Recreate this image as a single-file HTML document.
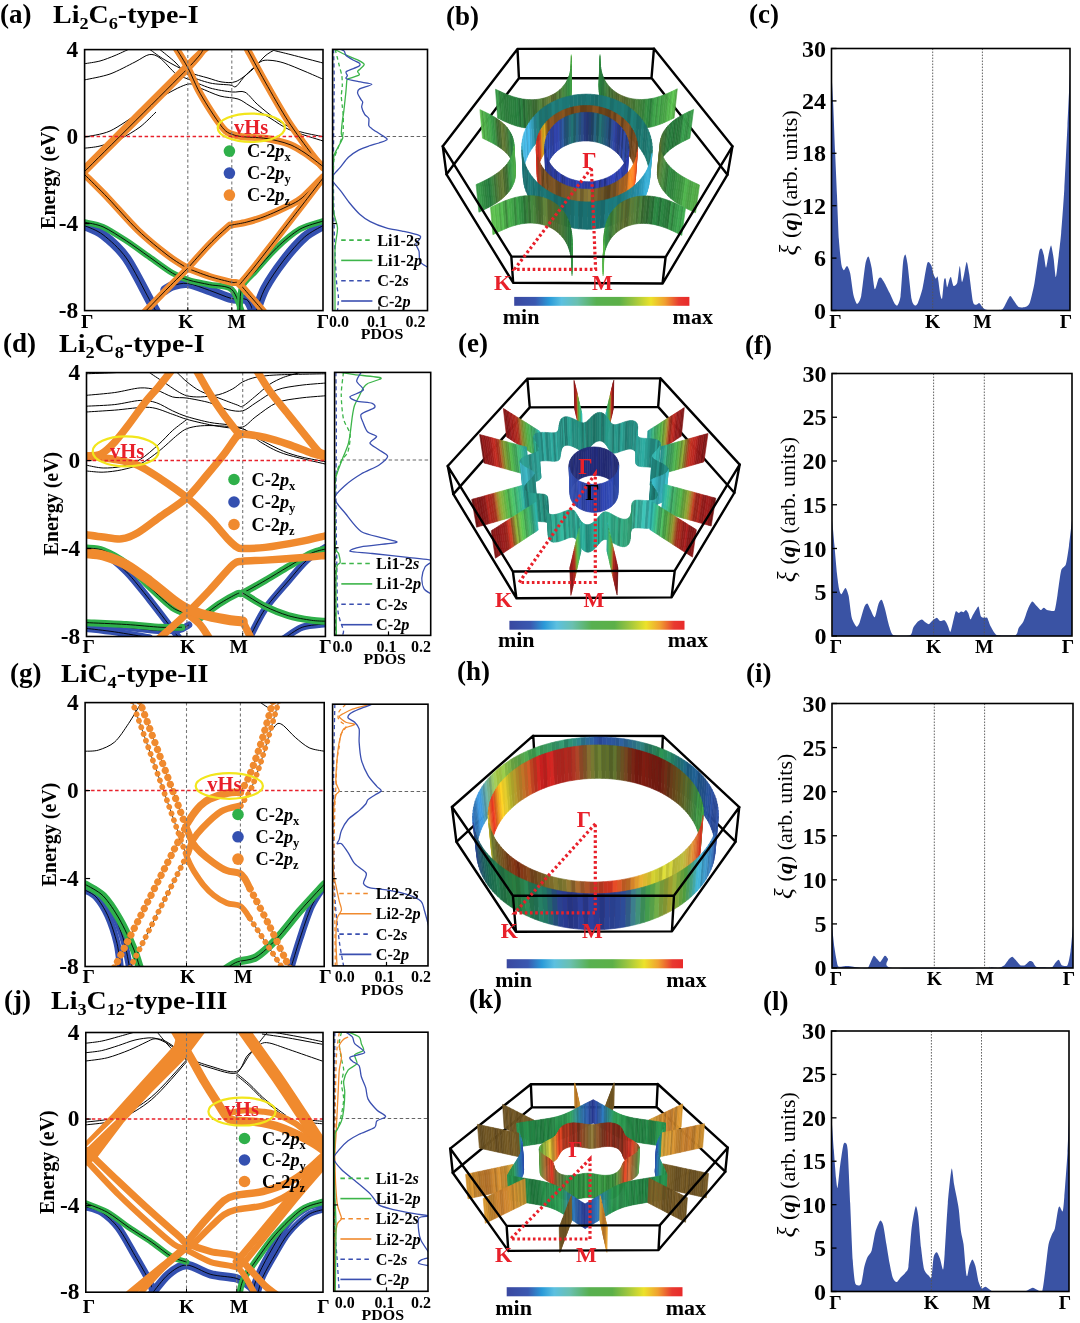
<!DOCTYPE html>
<html><head><meta charset="utf-8"><style>
html,body{margin:0;padding:0;background:#fff;}
svg{display:block;}
text{font-family:'Liberation Serif', 'DejaVu Serif', serif;}
</style></head><body>
<svg width="1080" height="1323" viewBox="0 0 1080 1323">
<rect width="1080" height="1323" fill="#fff"/>
<text x="0" y="23" font-size="27" font-weight="bold" font-style="normal" fill="#000" text-anchor="start" >(a)</text>
<text transform="translate(53,23) scale(1.075,1)" font-size="26" font-weight="bold" font-style="normal" fill="#000" text-anchor="start" ><tspan>Li</tspan><tspan font-size="17" dy="5.5">2</tspan><tspan dy="-5.5">C</tspan><tspan font-size="17" dy="5.5">6</tspan><tspan dy="-5.5">-type-I</tspan></text>
<text x="446" y="24.5" font-size="27" font-weight="bold" font-style="normal" fill="#000" text-anchor="start" >(b)</text>
<text x="749" y="23" font-size="27" font-weight="bold" font-style="normal" fill="#000" text-anchor="start" >(c)</text>
<text x="3" y="352" font-size="27" font-weight="bold" font-style="normal" fill="#000" text-anchor="start" >(d)</text>
<text transform="translate(59,352) scale(1.075,1)" font-size="26" font-weight="bold" font-style="normal" fill="#000" text-anchor="start" ><tspan>Li</tspan><tspan font-size="17" dy="5.5">2</tspan><tspan dy="-5.5">C</tspan><tspan font-size="17" dy="5.5">8</tspan><tspan dy="-5.5">-type-I</tspan></text>
<text x="458" y="352" font-size="27" font-weight="bold" font-style="normal" fill="#000" text-anchor="start" >(e)</text>
<text x="745" y="353.5" font-size="27" font-weight="bold" font-style="normal" fill="#000" text-anchor="start" >(f)</text>
<text x="10" y="682" font-size="27" font-weight="bold" font-style="normal" fill="#000" text-anchor="start" >(g)</text>
<text transform="translate(61,682) scale(1.075,1)" font-size="26" font-weight="bold" font-style="normal" fill="#000" text-anchor="start" ><tspan>LiC</tspan><tspan font-size="17" dy="5.5">4</tspan><tspan dy="-5.5">-type-II</tspan></text>
<text x="457" y="680" font-size="27" font-weight="bold" font-style="normal" fill="#000" text-anchor="start" >(h)</text>
<text x="746" y="682" font-size="27" font-weight="bold" font-style="normal" fill="#000" text-anchor="start" >(i)</text>
<text x="4" y="1009" font-size="27" font-weight="bold" font-style="normal" fill="#000" text-anchor="start" >(j)</text>
<text transform="translate(51,1009) scale(1.075,1)" font-size="26" font-weight="bold" font-style="normal" fill="#000" text-anchor="start" ><tspan>Li</tspan><tspan font-size="17" dy="5.5">3</tspan><tspan dy="-5.5">C</tspan><tspan font-size="17" dy="5.5">12</tspan><tspan dy="-5.5">-type-III</tspan></text>
<text x="469" y="1008" font-size="27" font-weight="bold" font-style="normal" fill="#000" text-anchor="start" >(k)</text>
<text x="763" y="1010" font-size="27" font-weight="bold" font-style="normal" fill="#000" text-anchor="start" >(l)</text>
<path d="M831.5,72.42 C831.7,76.09 832.78,94.72 833.2,103.9 C833.62,113.09 834.65,140.48 835.09,151.13 C835.53,161.79 836.54,184.93 836.98,195.21 C837.42,205.5 838.35,231.21 838.87,239.29 C839.38,247.38 840.8,260.88 841.39,264.48 C841.97,268.08 843.24,269.97 843.9,270.15 C844.57,270.33 846.32,265.69 847.05,266.06 C847.79,266.43 849.47,269.99 850.2,273.3 C850.94,276.61 852.54,290.83 853.35,294.4 C854.16,297.96 856.21,303.66 857.13,303.84 C858.05,304.02 860.27,300.56 861.22,295.97 C862.18,291.38 864.47,269.08 865.31,264.48 C866.16,259.89 867.73,256.24 868.46,256.61 C869.2,256.98 870.88,263.85 871.61,267.63 C872.35,271.42 873.95,287.76 874.76,289.04 C875.57,290.33 877.8,279.97 878.54,278.65 C879.27,277.33 880.32,277.16 881.06,277.71 C881.79,278.26 883.84,281.61 884.84,283.38 C885.83,285.14 888.46,290.54 889.56,292.82 C890.66,295.1 893.36,301.43 894.28,302.9 C895.2,304.37 896.7,306.22 897.43,305.42 C898.17,304.61 899.92,301.04 900.58,295.97 C901.24,290.9 902.55,266.81 903.1,261.96 C903.65,257.12 904.79,254.19 905.3,254.41 C905.82,254.63 906.77,258.64 907.51,263.85 C908.24,269.07 910.75,294.27 911.6,299.12 C912.44,303.97 914.01,304.97 914.75,305.42 C915.48,305.86 916.98,304.92 917.9,302.9 C918.82,300.88 921.52,292.76 922.62,288.1 C923.72,283.43 926.35,265.59 927.34,262.91 C928.33,260.23 930.39,263.75 931.12,265.11 C931.86,266.47 933.09,272.98 933.64,274.56 C934.19,276.14 935.37,278.36 935.84,278.65 C936.32,278.95 937.22,275.24 937.73,277.08 C938.25,278.91 939.74,291.9 940.25,294.4 C940.77,296.89 941.7,300.14 942.14,298.49 C942.58,296.84 943.63,282.54 944.03,280.23 C944.43,277.91 945.24,277.84 945.6,278.65 C945.97,279.46 946.74,287.04 947.18,287.15 C947.62,287.26 948.94,280.77 949.38,279.6 C949.82,278.42 950.48,276.34 950.96,277.08 C951.43,277.81 952.74,285.23 953.48,285.89 C954.21,286.56 956.52,285.06 957.25,282.75 C957.99,280.43 959.22,266.17 959.77,266.06 C960.32,265.95 961.46,280.88 961.98,281.8 C962.49,282.72 963.63,276.24 964.18,273.93 C964.73,271.62 966.11,261.96 966.7,261.96 C967.29,261.96 968.48,269.3 969.22,273.93 C969.95,278.56 972.19,298.04 973,301.64 C973.81,305.24 975.41,304.64 976.15,304.79 C976.88,304.93 978.56,302.64 979.29,302.9 C980.03,303.15 981.64,306.18 982.44,306.99 C983.25,307.8 984.02,309.49 986.22,309.82 C988.43,310.15 999.02,310.63 1001.34,309.82 C1003.65,309.02 1005.03,304.51 1006.06,302.9 C1007.09,301.28 1009.23,296.23 1010.15,295.97 C1011.07,295.71 1012.94,299.41 1013.93,300.69 C1014.92,301.98 1017.37,306.26 1018.65,306.99 C1019.94,307.72 1023.66,307.47 1024.95,306.99 C1026.24,306.51 1028.57,305.65 1029.67,302.9 C1030.77,300.14 1033.29,289.33 1034.4,283.38 C1035.5,277.42 1038.27,255.93 1039.12,251.89 C1039.96,247.85 1041.09,248.37 1041.64,248.74 C1042.19,249.11 1043.33,252.83 1043.84,255.04 C1044.36,257.24 1045.49,267.63 1046.05,267.63 C1046.6,267.63 1047.98,257.61 1048.56,255.04 C1049.15,252.47 1050.5,245.22 1051.08,245.59 C1051.67,245.96 1053.05,254.51 1053.6,258.19 C1054.15,261.86 1055.29,276.71 1055.81,277.08 C1056.32,277.45 1057.39,266.48 1058.01,261.34 C1058.63,256.19 1060.42,241.45 1061.16,233 C1061.89,224.55 1063.57,201.41 1064.31,188.92 C1065.04,176.43 1066.79,139.54 1067.46,125.94 C1068.12,112.35 1069.68,78.66 1069.97,72.42 L1069.97,310.5 L831.5,310.5 Z" fill="#3a53a4" stroke="none"/>
<line x1="932.7" y1="48.5" x2="932.7" y2="310.5" stroke="#555" stroke-width="0.9" stroke-dasharray="1.6,1.4"/>
<line x1="982.4" y1="48.5" x2="982.4" y2="310.5" stroke="#555" stroke-width="0.9" stroke-dasharray="1.6,1.4"/>
<rect x="831.5" y="48.5" width="238.5" height="262" stroke="#000" stroke-width="1.6" fill="none" />
<line x1="831.5" y1="310.5" x2="836.5" y2="310.5" stroke="#000" stroke-width="1.3" />
<text x="826" y="318.5" font-size="24" font-weight="bold" font-style="normal" fill="#000" text-anchor="end" >0</text>
<line x1="831.5" y1="258.1" x2="836.5" y2="258.1" stroke="#000" stroke-width="1.3" />
<text x="826" y="266.1" font-size="24" font-weight="bold" font-style="normal" fill="#000" text-anchor="end" >6</text>
<line x1="831.5" y1="205.7" x2="836.5" y2="205.7" stroke="#000" stroke-width="1.3" />
<text x="826" y="213.7" font-size="24" font-weight="bold" font-style="normal" fill="#000" text-anchor="end" >12</text>
<line x1="831.5" y1="153.3" x2="836.5" y2="153.3" stroke="#000" stroke-width="1.3" />
<text x="826" y="161.3" font-size="24" font-weight="bold" font-style="normal" fill="#000" text-anchor="end" >18</text>
<line x1="831.5" y1="100.9" x2="836.5" y2="100.9" stroke="#000" stroke-width="1.3" />
<text x="826" y="108.9" font-size="24" font-weight="bold" font-style="normal" fill="#000" text-anchor="end" >24</text>
<line x1="831.5" y1="48.5" x2="836.5" y2="48.5" stroke="#000" stroke-width="1.3" />
<text x="826" y="56.5" font-size="24" font-weight="bold" font-style="normal" fill="#000" text-anchor="end" >30</text>
<text x="835.5" y="327.5" font-size="19.5" font-weight="bold" font-style="normal" fill="#000" text-anchor="middle" >&#915;</text>
<text x="932.7" y="327.5" font-size="19.5" font-weight="bold" font-style="normal" fill="#000" text-anchor="middle" >K</text>
<text x="982.4" y="327.5" font-size="19.5" font-weight="bold" font-style="normal" fill="#000" text-anchor="middle" >M</text>
<text x="1066" y="327.5" font-size="19.5" font-weight="bold" font-style="normal" fill="#000" text-anchor="middle" >&#915;</text>
<text transform="translate(797,237.95) rotate(-90)" font-size="21.5" fill="#000" textLength="127.7" lengthAdjust="spacingAndGlyphs">(<tspan font-weight="bold" font-style="italic">q</tspan>) (arb. units)</text>
<text transform="translate(797,250.25) rotate(-90)" font-size="25" font-style="italic" fill="#000" text-anchor="middle">&#958;</text>
<path d="M832.25,520.21 C832.51,523.15 833.91,539.16 834.46,545.4 C835.01,551.65 836.43,568.6 836.98,573.74 C837.53,578.88 838.67,587.1 839.18,589.48 C839.7,591.87 840.65,594.39 841.39,594.21 C842.12,594.02 844.63,587.73 845.48,587.91 C846.32,588.09 847.89,592.29 848.63,595.78 C849.36,599.27 850.86,614.22 851.78,617.82 C852.69,621.42 855.58,626.09 856.5,626.64 C857.42,627.19 858.73,624.86 859.65,622.54 C860.57,620.23 863.45,609.01 864.37,606.8 C865.29,604.6 866.78,603.29 867.52,603.65 C868.25,604.02 869.82,608.37 870.67,609.95 C871.51,611.53 873.84,617.93 874.76,617.19 C875.68,616.46 877.73,605.67 878.54,603.65 C879.35,601.63 880.95,599.32 881.69,599.87 C882.42,600.43 883.92,605.18 884.84,608.38 C885.75,611.57 888.53,624.14 889.56,627.27 C890.59,630.39 891.26,634.22 893.65,635.14 C896.04,636.06 907.75,635.98 910.03,635.14 C912.3,634.29 912.26,629.48 913.17,627.9 C914.09,626.32 916.87,622.59 917.9,621.6 C918.93,620.61 921.07,619.29 921.99,619.4 C922.91,619.51 924.96,621.99 925.77,622.54 C926.58,623.1 928.18,624.3 928.92,624.12 C929.65,623.93 931.15,621.7 932.07,620.97 C932.98,620.24 935.87,617.82 936.79,617.82 C937.71,617.82 939.02,620.68 939.94,620.97 C940.86,621.26 943.74,619.79 944.66,620.34 C945.58,620.89 947.15,624.33 947.81,625.69 C948.47,627.05 949.78,632.17 950.33,631.99 C950.88,631.81 951.91,626.51 952.53,624.12 C953.16,621.73 954.95,612.81 955.68,611.52 C956.41,610.24 958.2,613.1 958.83,613.1 C959.45,613.1 960.48,611.63 961.03,611.52 C961.58,611.41 962.96,612.34 963.55,612.15 C964.14,611.97 965.52,609.84 966.07,609.95 C966.62,610.06 967.76,612 968.27,613.1 C968.79,614.2 969.93,619.21 970.48,619.4 C971.03,619.58 972.26,615.96 973,614.67 C973.73,613.39 976.11,609.29 976.78,608.38 C977.44,607.46 978.19,605.88 978.66,606.8 C979.14,607.72 980.24,614.96 980.87,616.25 C981.49,617.53 983.28,617.64 984.02,617.82 C984.75,618 986.43,616.9 987.17,617.82 C987.9,618.74 989.4,623.86 990.31,625.69 C991.23,627.53 994.12,632.46 995.04,633.56 C995.96,634.67 995.8,634.95 998.19,635.14 C1000.57,635.32 1013.12,635.98 1015.5,635.14 C1017.89,634.29 1017.73,629.48 1018.65,627.9 C1019.57,626.32 1022.27,623.88 1023.38,621.6 C1024.48,619.32 1027.07,610.73 1028.1,608.38 C1029.13,606.02 1031.27,601.82 1032.19,601.45 C1033.11,601.08 1034.98,604.23 1035.97,605.23 C1036.96,606.22 1039.77,609.66 1040.69,609.95 C1041.61,610.24 1043.11,607.75 1043.84,607.75 C1044.58,607.75 1046.07,609.58 1046.99,609.95 C1047.91,610.32 1050.79,610.89 1051.71,610.89 C1052.63,610.89 1054.2,611.71 1054.86,609.95 C1055.52,608.19 1056.65,600.37 1057.38,595.78 C1058.12,591.19 1060.17,574.27 1061.16,570.59 C1062.15,566.92 1064.96,567.23 1065.88,564.29 C1066.8,561.36 1068.32,550.55 1069.03,545.4 C1069.74,540.26 1071.65,523.15 1072,520.21 L1072,636 L832.25,636 Z" fill="#3a53a4" stroke="none"/>
<line x1="933.6" y1="373.5" x2="933.6" y2="636" stroke="#555" stroke-width="0.9" stroke-dasharray="1.6,1.4"/>
<line x1="984.3" y1="373.5" x2="984.3" y2="636" stroke="#555" stroke-width="0.9" stroke-dasharray="1.6,1.4"/>
<rect x="832" y="373.5" width="240" height="262.5" stroke="#000" stroke-width="1.6" fill="none" />
<line x1="832" y1="636" x2="837" y2="636" stroke="#000" stroke-width="1.3" />
<text x="826.5" y="644" font-size="24" font-weight="bold" font-style="normal" fill="#000" text-anchor="end" >0</text>
<line x1="832" y1="592.25" x2="837" y2="592.25" stroke="#000" stroke-width="1.3" />
<text x="826.5" y="600.25" font-size="24" font-weight="bold" font-style="normal" fill="#000" text-anchor="end" >5</text>
<line x1="832" y1="548.5" x2="837" y2="548.5" stroke="#000" stroke-width="1.3" />
<text x="826.5" y="556.5" font-size="24" font-weight="bold" font-style="normal" fill="#000" text-anchor="end" >10</text>
<line x1="832" y1="504.75" x2="837" y2="504.75" stroke="#000" stroke-width="1.3" />
<text x="826.5" y="512.75" font-size="24" font-weight="bold" font-style="normal" fill="#000" text-anchor="end" >15</text>
<line x1="832" y1="461" x2="837" y2="461" stroke="#000" stroke-width="1.3" />
<text x="826.5" y="469" font-size="24" font-weight="bold" font-style="normal" fill="#000" text-anchor="end" >20</text>
<line x1="832" y1="417.25" x2="837" y2="417.25" stroke="#000" stroke-width="1.3" />
<text x="826.5" y="425.25" font-size="24" font-weight="bold" font-style="normal" fill="#000" text-anchor="end" >25</text>
<line x1="832" y1="373.5" x2="837" y2="373.5" stroke="#000" stroke-width="1.3" />
<text x="826.5" y="381.5" font-size="24" font-weight="bold" font-style="normal" fill="#000" text-anchor="end" >30</text>
<text x="836" y="653" font-size="19.5" font-weight="bold" font-style="normal" fill="#000" text-anchor="middle" >&#915;</text>
<text x="933.6" y="653" font-size="19.5" font-weight="bold" font-style="normal" fill="#000" text-anchor="middle" >K</text>
<text x="984.3" y="653" font-size="19.5" font-weight="bold" font-style="normal" fill="#000" text-anchor="middle" >M</text>
<text x="1068" y="653" font-size="19.5" font-weight="bold" font-style="normal" fill="#000" text-anchor="middle" >&#915;</text>
<text transform="translate(794.5,564.6) rotate(-90)" font-size="21.5" fill="#000" textLength="127.7" lengthAdjust="spacingAndGlyphs">(<tspan font-weight="bold" font-style="italic">q</tspan>) (arb. units)</text>
<text transform="translate(794.5,576.9) rotate(-90)" font-size="25" font-style="italic" fill="#000" text-anchor="middle">&#958;</text>
<path d="M832,925.78 C832.29,928.35 833.8,943.23 834.46,947.82 C835.11,952.41 836.87,962.93 837.61,965.14 C838.34,967.34 839.65,966.6 840.76,966.71 C841.86,966.82 845.58,966.08 847.05,966.08 C848.52,966.08 851.88,966.53 853.35,966.71 C854.82,966.9 857.99,967.51 859.65,967.66 C861.3,967.81 866.23,968.66 867.52,968 C868.8,967.34 869.93,963.43 870.67,961.99 C871.4,960.55 873.08,956.06 873.82,955.69 C874.55,955.33 876.23,958.11 876.96,958.84 C877.7,959.58 879.2,962.36 880.11,961.99 C881.03,961.62 883.92,956.06 884.84,955.69 C885.75,955.33 887.07,957.41 887.98,958.84 C888.9,960.28 881.32,966.93 892.71,968 C904.1,969.07 974.39,968.15 985.59,968 C996.8,967.85 988.01,966.79 988.74,966.71 C989.48,966.64 990.79,967.19 991.89,967.34 C992.99,967.49 996.72,968.26 998.19,968 C999.66,967.74 1003.2,966.21 1004.48,965.14 C1005.77,964.07 1008.29,959.83 1009.21,958.84 C1010.12,957.85 1011.62,956.53 1012.36,956.64 C1013.09,956.75 1014.59,958.79 1015.5,959.79 C1016.42,960.78 1019.12,964.51 1020.23,965.14 C1021.33,965.76 1023.85,965.62 1024.95,965.14 C1026.05,964.66 1028.75,961.41 1029.67,961.05 C1030.59,960.68 1032.09,961.33 1032.82,961.99 C1033.56,962.65 1034.87,966.09 1035.97,966.71 C1037.07,967.34 1040.43,967.27 1042.27,967.34 C1044.1,967.42 1050.24,967.78 1051.71,967.34 C1053.18,966.9 1054.05,964.45 1054.86,963.56 C1055.67,962.68 1057.83,959.6 1058.64,959.79 C1059.45,959.97 1060.76,964.51 1061.79,965.14 C1062.82,965.76 1066.43,966.79 1067.46,965.14 C1068.48,963.49 1069.96,955.56 1070.6,950.97 C1071.25,946.38 1072.72,928.72 1073,925.78 L1073,968 L832,968 Z" fill="#3a53a4" stroke="none"/>
<line x1="934.3" y1="703.5" x2="934.3" y2="968" stroke="#555" stroke-width="0.9" stroke-dasharray="1.6,1.4"/>
<line x1="984.6" y1="703.5" x2="984.6" y2="968" stroke="#555" stroke-width="0.9" stroke-dasharray="1.6,1.4"/>
<rect x="832" y="703.5" width="241" height="264.5" stroke="#000" stroke-width="1.6" fill="none" />
<line x1="832" y1="968" x2="837" y2="968" stroke="#000" stroke-width="1.3" />
<text x="826.5" y="976" font-size="24" font-weight="bold" font-style="normal" fill="#000" text-anchor="end" >0</text>
<line x1="832" y1="923.92" x2="837" y2="923.92" stroke="#000" stroke-width="1.3" />
<text x="826.5" y="931.92" font-size="24" font-weight="bold" font-style="normal" fill="#000" text-anchor="end" >5</text>
<line x1="832" y1="879.83" x2="837" y2="879.83" stroke="#000" stroke-width="1.3" />
<text x="826.5" y="887.83" font-size="24" font-weight="bold" font-style="normal" fill="#000" text-anchor="end" >10</text>
<line x1="832" y1="835.75" x2="837" y2="835.75" stroke="#000" stroke-width="1.3" />
<text x="826.5" y="843.75" font-size="24" font-weight="bold" font-style="normal" fill="#000" text-anchor="end" >15</text>
<line x1="832" y1="791.67" x2="837" y2="791.67" stroke="#000" stroke-width="1.3" />
<text x="826.5" y="799.67" font-size="24" font-weight="bold" font-style="normal" fill="#000" text-anchor="end" >20</text>
<line x1="832" y1="747.58" x2="837" y2="747.58" stroke="#000" stroke-width="1.3" />
<text x="826.5" y="755.58" font-size="24" font-weight="bold" font-style="normal" fill="#000" text-anchor="end" >25</text>
<line x1="832" y1="703.5" x2="837" y2="703.5" stroke="#000" stroke-width="1.3" />
<text x="826.5" y="711.5" font-size="24" font-weight="bold" font-style="normal" fill="#000" text-anchor="end" >30</text>
<text x="836" y="985" font-size="19.5" font-weight="bold" font-style="normal" fill="#000" text-anchor="middle" >&#915;</text>
<text x="934.3" y="985" font-size="19.5" font-weight="bold" font-style="normal" fill="#000" text-anchor="middle" >K</text>
<text x="984.6" y="985" font-size="19.5" font-weight="bold" font-style="normal" fill="#000" text-anchor="middle" >M</text>
<text x="1069" y="985" font-size="19.5" font-weight="bold" font-style="normal" fill="#000" text-anchor="middle" >&#915;</text>
<text transform="translate(792.4,881.4) rotate(-90)" font-size="21.5" fill="#000" textLength="127.7" lengthAdjust="spacingAndGlyphs">(<tspan font-weight="bold" font-style="italic">q</tspan>) (arb. units)</text>
<text transform="translate(792.4,893.7) rotate(-90)" font-size="25" font-style="italic" fill="#000" text-anchor="middle">&#958;</text>
<path d="M831.5,1116.82 C831.77,1120.67 833.3,1142.71 833.83,1149.88 C834.36,1157.04 835.59,1173.81 836.03,1178.21 C836.47,1182.62 837.13,1189.13 837.61,1187.66 C838.08,1186.19 839.46,1170.58 840.13,1165.62 C840.79,1160.66 842.65,1147.8 843.27,1145.15 C843.9,1142.51 844.96,1142.4 845.48,1142.95 C845.99,1143.5 847.13,1142.82 847.68,1149.88 C848.23,1156.93 849.61,1190.55 850.2,1203.4 C850.79,1216.26 852.17,1250.89 852.72,1260.08 C853.27,1269.26 854.41,1279.18 854.92,1282.12 C855.44,1285.06 856.39,1285.08 857.13,1285.27 C857.86,1285.45 860.38,1285.9 861.22,1283.69 C862.07,1281.49 863.64,1269.5 864.37,1266.38 C865.1,1263.25 866.67,1258.77 867.52,1256.93 C868.36,1255.09 870.69,1253.57 871.61,1250.63 C872.53,1247.69 874.4,1235.23 875.39,1231.74 C876.38,1228.25 879.2,1221.46 880.11,1220.72 C881.03,1219.99 882.53,1222.69 883.26,1225.44 C884,1228.2 885.68,1239.93 886.41,1244.34 C887.15,1248.74 888.82,1259.37 889.56,1263.23 C890.29,1267.08 891.9,1275.19 892.71,1277.4 C893.52,1279.6 895.57,1282.12 896.49,1282.12 C897.4,1282.12 899.55,1278.5 900.58,1277.4 C901.61,1276.29 904.38,1273.96 905.3,1272.67 C906.22,1271.39 907.72,1271.52 908.45,1266.38 C909.19,1261.23 910.75,1235.57 911.6,1228.59 C912.44,1221.61 914.92,1208.02 915.69,1206.55 C916.46,1205.08 917.59,1211.22 918.21,1216 C918.84,1220.77 920.35,1241.24 921.05,1247.48 C921.74,1253.73 923.28,1266.22 924.19,1269.52 C925.11,1272.83 928.07,1274.9 928.92,1275.82 C929.76,1276.74 930.88,1279.6 931.44,1277.4 C931.99,1275.19 933.02,1259.87 933.64,1256.93 C934.26,1253.99 936.05,1252.02 936.79,1252.21 C937.52,1252.39 939.2,1256.48 939.94,1258.5 C940.67,1260.52 942.53,1270.07 943.09,1269.52 C943.64,1268.97 944.11,1261.49 944.66,1253.78 C945.21,1246.07 947,1213.32 947.81,1203.4 C948.62,1193.48 950.85,1170.97 951.59,1168.77 C952.32,1166.56 953.52,1181.21 954.11,1184.51 C954.69,1187.82 956.07,1194.17 956.62,1197.11 C957.18,1200.04 958.31,1205.66 958.83,1209.7 C959.34,1213.74 960.48,1227.7 961.03,1231.74 C961.58,1235.78 962.96,1239.56 963.55,1244.34 C964.14,1249.11 965.63,1269 966.07,1272.67 C966.51,1276.35 966.96,1276.56 967.33,1275.82 C967.7,1275.09 968.63,1268.29 969.22,1266.38 C969.81,1264.47 971.63,1259.45 972.37,1259.45 C973.1,1259.45 974.78,1263.73 975.52,1266.38 C976.25,1269.02 977.93,1279.55 978.66,1282.12 C979.4,1284.69 981.01,1287.86 981.81,1288.42 C982.62,1288.97 984.6,1286.66 985.59,1286.84 C986.58,1287.02 989.21,1289.45 990.31,1289.99 C991.42,1290.53 991.18,1291.32 995.04,1291.5 C998.89,1291.68 1019.33,1291.79 1023.38,1291.5 C1027.42,1291.21 1028.57,1289.48 1029.67,1289.05 C1030.77,1288.61 1031.9,1287.68 1032.82,1287.79 C1033.74,1287.9 1036.44,1289.62 1037.54,1289.99 C1038.65,1290.36 1041.35,1293.32 1042.27,1290.93 C1043.19,1288.55 1044.68,1274.96 1045.42,1269.52 C1046.15,1264.09 1047.83,1248.38 1048.56,1244.34 C1049.3,1240.29 1050.98,1236.73 1051.71,1234.89 C1052.45,1233.05 1054.13,1231.53 1054.86,1228.59 C1055.6,1225.65 1057.46,1212.27 1058.01,1209.7 C1058.56,1207.13 1059.03,1206.37 1059.58,1206.55 C1060.14,1206.74 1062.18,1212.38 1062.73,1211.27 C1063.28,1210.17 1063.76,1203.9 1064.31,1197.11 C1064.86,1190.31 1066.91,1162.39 1067.46,1153.03 C1068,1143.66 1068.82,1121.04 1069,1116.82 L1069,1291.5 L831.5,1291.5 Z" fill="#3a53a4" stroke="none"/>
<line x1="931.4" y1="1031" x2="931.4" y2="1291.5" stroke="#555" stroke-width="0.9" stroke-dasharray="1.6,1.4"/>
<line x1="981.5" y1="1031" x2="981.5" y2="1291.5" stroke="#555" stroke-width="0.9" stroke-dasharray="1.6,1.4"/>
<rect x="831.5" y="1031" width="237.5" height="260.5" stroke="#000" stroke-width="1.6" fill="none" />
<line x1="831.5" y1="1291.5" x2="836.5" y2="1291.5" stroke="#000" stroke-width="1.3" />
<text x="826" y="1299.5" font-size="24" font-weight="bold" font-style="normal" fill="#000" text-anchor="end" >0</text>
<line x1="831.5" y1="1248.08" x2="836.5" y2="1248.08" stroke="#000" stroke-width="1.3" />
<text x="826" y="1256.08" font-size="24" font-weight="bold" font-style="normal" fill="#000" text-anchor="end" >5</text>
<line x1="831.5" y1="1204.67" x2="836.5" y2="1204.67" stroke="#000" stroke-width="1.3" />
<text x="826" y="1212.67" font-size="24" font-weight="bold" font-style="normal" fill="#000" text-anchor="end" >10</text>
<line x1="831.5" y1="1161.25" x2="836.5" y2="1161.25" stroke="#000" stroke-width="1.3" />
<text x="826" y="1169.25" font-size="24" font-weight="bold" font-style="normal" fill="#000" text-anchor="end" >15</text>
<line x1="831.5" y1="1117.83" x2="836.5" y2="1117.83" stroke="#000" stroke-width="1.3" />
<text x="826" y="1125.83" font-size="24" font-weight="bold" font-style="normal" fill="#000" text-anchor="end" >20</text>
<line x1="831.5" y1="1074.42" x2="836.5" y2="1074.42" stroke="#000" stroke-width="1.3" />
<text x="826" y="1082.42" font-size="24" font-weight="bold" font-style="normal" fill="#000" text-anchor="end" >25</text>
<line x1="831.5" y1="1031" x2="836.5" y2="1031" stroke="#000" stroke-width="1.3" />
<text x="826" y="1039" font-size="24" font-weight="bold" font-style="normal" fill="#000" text-anchor="end" >30</text>
<text x="835.5" y="1308.5" font-size="19.5" font-weight="bold" font-style="normal" fill="#000" text-anchor="middle" >&#915;</text>
<text x="931.4" y="1308.5" font-size="19.5" font-weight="bold" font-style="normal" fill="#000" text-anchor="middle" >K</text>
<text x="981.5" y="1308.5" font-size="19.5" font-weight="bold" font-style="normal" fill="#000" text-anchor="middle" >M</text>
<text x="1065" y="1308.5" font-size="19.5" font-weight="bold" font-style="normal" fill="#000" text-anchor="middle" >&#915;</text>
<text transform="translate(795.2,1219.9) rotate(-90)" font-size="21.5" fill="#000" textLength="127.7" lengthAdjust="spacingAndGlyphs">(<tspan font-weight="bold" font-style="italic">q</tspan>) (arb. units)</text>
<text transform="translate(795.2,1232.2) rotate(-90)" font-size="25" font-style="italic" fill="#000" text-anchor="middle">&#958;</text>
<clipPath id="c1"><rect x="84.6" y="49.6" width="238.4" height="261"/></clipPath>
<g clip-path="url(#c1)">
<path d="M84.6,63.7 C86.91,63.3 95.44,62.23 100,61 C104.56,59.77 110.8,57.21 115,55.5 C119.2,53.79 126.05,50.48 128,49.6" fill="none" stroke="#000" stroke-width="1.0" stroke-linejoin="round"/>
<path d="M84.6,79.9 C88.41,79.02 102.44,76.69 110,74 C117.56,71.31 129.12,64.91 135,62 C140.88,59.09 145.45,55.2 149.2,54.6 C152.95,54 155.98,55.1 160,58 C164.02,60.9 171.8,70.75 176,73.9 C180.2,77.05 182.9,76.89 188,79 C193.1,81.11 203.4,86.05 210,88 C216.6,89.95 226.75,91.37 232,92 C237.25,92.63 241.13,90.3 245,92.2 C248.87,94.11 252.97,100.53 257.8,104.7 C262.63,108.87 271.17,116.06 277.2,120 C283.23,123.94 291.13,128.5 298,131 C304.87,133.5 319.25,135.84 323,136.7" fill="none" stroke="#000" stroke-width="1.0" stroke-linejoin="round"/>
<path d="M84.6,137 C88.41,136.1 101.69,134.75 110,131 C118.31,127.25 131.75,117.4 140,112 C148.25,106.6 157.8,99.19 165,95 C172.2,90.81 182.75,85.15 188,84.1 C193.25,83.05 195.2,86.22 200,88 C204.8,89.78 214.3,94.35 220,96 C225.7,97.65 233.5,97.5 238,99 C242.5,100.5 245.2,103.15 250,106 C254.8,108.85 264,114.4 270,118 C276,121.6 282.05,126.55 290,130 C297.95,133.45 318.05,139.35 323,141" fill="none" stroke="#000" stroke-width="1.0" stroke-linejoin="round"/>
<path d="M84.6,148.2 C86.91,147.87 94.69,147.38 100,146 C105.31,144.62 114,141.85 120,139 C126,136.15 134.6,131.05 140,127 C145.4,122.95 153.6,114.25 156,112" fill="none" stroke="#000" stroke-width="1.0" stroke-linejoin="round"/>
<path d="M150,49.6 C152.25,51.16 159.3,56.64 165,60 C170.7,63.36 181.55,69.3 188,72 C194.45,74.7 202.9,76.5 208,78 C213.1,79.5 217.8,81.47 222,82 C226.2,82.53 231.5,83.3 236,81.5 C240.5,79.7 247.65,73.83 252,70 C256.35,66.17 261.55,59.06 265,56 C268.45,52.94 273.5,50.56 275,49.6" fill="none" stroke="#000" stroke-width="1.0" stroke-linejoin="round"/>
<path d="M160,49.6 C162.25,51.46 170.8,58.19 175,62 C179.2,65.81 182.75,71.85 188,75 C193.25,78.15 203.7,81.5 210,83 C216.3,84.5 226.1,84.47 230,85 C233.9,85.53 233.75,87.85 236,86.5 C238.25,85.15 241.4,79.67 245,76 C248.6,72.33 256.25,64.36 260,62 C263.75,59.64 266.4,60.15 270,60.3 C273.6,60.45 278.75,61.34 284,63 C289.25,64.67 299.15,68.97 305,71.4 C310.85,73.83 320.3,78.03 323,79.2" fill="none" stroke="#000" stroke-width="1.0" stroke-linejoin="round"/>
<path d="M274.4,50.6 C276.89,51.22 283.71,52.84 291,54.7 C298.29,56.56 318.2,61.76 323,63" fill="none" stroke="#000" stroke-width="1.0" stroke-linejoin="round"/>
<path d="M84.6,225.6 C87.38,226.98 96.84,229.94 103.1,234.8 C109.35,239.66 119.35,248.28 126.3,258 C133.25,267.72 144.88,291.5 149.4,299.6 C153.92,307.7 155.35,310.14 156.4,312" fill="none" stroke="#3450b0" stroke-width="9.5" stroke-linecap="round" stroke-linejoin="round"/>
<path d="M84.6,225.6 C87.38,226.98 96.84,229.94 103.1,234.8 C109.35,239.66 119.35,248.28 126.3,258 C133.25,267.72 144.88,291.5 149.4,299.6 C153.92,307.7 155.35,310.14 156.4,312" fill="none" stroke="#000" stroke-width="0.9" stroke-linejoin="round"/>
<path d="M165,290 C166.14,289.36 169.21,286.69 172.6,285.7 C175.99,284.71 182.05,282.69 187.6,283.4 C193.15,284.1 203,288.13 209.6,290.4 C216.2,292.66 226.03,297.12 231.6,298.5 C237.16,299.88 243.4,297.58 246.7,299.6 C250,301.62 252.56,310.14 253.6,312" fill="none" stroke="#3450b0" stroke-width="9.5" stroke-linecap="round" stroke-linejoin="round"/>
<path d="M165,290 C166.14,289.36 169.21,286.69 172.6,285.7 C175.99,284.71 182.05,282.69 187.6,283.4 C193.15,284.1 203,288.13 209.6,290.4 C216.2,292.66 226.03,297.12 231.6,298.5 C237.16,299.88 243.4,297.58 246.7,299.6 C250,301.62 252.56,310.14 253.6,312" fill="none" stroke="#000" stroke-width="0.9" stroke-linejoin="round"/>
<path d="M323,225.6 C320.23,227.32 310.39,231.89 304.5,237.1 C298.61,242.31 289.59,252.67 283.7,260.3 C277.81,267.94 269.37,280.25 265.2,288 C261.03,295.75 257.3,308.4 255.9,312" fill="none" stroke="#3450b0" stroke-width="9.5" stroke-linecap="round" stroke-linejoin="round"/>
<path d="M323,225.6 C320.23,227.32 310.39,231.89 304.5,237.1 C298.61,242.31 289.59,252.67 283.7,260.3 C277.81,267.94 269.37,280.25 265.2,288 C261.03,295.75 257.3,308.4 255.9,312" fill="none" stroke="#000" stroke-width="0.9" stroke-linejoin="round"/>
<path d="M84.6,222.2 C87.38,222.91 96.84,224.11 103.1,226.9 C109.35,229.69 119.35,236.29 126.3,240.8 C133.25,245.31 142.46,252.14 149.4,257 C156.34,261.86 166.69,269.74 172.6,273.2 C178.51,276.66 183.25,278.38 188.8,280.1 C194.35,281.83 203.18,283.31 209.6,284.7 C216.02,286.09 226.74,285.3 231.6,289.4 C236.46,293.5 240.44,308.61 242,312" fill="none" stroke="#2fb04a" stroke-width="6" stroke-linecap="round" stroke-linejoin="round"/>
<path d="M84.6,222.2 C87.38,222.91 96.84,224.11 103.1,226.9 C109.35,229.69 119.35,236.29 126.3,240.8 C133.25,245.31 142.46,252.14 149.4,257 C156.34,261.86 166.69,269.74 172.6,273.2 C178.51,276.66 183.25,278.38 188.8,280.1 C194.35,281.83 203.18,283.31 209.6,284.7 C216.02,286.09 226.74,285.3 231.6,289.4 C236.46,293.5 240.44,308.61 242,312" fill="none" stroke="#000" stroke-width="0.9" stroke-linejoin="round"/>
<path d="M323,221.1 C319.53,222.31 306.83,225.21 299.9,229.2 C292.97,233.19 283.4,241.46 276.8,247.7 C270.2,253.94 261.12,264.91 255.9,270.8 C250.68,276.69 244.43,280.82 242,287 C239.57,293.18 240.04,308.25 239.7,312" fill="none" stroke="#2fb04a" stroke-width="6" stroke-linecap="round" stroke-linejoin="round"/>
<path d="M323,221.1 C319.53,222.31 306.83,225.21 299.9,229.2 C292.97,233.19 283.4,241.46 276.8,247.7 C270.2,253.94 261.12,264.91 255.9,270.8 C250.68,276.69 244.43,280.82 242,287 C239.57,293.18 240.04,308.25 239.7,312" fill="none" stroke="#000" stroke-width="0.9" stroke-linejoin="round"/>
<path d="M84.6,168.5 C100.05,153.05 169.36,83.58 187.6,65.5 C205.84,47.42 203.41,50.62 206.2,48" fill="none" stroke="#f08a2e" stroke-width="7" stroke-linecap="round" stroke-linejoin="round"/>
<path d="M84.6,168.5 C100.05,153.05 169.36,83.58 187.6,65.5 C205.84,47.42 203.41,50.62 206.2,48" fill="none" stroke="#000" stroke-width="0.9" stroke-linejoin="round"/>
<path d="M84.6,171.5 C100.05,156.05 169.69,87.03 187.6,68.5 C205.51,49.98 201.54,51.08 204,48" fill="none" stroke="#f08a2e" stroke-width="7" stroke-linecap="round" stroke-linejoin="round"/>
<path d="M84.6,171.5 C100.05,156.05 169.69,87.03 187.6,68.5 C205.51,49.98 201.54,51.08 204,48" fill="none" stroke="#000" stroke-width="0.9" stroke-linejoin="round"/>
<path d="M84.6,174.6 C88.08,178.08 99.8,189.46 107.8,197.8 C115.8,206.14 128.87,221.53 137.9,230.2 C146.93,238.87 160.55,249.87 168,255.6 C175.45,261.33 184.66,266.48 187.6,268.4" fill="none" stroke="#f08a2e" stroke-width="7" stroke-linecap="round" stroke-linejoin="round"/>
<path d="M84.6,174.6 C88.08,178.08 99.8,189.46 107.8,197.8 C115.8,206.14 128.87,221.53 137.9,230.2 C146.93,238.87 160.55,249.87 168,255.6 C175.45,261.33 184.66,266.48 187.6,268.4" fill="none" stroke="#000" stroke-width="0.9" stroke-linejoin="round"/>
<path d="M187.6,268.4 C190.9,269.62 203,274.42 209.6,276.5 C216.2,278.58 227.25,281.26 231.6,282.3 C235.95,283.34 235.64,281.15 238.6,283.4 C241.56,285.65 247.49,293.01 251.3,297.3 C255.11,301.59 262.1,309.8 264,312" fill="none" stroke="#f08a2e" stroke-width="7" stroke-linecap="round" stroke-linejoin="round"/>
<path d="M187.6,268.4 C190.9,269.62 203,274.42 209.6,276.5 C216.2,278.58 227.25,281.26 231.6,282.3 C235.95,283.34 235.64,281.15 238.6,283.4 C241.56,285.65 247.49,293.01 251.3,297.3 C255.11,301.59 262.1,309.8 264,312" fill="none" stroke="#000" stroke-width="0.9" stroke-linejoin="round"/>
<path d="M187.6,268.4 C190.9,264.75 203.53,250.35 209.6,244.1 C215.67,237.84 224.8,229.55 228.1,226.7 C231.4,223.85 228.81,225.79 231.6,225.1 C234.39,224.41 241.66,223.42 246.7,222.1 C251.74,220.78 258.96,218.73 265.2,216.3 C271.44,213.87 282.75,208.68 288.3,205.9 C293.85,203.12 297,202.14 302.2,197.8 C307.4,193.47 319.88,180.12 323,177" fill="none" stroke="#f08a2e" stroke-width="7" stroke-linecap="round" stroke-linejoin="round"/>
<path d="M187.6,268.4 C190.9,264.75 203.53,250.35 209.6,244.1 C215.67,237.84 224.8,229.55 228.1,226.7 C231.4,223.85 228.81,225.79 231.6,225.1 C234.39,224.41 241.66,223.42 246.7,222.1 C251.74,220.78 258.96,218.73 265.2,216.3 C271.44,213.87 282.75,208.68 288.3,205.9 C293.85,203.12 297,202.14 302.2,197.8 C307.4,193.47 319.88,180.12 323,177" fill="none" stroke="#000" stroke-width="0.9" stroke-linejoin="round"/>
<path d="M246.7,48 C249.47,53.1 258.96,70.99 265.2,82 C271.44,93.01 281.36,110.63 288.3,121.4 C295.25,132.17 306.3,146.86 311.5,153.8 C316.7,160.75 321.27,165.61 323,167.7" fill="none" stroke="#f08a2e" stroke-width="7" stroke-linecap="round" stroke-linejoin="round"/>
<path d="M246.7,48 C249.47,53.1 258.96,70.99 265.2,82 C271.44,93.01 281.36,110.63 288.3,121.4 C295.25,132.17 306.3,146.86 311.5,153.8 C316.7,160.75 321.27,165.61 323,167.7" fill="none" stroke="#000" stroke-width="0.9" stroke-linejoin="round"/>
<path d="M176,48 C177.84,51.09 185,62.39 188.3,68.6 C191.6,74.81 195.07,83.78 198,89.4 C200.93,95.03 204.67,101.09 207.8,106.1 C210.94,111.11 216.2,119.05 218.9,122.8 C221.6,126.55 223.72,129.33 225.8,131.1 C227.89,132.87 230.3,133.76 232.8,134.6 C235.31,135.44 237.93,136.17 242.5,136.7 C247.07,137.22 258.1,137.48 263.3,138.1 C268.5,138.72 273.05,139.77 277.2,140.8 C281.35,141.84 286.83,143.17 291,145 C295.17,146.83 300.2,149.78 305,153 C309.8,156.22 320.3,164.47 323,166.5" fill="none" stroke="#f08a2e" stroke-width="7" stroke-linecap="round" stroke-linejoin="round"/>
<path d="M176,48 C177.84,51.09 185,62.39 188.3,68.6 C191.6,74.81 195.07,83.78 198,89.4 C200.93,95.03 204.67,101.09 207.8,106.1 C210.94,111.11 216.2,119.05 218.9,122.8 C221.6,126.55 223.72,129.33 225.8,131.1 C227.89,132.87 230.3,133.76 232.8,134.6 C235.31,135.44 237.93,136.17 242.5,136.7 C247.07,137.22 258.1,137.48 263.3,138.1 C268.5,138.72 273.05,139.77 277.2,140.8 C281.35,141.84 286.83,143.17 291,145 C295.17,146.83 300.2,149.78 305,153 C309.8,156.22 320.3,164.47 323,166.5" fill="none" stroke="#000" stroke-width="0.9" stroke-linejoin="round"/>
<path d="M323,178.1 C317.8,184.86 298.37,210.18 288.3,223.2 C278.24,236.22 263.19,255.69 255.9,264.9 C248.61,274.11 242.13,281.65 239.7,284.6" fill="none" stroke="#f08a2e" stroke-width="7" stroke-linecap="round" stroke-linejoin="round"/>
<path d="M323,178.1 C317.8,184.86 298.37,210.18 288.3,223.2 C278.24,236.22 263.19,255.69 255.9,264.9 C248.61,274.11 242.13,281.65 239.7,284.6" fill="none" stroke="#000" stroke-width="0.9" stroke-linejoin="round"/>
<path d="M187.6,268.4 C184.66,271.34 174.42,281.46 168,288 C161.58,294.54 148.28,308.4 144.8,312" fill="none" stroke="#f08a2e" stroke-width="7" stroke-linecap="round" stroke-linejoin="round"/>
<path d="M187.6,268.4 C184.66,271.34 174.42,281.46 168,288 C161.58,294.54 148.28,308.4 144.8,312" fill="none" stroke="#000" stroke-width="0.9" stroke-linejoin="round"/>
<line x1="187.8" y1="49.6" x2="187.8" y2="310.6" stroke="#777" stroke-width="1.1" stroke-dasharray="3,2.5"/>
<line x1="231.8" y1="49.6" x2="231.8" y2="310.6" stroke="#777" stroke-width="1.1" stroke-dasharray="3,2.5"/>
<line x1="84.6" y1="136.6" x2="323" y2="136.6" stroke="#e8202a" stroke-width="1.5" stroke-dasharray="3.5,2.5"/>
</g>
<rect x="84.6" y="49.6" width="238.4" height="261" stroke="#000" stroke-width="1.6" fill="none" />
<text x="78.3" y="56.8" font-size="23.4" font-weight="bold" font-style="normal" fill="#000" text-anchor="end" >4</text>
<text x="78.3" y="143.8" font-size="23.4" font-weight="bold" font-style="normal" fill="#000" text-anchor="end" >0</text>
<line x1="84.6" y1="136.6" x2="89.6" y2="136.6" stroke="#000" stroke-width="1.2" />
<text x="78.3" y="230.8" font-size="23.4" font-weight="bold" font-style="normal" fill="#000" text-anchor="end" >-4</text>
<line x1="84.6" y1="223.6" x2="89.6" y2="223.6" stroke="#000" stroke-width="1.2" />
<text x="78.3" y="317.8" font-size="23.4" font-weight="bold" font-style="normal" fill="#000" text-anchor="end" >-8</text>
<text x="87.2" y="328" font-size="19.5" font-weight="bold" font-style="normal" fill="#000" text-anchor="middle" >&#915;</text>
<text x="185.9" y="328" font-size="19.5" font-weight="bold" font-style="normal" fill="#000" text-anchor="middle" >K</text>
<text x="236.8" y="328" font-size="19.5" font-weight="bold" font-style="normal" fill="#000" text-anchor="middle" >M</text>
<text x="323" y="328" font-size="19.5" font-weight="bold" font-style="normal" fill="#000" text-anchor="middle" >&#915;</text>
<line x1="187.8" y1="310.6" x2="187.8" y2="307.1" stroke="#000" stroke-width="1" />
<line x1="231.8" y1="310.6" x2="231.8" y2="307.1" stroke="#000" stroke-width="1" />
<text transform="translate(54.9,177) rotate(-90) scale(1,1.05)" text-anchor="middle" font-size="20" font-weight="bold" fill="#000">Energy (eV)</text>
<circle cx="229.4" cy="151.1" r="5.8" fill="#2fb04a"/>
<text x="246.9" y="157.4" font-size="18.3" font-weight="bold" font-style="normal" fill="#000" text-anchor="start" >C-2<tspan font-style="italic">p</tspan><tspan font-size="12.5" dy="4">x</tspan></text>
<circle cx="229.4" cy="173.1" r="5.8" fill="#3450b0"/>
<text x="246.9" y="179.4" font-size="18.3" font-weight="bold" font-style="normal" fill="#000" text-anchor="start" >C-2<tspan font-style="italic">p</tspan><tspan font-size="12.5" dy="4">y</tspan></text>
<circle cx="229.4" cy="195.1" r="5.8" fill="#f08a2e"/>
<text x="246.9" y="201.4" font-size="18.3" font-weight="bold" font-style="normal" fill="#000" text-anchor="start" >C-2<tspan font-style="italic">p</tspan><tspan font-size="12.5" dy="4">z</tspan></text>
<ellipse cx="251.3" cy="127.8" rx="33.6" ry="14.2" fill="none" stroke="#f2e61c" stroke-width="2.2"/>
<text x="234" y="134.1" font-size="20.5" font-weight="bold" font-style="normal" fill="#e8202a" text-anchor="start" >vHs</text>
<clipPath id="p49"><rect x="332.6" y="49.4" width="94.9" height="261.2"/></clipPath>
<g clip-path="url(#p49)">
<line x1="332.6" y1="136.47" x2="427.5" y2="136.47" stroke="#666" stroke-width="1.1" stroke-dasharray="3.5,2.5"/>
<path d="M333.6,49.4 C333.68,53.48 334.17,70.59 334.2,80 C334.23,89.41 333.91,106.67 333.8,120 C333.69,133.33 333.31,164 333.4,180 C333.49,196 334.09,226.53 334.5,240 C334.91,253.47 335.98,273.4 336.5,281 C337.02,288.6 338.27,293 338.4,297 C338.53,301 337.62,309.13 337.5,311" fill="none" stroke="#3a4fb0" stroke-width="1.3" stroke-dasharray="4,3"/>
<path d="M335.1,49.1 C335.38,50.18 336.65,55.03 337.2,57.2 C337.75,59.37 338.59,62.95 339.2,65.4 C339.81,67.85 341.39,72.88 341.8,75.6 C342.21,78.32 342.37,83.08 342.3,85.8 C342.23,88.52 341.3,93.28 341.3,96 C341.3,98.72 342.03,103.48 342.3,106.2 C342.57,108.92 343.17,113.68 343.3,116.4 C343.43,119.12 343.37,124.15 343.3,126.6 C343.23,129.05 343.51,131.95 342.8,134.8 C342.09,137.65 339.17,144.64 338,148 C336.83,151.36 334.61,155.73 334,160 C333.39,164.27 333.48,177.33 333.4,180" fill="none" stroke="#3db54a" stroke-width="1.3" stroke-dasharray="4,3"/>
<path d="M334.1,49.1 C335.74,49.91 343.13,53.71 346.4,55.2 C349.67,56.69 356.23,59.07 358.6,60.3 C360.97,61.53 363.92,63.31 364.2,64.4 C364.48,65.49 361.58,67.55 360.7,68.5 C359.82,69.45 357.81,70.62 357.6,71.5 C357.39,72.38 360.33,74.14 359.1,75.1 C357.87,76.06 350.03,78.02 348.4,78.7 C346.77,79.38 347.17,79.25 346.9,80.2 C346.63,81.15 346.53,84.24 346.4,85.8 C346.27,87.36 346.11,89.73 345.9,91.9 C345.69,94.07 345.08,99.51 344.8,102.1 C344.52,104.69 344.13,108.71 343.8,111.3 C343.47,113.89 342.63,118.5 342.3,121.5 C341.97,124.5 341.23,131.61 341.3,133.8 C341.37,135.99 343.21,136.14 342.8,137.9 C342.39,139.66 339.36,144.69 338.2,147 C337.04,149.31 334.81,152.13 334.1,155.2 C333.39,158.27 332.98,162.69 332.9,170 C332.82,177.31 332.89,202.27 333.5,210 C334.11,217.73 337.3,222.67 337.5,228 C337.7,233.33 335.33,240.4 335,250 C334.67,259.6 335,291.87 335,300 C335,308.13 335,309.53 335,311" fill="none" stroke="#3db54a" stroke-width="1.3"/>
<path d="M340.2,49.1 C340.75,49.37 343.54,50.29 344.3,51.1 C345.06,51.91 344.67,53.97 345.9,55.2 C347.13,56.43 351.67,59.21 353.5,60.3 C355.33,61.39 358.92,62.59 359.6,63.4 C360.28,64.21 360.36,65.32 358.6,66.4 C356.84,67.48 347.89,70.27 346.4,71.5 C344.91,72.73 347.4,74.64 347.4,75.6 C347.4,76.56 344.91,77.89 346.4,78.7 C347.89,79.51 355.2,80.95 358.6,81.7 C362,82.45 371.77,83.34 371.9,84.3 C372.03,85.26 361.51,87.74 359.6,88.9 C357.69,90.06 357.45,91.64 357.6,93 C357.75,94.36 360.02,97.89 360.7,99.1 C361.38,100.31 362.57,101.02 362.7,102.1 C362.83,103.18 361.43,105.56 361.7,107.2 C361.97,108.84 363.75,112.89 364.7,114.4 C365.65,115.91 368.25,117.01 368.8,118.5 C369.35,119.99 368.39,124.24 368.8,125.6 C369.21,126.96 370.26,127.47 371.9,128.7 C373.54,129.93 379.06,133.37 381.1,134.8 C383.14,136.23 387.48,138.31 387.2,139.4 C386.92,140.49 381.45,142.12 379,143 C376.55,143.88 371.52,145.05 368.8,146 C366.08,146.95 361.32,148.61 358.6,150.1 C355.88,151.59 350.85,154.89 348.4,157.2 C345.95,159.51 342.31,164.89 340.2,167.4 C338.09,169.91 333.59,174.15 332.6,176 C331.61,177.85 331.72,179.31 332.8,181.3 C333.88,183.29 338.51,188.07 340.7,190.9 C342.89,193.73 346.67,199.39 349.2,202.5 C351.73,205.61 356.89,211.65 359.7,214.2 C362.51,216.75 366.77,219.77 370.3,221.6 C373.83,223.43 381.96,226.63 386.2,227.9 C390.44,229.17 397.73,230.11 402.1,231.1 C406.47,232.09 416.6,234.31 419,235.3 C421.4,236.29 420.53,237.37 420.1,238.5 C419.67,239.63 415.95,242.11 415.8,243.8 C415.65,245.49 418.43,248.8 419,251.2 C419.57,253.6 418.97,259.68 420.1,261.8 C421.23,263.92 425.91,266.01 427.5,267.1 C429.09,268.19 431.4,269.61 432,270" fill="none" stroke="#3a4fb0" stroke-width="1.3"/>
</g>
<rect x="332.6" y="49.4" width="94.9" height="261.2" stroke="#000" stroke-width="1.6" fill="none" />
<line x1="332.6" y1="223.53" x2="336.6" y2="223.53" stroke="#000" stroke-width="1.2" />
<line x1="341.2" y1="240.1" x2="372.4" y2="240.1" stroke="#3db54a" stroke-width="1.6" stroke-dasharray="4.5,3.5"/>
<text x="377.2" y="245.6" font-size="16.2" font-weight="bold" font-style="normal" fill="#000" text-anchor="start" >Li1-2<tspan font-style="italic">s</tspan></text>
<line x1="341.2" y1="260.4" x2="372.4" y2="260.4" stroke="#3db54a" stroke-width="1.6"/>
<text x="377.2" y="265.9" font-size="16.2" font-weight="bold" font-style="normal" fill="#000" text-anchor="start" >Li1-2<tspan font-style="italic">p</tspan></text>
<line x1="341.2" y1="280.7" x2="372.4" y2="280.7" stroke="#3a4fb0" stroke-width="1.6" stroke-dasharray="4.5,3.5"/>
<text x="377.2" y="286.2" font-size="16.2" font-weight="bold" font-style="normal" fill="#000" text-anchor="start" >C-2<tspan font-style="italic">s</tspan></text>
<line x1="341.2" y1="301" x2="372.4" y2="301" stroke="#3a4fb0" stroke-width="1.6"/>
<text x="377.2" y="306.5" font-size="16.2" font-weight="bold" font-style="normal" fill="#000" text-anchor="start" >C-2<tspan font-style="italic">p</tspan></text>
<text x="339" y="326.9" font-size="16" font-weight="bold" font-style="normal" fill="#000" text-anchor="middle" >0.0</text>
<text x="377" y="326.9" font-size="16" font-weight="bold" font-style="normal" fill="#000" text-anchor="middle" >0.1</text>
<text x="415.5" y="326.9" font-size="16" font-weight="bold" font-style="normal" fill="#000" text-anchor="middle" >0.2</text>
<text transform="translate(382.05,339.4) scale(1.05,1)" font-size="15.2" font-weight="bold" font-style="normal" fill="#000" text-anchor="middle" >PDOS</text>
<line x1="379" y1="310.6" x2="379" y2="306.6" stroke="#000" stroke-width="1.2" />
<clipPath id="c2"><rect x="86.5" y="372.6" width="238.9" height="263.9"/></clipPath>
<g clip-path="url(#c2)">
<path d="M86.48,373.79 C90.72,373.61 108.75,372.98 114.72,372.63 C120.69,372.28 124.56,371.65 126.3,371.47" fill="none" stroke="#000" stroke-width="1.0" stroke-linejoin="round"/>
<path d="M86.48,395.31 C90.72,394.9 106.67,393.65 114.72,392.54 C122.78,391.43 133.94,388.29 140.19,387.91 C146.44,387.53 151.53,388.64 156.39,389.99 C161.25,391.34 168.01,395.72 172.59,396.94 C177.18,398.15 181.39,397.22 186.94,398.09 C192.5,398.96 203.45,400.99 209.63,402.72 C215.81,404.46 223.18,408.45 228.15,409.67 C233.11,410.88 238.56,411.87 242.73,410.82 C246.9,409.78 250.82,405.85 255.93,402.72 C261.03,399.6 270.16,392.59 276.76,389.99 C283.36,387.39 292.62,386.4 299.91,385.36 C307.2,384.32 321.55,383.39 325.37,383.05" fill="none" stroke="#000" stroke-width="1.0" stroke-linejoin="round"/>
<path d="M86.48,406.19 C90.72,405.95 106.67,405.44 114.72,404.57 C122.78,403.71 133.94,400.69 140.19,400.41 C146.44,400.13 151.53,401.16 156.39,402.72 C161.25,404.28 168.01,408.74 172.59,410.82 C177.18,412.91 181.39,414.88 186.94,416.61 C192.5,418.35 203.45,421.18 209.63,422.4 C215.81,423.61 223.18,424.02 228.15,424.71 C233.11,425.41 238.56,428.24 242.73,427.03 C246.9,425.81 250.82,420.26 255.93,416.61 C261.03,412.97 270.16,405.5 276.76,402.72 C283.36,399.94 292.62,399.13 299.91,398.09 C307.2,397.05 321.55,396.12 325.37,395.78" fill="none" stroke="#000" stroke-width="1.0" stroke-linejoin="round"/>
<path d="M86.48,411.98 C90.72,411.7 105.28,410.82 114.72,410.13 C124.17,409.44 140.76,406.73 149.44,407.35 C158.12,407.98 166.97,412.49 172.59,414.3 C178.22,416.1 181.39,417.83 186.94,419.39 C192.5,420.95 203.45,423.46 209.63,424.71 C215.81,425.96 223.18,427.13 228.15,427.72 C233.11,428.31 237.87,426.84 242.73,428.65 C247.59,430.45 254.41,436.36 260.56,439.76 C266.7,443.16 277.45,448.73 283.7,451.33 C289.95,453.94 295.97,455.56 302.22,457.12 C308.47,458.68 321.9,461.06 325.37,461.75" fill="none" stroke="#000" stroke-width="1.0" stroke-linejoin="round"/>
<path d="M86.48,465.22 C88.98,465.64 97.87,467.83 103.15,468 C108.43,468.17 116.11,467.66 121.67,466.38 C127.22,465.09 134.63,462.73 140.19,459.44 C145.74,456.14 153.84,448.73 158.7,444.39 C163.56,440.05 168.36,434.25 172.59,430.5 C176.83,426.75 184.79,421.06 186.94,419.39" fill="none" stroke="#000" stroke-width="1.0" stroke-linejoin="round"/>
<path d="M86.48,471.01 C88.98,471.18 97.87,472.34 103.15,472.17 C108.43,471.99 116.11,471.07 121.67,469.85 C127.22,468.64 134.63,466.84 140.19,464.06 C145.74,461.29 153.15,455.67 158.7,451.33 C164.26,446.99 172.99,438.53 177.22,435.13 C181.46,431.73 183.47,430.04 186.94,428.65 C190.42,427.26 195.58,426.29 200.37,425.87 C205.16,425.45 212.53,425.45 218.89,425.87 C225.24,426.29 236.48,426.22 242.73,428.65 C248.98,431.08 254.41,438.32 260.56,442.07 C266.7,445.82 273.98,450.35 283.7,453.65 C293.43,456.95 319.12,462.5 325.37,464.06" fill="none" stroke="#000" stroke-width="1.0" stroke-linejoin="round"/>
<path d="M149.44,372.63 C151.53,374.02 159.17,379.11 163.33,381.89 C167.5,384.67 173.68,389.06 177.22,391.15 C180.76,393.23 183.47,394.91 186.94,395.78 C190.42,396.65 195.58,397.11 200.37,396.94 C205.16,396.76 214.03,395.84 218.89,394.62 C223.75,393.41 229.2,390.74 232.78,388.83 C236.35,386.92 239.26,383.62 242.73,381.89 C246.2,380.15 250.82,378.3 255.93,377.26 C261.03,376.22 266.34,375.47 276.76,374.94 C287.18,374.42 318.08,373.96 325.37,373.79" fill="none" stroke="#000" stroke-width="1.0" stroke-linejoin="round"/>
<path d="M177.22,372.63 C178.68,374.02 183.47,379.11 186.94,381.89 C190.42,384.67 195.58,388.72 200.37,391.15 C205.16,393.58 213.33,396.01 218.89,398.09 C224.44,400.18 233.83,403.82 237.41,405.04 C240.98,406.25 239.95,407.58 242.73,406.19 C245.51,404.81 251.86,399.08 255.93,395.78 C259.99,392.48 265.65,386.98 269.81,384.2 C273.98,381.43 279.19,379 283.7,377.26 C288.22,375.52 297.48,373.32 299.91,372.63" fill="none" stroke="#000" stroke-width="1.0" stroke-linejoin="round"/>
<path d="M86.48,549.71 C88.98,550.23 97.18,549.89 103.15,553.19 C109.12,556.48 119.35,564.76 126.3,571.7 C133.24,578.65 142.5,590.8 149.44,599.48 C156.39,608.16 168.08,623.67 172.59,629.57 C177.11,635.48 178.5,637.44 179.54,638.83" fill="none" stroke="#3450b0" stroke-width="7" stroke-linecap="round" stroke-linejoin="round"/>
<path d="M86.48,549.71 C88.98,550.23 97.18,549.89 103.15,553.19 C109.12,556.48 119.35,564.76 126.3,571.7 C133.24,578.65 142.5,590.8 149.44,599.48 C156.39,608.16 168.08,623.67 172.59,629.57 C177.11,635.48 178.5,637.44 179.54,638.83" fill="none" stroke="#000" stroke-width="0.9" stroke-linejoin="round"/>
<path d="M325.37,547.4 C322.59,549.31 312.41,555.09 306.85,560.13 C301.3,565.16 294.58,573.67 288.33,580.96 C282.08,588.25 271.09,600.06 265.19,608.74 C259.28,617.42 251.41,634.32 248.98,638.83" fill="none" stroke="#3450b0" stroke-width="7" stroke-linecap="round" stroke-linejoin="round"/>
<path d="M325.37,547.4 C322.59,549.31 312.41,555.09 306.85,560.13 C301.3,565.16 294.58,573.67 288.33,580.96 C282.08,588.25 271.09,600.06 265.19,608.74 C259.28,617.42 251.41,634.32 248.98,638.83" fill="none" stroke="#000" stroke-width="0.9" stroke-linejoin="round"/>
<path d="M86.48,624.94 C92.45,625.29 115.12,626.39 126.3,627.26 C137.48,628.13 153.03,630.38 161.02,630.73 C169,631.08 175.37,630.44 179.54,629.57 C183.7,628.71 187.41,625.64 188.8,624.94" fill="none" stroke="#3450b0" stroke-width="7" stroke-linecap="round" stroke-linejoin="round"/>
<path d="M86.48,624.94 C92.45,625.29 115.12,626.39 126.3,627.26 C137.48,628.13 153.03,630.38 161.02,630.73 C169,631.08 175.37,630.44 179.54,629.57 C183.7,628.71 187.41,625.64 188.8,624.94" fill="none" stroke="#000" stroke-width="0.9" stroke-linejoin="round"/>
<path d="M86.48,628.42 C90.72,628.94 105.28,630.5 114.72,631.89 C124.17,633.28 144.24,636.81 149.44,637.68" fill="none" stroke="#3450b0" stroke-width="7" stroke-linecap="round" stroke-linejoin="round"/>
<path d="M86.48,628.42 C90.72,628.94 105.28,630.5 114.72,631.89 C124.17,633.28 144.24,636.81 149.44,637.68" fill="none" stroke="#000" stroke-width="0.9" stroke-linejoin="round"/>
<path d="M283.7,638.83 C286.48,637.1 295.97,629.52 302.22,627.26 C308.47,625 321.9,624.31 325.37,623.79" fill="none" stroke="#3450b0" stroke-width="7" stroke-linecap="round" stroke-linejoin="round"/>
<path d="M283.7,638.83 C286.48,637.1 295.97,629.52 302.22,627.26 C308.47,625 321.9,624.31 325.37,623.79" fill="none" stroke="#000" stroke-width="0.9" stroke-linejoin="round"/>
<path d="M86.48,548.09 C88.98,548.44 97.18,548.08 103.15,550.41 C109.12,552.73 119.35,558.15 126.3,563.6 C133.24,569.05 142.5,580.15 149.44,586.75 C156.39,593.35 166.97,603.59 172.59,607.58 C178.22,611.58 184.79,612.5 186.94,613.37" fill="none" stroke="#2fb04a" stroke-width="7" stroke-linecap="round" stroke-linejoin="round"/>
<path d="M86.48,548.09 C88.98,548.44 97.18,548.08 103.15,550.41 C109.12,552.73 119.35,558.15 126.3,563.6 C133.24,569.05 142.5,580.15 149.44,586.75 C156.39,593.35 166.97,603.59 172.59,607.58 C178.22,611.58 184.79,612.5 186.94,613.37" fill="none" stroke="#000" stroke-width="0.9" stroke-linejoin="round"/>
<path d="M200.37,618 C203.15,615.92 213.33,607.76 218.89,604.11 C224.44,600.47 233.83,595.36 237.41,593.69 C240.98,592.03 238.56,594.98 242.73,593 C246.9,591.02 258.34,584.46 265.19,580.5 C272.03,576.54 281.39,570.71 288.33,566.61 C295.28,562.51 305.93,555.82 311.48,553.19 C317.04,550.55 323.29,549.64 325.37,549.02" fill="none" stroke="#2fb04a" stroke-width="7" stroke-linecap="round" stroke-linejoin="round"/>
<path d="M200.37,618 C203.15,615.92 213.33,607.76 218.89,604.11 C224.44,600.47 233.83,595.36 237.41,593.69 C240.98,592.03 238.56,594.98 242.73,593 C246.9,591.02 258.34,584.46 265.19,580.5 C272.03,576.54 281.39,570.71 288.33,566.61 C295.28,562.51 305.93,555.82 311.48,553.19 C317.04,550.55 323.29,549.64 325.37,549.02" fill="none" stroke="#000" stroke-width="0.9" stroke-linejoin="round"/>
<path d="M242.73,593 C246.1,595.01 258.34,603.02 265.19,606.43 C272.03,609.83 281.39,613.6 288.33,615.69 C295.28,617.77 305.93,619.48 311.48,620.31 C317.04,621.15 323.29,621.1 325.37,621.24" fill="none" stroke="#2fb04a" stroke-width="7" stroke-linecap="round" stroke-linejoin="round"/>
<path d="M242.73,593 C246.1,595.01 258.34,603.02 265.19,606.43 C272.03,609.83 281.39,613.6 288.33,615.69 C295.28,617.77 305.93,619.48 311.48,620.31 C317.04,621.15 323.29,621.1 325.37,621.24" fill="none" stroke="#000" stroke-width="0.9" stroke-linejoin="round"/>
<path d="M86.48,622.63 C92.45,622.91 115.12,623.79 126.3,624.48 C137.48,625.18 152.69,626.84 161.02,627.26 C169.35,627.68 178.73,627.26 181.85,627.26" fill="none" stroke="#2fb04a" stroke-width="7" stroke-linecap="round" stroke-linejoin="round"/>
<path d="M86.48,622.63 C92.45,622.91 115.12,623.79 126.3,624.48 C137.48,625.18 152.69,626.84 161.02,627.26 C169.35,627.68 178.73,627.26 181.85,627.26" fill="none" stroke="#000" stroke-width="0.9" stroke-linejoin="round"/>
<path d="M86.48,455.96 C88.63,455.69 96.6,456.19 100.83,454.11 C105.07,452.03 110.56,446.48 114.72,442.07 C118.89,437.66 124.1,430.62 128.61,424.71 C133.12,418.81 140.3,408.45 144.81,402.72 C149.33,396.99 154.54,391.55 158.7,386.52 C162.87,381.48 170.51,371.76 172.59,369.16" fill="none" stroke="#f08a2e" stroke-width="7.5" stroke-linecap="round" stroke-linejoin="round"/>
<path d="M86.48,455.96 C90.72,456.48 107.01,458.05 114.72,459.44 C122.43,460.82 130.93,462.27 137.87,465.22 C144.81,468.17 153.66,474.25 161.02,479.11 C168.38,483.97 179.65,491.73 186.94,497.63 C194.24,503.53 203.45,512.21 209.63,518.46 C215.81,524.71 223.98,534.96 228.15,539.3 C232.31,543.64 235.22,546.01 237.41,547.4 C239.59,548.79 238.56,548.56 242.73,548.56 C246.9,548.56 256.61,548.44 265.19,547.4 C273.76,546.36 290.88,543.35 299.91,541.61 C308.94,539.88 321.55,536.69 325.37,535.82" fill="none" stroke="#f08a2e" stroke-width="7.5" stroke-linecap="round" stroke-linejoin="round"/>
<path d="M86.48,534.67 C88.98,535.01 97.87,536.36 103.15,536.98 C108.43,537.61 116.46,539.46 121.67,538.83 C126.87,538.21 131.97,536.22 137.87,532.81 C143.77,529.41 153.66,521.43 161.02,516.15 C168.38,510.87 180,503.88 186.94,497.63 C193.89,491.38 201.83,480.91 207.31,474.48 C212.8,468.06 219,460.64 223.52,454.81 C228.03,448.97 234.53,438.72 237.41,435.59 C240.29,432.47 238.56,433.69 242.73,433.97 C246.9,434.25 258.34,435.88 265.19,437.44 C272.03,439.01 281.39,442.03 288.33,444.39 C295.28,446.75 305.93,451.28 311.48,453.19 C317.04,455.09 323.29,456.53 325.37,457.12" fill="none" stroke="#f08a2e" stroke-width="7.5" stroke-linecap="round" stroke-linejoin="round"/>
<path d="M195.74,369.16 C197.82,372.8 205.46,386.69 209.63,393.46 C213.8,400.23 219,408.05 223.52,414.3 C228.03,420.55 237.29,432 239.72,435.13" fill="none" stroke="#f08a2e" stroke-width="7.5" stroke-linecap="round" stroke-linejoin="round"/>
<path d="M255.93,369.16 C258.01,372.46 264.95,384.38 269.81,391.15 C274.68,397.92 282.78,407.35 288.33,414.3 C293.89,421.24 302.34,431.89 306.85,437.44 C311.37,443 315.65,448.83 318.43,451.33 C321.2,453.83 324.33,453.69 325.37,454.11" fill="none" stroke="#f08a2e" stroke-width="7.5" stroke-linecap="round" stroke-linejoin="round"/>
<path d="M158.7,638.83 C162.94,635.01 179.31,620.66 186.94,613.37 C194.58,606.08 202.75,597.51 209.63,590.22 C216.5,582.93 227.81,569.1 232.78,564.76 C237.74,560.42 237.87,561.98 242.73,561.29 C247.59,560.59 256.61,560.65 265.19,560.13 C273.76,559.61 290.88,558.51 299.91,557.81 C308.94,557.12 321.55,555.85 325.37,555.5" fill="none" stroke="#f08a2e" stroke-width="7.5" stroke-linecap="round" stroke-linejoin="round"/>
<path d="M186.94,613.37 C188.96,615.11 196.97,621.12 200.37,624.94 C203.77,628.76 208.24,636.75 209.63,638.83" fill="none" stroke="#f08a2e" stroke-width="7.5" stroke-linecap="round" stroke-linejoin="round"/>
<path d="M242.73,621.47 C244.02,624.08 250.01,636.23 251.3,638.83" fill="none" stroke="#f08a2e" stroke-width="7.5" stroke-linecap="round" stroke-linejoin="round"/>
<path d="M86.48,553.19 C88.98,553.53 97.18,553.76 103.15,555.5 C109.12,557.24 119.35,560.94 126.3,564.76 C133.24,568.58 142.5,575.75 149.44,580.96 C156.39,586.17 166.97,595.31 172.59,599.48 C178.22,603.65 181.74,606.31 186.94,608.74 C192.15,611.17 200.79,613.95 207.31,615.69 C213.84,617.42 225.15,619.45 230.46,620.31 C235.78,621.18 240.89,621.3 242.73,621.47" fill="none" stroke="#f08a2e" stroke-width="10" stroke-linecap="round" stroke-linejoin="round"/>
<line x1="186.9" y1="372.6" x2="186.9" y2="636.5" stroke="#777" stroke-width="1.1" stroke-dasharray="3,2.5"/>
<line x1="242.7" y1="372.6" x2="242.7" y2="636.5" stroke="#777" stroke-width="1.1" stroke-dasharray="3,2.5"/>
<line x1="86.5" y1="460.57" x2="325.4" y2="460.57" stroke="#e8202a" stroke-width="1.5" stroke-dasharray="3.5,2.5"/>
</g>
<rect x="86.5" y="372.6" width="238.9" height="263.9" stroke="#000" stroke-width="1.6" fill="none" />
<text x="80.2" y="379.8" font-size="23.4" font-weight="bold" font-style="normal" fill="#000" text-anchor="end" >4</text>
<text x="80.2" y="467.77" font-size="23.4" font-weight="bold" font-style="normal" fill="#000" text-anchor="end" >0</text>
<line x1="86.5" y1="460.57" x2="91.5" y2="460.57" stroke="#000" stroke-width="1.2" />
<text x="80.2" y="555.73" font-size="23.4" font-weight="bold" font-style="normal" fill="#000" text-anchor="end" >-4</text>
<line x1="86.5" y1="548.53" x2="91.5" y2="548.53" stroke="#000" stroke-width="1.2" />
<text x="80.2" y="643.7" font-size="23.4" font-weight="bold" font-style="normal" fill="#000" text-anchor="end" >-8</text>
<text x="88.7" y="653" font-size="19.5" font-weight="bold" font-style="normal" fill="#000" text-anchor="middle" >&#915;</text>
<text x="187.6" y="653" font-size="19.5" font-weight="bold" font-style="normal" fill="#000" text-anchor="middle" >K</text>
<text x="238.6" y="653" font-size="19.5" font-weight="bold" font-style="normal" fill="#000" text-anchor="middle" >M</text>
<text x="325.5" y="653" font-size="19.5" font-weight="bold" font-style="normal" fill="#000" text-anchor="middle" >&#915;</text>
<line x1="186.9" y1="636.5" x2="186.9" y2="633" stroke="#000" stroke-width="1" />
<line x1="242.7" y1="636.5" x2="242.7" y2="633" stroke="#000" stroke-width="1" />
<text transform="translate(58.3,503.65) rotate(-90) scale(1,1.05)" text-anchor="middle" font-size="20" font-weight="bold" fill="#000">Energy (eV)</text>
<circle cx="234" cy="479.5" r="5.8" fill="#2fb04a"/>
<text x="251.5" y="485.8" font-size="18.3" font-weight="bold" font-style="normal" fill="#000" text-anchor="start" >C-2<tspan font-style="italic">p</tspan><tspan font-size="12.5" dy="4">x</tspan></text>
<circle cx="234" cy="502" r="5.8" fill="#3450b0"/>
<text x="251.5" y="508.3" font-size="18.3" font-weight="bold" font-style="normal" fill="#000" text-anchor="start" >C-2<tspan font-style="italic">p</tspan><tspan font-size="12.5" dy="4">y</tspan></text>
<circle cx="234" cy="524.5" r="5.8" fill="#f08a2e"/>
<text x="251.5" y="530.8" font-size="18.3" font-weight="bold" font-style="normal" fill="#000" text-anchor="start" >C-2<tspan font-style="italic">p</tspan><tspan font-size="12.5" dy="4">z</tspan></text>
<ellipse cx="125.7" cy="451.4" rx="33" ry="15" fill="none" stroke="#f2e61c" stroke-width="2.2"/>
<text x="110" y="458.3" font-size="20.5" font-weight="bold" font-style="normal" fill="#e8202a" text-anchor="start" >vHs</text>
<clipPath id="c3"><rect x="85.1" y="702.6" width="239.1" height="263.9"/></clipPath>
<g clip-path="url(#c3)">
<path d="M85.09,751.24 C87.11,751.07 94.07,751.47 98.52,750.08 C102.96,748.69 110.21,745.97 114.72,741.98 C119.24,737.99 124.62,729.37 128.61,723.46 C132.6,717.56 139.43,705.75 141.34,702.63" fill="none" stroke="#000" stroke-width="1.0" stroke-linejoin="round"/>
<path d="M324.21,751.24 C321.96,750.72 313.51,749.85 309.17,747.77 C304.83,745.69 299.1,740.65 295.28,737.35 C291.46,734.05 286.31,727.86 283.7,725.78 C281.1,723.69 279.48,723.12 277.92,723.46 C276.35,723.81 273.98,727.4 273.29,728.09" fill="none" stroke="#000" stroke-width="1.0" stroke-linejoin="round"/>
<path d="M260.56,702.63 C261.6,703.32 265.76,706.22 267.5,707.26 C269.24,708.3 271.44,709.23 272.13,709.57" fill="none" stroke="#000" stroke-width="1.0" stroke-linejoin="round"/>
<path d="M85.09,885.96 C87.11,886.94 94.42,888.69 98.52,892.44 C102.62,896.19 108.59,903.67 112.41,910.96 C116.23,918.25 121.38,932.38 123.98,941.06 C126.59,949.74 128.9,964.67 129.77,968.83" fill="none" stroke="#3450b0" stroke-width="7" stroke-linecap="round" stroke-linejoin="round"/>
<path d="M85.09,885.96 C87.11,886.94 94.42,888.69 98.52,892.44 C102.62,896.19 108.59,903.67 112.41,910.96 C116.23,918.25 121.38,932.38 123.98,941.06 C126.59,949.74 128.9,964.67 129.77,968.83" fill="none" stroke="#000" stroke-width="0.9" stroke-linejoin="round"/>
<path d="M85.09,890.13 C86.76,891.17 92.8,893.25 96.2,897.07 C99.61,900.89 104.65,908.65 107.78,915.59 C110.9,922.54 115.13,935.38 117.04,943.37 C118.95,951.36 119.99,965.01 120.51,968.83" fill="none" stroke="#3450b0" stroke-width="7" stroke-linecap="round" stroke-linejoin="round"/>
<path d="M85.09,890.13 C86.76,891.17 92.8,893.25 96.2,897.07 C99.61,900.89 104.65,908.65 107.78,915.59 C110.9,922.54 115.13,935.38 117.04,943.37 C118.95,951.36 119.99,965.01 120.51,968.83" fill="none" stroke="#000" stroke-width="0.9" stroke-linejoin="round"/>
<path d="M324.21,885.96 C322.3,889.02 315.13,898.42 311.48,906.33 C307.84,914.25 303.03,929.37 299.91,938.74 C296.78,948.12 292.04,964.32 290.65,968.83" fill="none" stroke="#3450b0" stroke-width="7" stroke-linecap="round" stroke-linejoin="round"/>
<path d="M324.21,885.96 C322.3,889.02 315.13,898.42 311.48,906.33 C307.84,914.25 303.03,929.37 299.91,938.74 C296.78,948.12 292.04,964.32 290.65,968.83" fill="none" stroke="#000" stroke-width="0.9" stroke-linejoin="round"/>
<path d="M85.09,884.34 C87.8,886.08 98.01,890.71 103.15,895.92 C108.29,901.12 114.84,911.25 119.35,919.06 C123.87,926.88 130.12,940.53 133.24,948 C136.37,955.47 139.14,965.71 140.19,968.83" fill="none" stroke="#2fb04a" stroke-width="8" stroke-linecap="round" stroke-linejoin="round"/>
<path d="M85.09,884.34 C87.8,886.08 98.01,890.71 103.15,895.92 C108.29,901.12 114.84,911.25 119.35,919.06 C123.87,926.88 130.12,940.53 133.24,948 C136.37,955.47 139.14,965.71 140.19,968.83" fill="none" stroke="#000" stroke-width="0.9" stroke-linejoin="round"/>
<path d="M225.83,968.83 C227.57,967.79 232.89,963.62 237.41,961.89 C241.92,960.15 250.02,960.73 255.93,957.26 C261.83,953.79 270.16,945.69 276.76,938.74 C283.36,931.8 292.79,919.12 299.91,910.96 C307.03,902.8 320.57,888.34 324.21,884.34" fill="none" stroke="#2fb04a" stroke-width="8" stroke-linecap="round" stroke-linejoin="round"/>
<path d="M225.83,968.83 C227.57,967.79 232.89,963.62 237.41,961.89 C241.92,960.15 250.02,960.73 255.93,957.26 C261.83,953.79 270.16,945.69 276.76,938.74 C283.36,931.8 292.79,919.12 299.91,910.96 C307.03,902.8 320.57,888.34 324.21,884.34" fill="none" stroke="#000" stroke-width="0.9" stroke-linejoin="round"/>
<path d="M132,701 C140.18,724.25 178.32,832.75 186.5,856" fill="none" stroke="#000" stroke-width="0.8"/>
<path d="M132,701 C140.18,724.25 178.32,832.75 186.5,856" fill="none" stroke="#f08a2e" stroke-width="5.8" stroke-linecap="round" stroke-dasharray="0.01,7.0"/>
<path d="M139.5,701 C146.55,720.05 179.45,808.95 186.5,828" fill="none" stroke="#000" stroke-width="0.8"/>
<path d="M139.5,701 C146.55,720.05 179.45,808.95 186.5,828" fill="none" stroke="#f08a2e" stroke-width="7.2" stroke-linecap="round" stroke-dasharray="0.01,7.4"/>
<path d="M114.2,968 C125.24,946.19 176.76,844.41 187.8,822.6" fill="none" stroke="#000" stroke-width="0.8"/>
<path d="M114.2,968 C125.24,946.19 176.76,844.41 187.8,822.6" fill="none" stroke="#f08a2e" stroke-width="7.2" stroke-linecap="round" stroke-dasharray="0.01,7.4"/>
<path d="M130,968 C138.67,950.86 179.13,870.85 187.8,853.7" fill="none" stroke="#000" stroke-width="0.8"/>
<path d="M130,968 C138.67,950.86 179.13,870.85 187.8,853.7" fill="none" stroke="#f08a2e" stroke-width="5.8" stroke-linecap="round" stroke-dasharray="0.01,7.0"/>
<path d="M240.42,791.75 C241.7,789.49 245.96,783.82 248.98,776.7 C252,769.59 256.91,755.75 260.56,744.3 C264.2,732.84 271.38,706.91 273.29,700.31" fill="none" stroke="#000" stroke-width="0.8"/>
<path d="M240.42,791.75 C241.7,789.49 245.96,783.82 248.98,776.7 C252,769.59 256.91,755.75 260.56,744.3 C264.2,732.84 271.38,706.91 273.29,700.31" fill="none" stroke="#f08a2e" stroke-width="7.2" stroke-linecap="round" stroke-dasharray="0.01,7.4"/>
<path d="M240.42,805.64 C242.05,803.03 247.93,795.74 251.3,788.28 C254.66,780.81 258.7,769.06 262.87,755.87 C267.04,742.68 276.64,708.65 279.07,700.31" fill="none" stroke="#000" stroke-width="0.8"/>
<path d="M240.42,805.64 C242.05,803.03 247.93,795.74 251.3,788.28 C254.66,780.81 258.7,769.06 262.87,755.87 C267.04,742.68 276.64,708.65 279.07,700.31" fill="none" stroke="#f08a2e" stroke-width="5.8" stroke-linecap="round" stroke-dasharray="0.01,7.0"/>
<path d="M250,888.7 C253,894.45 264,914.96 270,927 C276,939.04 287,962.7 290,969" fill="none" stroke="#000" stroke-width="0.8"/>
<path d="M250,888.7 C253,894.45 264,914.96 270,927 C276,939.04 287,962.7 290,969" fill="none" stroke="#f08a2e" stroke-width="7.2" stroke-linecap="round" stroke-dasharray="0.01,7.4"/>
<path d="M250,918.5 C252.4,922.17 261.05,935.42 266,943 C270.95,950.58 280.45,965.1 283,969" fill="none" stroke="#000" stroke-width="0.8"/>
<path d="M250,918.5 C252.4,922.17 261.05,935.42 266,943 C270.95,950.58 280.45,965.1 283,969" fill="none" stroke="#f08a2e" stroke-width="5.8" stroke-linecap="round" stroke-dasharray="0.01,7.0"/>
<path d="M186.5,828 C187.47,830.29 190.87,839.64 193,843.3 C195.13,846.96 197.59,849.48 200.7,852.4 C203.8,855.32 209.8,860.07 213.7,862.8 C217.6,865.53 222.81,869.04 226.7,870.6 C230.58,872.16 236.85,871.94 239.6,873.2 C242.34,874.46 243.44,876.67 245,879 C246.56,881.33 249.25,887.25 250,888.7" fill="none" stroke="#f08a2e" stroke-width="7" stroke-linecap="round" stroke-linejoin="round"/>
<path d="M186.5,856 C187.03,857.2 188.83,861.62 190,864 C191.17,866.38 192.31,868.78 194.3,871.9 C196.3,875.02 200.39,881.3 203.3,884.8 C206.21,888.29 210.19,892.47 213.7,895.2 C217.21,897.93 222.81,901.44 226.7,903 C230.58,904.56 236.85,904.4 239.6,905.6 C242.34,906.8 243.44,909.07 245,911 C246.56,912.93 249.25,917.38 250,918.5" fill="none" stroke="#f08a2e" stroke-width="5.8" stroke-linecap="round" stroke-linejoin="round"/>
<path d="M187.8,822.6 C188.64,821.31 191.57,816.49 193.4,814 C195.23,811.51 197.57,808.25 200,806 C202.43,803.75 205.38,800.95 209.6,799 C213.81,797.05 223.48,793.99 228.1,793 C232.72,792.01 238.56,792.49 240.4,792.4" fill="none" stroke="#f08a2e" stroke-width="7.5" stroke-linecap="round" stroke-linejoin="round"/>
<path d="M187.8,853.7 C188.58,851.64 190.77,843.91 193,840 C195.23,836.09 198.47,831.89 202.7,827.6 C206.93,823.31 215.54,814.7 221.2,811.4 C226.85,808.1 237.52,806.47 240.4,805.6" fill="none" stroke="#f08a2e" stroke-width="6.5" stroke-linecap="round" stroke-linejoin="round"/>
<line x1="186.5" y1="702.6" x2="186.5" y2="966.5" stroke="#777" stroke-width="1.1" stroke-dasharray="3,2.5"/>
<line x1="240.4" y1="702.6" x2="240.4" y2="966.5" stroke="#777" stroke-width="1.1" stroke-dasharray="3,2.5"/>
<line x1="85.1" y1="790.57" x2="324.2" y2="790.57" stroke="#e8202a" stroke-width="1.5" stroke-dasharray="3.5,2.5"/>
</g>
<rect x="85.1" y="702.6" width="239.1" height="263.9" stroke="#000" stroke-width="1.6" fill="none" />
<text x="78.8" y="709.8" font-size="23.4" font-weight="bold" font-style="normal" fill="#000" text-anchor="end" >4</text>
<text x="78.8" y="797.77" font-size="23.4" font-weight="bold" font-style="normal" fill="#000" text-anchor="end" >0</text>
<line x1="85.1" y1="790.57" x2="90.1" y2="790.57" stroke="#000" stroke-width="1.2" />
<text x="78.8" y="885.73" font-size="23.4" font-weight="bold" font-style="normal" fill="#000" text-anchor="end" >-4</text>
<line x1="85.1" y1="878.53" x2="90.1" y2="878.53" stroke="#000" stroke-width="1.2" />
<text x="78.8" y="973.7" font-size="23.4" font-weight="bold" font-style="normal" fill="#000" text-anchor="end" >-8</text>
<text x="88.7" y="983" font-size="19.5" font-weight="bold" font-style="normal" fill="#000" text-anchor="middle" >&#915;</text>
<text x="187.6" y="983" font-size="19.5" font-weight="bold" font-style="normal" fill="#000" text-anchor="middle" >K</text>
<text x="243.2" y="983" font-size="19.5" font-weight="bold" font-style="normal" fill="#000" text-anchor="middle" >M</text>
<text x="325.5" y="983" font-size="19.5" font-weight="bold" font-style="normal" fill="#000" text-anchor="middle" >&#915;</text>
<line x1="186.5" y1="966.5" x2="186.5" y2="963" stroke="#000" stroke-width="1" />
<line x1="240.4" y1="966.5" x2="240.4" y2="963" stroke="#000" stroke-width="1" />
<text transform="translate(55.5,834.55) rotate(-90) scale(1,1.05)" text-anchor="middle" font-size="20" font-weight="bold" fill="#000">Energy (eV)</text>
<circle cx="238" cy="814.5" r="5.8" fill="#2fb04a"/>
<text x="255.5" y="820.8" font-size="18.3" font-weight="bold" font-style="normal" fill="#000" text-anchor="start" >C-2<tspan font-style="italic">p</tspan><tspan font-size="12.5" dy="4">x</tspan></text>
<circle cx="238" cy="836.8" r="5.8" fill="#3450b0"/>
<text x="255.5" y="843.1" font-size="18.3" font-weight="bold" font-style="normal" fill="#000" text-anchor="start" >C-2<tspan font-style="italic">p</tspan><tspan font-size="12.5" dy="4">y</tspan></text>
<circle cx="238" cy="859.1" r="5.8" fill="#f08a2e"/>
<text x="255.5" y="865.4" font-size="18.3" font-weight="bold" font-style="normal" fill="#000" text-anchor="start" >C-2<tspan font-style="italic">p</tspan><tspan font-size="12.5" dy="4">z</tspan></text>
<ellipse cx="229.3" cy="786" rx="33.6" ry="12.8" fill="none" stroke="#f2e61c" stroke-width="2.2"/>
<text x="207.3" y="790.6" font-size="20.5" font-weight="bold" font-style="normal" fill="#e8202a" text-anchor="start" >vHs</text>
<clipPath id="c4"><rect x="85.8" y="1032.5" width="237.2" height="259.7"/></clipPath>
<g clip-path="url(#c4)">
<path d="M85,1043.3 C87.5,1042.97 96.7,1042.09 101.7,1041.1 C106.7,1040.11 113.3,1038.07 118.3,1036.7 C123.3,1035.34 132.5,1032.7 135,1032" fill="none" stroke="#000" stroke-width="1.0" stroke-linejoin="round"/>
<path d="M85,1052.8 C87.5,1052.47 96.7,1051.68 101.7,1050.6 C106.7,1049.52 113.3,1047.19 118.3,1045.6 C123.3,1044.01 129.99,1041.17 135,1040 C140.01,1038.83 147.53,1037.63 151.7,1037.8 C155.87,1037.96 159.47,1039.6 162.8,1041.1 C166.13,1042.6 170.34,1045.34 173.9,1047.8 C177.46,1050.26 180.95,1054.72 186.5,1057.5 C192.05,1060.28 203.44,1064.2 210.9,1066.3 C218.36,1068.4 230.36,1073.26 236.2,1071.5 C242.03,1069.74 245.81,1059.65 249.8,1054.6 C253.79,1049.54 260.07,1041.19 262.8,1037.8 C265.53,1034.41 267.22,1032.87 268,1032" fill="none" stroke="#000" stroke-width="1.0" stroke-linejoin="round"/>
<path d="M85,1061.1 C88.33,1060.61 100.54,1059.46 107.2,1057.8 C113.86,1056.13 123.57,1052.34 129.4,1050 C135.24,1047.66 142.42,1043.87 146.1,1042.2 C149.78,1040.54 151.4,1039.23 153.9,1038.9 C156.41,1038.57 159.8,1038.83 162.8,1040 C165.8,1041.17 170.34,1043.85 173.9,1046.7 C177.46,1049.55 180.95,1055.81 186.5,1059 C192.05,1062.19 203.44,1065.9 210.9,1068 C218.36,1070.1 230.75,1074.82 236.2,1073 C241.64,1071.18 243.6,1060.21 247.2,1055.9 C250.8,1051.6 256.88,1046.23 260.2,1044.3 C263.51,1042.37 265.03,1042.23 269.3,1043 C273.57,1043.77 280.74,1046.69 288.7,1049.4 C296.66,1052.12 317.34,1059.35 322.4,1061.1" fill="none" stroke="#000" stroke-width="1.0" stroke-linejoin="round"/>
<path d="M157.2,1032.2 C159.38,1034.71 167.3,1044.73 171.7,1048.9 C176.09,1053.07 184.28,1058.34 186.5,1060" fill="none" stroke="#000" stroke-width="1.0" stroke-linejoin="round"/>
<path d="M85,1122.2 C90,1121.38 108.3,1120.53 118.3,1116.7 C128.31,1112.88 141.47,1105.21 151.7,1096.7 C161.93,1088.19 181.28,1065.51 186.5,1060" fill="none" stroke="#000" stroke-width="1.0" stroke-linejoin="round"/>
<path d="M85,1125 C90,1124.17 108.3,1123.33 118.3,1119.5 C128.31,1115.67 141.47,1108.12 151.7,1099.5 C161.93,1090.88 181.28,1067.62 186.5,1062" fill="none" stroke="#000" stroke-width="1.0" stroke-linejoin="round"/>
<path d="M236.2,1073 C238.24,1074.71 245.81,1080.74 249.8,1084.4 C253.79,1088.06 258.92,1093.89 262.8,1097.4 C266.69,1100.91 272.2,1105.07 275.7,1107.8 C279.19,1110.53 284.54,1114.43 286.1,1115.6" fill="none" stroke="#000" stroke-width="1.0" stroke-linejoin="round"/>
<path d="M236.2,1075 C238.24,1076.71 245.81,1082.74 249.8,1086.4 C253.79,1090.06 258.92,1095.89 262.8,1099.4 C266.69,1102.91 272.2,1107.07 275.7,1109.8 C279.19,1112.53 284.54,1116.43 286.1,1117.6" fill="none" stroke="#000" stroke-width="1.0" stroke-linejoin="round"/>
<path d="M262,1034 C266,1034.6 279.64,1036.45 288.7,1038 C297.76,1039.55 317.34,1043.36 322.4,1044.3" fill="none" stroke="#000" stroke-width="1.0" stroke-linejoin="round"/>
<path d="M275,1032.5 C278.75,1033.17 292.89,1035.62 300,1037 C307.11,1038.38 319.04,1041 322.4,1041.7" fill="none" stroke="#000" stroke-width="1.0" stroke-linejoin="round"/>
<path d="M308,1120 C310.16,1120.19 320.24,1121.11 322.4,1121.3" fill="none" stroke="#000" stroke-width="1.0" stroke-linejoin="round"/>
<path d="M308,1122.5 C310.16,1122.69 320.24,1123.61 322.4,1123.8" fill="none" stroke="#000" stroke-width="1.0" stroke-linejoin="round"/>
<path d="M85.8,1206.7 C88.19,1207.53 96.83,1209.04 101.7,1212.2 C106.58,1215.37 113.3,1221.29 118.3,1227.8 C123.3,1234.31 130.34,1247.61 135,1255.6 C139.66,1263.59 146.56,1275.34 149.4,1281.1 C152.24,1286.86 153.22,1292.07 153.9,1294" fill="none" stroke="#3450b0" stroke-width="7.5" stroke-linecap="round" stroke-linejoin="round"/>
<path d="M85.8,1206.7 C88.19,1207.53 96.83,1209.04 101.7,1212.2 C106.58,1215.37 113.3,1221.29 118.3,1227.8 C123.3,1234.31 130.34,1247.61 135,1255.6 C139.66,1263.59 146.56,1275.34 149.4,1281.1 C152.24,1286.86 153.22,1292.07 153.9,1294" fill="none" stroke="#000" stroke-width="0.9" stroke-linejoin="round"/>
<path d="M151.7,1294 C154.19,1291.06 163.08,1278.75 168.3,1274.4 C173.52,1270.05 180.11,1265 186.5,1265 C192.89,1265 203.44,1272.41 210.9,1274.4 C218.36,1276.39 230.36,1276.55 236.2,1278.3 C242.03,1280.05 246.59,1283.74 249.8,1286.1 C253.01,1288.45 256.43,1292.82 257.6,1294" fill="none" stroke="#3450b0" stroke-width="8.5" stroke-linecap="round" stroke-linejoin="round"/>
<path d="M151.7,1294 C154.19,1291.06 163.08,1278.75 168.3,1274.4 C173.52,1270.05 180.11,1265 186.5,1265 C192.89,1265 203.44,1272.41 210.9,1274.4 C218.36,1276.39 230.36,1276.55 236.2,1278.3 C242.03,1280.05 246.59,1283.74 249.8,1286.1 C253.01,1288.45 256.43,1292.82 257.6,1294" fill="none" stroke="#000" stroke-width="0.9" stroke-linejoin="round"/>
<path d="M323,1204.4 C320.78,1204.79 313.34,1204.27 308.2,1207 C303.06,1209.73 294.53,1215.59 288.7,1222.6 C282.87,1229.61 274.16,1245.15 269.3,1253.7 C264.44,1262.25 258.84,1273.55 256.3,1279.6 C253.77,1285.64 252.99,1291.84 252.4,1294" fill="none" stroke="#3450b0" stroke-width="7" stroke-linecap="round" stroke-linejoin="round"/>
<path d="M323,1204.4 C320.78,1204.79 313.34,1204.27 308.2,1207 C303.06,1209.73 294.53,1215.59 288.7,1222.6 C282.87,1229.61 274.16,1245.15 269.3,1253.7 C264.44,1262.25 258.84,1273.55 256.3,1279.6 C253.77,1285.64 252.99,1291.84 252.4,1294" fill="none" stroke="#000" stroke-width="0.9" stroke-linejoin="round"/>
<path d="M323,1209.6 C320.78,1210.38 313.34,1211.29 308.2,1214.8 C303.06,1218.31 293.57,1227.16 288.7,1233 C283.82,1238.84 279.58,1247.1 275.7,1253.7 C271.81,1260.3 265.51,1270.95 262.8,1277 C260.09,1283.05 258.38,1291.45 257.6,1294" fill="none" stroke="#3450b0" stroke-width="6" stroke-linecap="round" stroke-linejoin="round"/>
<path d="M323,1209.6 C320.78,1210.38 313.34,1211.29 308.2,1214.8 C303.06,1218.31 293.57,1227.16 288.7,1233 C283.82,1238.84 279.58,1247.1 275.7,1253.7 C271.81,1260.3 265.51,1270.95 262.8,1277 C260.09,1283.05 258.38,1291.45 257.6,1294" fill="none" stroke="#000" stroke-width="0.9" stroke-linejoin="round"/>
<path d="M85.8,1203.3 C89.01,1204.63 100.66,1208.53 107.2,1212.2 C113.74,1215.88 122.73,1223.3 129.4,1227.8 C136.08,1232.3 145.35,1237.87 151.7,1242.2 C158.04,1246.54 166.48,1253.73 171.7,1256.7 C176.92,1259.67 184.28,1261.2 186.5,1262" fill="none" stroke="#2fb04a" stroke-width="6" stroke-linecap="round" stroke-linejoin="round"/>
<path d="M85.8,1203.3 C89.01,1204.63 100.66,1208.53 107.2,1212.2 C113.74,1215.88 122.73,1223.3 129.4,1227.8 C136.08,1232.3 145.35,1237.87 151.7,1242.2 C158.04,1246.54 166.48,1253.73 171.7,1256.7 C176.92,1259.67 184.28,1261.2 186.5,1262" fill="none" stroke="#000" stroke-width="0.9" stroke-linejoin="round"/>
<path d="M323,1201.9 C319.81,1203.06 308.8,1204.74 301.7,1209.6 C294.6,1214.46 282.51,1226.71 275.7,1234.3 C268.89,1241.89 261.16,1253.4 256.3,1260.2 C251.44,1267 245.84,1274.53 243.3,1279.6 C240.77,1284.67 239.99,1291.84 239.4,1294" fill="none" stroke="#2fb04a" stroke-width="6.5" stroke-linecap="round" stroke-linejoin="round"/>
<path d="M323,1201.9 C319.81,1203.06 308.8,1204.74 301.7,1209.6 C294.6,1214.46 282.51,1226.71 275.7,1234.3 C268.89,1241.89 261.16,1253.4 256.3,1260.2 C251.44,1267 245.84,1274.53 243.3,1279.6 C240.77,1284.67 239.99,1291.84 239.4,1294" fill="none" stroke="#000" stroke-width="0.9" stroke-linejoin="round"/>
<path d="M85.8,1141 L112.8,1113.3 L140.6,1082.2 L173.9,1045.6 L177.2,1032.5 L205,1032.5 L185,1058.9 L151.7,1092.2 L123.9,1122.2 L96.1,1158.9 L85.8,1166 Z" fill="#f08a2e"/>
<line x1="86" y1="1148" x2="116" y2="1119" stroke="#fff" stroke-width="1.3" />
<path d="M85.8,1150 C86.34,1150.49 84.53,1148.63 89.4,1153.3 C94.28,1157.96 108.95,1172.26 118.3,1181.1 C127.64,1189.93 142.53,1203.86 151.7,1212.2 C160.86,1220.54 174.18,1232.08 179.4,1236.7 C184.62,1241.32 181.78,1240.75 186.5,1243 C191.22,1245.25 203.44,1249.75 210.9,1251.7 C218.36,1253.65 230.36,1253.36 236.2,1256 C242.03,1258.64 245.42,1264.78 249.8,1269.3 C254.18,1273.82 261.51,1282.39 265.4,1286.1 C269.28,1289.8 274.15,1292.82 275.7,1294" fill="none" stroke="#f08a2e" stroke-width="7" stroke-linecap="round" stroke-linejoin="round"/>
<path d="M85.8,1160 C90.67,1165.16 108.41,1184.56 118.3,1194.4 C128.19,1204.24 143.36,1218.1 151.7,1225.6 C160.04,1233.1 168.68,1240.74 173.9,1244.4 C179.12,1248.06 180.95,1247.35 186.5,1250 C192.05,1252.65 203.44,1259.5 210.9,1262.1 C218.36,1264.69 231.23,1265.37 236.2,1267.3 C241.16,1269.23 241.18,1270.99 244,1275 C246.82,1279.01 253.35,1291.15 255,1294" fill="none" stroke="#f08a2e" stroke-width="6" stroke-linecap="round" stroke-linejoin="round"/>
<path d="M186.5,1243 C189.19,1239.74 198.79,1227.66 204.4,1221.3 C210.01,1214.94 219.13,1204.48 223.9,1200.6 C228.67,1196.71 230.36,1196.77 236.2,1195.4 C242.03,1194.04 254.93,1193.45 262.8,1191.5 C270.68,1189.55 281.89,1185.72 288.7,1182.4 C295.51,1179.09 303.06,1173.36 308.2,1169.4 C313.34,1165.44 320.78,1158.01 323,1156" fill="none" stroke="#f08a2e" stroke-width="7.5" stroke-linecap="round" stroke-linejoin="round"/>
<path d="M191.5,1245.9 C194.41,1242.99 206.04,1231.16 210.9,1226.5 C215.76,1221.84 220.11,1217.34 223.9,1214.8 C227.69,1212.26 230.36,1210.96 236.2,1209.6 C242.03,1208.23 255.9,1207.44 262.8,1205.7 C269.7,1203.96 276.37,1201.11 282.2,1198 C288.03,1194.89 295.58,1189.8 301.7,1185 C307.82,1180.2 319.81,1168.85 323,1166" fill="none" stroke="#f08a2e" stroke-width="6.5" stroke-linecap="round" stroke-linejoin="round"/>
<path d="M323,1158 C318.83,1163.03 303.25,1181.81 295.2,1191.5 C287.14,1201.19 277.09,1213.27 269.3,1222.6 C261.51,1231.93 248.27,1247.87 243.3,1253.7 C238.34,1259.54 237.26,1260.33 236.2,1261.5" fill="none" stroke="#f08a2e" stroke-width="7" stroke-linecap="round" stroke-linejoin="round"/>
<path d="M323,1167 C319.25,1171.35 305.65,1186.85 298,1196 C290.35,1205.15 279.5,1218.7 272,1228 C264.5,1237.3 252.8,1252.3 248,1258 C243.2,1263.7 241.2,1264.8 240,1266" fill="none" stroke="#f08a2e" stroke-width="6" stroke-linecap="round" stroke-linejoin="round"/>
<path d="M186.5,1246.7 C182.94,1249.7 171.37,1259.61 162.8,1266.7 C154.24,1273.8 134.41,1289.9 129.4,1294" fill="none" stroke="#f08a2e" stroke-width="8" stroke-linecap="round" stroke-linejoin="round"/>
<path d="M180,1252 C177,1255 166,1265.7 160,1272 C154,1278.3 143,1290.7 140,1294" fill="none" stroke="#f08a2e" stroke-width="5" stroke-linecap="round" stroke-linejoin="round"/>
<path d="M175,1031 C177.41,1035.11 186.69,1050.77 191.1,1058.4 C195.51,1066.04 200.46,1075.27 204.4,1081.9 C208.34,1088.53 213.89,1097.15 217.4,1102.6 C220.91,1108.04 224.88,1115.49 227.8,1118.2 C230.73,1120.91 232.62,1120.13 236.9,1120.7 C241.18,1121.27 250.48,1121.22 256.3,1122 C262.12,1122.78 269.87,1124.14 275.7,1125.9 C281.53,1127.66 289.37,1130.97 295.2,1133.7 C301.03,1136.43 310.43,1141.65 314.6,1144.1 C318.77,1146.54 321.74,1149.12 323,1150" fill="none" stroke="#f08a2e" stroke-width="8.5" stroke-linecap="round" stroke-linejoin="round"/>
<path d="M230,1113 C232,1112.61 238.38,1110.6 243.3,1110.4 C248.22,1110.21 257.94,1111.12 262.8,1111.7 C267.66,1112.29 270.84,1112.56 275.7,1114.3 C280.56,1116.04 290.32,1120.39 295.2,1123.3 C300.07,1126.21 304.03,1130.75 308.2,1133.7 C312.37,1136.65 320.78,1141.61 323,1143" fill="none" stroke="#f08a2e" stroke-width="6" stroke-linecap="round" stroke-linejoin="round"/>
<path d="M244,1031 C248.75,1037.66 267.05,1062.91 275.7,1075.4 C284.35,1087.89 294.6,1103.56 301.7,1114.3 C308.8,1125.04 319.81,1142.1 323,1147" fill="none" stroke="#f08a2e" stroke-width="12" stroke-linecap="round" stroke-linejoin="round"/>
<line x1="186.5" y1="1032.5" x2="186.5" y2="1292.2" stroke="#777" stroke-width="1.1" stroke-dasharray="3,2.5"/>
<line x1="236.7" y1="1032.5" x2="236.7" y2="1292.2" stroke="#777" stroke-width="1.1" stroke-dasharray="3,2.5"/>
<line x1="85.8" y1="1119.07" x2="323" y2="1119.07" stroke="#e8202a" stroke-width="1.5" stroke-dasharray="3.5,2.5"/>
</g>
<rect x="85.8" y="1032.5" width="237.2" height="259.7" stroke="#000" stroke-width="1.6" fill="none" />
<text x="79.5" y="1039.7" font-size="23.4" font-weight="bold" font-style="normal" fill="#000" text-anchor="end" >4</text>
<text x="79.5" y="1126.27" font-size="23.4" font-weight="bold" font-style="normal" fill="#000" text-anchor="end" >0</text>
<line x1="85.8" y1="1119.07" x2="90.8" y2="1119.07" stroke="#000" stroke-width="1.2" />
<text x="79.5" y="1212.83" font-size="23.4" font-weight="bold" font-style="normal" fill="#000" text-anchor="end" >-4</text>
<line x1="85.8" y1="1205.63" x2="90.8" y2="1205.63" stroke="#000" stroke-width="1.2" />
<text x="79.5" y="1299.4" font-size="23.4" font-weight="bold" font-style="normal" fill="#000" text-anchor="end" >-8</text>
<text x="89" y="1313.4" font-size="19.5" font-weight="bold" font-style="normal" fill="#000" text-anchor="middle" >&#915;</text>
<text x="186.6" y="1313.4" font-size="19.5" font-weight="bold" font-style="normal" fill="#000" text-anchor="middle" >K</text>
<text x="239" y="1313.4" font-size="19.5" font-weight="bold" font-style="normal" fill="#000" text-anchor="middle" >M</text>
<text x="323.5" y="1313.4" font-size="19.5" font-weight="bold" font-style="normal" fill="#000" text-anchor="middle" >&#915;</text>
<line x1="186.5" y1="1292.2" x2="186.5" y2="1288.7" stroke="#000" stroke-width="1" />
<line x1="236.7" y1="1292.2" x2="236.7" y2="1288.7" stroke="#000" stroke-width="1" />
<text transform="translate(54.3,1162.15) rotate(-90) scale(1,1.05)" text-anchor="middle" font-size="20" font-weight="bold" fill="#000">Energy (eV)</text>
<circle cx="244.5" cy="1138.5" r="5.8" fill="#2fb04a"/>
<text x="262" y="1144.8" font-size="18.3" font-weight="bold" font-style="normal" fill="#000" text-anchor="start" >C-2<tspan font-style="italic">p</tspan><tspan font-size="12.5" dy="4">x</tspan></text>
<circle cx="244.5" cy="1160" r="5.8" fill="#3450b0"/>
<text x="262" y="1166.3" font-size="18.3" font-weight="bold" font-style="normal" fill="#000" text-anchor="start" >C-2<tspan font-style="italic">p</tspan><tspan font-size="12.5" dy="4">y</tspan></text>
<circle cx="244.5" cy="1181.5" r="5.8" fill="#f08a2e"/>
<text x="262" y="1187.8" font-size="18.3" font-weight="bold" font-style="normal" fill="#000" text-anchor="start" >C-2<tspan font-style="italic">p</tspan><tspan font-size="12.5" dy="4">z</tspan></text>
<ellipse cx="242" cy="1111.6" rx="33.6" ry="13.9" fill="none" stroke="#f2e61c" stroke-width="2.2"/>
<text x="224.7" y="1116.3" font-size="20.5" font-weight="bold" font-style="normal" fill="#e8202a" text-anchor="start" >vHs</text>
<clipPath id="p372"><rect x="334.6" y="372.4" width="96.1" height="263"/></clipPath>
<g clip-path="url(#p372)">
<line x1="334.6" y1="460.07" x2="430.7" y2="460.07" stroke="#666" stroke-width="1.1" stroke-dasharray="3.5,2.5"/>
<path d="M335.95,372.42 C336.01,380.66 336.39,417.18 336.39,434.25 C336.39,451.33 335.89,482.84 335.95,500.51 C336.01,518.18 336.57,552.04 336.83,566.76 C337.1,581.49 337.05,602.39 337.94,610.93 C338.82,619.47 343.02,627.42 343.46,630.81 C343.9,634.2 341.55,635.59 341.25,636.33" fill="none" stroke="#3a4fb0" stroke-width="1.3" stroke-dasharray="4,3"/>
<path d="M343.46,372.42 C343.16,375.36 341.25,388.32 341.25,394.5 C341.25,400.69 342.28,413.49 343.46,418.8 C344.64,424.1 349.5,429.84 350.08,434.25 C350.67,438.67 349.05,448.39 347.88,451.92 C346.7,455.46 342.78,457.81 341.25,460.76 C339.72,463.7 337.22,469.88 336.39,474.01 C335.57,478.13 335.21,482.25 335.07,491.67 C334.92,501.1 335.2,525.39 335.29,544.68 C335.38,563.97 335.67,624.11 335.73,636.33" fill="none" stroke="#3db54a" stroke-width="1.3" stroke-dasharray="4,3"/>
<path d="M341.25,372.42 C343.02,372.71 349.2,373.89 354.5,374.63 C359.8,375.36 379.24,376.76 381,377.94 C382.77,379.12 370.11,382.13 367.75,383.46 C365.4,384.78 364.51,386.11 363.34,387.88 C362.16,389.64 360.1,394.35 358.92,396.71 C357.74,399.07 355.39,402.89 354.5,405.54 C353.62,408.19 352.88,412.76 352.29,416.59 C351.7,420.41 350.67,430.43 350.08,434.25 C349.5,438.08 348.76,442.35 347.88,445.3 C346.99,448.24 344.93,452.51 343.46,456.34 C341.99,460.17 338.01,469.88 336.83,474.01 C335.66,478.13 334.86,477.84 334.63,487.26 C334.39,496.68 334.54,535.84 335.07,544.68 C335.6,553.51 337.92,551.16 338.6,553.51 C339.28,555.87 340.38,560.58 340.15,562.35 C339.91,564.11 337.39,563.23 336.83,566.76 C336.27,570.3 336.01,579.57 335.95,588.85 C335.89,598.12 336.33,630 336.39,636.33" fill="none" stroke="#3db54a" stroke-width="1.3"/>
<path d="M361.13,372.42 C360.54,373.59 356.42,378.9 356.71,381.25 C357,383.61 364.22,388.02 363.34,390.08 C362.45,392.15 350.97,395.24 350.08,396.71 C349.2,398.18 353.77,400.24 356.71,401.13 C359.65,402.01 369.81,402.45 372.17,403.34 C374.53,404.22 375.85,406.28 374.38,407.75 C372.91,409.22 362.6,412.32 361.13,414.38 C359.65,416.44 362.45,420.86 363.34,423.21 C364.22,425.57 365.99,430.28 367.75,432.05 C369.52,433.81 376.29,434.99 376.59,436.46 C376.88,437.94 369.67,441.32 369.96,443.09 C370.26,444.86 376.44,447.95 378.8,449.71 C381.15,451.48 387.63,454.28 387.63,456.34 C387.63,458.4 382.33,462.82 378.8,465.17 C375.26,467.53 365.54,471.36 361.13,474.01 C356.71,476.66 349.2,481.81 345.67,485.05 C342.13,488.29 334.63,494.47 334.63,498.3 C334.63,502.13 342.13,509.34 345.67,513.76 C349.2,518.18 356.12,528.19 361.13,531.43 C366.13,534.67 378.5,536.58 383.21,538.05 C387.92,539.53 399.41,541.29 396.46,542.47 C393.52,543.65 367.31,545.71 361.13,546.89 C354.94,548.06 348.61,550.42 350.08,551.3 C351.56,552.19 363.92,552.63 372.17,553.51 C380.41,554.4 403.97,556.99 411.92,557.93 C419.87,558.87 430.03,559.4 431.8,560.58 C433.57,561.76 426.5,564.47 425.17,566.76 C423.85,569.06 422.01,574.86 421.86,577.81 C421.71,580.75 422.74,586.64 424.07,588.85 C425.39,591.06 430.77,593.63 431.8,594.37" fill="none" stroke="#3a4fb0" stroke-width="1.3"/>
</g>
<rect x="334.6" y="372.4" width="96.1" height="263" stroke="#000" stroke-width="1.6" fill="none" />
<line x1="334.6" y1="547.73" x2="338.6" y2="547.73" stroke="#000" stroke-width="1.2" />
<line x1="341.3" y1="563.5" x2="372.2" y2="563.5" stroke="#3db54a" stroke-width="1.6" stroke-dasharray="4.5,3.5"/>
<text x="376.1" y="569" font-size="16.2" font-weight="bold" font-style="normal" fill="#000" text-anchor="start" >Li1-2<tspan font-style="italic">s</tspan></text>
<line x1="341.3" y1="583.9" x2="372.2" y2="583.9" stroke="#3db54a" stroke-width="1.6"/>
<text x="376.1" y="589.4" font-size="16.2" font-weight="bold" font-style="normal" fill="#000" text-anchor="start" >Li1-2<tspan font-style="italic">p</tspan></text>
<line x1="341.3" y1="604.3" x2="372.2" y2="604.3" stroke="#3a4fb0" stroke-width="1.6" stroke-dasharray="4.5,3.5"/>
<text x="376.1" y="609.8" font-size="16.2" font-weight="bold" font-style="normal" fill="#000" text-anchor="start" >C-2<tspan font-style="italic">s</tspan></text>
<line x1="341.3" y1="624.7" x2="372.2" y2="624.7" stroke="#3a4fb0" stroke-width="1.6"/>
<text x="376.1" y="630.2" font-size="16.2" font-weight="bold" font-style="normal" fill="#000" text-anchor="start" >C-2<tspan font-style="italic">p</tspan></text>
<text x="342.4" y="651.7" font-size="16" font-weight="bold" font-style="normal" fill="#000" text-anchor="middle" >0.0</text>
<text x="386.5" y="651.7" font-size="16" font-weight="bold" font-style="normal" fill="#000" text-anchor="middle" >0.1</text>
<text x="421" y="651.7" font-size="16" font-weight="bold" font-style="normal" fill="#000" text-anchor="middle" >0.2</text>
<text transform="translate(384.65,664.2) scale(1.05,1)" font-size="15.2" font-weight="bold" font-style="normal" fill="#000" text-anchor="middle" >PDOS</text>
<line x1="388.5" y1="635.4" x2="388.5" y2="631.4" stroke="#000" stroke-width="1.2" />
<clipPath id="p704"><rect x="332.6" y="704.2" width="95.4" height="261.7"/></clipPath>
<g clip-path="url(#p704)">
<line x1="332.6" y1="791.43" x2="428" y2="791.43" stroke="#666" stroke-width="1.1" stroke-dasharray="3.5,2.5"/>
<path d="M334.83,704.18 C334.69,712.19 333.88,747.41 333.73,764.25 C333.58,781.1 333.58,812.84 333.73,830.51 C333.88,848.18 334.1,882.04 334.83,896.76 C335.57,911.49 338.07,931.66 339.25,940.93 C340.43,950.21 343.08,962.94 343.67,966.33" fill="none" stroke="#3a4fb0" stroke-width="1.3" stroke-dasharray="4,3"/>
<path d="M345.88,704.18 C344.99,705.13 340.28,709.43 339.25,711.25 C338.22,713.08 337.85,716.4 338.15,717.88 C338.44,719.35 340.43,721.12 341.46,722.29 C342.49,723.47 346.02,724.94 345.88,726.71 C345.73,728.48 341.24,732.89 340.36,735.54 C339.47,738.19 339.69,743.35 339.25,746.59 C338.81,749.83 337.48,754.54 337.04,759.84 C336.6,765.14 336.23,779.86 335.94,786.34 C335.64,792.82 335.13,796.65 334.83,808.42 C334.54,820.2 333.73,859.96 333.73,874.68 C333.73,889.4 334.63,906.63 334.83,918.85 C335.04,931.07 335.22,960 335.28,966.33" fill="none" stroke="#f08a2e" stroke-width="1.3" stroke-dasharray="4,3"/>
<path d="M370.17,704.18 C367.81,704.83 356.04,707.81 352.5,709.04 C348.97,710.28 345.43,712.43 343.67,713.46 C341.9,714.49 338.96,715.59 339.25,716.77 C339.55,717.95 343.82,721.26 345.88,722.29 C347.94,723.32 355,723.62 354.71,724.5 C354.42,725.39 345.73,726.56 343.67,728.92 C341.61,731.27 340.13,738.05 339.25,742.17 C338.37,746.29 337.48,754.54 337.04,759.84 C336.6,765.14 335.64,777.8 335.94,781.92 C336.23,786.04 339.25,788.99 339.25,790.76 C339.25,792.52 336.67,792.82 335.94,795.17 C335.2,797.53 334.17,803.71 333.73,808.42 C333.29,813.14 332.77,824.62 332.63,830.51 C332.48,836.4 332.48,846.7 332.63,852.59 C332.77,858.48 333.29,870.26 333.73,874.68 C334.17,879.1 335.2,882.19 335.94,885.72 C336.67,889.25 338.51,897.94 339.25,901.18 C339.99,904.42 341.75,907.66 341.46,910.01 C341.16,912.37 337.78,914.73 337.04,918.85 C336.31,922.97 335.94,934.6 335.94,940.93 C335.94,947.26 336.9,962.94 337.04,966.33" fill="none" stroke="#f08a2e" stroke-width="1.3"/>
<path d="M372.38,704.18 C370.61,704.83 362.07,707.81 359.13,709.04 C356.18,710.28 351.77,712.28 350.29,713.46 C348.82,714.64 347.5,716.7 348.08,717.88 C348.67,719.05 353.24,720.82 354.71,722.29 C356.18,723.77 358.54,726.27 359.13,728.92 C359.72,731.57 358.83,738.05 359.13,742.17 C359.42,746.29 360.16,755.42 361.34,759.84 C362.51,764.25 365.9,771.76 367.96,775.3 C370.02,778.83 375.03,784.28 376.8,786.34 C378.56,788.4 381.51,789.58 381.21,790.76 C380.92,791.93 376.35,794 374.59,795.17 C372.82,796.35 369.14,798.41 367.96,799.59 C366.78,800.77 366.93,802.53 365.75,804.01 C364.57,805.48 361.48,808.57 359.13,810.63 C356.77,812.69 350.44,816.82 348.08,819.47 C345.73,822.12 342.64,827.86 341.46,830.51 C340.28,833.16 339.84,837.58 339.25,839.34 C338.66,841.11 336.75,843.17 337.04,843.76 C337.34,844.35 339.99,842.58 341.46,843.76 C342.93,844.94 346.32,849.94 348.08,852.59 C349.85,855.24 352.35,860.99 354.71,863.64 C357.07,866.29 364.28,870.7 365.75,872.47 C367.22,874.24 366.05,875.41 365.75,876.89 C365.46,878.36 362.96,882.04 363.54,883.51 C364.13,884.98 366.93,887.05 370.17,887.93 C373.41,888.81 382.83,889.25 387.84,890.14 C392.84,891.02 403.3,893.08 407.71,894.55 C412.13,896.03 418.76,899.12 420.96,901.18 C423.17,903.24 423.16,906.33 424.28,910.01 C425.4,913.69 428.68,926.28 429.36,928.79" fill="none" stroke="#3a4fb0" stroke-width="1.3"/>
</g>
<rect x="332.6" y="704.2" width="95.4" height="261.7" stroke="#000" stroke-width="1.6" fill="none" />
<line x1="332.6" y1="878.67" x2="336.6" y2="878.67" stroke="#000" stroke-width="1.2" />
<line x1="339.3" y1="893.5" x2="371.3" y2="893.5" stroke="#f08a2e" stroke-width="1.6" stroke-dasharray="4.5,3.5"/>
<text x="375.7" y="899" font-size="16.2" font-weight="bold" font-style="normal" fill="#000" text-anchor="start" >Li2-2<tspan font-style="italic">s</tspan></text>
<line x1="339.3" y1="913.8" x2="371.3" y2="913.8" stroke="#f08a2e" stroke-width="1.6"/>
<text x="375.7" y="919.3" font-size="16.2" font-weight="bold" font-style="normal" fill="#000" text-anchor="start" >Li2-2<tspan font-style="italic">p</tspan></text>
<line x1="339.3" y1="934.1" x2="371.3" y2="934.1" stroke="#3a4fb0" stroke-width="1.6" stroke-dasharray="4.5,3.5"/>
<text x="375.7" y="939.6" font-size="16.2" font-weight="bold" font-style="normal" fill="#000" text-anchor="start" >C-2<tspan font-style="italic">s</tspan></text>
<line x1="339.3" y1="954.4" x2="371.3" y2="954.4" stroke="#3a4fb0" stroke-width="1.6"/>
<text x="375.7" y="959.9" font-size="16.2" font-weight="bold" font-style="normal" fill="#000" text-anchor="start" >C-2<tspan font-style="italic">p</tspan></text>
<text x="344.8" y="982.2" font-size="16" font-weight="bold" font-style="normal" fill="#000" text-anchor="middle" >0.0</text>
<text x="384.5" y="982.2" font-size="16" font-weight="bold" font-style="normal" fill="#000" text-anchor="middle" >0.1</text>
<text x="421" y="982.2" font-size="16" font-weight="bold" font-style="normal" fill="#000" text-anchor="middle" >0.2</text>
<text transform="translate(382.3,994.7) scale(1.05,1)" font-size="15.2" font-weight="bold" font-style="normal" fill="#000" text-anchor="middle" >PDOS</text>
<line x1="386.5" y1="965.9" x2="386.5" y2="961.9" stroke="#000" stroke-width="1.2" />
<clipPath id="p1032"><rect x="333.7" y="1032.2" width="94.3" height="259.1"/></clipPath>
<g clip-path="url(#p1032)">
<line x1="333.7" y1="1118.57" x2="428" y2="1118.57" stroke="#666" stroke-width="1.1" stroke-dasharray="3.5,2.5"/>
<path d="M334.83,1032.18 C334.78,1049.03 334.39,1132.83 334.39,1158.51 C334.39,1184.19 334.48,1211.51 334.83,1224.76 C335.19,1238.01 336.45,1248.91 337.04,1257.89 C337.63,1266.87 338.96,1287.56 339.25,1292.12" fill="none" stroke="#3a4fb0" stroke-width="1.3" stroke-dasharray="4,3"/>
<path d="M339.25,1032.63 C338.96,1034.69 337.48,1043.08 337.04,1048.08 C336.6,1053.09 336.23,1058.39 335.94,1070.17 C335.64,1081.95 335.04,1118.76 334.83,1136.42 C334.63,1154.09 334.39,1181.92 334.39,1202.68 C334.39,1223.44 334.78,1280.2 334.83,1292.12" fill="none" stroke="#f08a2e" stroke-width="1.3" stroke-dasharray="4,3"/>
<path d="M341.46,1032.18 C341.16,1033.71 339.25,1040.08 339.25,1043.67 C339.25,1047.26 340.87,1055.59 341.46,1059.13 C342.05,1062.66 343.67,1066.93 343.67,1070.17 C343.67,1073.41 341.46,1079.59 341.46,1083.42 C341.46,1087.25 343.67,1094.76 343.67,1098.88 C343.67,1103 342.2,1110.51 341.46,1114.34 C340.72,1118.17 339.03,1124.65 338.15,1127.59 C337.26,1130.53 335.33,1129.36 334.83,1136.42 C334.33,1143.49 334.39,1159.83 334.39,1180.59 C334.39,1201.35 334.78,1277.25 334.83,1292.12" fill="none" stroke="#3db54a" stroke-width="1.3" stroke-dasharray="4,3"/>
<path d="M348.08,1037.04 C347.5,1037.34 344.85,1038.07 343.67,1039.25 C342.49,1040.43 339.55,1043.52 339.25,1045.88 C338.96,1048.23 341.46,1053.68 341.46,1056.92 C341.46,1060.16 339.69,1065.46 339.25,1070.17 C338.81,1074.88 338.44,1086.37 338.15,1092.25 C337.85,1098.14 337.34,1108.45 337.04,1114.34 C336.75,1120.23 336.23,1130.53 335.94,1136.42 C335.64,1142.31 334.69,1149.67 334.83,1158.51 C334.98,1167.34 336.16,1194.73 337.04,1202.68 C337.93,1210.63 341.46,1215.19 341.46,1218.14 C341.46,1221.08 337.93,1220.94 337.04,1224.76 C336.16,1228.59 335.13,1237.87 334.83,1246.85 C334.54,1255.83 334.83,1286.09 334.83,1292.12" fill="none" stroke="#f08a2e" stroke-width="1.3"/>
<path d="M348.08,1032.18 C349.56,1032.83 357.36,1035.51 359.13,1037.04 C360.89,1038.57 360.75,1041.9 361.34,1043.67 C361.92,1045.43 364.43,1048.82 363.54,1050.29 C362.66,1051.77 355.59,1052.94 354.71,1054.71 C353.83,1056.48 357.8,1061.48 356.92,1063.54 C356.04,1065.61 349.85,1067.81 348.08,1070.17 C346.32,1072.53 344.11,1078.27 343.67,1081.21 C343.23,1084.16 344.77,1088.43 344.77,1092.25 C344.77,1096.08 344.11,1106.09 343.67,1109.92 C343.23,1113.75 342.34,1118.31 341.46,1120.96 C340.58,1123.61 337.93,1127.74 337.04,1129.8 C336.16,1131.86 335.19,1129.65 334.83,1136.42 C334.48,1143.2 334.24,1168.82 334.39,1180.59 C334.54,1192.37 335.82,1209.89 335.94,1224.76 C336.06,1239.63 335.36,1283.14 335.28,1292.12" fill="none" stroke="#3db54a" stroke-width="1.3"/>
<path d="M345.88,1032.18 C346.76,1032.83 351.32,1035.51 352.5,1037.04 C353.68,1038.57 353.09,1041.61 354.71,1043.67 C356.33,1045.73 365.24,1050.73 364.65,1052.5 C364.06,1054.27 351.91,1055.74 350.29,1056.92 C348.67,1058.1 351.32,1060.16 352.5,1061.34 C353.68,1062.51 357.95,1063.69 359.13,1065.75 C360.31,1067.81 360.45,1073.85 361.34,1076.8 C362.22,1079.74 364.87,1084.89 365.75,1087.84 C366.64,1090.78 366.49,1095.94 367.96,1098.88 C369.43,1101.82 374.44,1107.57 376.8,1109.92 C379.15,1112.28 385.63,1115.08 385.63,1116.55 C385.63,1118.02 378.27,1119.49 376.8,1120.96 C375.32,1122.44 376.94,1125.82 374.59,1127.59 C372.23,1129.36 362.66,1132.45 359.13,1134.22 C355.59,1135.98 350.73,1138.78 348.08,1140.84 C345.43,1142.9 341.16,1147.32 339.25,1149.67 C337.34,1152.03 333.44,1155.86 333.73,1158.51 C334.02,1161.16 338.66,1166.61 341.46,1169.55 C344.26,1172.5 350.88,1177.35 354.71,1180.59 C358.54,1183.83 366.93,1190.61 370.17,1193.84 C373.41,1197.08 376.06,1202.83 379,1204.89 C381.95,1206.95 387.54,1208.13 392.25,1209.3 C396.97,1210.48 409.48,1212.84 414.34,1213.72 C419.2,1214.6 428.11,1215.34 428.69,1215.93 C429.28,1216.52 420.08,1216.08 418.76,1218.14 C417.43,1220.2 418.46,1228.44 418.76,1231.39 C419.05,1234.33 419.64,1237.43 420.96,1240.22 C422.29,1243.02 427.66,1250.75 428.69,1252.37" fill="none" stroke="#3a4fb0" stroke-width="1.3"/>
<path d="M428.69,1257.89 C427.66,1258.18 422.29,1259.36 420.96,1260.1 C419.64,1260.84 417.73,1262.68 418.76,1263.41 C419.79,1264.15 427.37,1265.33 428.69,1265.62" fill="none" stroke="#3a4fb0" stroke-width="1.3"/>
</g>
<rect x="333.7" y="1032.2" width="94.3" height="259.1" stroke="#000" stroke-width="1.6" fill="none" />
<line x1="333.7" y1="1204.93" x2="337.7" y2="1204.93" stroke="#000" stroke-width="1.2" />
<line x1="340.4" y1="1178.4" x2="371.3" y2="1178.4" stroke="#3db54a" stroke-width="1.6" stroke-dasharray="4.5,3.5"/>
<text x="375.7" y="1183.9" font-size="16.2" font-weight="bold" font-style="normal" fill="#000" text-anchor="start" >Li1-2<tspan font-style="italic">s</tspan></text>
<line x1="340.4" y1="1198.6" x2="371.3" y2="1198.6" stroke="#3db54a" stroke-width="1.6"/>
<text x="375.7" y="1204.1" font-size="16.2" font-weight="bold" font-style="normal" fill="#000" text-anchor="start" >Li1-2<tspan font-style="italic">p</tspan></text>
<line x1="340.4" y1="1218.8" x2="371.3" y2="1218.8" stroke="#f08a2e" stroke-width="1.6" stroke-dasharray="4.5,3.5"/>
<text x="375.7" y="1224.3" font-size="16.2" font-weight="bold" font-style="normal" fill="#000" text-anchor="start" >Li2-2<tspan font-style="italic">s</tspan></text>
<line x1="340.4" y1="1239" x2="371.3" y2="1239" stroke="#f08a2e" stroke-width="1.6"/>
<text x="375.7" y="1244.5" font-size="16.2" font-weight="bold" font-style="normal" fill="#000" text-anchor="start" >Li2-2<tspan font-style="italic">p</tspan></text>
<line x1="340.4" y1="1259.2" x2="371.3" y2="1259.2" stroke="#3a4fb0" stroke-width="1.6" stroke-dasharray="4.5,3.5"/>
<text x="375.7" y="1264.7" font-size="16.2" font-weight="bold" font-style="normal" fill="#000" text-anchor="start" >C-2<tspan font-style="italic">s</tspan></text>
<line x1="340.4" y1="1279.4" x2="371.3" y2="1279.4" stroke="#3a4fb0" stroke-width="1.6"/>
<text x="375.7" y="1284.9" font-size="16.2" font-weight="bold" font-style="normal" fill="#000" text-anchor="start" >C-2<tspan font-style="italic">p</tspan></text>
<text x="344.8" y="1307.6" font-size="16" font-weight="bold" font-style="normal" fill="#000" text-anchor="middle" >0.0</text>
<text x="384.5" y="1307.6" font-size="16" font-weight="bold" font-style="normal" fill="#000" text-anchor="middle" >0.1</text>
<text x="421" y="1307.6" font-size="16" font-weight="bold" font-style="normal" fill="#000" text-anchor="middle" >0.2</text>
<text transform="translate(382.85,1320.1) scale(1.05,1)" font-size="15.2" font-weight="bold" font-style="normal" fill="#000" text-anchor="middle" >PDOS</text>
<line x1="386.5" y1="1291.3" x2="386.5" y2="1287.3" stroke="#000" stroke-width="1.2" />
<defs><linearGradient id="cbar" x1="0" x2="1" y1="0" y2="0">
<stop offset="0" stop-color="#3a48a0"/><stop offset="0.12" stop-color="#3a58b0"/><stop offset="0.2" stop-color="#2a9ad8"/>
<stop offset="0.27" stop-color="#5cc0e0"/><stop offset="0.36" stop-color="#6ac0b0"/><stop offset="0.47" stop-color="#58b050"/>
<stop offset="0.6" stop-color="#5cb048"/><stop offset="0.68" stop-color="#98c440"/><stop offset="0.78" stop-color="#ece22a"/>
<stop offset="0.86" stop-color="#f0a030"/><stop offset="0.94" stop-color="#e83a30"/><stop offset="1" stop-color="#e82a2a"/>
</linearGradient></defs>
<path d="M517.5,48.92 L653.95,48.47 M442.76,146.27 L517.5,48.92 M653.95,48.47 L732.43,146.35 M518.94,78.23 L651.52,77.93 M446.52,174.32 L518.94,78.23 M651.52,77.93 L727.47,174.69 M517.5,48.92 L518.94,78.23 M653.95,48.47 L651.52,77.93" fill="none" stroke="#000" stroke-width="2.4" stroke-linecap="round"/>
<g fill="currentColor" stroke="currentColor" stroke-width="0.6">
<path color="#389646" d="M600,54.6l0,1.5l-.9,29.3l0-1.5z"/>
<path color="#5fc450" d="M571.3,56.2l0-1.5l-.1,29.3l.1,1.5z"/>
<path color="#30813c" d="M600,56.1l0,1.5l-.9,29.3l0-1.5z"/>
<path color="#4b9c40" d="M571.4,57.7l-.1-1.5l0,29.3l0,1.5z"/>
<path color="#379546" d="M600,57.6l0,1.6l-.9,29.3l0-1.6z"/>
<path color="#4b9f41" d="M571.4,59.3l0-1.6l-.1,29.3l0,1.5z"/>
<path color="#338e43" d="M600,59.2l.1,1.6l-.9,29.3l-.1-1.6z"/>
<path color="#4ca444" d="M571.4,60.9l0-1.6l-.1,29.2l0,1.6z"/>
<path color="#318a42" d="M600.1,60.8l.1,1.6l-1,29.3l0-1.6z"/>
<path color="#49a143" d="M571.3,62.5l.1-1.6l-.1,29.2l-.1,1.6z"/>
<path color="#2e843f" d="M600.2,62.4l.1,1.7l-.9,29.2l-.2-1.6z"/>
<path color="#54bc4f" d="M571.2,64.1l.1-1.6l-.1,29.2l0,1.6z"/>
<path color="#2b7c3b" d="M600.3,64.1l.1,1.6l-.9,29.2l-.1-1.6z"/>
<path color="#46a145" d="M571.1,65.8l.1-1.7l0,29.2l-.1,1.7z"/>
<path color="#2f8a42" d="M600.4,65.7l.3,1.7l-1,29.2l-.2-1.7z"/>
<path color="#3c8d3d" d="M571,67.5l.1-1.7l0,29.2l-.2,1.7z"/>
<path color="#297b3b" d="M600.7,67.4l.2,1.8l-.9,29.1l-.3-1.7z"/>
<path color="#47aa4a" d="M570.7,69.2l.3-1.7l-.1,29.2l-.3,1.7z"/>
<path color="#277739" d="M600.9,69.2l.4,1.7l-.9,29.1l-.4-1.7z"/>
<path color="#3a8f3e" d="M570.4,71l.3-1.8l-.1,29.2l-.3,1.7z"/>
<path color="#2a813f" d="M601.3,70.9l.4,1.7l-.9,29.2l-.4-1.8z"/>
<path color="#3fa047" d="M570,72.7l.4-1.7l-.1,29.1l-.3,1.7z"/>
<path color="#277b3c" d="M601.7,72.6l.6,1.8l-1,29.1l-.5-1.7z"/>
<path color="#40a74a" d="M569.5,74.5l.5-1.8l0,29.1l-.5,1.8z"/>
<path color="#216a34" d="M602.3,74.4l.6,1.8l-1,29.1l-.6-1.8z"/>
<path color="#389845" d="M568.9,76.2l.6-1.7l0,29.1l-.6,1.7z"/>
<path color="#26763a" d="M602.9,76.2l.8,1.7l-1.1,29.1l-.7-1.7z"/>
<path color="#2a7636" d="M568.2,78l.7-1.8l0,29.1l-.7,1.7z"/>
<path color="#276a33" d="M603.7,77.9l.8,1.8l-1,29l-.9-1.7z"/>
<path color="#339444" d="M567.4,79.8l.8-1.8l0,29l-.7,1.8z"/>
<path color="#347f3d" d="M604.5,79.7l1,1.7l-1.1,29l-.9-1.7z"/>
<path color="#358c40" d="M566.5,81.5l.9-1.7l.1,29l-.9,1.7z"/>
<path color="#3a813d" d="M605.5,81.4l1.1,1.7l-1.1,29l-1.1-1.7z"/>
<path color="#337b38" d="M565.5,83.2l1-1.7l.1,29l-1.1,1.7z"/>
<path color="#397436" d="M606.6,83.1l1.2,1.7l-1.2,29l-1.1-1.7z"/>
<path color="#4fa342" d="M675.6,89.7l1.7-.9l-3.2,29.1l-1.6,.8z"/>
<path color="#3e883e" d="M564.3,84.8l1.2-1.6l0,29l-1.1,1.6z"/>
<path color="#58b94c" d="M673.9,90.5l1.7-.8l-3.1,29l-1.7,.8z"/>
<path color="#447f3b" d="M607.8,84.8l1.3,1.6l-1.2,28.9l-1.3-1.5z"/>
<path color="#60cb54" d="M672.2,91.3l1.7-.8l-3.1,29l-1.6,.8z"/>
<path color="#40803a" d="M563,86.4l1.3-1.6l.1,29l-1.2,1.6z"/>
<path color="#3a642e" d="M609.1,86.4l1.5,1.5l-1.2,29l-1.5-1.6z"/>
<path color="#52b149" d="M670.4,92.1l1.8-.8l-3,29l-1.7,.8z"/>
<path color="#389546" d="M495.5,89.2l1.7,.8l2,28.8l-1.6-.8z"/>
<path color="#4d8e40" d="M561.6,88l1.4-1.6l.2,29l-1.4,1.5z"/>
<path color="#54ba4e" d="M668.6,92.9l1.8-.8l-2.9,29l-1.8,.8z"/>
<path color="#477334" d="M610.6,87.9l1.6,1.5l-1.3,28.9l-1.5-1.4z"/>
<path color="#3ba04b" d="M497.2,90l1.6,.8l2.1,28.8l-1.7-.8z"/>
<path color="#49a445" d="M666.8,93.7l1.8-.8l-2.9,29l-1.8,.8z"/>
<path color="#467835" d="M560.1,89.5l1.5-1.5l.2,28.9l-1.5,1.5z"/>
<path color="#2e7d3b" d="M498.8,90.8l1.8,.8l1.9,28.8l-1.6-.8z"/>
<path color="#41632d" d="M612.2,89.4l1.6,1.4l-1.3,28.9l-1.6-1.4z"/>
<path color="#46a044" d="M664.9,94.5l1.9-.8l-2.9,29l-1.8,.8z"/>
<path color="#318840" d="M500.6,91.6l1.7,.8l1.9,28.8l-1.7-.8z"/>
<path color="#436a2f" d="M558.4,90.9l1.7-1.4l.2,28.9l-1.6,1.4z"/>
<path color="#46a346" d="M662.9,95.3l2-.8l-2.8,29l-2,.7z"/>
<path color="#4e6f32" d="M613.8,90.8l1.9,1.3l-1.4,28.9l-1.8-1.3z"/>
<path color="#2d7f3c" d="M502.3,92.4l1.8,.8l1.9,28.8l-1.8-.8z"/>
<path color="#3e9541" d="M660.9,96l2-.7l-2.8,28.9l-1.9,.7z"/>
<path color="#5a843a" d="M556.6,92.2l1.8-1.3l.3,28.9l-1.7,1.3z"/>
<path color="#2b7a3a" d="M504.1,93.2l1.9,.8l1.8,28.8l-1.8-.8z"/>
<path color="#4a632c" d="M615.7,92.1l1.9,1.3l-1.5,28.9l-1.8-1.3z"/>
<path color="#45ab4b" d="M658.8,96.7l2.1-.7l-2.7,28.9l-2,.7z"/>
<path color="#2b7b3b" d="M506,94l1.9,.8l1.7,28.8l-1.8-.8z"/>
<path color="#4f642c" d="M617.6,93.4l2,1.1l-1.5,28.9l-2-1.1z"/>
<path color="#4d692e" d="M554.8,93.5l1.8-1.3l.4,28.9l-1.8,1.2z"/>
<path color="#3b9542" d="M656.7,97.3l2.1-.6l-2.6,28.9l-2.1,.6z"/>
<path color="#2b7f3d" d="M507.9,94.8l1.9,.7l1.7,28.8l-1.9-.7z"/>
<path color="#607332" d="M619.6,94.5l2.1,1l-1.6,28.9l-2-1z"/>
<path color="#3fa64a" d="M654.5,97.9l2.2-.6l-2.6,28.9l-2.1,.6z"/>
<path color="#4d632b" d="M552.8,94.6l2-1.1l.4,28.8l-1.9,1.1z"/>
<path color="#1c7474" d="M590.3,94.2l-4.2-.1l-.5,28.9l4,.1z"/>
<path color="#1b6f6f" d="M586.1,94.1l-4.1,.2l-.4,28.8l4-.1z"/>
<path color="#1a6e6d" d="M594.4,94.6l-4.1-.4l-.7,28.9l4,.3z"/>
<path color="#2a7e3d" d="M509.8,95.5l2.1,.7l1.6,28.8l-2-.7z"/>
<path color="#1b706f" d="M582,94.3l-4.1,.3l-.3,28.8l4-.3z"/>
<path color="#389644" d="M652.2,98.4l2.3-.5l-2.5,28.9l-2.2,.4z"/>
<path color="#196968" d="M598.5,95.1l-4.1-.5l-.8,28.8l4,.6z"/>
<path color="#56682d" d="M621.7,95.5l2.2,.9l-1.7,28.9l-2.1-.9z"/>
<path color="#1c7574" d="M577.9,94.6l-4.1,.5l-.1,28.9l3.9-.6z"/>
<path color="#2a813e" d="M511.9,96.2l2,.7l1.6,28.8l-2-.7z"/>
<path color="#1c7271" d="M602.5,95.8l-4-.7l-.9,28.9l3.9,.7z"/>
<path color="#52632b" d="M550.7,95.6l2.1-1l.5,28.8l-2,1z"/>
<path color="#2c7c39" d="M650,98.8l2.2-.4l-2.4,28.8l-2.2,.4z"/>
<path color="#4f652c" d="M623.9,96.4l2.2,.8l-1.7,28.9l-2.2-.8z"/>
<path color="#1c7372" d="M573.8,95.1l-4,.8l0,28.8l3.9-.7z"/>
<path color="#2f8940" d="M647.6,99.1l2.4-.3l-2.4,28.8l-2.3,.4z"/>
<path color="#1d7775" d="M606.5,96.8l-4-1l-1,28.9l3.9,1z"/>
<path color="#277a3b" d="M513.9,96.9l2.2,.6l1.5,28.8l-2.1-.6z"/>
<path color="#4e6b2f" d="M626.1,97.2l2.3,.7l-1.7,28.9l-2.3-.7z"/>
<path color="#697e36" d="M548.6,96.5l2.1-.9l.6,28.8l-2.1,.9z"/>
<path color="#379042" d="M645.2,99.3l2.4-.2l-2.3,28.9l-2.3,.2z"/>
<path color="#4d7132" d="M628.4,97.9l2.4,.6l-1.9,28.8l-2.2-.5z"/>
<path color="#1d7776" d="M569.8,95.9l-3.9,1l0,28.8l3.9-1z"/>
<path color="#29813f" d="M516.1,97.5l2.1,.6l1.5,28.7l-2.1-.5z"/>
<path color="#357e3a" d="M642.8,99.5l2.4-.2l-2.2,28.9l-2.3,.1z"/>
<path color="#1e7c79" d="M610.4,98l-3.9-1.2l-1.1,28.9l3.8,1.1z"/>
<path color="#4c7735" d="M630.8,98.5l2.4,.4l-1.9,28.9l-2.4-.5z"/>
<path color="#3b813a" d="M640.4,99.5l2.4,0l-2.1,28.8l-2.4,.1z"/>
<path color="#637d37" d="M546.4,97.3l2.2-.8l.6,28.8l-2.2,.8z"/>
<path color="#427032" d="M633.2,98.9l2.4,.3l-2,28.9l-2.3-.3z"/>
<path color="#3f7e39" d="M638,99.4l2.4,.1l-2.1,28.9l-2.3-.1z"/>
<path color="#46823a" d="M635.6,99.2l2.4,.2l-2,28.9l-2.4-.2z"/>
<path color="#226d35" d="M518.2,98.1l2.3,.4l1.4,28.8l-2.2-.5z"/>
<path color="#597835" d="M544.1,98l2.3-.7l.6,28.8l-2.2,.7z"/>
<path color="#1d7676" d="M565.9,96.9l-3.9,1.1l.2,28.8l3.7-1.1z"/>
<path color="#2b8340" d="M520.5,98.5l2.2,.5l1.4,28.7l-2.2-.4z"/>
<path color="#1b6e6b" d="M614.3,99.3l-3.9-1.3l-1.2,28.8l3.7,1.4z"/>
<path color="#4b6b30" d="M541.8,98.6l2.3-.6l.7,28.8l-2.2,.6z"/>
<path color="#256531" d="M522.7,99l2.4,.3l1.2,28.7l-2.2-.3z"/>
<path color="#56823b" d="M539.4,99l2.4-.4l.8,28.8l-2.3,.4z"/>
<path color="#327b3b" d="M525.1,99.3l2.3,.2l1.2,28.7l-2.3-.2z"/>
<path color="#1f7c7b" d="M562,98l-3.8,1.4l.3,28.8l3.7-1.4z"/>
<path color="#4d7d39" d="M537,99.4l2.4-.4l.9,28.8l-2.4,.3z"/>
<path color="#337136" d="M527.4,99.5l2.4,.1l1.1,28.8l-2.3-.2z"/>
<path color="#3c6930" d="M534.6,99.6l2.4-.2l.9,28.7l-2.3,.2z"/>
<path color="#3a7637" d="M529.8,99.6l2.4,.1l1.1,28.7l-2.4,0z"/>
<path color="#1d7875" d="M618,100.9l-3.7-1.6l-1.4,28.9l3.6,1.5z"/>
<path color="#376730" d="M532.2,99.7l2.4-.1l1,28.7l-2.3,.1z"/>
<path color="#1d7675" d="M558.2,99.4l-3.6,1.6l.4,28.7l3.5-1.5z"/>
<path color="#1d7673" d="M621.6,102.7l-3.6-1.8l-1.5,28.8l3.5,1.8z"/>
<path color="#3a9b49" d="M693.6,109.4l-1.7,.8l-3.6,28.8l1.6-.8z"/>
<path color="#20807f" d="M554.6,101l-3.6,1.8l.5,28.7l3.5-1.8z"/>
<path color="#1e7b77" d="M625,104.6l-3.4-1.9l-1.6,28.8l3.4,1.9z"/>
<path color="#3b9f4b" d="M691.9,110.2l-1.7,.8l-3.6,28.8l1.7-.8z"/>
<path color="#1d7371" d="M551,102.8l-3.4,1.9l.7,28.7l3.2-1.9z"/>
<path color="#328a41" d="M690.2,111l-1.8,.8l-3.5,28.8l1.7-.8z"/>
<path color="#1c7570" d="M628.3,106.7l-3.3-2.1l-1.6,28.8l3.2,2.1z"/>
<path color="#349144" d="M688.4,111.8l-1.7,.9l-3.5,28.7l1.7-.8z"/>
<path color="#714518" d="M589.5,105.5l-3.2,0l-.5,28.7l3.1,.1z"/>
<path color="#673f16" d="M586.3,105.5l-3.2,0l-.5,28.8l3.2-.1z"/>
<path color="#724519" d="M592.8,105.8l-3.3-.3l-.6,28.8l3.1,.2z"/>
<path color="#1c6e6d" d="M547.6,104.7l-3.2,2.1l.7,28.7l3.2-2.1z"/>
<path color="#663e16" d="M583.1,105.5l-3.3,.3l-.3,28.7l3.1-.2z"/>
<path color="#8a531e" d="M596,106.2l-3.2-.4l-.8,28.7l3.2,.4z"/>
<path color="#389e4b" d="M686.7,112.7l-1.8,.9l-3.4,28.7l1.7-.9z"/>
<path color="#1a6965" d="M631.5,109l-3.2-2.3l-1.7,28.8l3,2.3z"/>
<path color="#5dc04e" d="M481.6,110.4l-1.7-.8l2.6,28.6l1.7,.8z"/>
<path color="#84501c" d="M579.8,105.8l-3.2,.4l-.2,28.7l3.1-.4z"/>
<path color="#87521e" d="M599.1,106.8l-3.1-.6l-.8,28.7l3,.6z"/>
<path color="#7f4d1b" d="M576.6,106.2l-3.1,.6l-.1,28.7l3-.6z"/>
<path color="#694017" d="M602.2,107.6l-3.1-.8l-.9,28.7l3.1,.8z"/>
<path color="#499d41" d="M483.3,111.2l-1.7-.8l2.6,28.6l1.6,.8z"/>
<path color="#369b4a" d="M684.9,113.6l-1.8,.9l-3.4,28.8l1.8-1z"/>
<path color="#643d15" d="M573.5,106.8l-3.1,.8l0,28.7l3-.8z"/>
<path color="#714519" d="M605.3,108.5l-3.1-.9l-.9,28.7l2.9,.9z"/>
<path color="#1d7472" d="M544.4,106.8l-3.1,2.3l.8,28.7l3-2.3z"/>
<path color="#53b84d" d="M485.1,112l-1.8-.8l2.5,28.6l1.7,.8z"/>
<path color="#1f807a" d="M634.4,111.5l-2.9-2.5l-1.9,28.8l2.9,2.4z"/>
<path color="#79491a" d="M570.4,107.6l-3,.9l0,28.7l3-.9z"/>
<path color="#2a793a" d="M683.1,114.5l-1.7,1l-3.4,28.7l1.7-.9z"/>
<path color="#673f17" d="M608.3,109.6l-3-1.1l-1.1,28.7l2.9,1.1z"/>
<path color="#45a044" d="M486.8,112.9l-1.7-.9l2.4,28.6l1.7,.8z"/>
<path color="#754719" d="M567.4,108.5l-3,1.1l.1,28.7l2.9-1.1z"/>
<path color="#633c17" d="M611.2,110.8l-2.9-1.2l-1.2,28.7l2.8,1.2z"/>
<path color="#297a3a" d="M681.4,115.5l-1.8,1.1l-3.3,28.6l1.7-1z"/>
<path color="#45a849" d="M488.6,113.8l-1.8-.9l2.4,28.5l1.7,.9z"/>
<path color="#1c706e" d="M541.3,109.1l-2.8,2.5l.8,28.6l2.8-2.4z"/>
<path color="#8b541e" d="M564.4,109.6l-2.8,1.2l.2,28.7l2.7-1.2z"/>
<path color="#1e7a74" d="M637.2,114.1l-2.8-2.6l-1.9,28.7l2.7,2.6z"/>
<path color="#804e1e" d="M614,112.2l-2.8-1.4l-1.3,28.7l2.8,1.3z"/>
<path color="#267136" d="M679.6,116.6l-1.8,1.1l-3.2,28.6l1.7-1.1z"/>
<path color="#41a84b" d="M490.4,114.7l-1.8-.9l2.3,28.5l1.8,.9z"/>
<path color="#85501c" d="M561.6,110.8l-2.8,1.4l.3,28.6l2.7-1.3z"/>
<path color="#6a4019" d="M616.7,113.7l-2.7-1.5l-1.3,28.6l2.6,1.6z"/>
<path color="#297d3d" d="M677.8,117.7l-1.7,1.1l-3.2,28.7l1.7-1.2z"/>
<path color="#399b47" d="M492.1,115.7l-1.7-1l2.3,28.5l1.7,1z"/>
<path color="#233572" d="M589.1,112.4l-2.7-.1l-.5,28.7l2.6,0z"/>
<path color="#263a7d" d="M586.4,112.3l-2.7,.1l-.5,28.6l2.7,0z"/>
<path color="#213d6e" d="M591.8,112.6l-2.7-.2l-.6,28.6l2.6,.2z"/>
<path color="#238485" d="M538.5,111.6l-2.7,2.6l.9,28.6l2.6-2.6z"/>
<path color="#2a4c8a" d="M583.7,112.4l-2.7,.2l-.4,28.6l2.6-.2z"/>
<path color="#1e4163" d="M594.4,112.9l-2.6-.3l-.7,28.6l2.6,.4z"/>
<path color="#24507a" d="M581,112.6l-2.6,.4l-.3,28.6l2.5-.4z"/>
<path color="#266381" d="M597.1,113.4l-2.7-.5l-.7,28.7l2.5,.5z"/>
<path color="#1a6c67" d="M639.8,116.9l-2.6-2.8l-2,28.7l2.5,2.7z"/>
<path color="#7f4d1b" d="M558.8,112.2l-2.6,1.6l.3,28.6l2.6-1.6z"/>
<path color="#349043" d="M493.9,116.7l-1.8-1l2.3,28.5l1.7,1z"/>
<path color="#276584" d="M578.4,113l-2.7,.5l-.2,28.6l2.6-.5z"/>
<path color="#8b5521" d="M619.3,115.4l-2.6-1.7l-1.4,28.7l2.5,1.6z"/>
<path color="#1c5560" d="M599.7,114.1l-2.6-.7l-.9,28.7l2.5,.6z"/>
<path color="#236b34" d="M676.1,118.8l-1.7,1.2l-3.1,28.7l1.6-1.2z"/>
<path color="#1e5a66" d="M575.7,113.5l-2.5,.6l-.2,28.6l2.5-.6z"/>
<path color="#237476" d="M602.2,114.8l-2.5-.7l-1,28.6l2.5,.8z"/>
<path color="#3e8e41" d="M495.7,117.8l-1.8-1.1l2.2,28.5l1.7,1.1z"/>
<path color="#227375" d="M573.2,114.1l-2.6,.8l0,28.6l2.4-.8z"/>
<path color="#7d4c1b" d="M556.2,113.8l-2.6,1.6l.5,28.6l2.4-1.6z"/>
<path color="#216170" d="M604.7,115.7l-2.5-.9l-1,28.7l2.4,.9z"/>
<path color="#26793b" d="M674.4,120l-1.7,1.3l-3.1,28.7l1.7-1.3z"/>
<path color="#8d5621" d="M621.7,117.2l-2.4-1.8l-1.5,28.6l2.3,1.8z"/>
<path color="#257d89" d="M535.8,114.2l-2.5,2.8l1,28.5l2.4-2.7z"/>
<path color="#246a7c" d="M570.6,114.9l-2.4,.9l0,28.6l2.4-.9z"/>
<path color="#1b6f69" d="M642.1,119.8l-2.3-2.9l-2.1,28.6l2.3,2.9z"/>
<path color="#235c79" d="M607.1,116.8l-2.4-1.1l-1.1,28.7l2.3,1z"/>
<path color="#386b30" d="M497.4,118.9l-1.7-1.1l2.1,28.5l1.7,1.1z"/>
<path color="#90571f" d="M553.6,115.4l-2.3,1.8l.5,28.6l2.3-1.8z"/>
<path color="#267d3d" d="M672.7,121.3l-1.6,1.4l-3,28.6l1.5-1.3z"/>
<path color="#205471" d="M568.2,115.8l-2.4,1l.1,28.6l2.3-1z"/>
<path color="#25547d" d="M609.4,117.9l-2.3-1.1l-1.2,28.6l2.3,1.1z"/>
<path color="#673e19" d="M624,119.1l-2.3-1.9l-1.6,28.6l2.3,1.9z"/>
<path color="#416b2f" d="M499.1,120.2l-1.7-1.3l2.1,28.5l1.7,1.2z"/>
<path color="#224e78" d="M565.8,116.8l-2.3,1.2l.2,28.5l2.2-1.1z"/>
<path color="#1e3d68" d="M611.7,119.2l-2.3-1.3l-1.2,28.6l2.2,1.3z"/>
<path color="#329bb5" d="M533.3,117l-2.3,2.9l1.1,28.4l2.2-2.8z"/>
<path color="#246e36" d="M671.1,122.7l-1.5,1.5l-3,28.5l1.5-1.4z"/>
<path color="#92581f" d="M551.3,117.2l-2.3,2l.6,28.5l2.2-1.9z"/>
<path color="#1f7d76" d="M644.3,122.8l-2.2-3l-2.1,28.6l2,3z"/>
<path color="#48672d" d="M500.8,121.5l-1.7-1.3l2.1,28.4l1.6,1.3z"/>
<path color="#855120" d="M626.2,121.2l-2.2-2.1l-1.6,28.6l2.1,2z"/>
<path color="#2d5ba2" d="M563.5,118l-2.2,1.2l.2,28.6l2.2-1.3z"/>
<path color="#2d4f9b" d="M613.8,120.6l-2.1-1.4l-1.3,28.6l2,1.4z"/>
<path color="#2d7c3c" d="M669.6,124.2l-1.5,1.5l-2.9,28.5l1.4-1.5z"/>
<path color="#678038" d="M502.4,122.8l-1.6-1.3l2,28.4l1.6,1.3z"/>
<path color="#294896" d="M561.3,119.2l-2.1,1.4l.3,28.6l2-1.4z"/>
<path color="#784b19" d="M549,119.2l-2.1,2l.7,28.5l2-2z"/>
<path color="#3049a6" d="M615.8,122.1l-2-1.5l-1.4,28.6l2,1.5z"/>
<path color="#8b5422" d="M628.2,123.3l-2-2.1l-1.7,28.5l1.9,2.2z"/>
<path color="#3aa6cc" d="M531,119.9l-2,3l1.2,28.4l1.9-3z"/>
<path color="#31783a" d="M668.1,125.7l-1.3,1.6l-3,28.5l1.4-1.6z"/>
<path color="#1b7069" d="M646.2,125.9l-1.9-3.1l-2.3,28.6l1.9,3.1z"/>
<path color="#5d7332" d="M504,124.2l-1.6-1.4l2,28.4l1.5,1.4z"/>
<path color="#3149b1" d="M559.2,120.6l-1.9,1.5l.3,28.5l1.9-1.4z"/>
<path color="#2c3d97" d="M617.7,123.7l-1.9-1.6l-1.4,28.6l1.9,1.6z"/>
<path color="#946919" d="M546.9,121.2l-1.9,2.2l.7,28.4l1.9-2.1z"/>
<path color="#905723" d="M630,125.6l-1.8-2.3l-1.8,28.6l1.8,2.2z"/>
<path color="#537233" d="M505.5,125.7l-1.5-1.5l1.9,28.4l1.4,1.5z"/>
<path color="#2d642f" d="M666.8,127.3l-1.3,1.6l-2.9,28.5l1.2-1.6z"/>
<path color="#2f41ab" d="M557.3,122.1l-1.9,1.7l.4,28.4l1.8-1.6z"/>
<path color="#263785" d="M619.5,125.4l-1.8-1.7l-1.4,28.6l1.7,1.6z"/>
<path color="#44bcee" d="M529,122.9l-1.8,3.1l1.2,28.4l1.8-3.1z"/>
<path color="#1c716a" d="M647.8,129.2l-1.6-3.3l-2.3,28.6l1.6,3.1z"/>
<path color="#e2ac22" d="M545,123.4l-1.7,2.3l.7,28.4l1.7-2.3z"/>
<path color="#4f7c38" d="M506.9,127.3l-1.4-1.6l1.8,28.4l1.4,1.6z"/>
<path color="#3045b1" d="M555.4,123.8l-1.7,1.7l.4,28.4l1.7-1.7z"/>
<path color="#794a1e" d="M631.6,128l-1.6-2.4l-1.8,28.5l1.5,2.4z"/>
<path color="#3a7638" d="M665.5,128.9l-1.2,1.8l-2.8,28.4l1.1-1.7z"/>
<path color="#24347d" d="M621.1,127.2l-1.6-1.8l-1.5,28.5l1.6,1.8z"/>
<path color="#3d6f34" d="M508.2,129l-1.3-1.7l1.8,28.4l1.2,1.6z"/>
<path color="#2a3c99" d="M553.7,125.5l-1.6,1.8l.5,28.4l1.5-1.8z"/>
<path color="#c59d1a" d="M543.3,125.7l-1.6,2.3l.8,28.4l1.5-2.3z"/>
<path color="#396b32" d="M664.3,130.7l-1,1.8l-2.8,28.4l1-1.8z"/>
<path color="#324aae" d="M622.6,129.1l-1.5-1.9l-1.5,28.5l1.4,1.9z"/>
<path color="#3ea7d3" d="M527.2,126l-1.6,3.2l1.3,28.4l1.5-3.2z"/>
<path color="#623c18" d="M633.1,130.4l-1.5-2.4l-1.9,28.5l1.5,2.4z"/>
<path color="#1d7870" d="M649.2,132.5l-1.4-3.3l-2.3,28.4l1.3,3.3z"/>
<path color="#3e843f" d="M509.3,130.7l-1.1-1.7l1.7,28.3l1.2,1.7z"/>
<path color="#2b3f9d" d="M552.1,127.3l-1.5,1.9l.6,28.3l1.4-1.8z"/>
<path color="#407034" d="M663.3,132.5l-.9,1.8l-2.8,28.4l.9-1.8z"/>
<path color="#223478" d="M624,131.1l-1.4-2l-1.6,28.5l1.3,1.9z"/>
<path color="#e1891e" d="M541.7,128l-1.4,2.5l.8,28.3l1.4-2.4z"/>
<path color="#794a1e" d="M634.4,132.9l-1.3-2.5l-1.9,28.5l1.2,2.5z"/>
<path color="#33833f" d="M510.4,132.5l-1.1-1.8l1.8,28.3l1,1.8z"/>
<path color="#48c0f0" d="M525.6,129.2l-1.3,3.3l1.4,28.3l1.2-3.2z"/>
<path color="#2a409c" d="M550.6,129.2l-1.3,1.9l.6,28.4l1.3-2z"/>
<path color="#314cac" d="M625.2,133.1l-1.2-2l-1.7,28.4l1.2,2z"/>
<path color="#426b31" d="M662.4,134.3l-.8,1.9l-2.8,28.4l.8-1.9z"/>
<path color="#1f7f76" d="M650.4,135.9l-1.2-3.4l-2.4,28.4l1.1,3.4z"/>
<path color="#c24f1a" d="M540.3,130.5l-1.2,2.5l.9,28.3l1.1-2.5z"/>
<path color="#237439" d="M511.4,134.3l-1-1.8l1.7,28.3l1,1.8z"/>
<path color="#76481e" d="M635.4,135.5l-1-2.6l-2,28.5l1,2.5z"/>
<path color="#3652c5" d="M549.3,131.1l-1.1,2l.6,28.4l1.1-2z"/>
<path color="#314eae" d="M626.2,135.2l-1-2.1l-1.7,28.4l1,2.1z"/>
<path color="#507936" d="M661.6,136.2l-.6,2l-2.8,28.4l.6-2z"/>
<path color="#43afd9" d="M524.3,132.5l-1,3.4l1.4,28.3l1-3.4z"/>
<path color="#29813f" d="M512.2,136.2l-.8-1.9l1.7,28.3l.7,1.9z"/>
<path color="#1e7c73" d="M651.2,139.3l-.8-3.4l-2.5,28.4l.8,3.4z"/>
<path color="#d72d1e" d="M539.1,133l-1,2.5l.9,28.3l1-2.5z"/>
<path color="#273d91" d="M548.2,133.1l-1,2.1l.7,28.3l.9-2z"/>
<path color="#855122" d="M636.3,138.2l-.9-2.7l-2,28.4l.9,2.6z"/>
<path color="#4e7032" d="M661,138.2l-.4,2l-2.8,28.3l.4-1.9z"/>
<path color="#223779" d="M627.1,137.4l-.9-2.2l-1.7,28.4l.9,2.1z"/>
<path color="#2a7e3d" d="M512.8,138.2l-.6-2l1.6,28.3l.7,1.9z"/>
<path color="#3655c7" d="M547.2,135.2l-.8,2.2l.7,28.3l.8-2.2z"/>
<path color="#4c662d" d="M660.6,140.2l-.3,2l-2.8,28.3l.3-2z"/>
<path color="#b8281b" d="M538.1,135.5l-.8,2.7l1,28.2l.7-2.6z"/>
<path color="#2b4699" d="M627.8,139.6l-.7-2.2l-1.7,28.3l.6,2.2z"/>
<path color="#4ac0eb" d="M523.3,135.9l-.8,3.4l1.4,28.2l.8-3.3z"/>
<path color="#78491f" d="M636.9,140.9l-.6-2.7l-2,28.3l.6,2.7z"/>
<path color="#1b6e65" d="M651.8,142.8l-.6-3.5l-2.5,28.4l.6,3.4z"/>
<path color="#2f8841" d="M513.3,140.2l-.5-2l1.7,28.2l.5,2z"/>
<path color="#2d47a4" d="M546.4,137.4l-.6,2.2l.6,28.2l.7-2.1z"/>
<path color="#5a7232" d="M660.3,142.2l-.2,2.1l-2.7,28.3l.1-2.1z"/>
<path color="#26408a" d="M628.4,141.8l-.6-2.2l-1.8,28.3l.6,2.2z"/>
<path color="#c22c1d" d="M537.3,138.2l-.6,2.7l1,28.2l.6-2.7z"/>
<path color="#633c1a" d="M637.4,143.6l-.5-2.7l-2,28.3l.4,2.7z"/>
<path color="#339045" d="M513.7,142.2l-.4-2l1.7,28.2l.3,2z"/>
<path color="#45b0d7" d="M522.5,139.3l-.5,3.5l1.4,28.2l.5-3.5z"/>
<path color="#2d49a6" d="M545.8,139.6l-.5,2.2l.7,28.2l.4-2.2z"/>
<path color="#667a34" d="M660.1,144.3l.1,2l-2.8,28.3l0-2z"/>
<path color="#208076" d="M652.2,146.3l-.4-3.5l-2.5,28.3l.3,3.5z"/>
<path color="#2e4fa7" d="M628.7,144.1l-.3-2.3l-1.8,28.3l.3,2.2z"/>
<path color="#389b49" d="M513.9,144.2l-.2-2l1.6,28.2l.2,2z"/>
<path color="#e13624" d="M536.7,140.9l-.3,2.7l.9,28.1l.4-2.6z"/>
<path color="#6a411c" d="M637.6,146.3l-.2-2.7l-2.1,28.3l.2,2.7z"/>
<path color="#586a2e" d="M660.2,146.3l.2,2.1l-2.8,28.2l-.2-2z"/>
<path color="#2f4cab" d="M545.3,141.8l-.3,2.2l.7,28.2l.3-2.2z"/>
<path color="#243f84" d="M628.9,146.3l-.2-2.2l-1.8,28.2l.2,2.3z"/>
<path color="#47bcdf" d="M522,142.8l-.2,3.5l1.4,28.1l.2-3.4z"/>
<path color="#399948" d="M513.9,146.3l0-2.1l1.6,28.2l0,2z"/>
<path color="#1e7a70" d="M652.2,149.9l0-3.6l-2.6,28.3l.1,3.5z"/>
<path color="#de3825" d="M536.4,143.6l-.2,2.7l1,28.1l.1-2.7z"/>
<path color="#52692e" d="M660.4,148.4l.3,2.1l-2.8,28.2l-.3-2.1z"/>
<path color="#77481f" d="M637.6,149.1l0-2.8l-2.1,28.3l0,2.7z"/>
<path color="#2d4ba6" d="M545,144l-.1,2.3l.7,28.1l.1-2.2z"/>
<path color="#223b7c" d="M628.9,148.6l0-2.3l-1.8,28.3l0,2.2z"/>
<path color="#5dc04e" d="M513.7,148.4l.2-2.1l1.6,28.1l-.1,2z"/>
<path color="#527131" d="M660.7,150.5l.6,2l-2.8,28.2l-.6-2z"/>
<path color="#389db5" d="M521.8,146.3l.1,3.5l1.4,28.1l-.1-3.5z"/>
<path color="#c13e22" d="M536.2,146.3l.1,2.7l1,28.1l-.1-2.7z"/>
<path color="#29399e" d="M544.9,146.3l0,2.3l.8,28.1l-.1-2.3z"/>
<path color="#1d756c" d="M652,153.4l.2-3.5l-2.5,28.2l-.3,3.5z"/>
<path color="#2d3eac" d="M628.7,150.9l.2-2.3l-1.8,28.2l-.2,2.2z"/>
<path color="#d43b1e" d="M637.4,151.8l.2-2.7l-2.1,28.2l-.2,2.7z"/>
<path color="#499d41" d="M513.4,150.4l.3-2l1.7,28l-.3,2.1z"/>
<path color="#5b863b" d="M661.3,152.5l.7,2.1l-2.9,28.1l-.6-2z"/>
<path color="#222f82" d="M544.9,148.6l.3,2.2l.7,28.1l-.2-2.2z"/>
<path color="#53b84d" d="M512.9,152.5l.5-2.1l1.7,28.1l-.5,2z"/>
<path color="#3042b7" d="M628.3,153.1l.4-2.2l-1.8,28.1l-.4,2.3z"/>
<path color="#e32c21" d="M536.3,149l.3,2.8l.9,28l-.2-2.7z"/>
<path color="#fe5123" d="M637,154.5l.4-2.7l-2.1,28.2l-.4,2.7z"/>
<path color="#578a3d" d="M662,154.6l.8,2l-2.9,28.1l-.8-2z"/>
<path color="#1c6f6e" d="M521.9,149.8l.3,3.5l1.4,28.1l-.3-3.5z"/>
<path color="#44caf5" d="M651.4,156.9l.6-3.5l-2.6,28.2l-.5,3.4z"/>
<path color="#233085" d="M545.2,150.8l.4,2.3l.7,28l-.4-2.2z"/>
<path color="#45a044" d="M512.3,154.5l.6-2l1.7,28l-.6,2z"/>
<path color="#3244bd" d="M627.8,155.4l.5-2.3l-1.8,28.2l-.5,2.2z"/>
<path color="#4c813a" d="M662.8,156.6l1,1.9l-2.9,28.1l-1-1.9z"/>
<path color="#d83321" d="M536.6,151.8l.5,2.7l.9,28l-.5-2.7z"/>
<path color="#cb491c" d="M636.3,157.2l.7-2.7l-2.1,28.2l-.6,2.6z"/>
<path color="#45a849" d="M511.5,156.5l.8-2l1.7,28l-.8,1.9z"/>
<path color="#2e3faf" d="M545.6,153.1l.6,2.2l.7,28l-.6-2.2z"/>
<path color="#1c7372" d="M522.2,153.3l.6,3.5l1.4,28l-.6-3.4z"/>
<path color="#4c8c3f" d="M663.8,158.5l1.1,1.9l-2.9,28.1l-1.1-1.9z"/>
<path color="#28389a" d="M627.1,157.6l.7-2.2l-1.8,28.1l-.7,2.1z"/>
<path color="#3aa8cc" d="M650.6,160.4l.8-3.5l-2.5,28.1l-.8,3.5z"/>
<path color="#b4331e" d="M537.1,154.5l.7,2.7l.9,28l-.7-2.7z"/>
<path color="#41a84b" d="M510.6,158.4l.9-1.9l1.7,27.9l-.9,2z"/>
<path color="#468c3f" d="M664.9,160.4l1.3,1.9l-3,28l-1.2-1.8z"/>
<path color="#fb6423" d="M635.5,159.9l.8-2.7l-2,28.1l-.9,2.7z"/>
<path color="#2c3da9" d="M546.2,155.3l.8,2.2l.6,28l-.7-2.2z"/>
<path color="#3245bd" d="M626.2,159.7l.9-2.1l-1.8,28l-.9,2.2z"/>
<path color="#397c38" d="M666.2,162.3l1.4,1.8l-3,28l-1.4-1.8z"/>
<path color="#196a69" d="M522.8,156.8l.9,3.5l1.3,27.9l-.8-3.4z"/>
<path color="#399b47" d="M509.5,160.3l1.1-1.9l1.7,28l-1,1.8z"/>
<path color="#98341c" d="M537.8,157.2l.9,2.6l.9,28l-.9-2.6z"/>
<path color="#3baed5" d="M649.5,163.8l1.1-3.4l-2.5,28.1l-1,3.4z"/>
<path color="#222f82" d="M547,157.5l.9,2.2l.7,27.9l-1-2.1z"/>
<path color="#f96d22" d="M634.4,162.5l1.1-2.6l-2.1,28.1l-1,2.5z"/>
<path color="#263593" d="M625.1,161.8l1.1-2.1l-1.8,28.1l-1,2z"/>
<path color="#307234" d="M667.6,164.1l1.5,1.7l-3,28l-1.5-1.7z"/>
<path color="#349043" d="M508.3,162.2l1.2-1.9l1.8,27.9l-1.2,1.9z"/>
<path color="#348a40" d="M669.1,165.8l1.6,1.7l-3.1,28l-1.5-1.7z"/>
<path color="#273593" d="M547.9,159.7l1.2,2.1l.6,27.9l-1.1-2.1z"/>
<path color="#9c401f" d="M538.7,159.8l1.1,2.6l.9,28l-1.1-2.6z"/>
<path color="#273694" d="M623.8,163.9l1.3-2.1l-1.7,28l-1.2,2z"/>
<path color="#1d7979" d="M523.7,160.3l1.1,3.4l1.4,27.9l-1.2-3.4z"/>
<path color="#3e8e41" d="M507,164l1.3-1.8l1.8,27.9l-1.3,1.7z"/>
<path color="#ff8225" d="M633.1,165.1l1.3-2.6l-2,28l-1.3,2.5z"/>
<path color="#3ab1d9" d="M648.2,167.2l1.3-3.4l-2.4,28.1l-1.3,3.3z"/>
<path color="#2f893f" d="M670.7,167.5l1.7,1.6l-3.2,28l-1.6-1.6z"/>
<path color="#25348e" d="M549.1,161.8l1.2,2l.6,27.9l-1.2-2z"/>
<path color="#386b30" d="M505.5,165.7l1.5-1.7l1.8,27.8l-1.4,1.7z"/>
<path color="#273695" d="M622.4,165.8l1.4-1.9l-1.6,27.9l-1.4,2z"/>
<path color="#2f843c" d="M672.4,169.1l1.8,1.5l-3.2,28l-1.8-1.5z"/>
<path color="#9e4e23" d="M539.8,162.4l1.4,2.6l.8,27.9l-1.3-2.5z"/>
<path color="#ff8723" d="M631.6,167.6l1.5-2.5l-2,27.9l-1.4,2.5z"/>
<path color="#416b2f" d="M504,167.3l1.5-1.6l1.9,27.8l-1.5,1.6z"/>
<path color="#186868" d="M524.8,163.7l1.5,3.4l1.3,27.8l-1.4-3.3z"/>
<path color="#30823b" d="M674.2,170.6l1.8,1.5l-3.3,27.9l-1.7-1.4z"/>
<path color="#233084" d="M550.3,163.8l1.5,2l.5,27.9l-1.4-2z"/>
<path color="#2c3da8" d="M620.9,167.7l1.5-1.9l-1.6,28l-1.5,1.9z"/>
<path color="#37b0d9" d="M646.6,170.5l1.6-3.3l-2.4,28l-1.6,3.2z"/>
<path color="#368d3f" d="M676,172.1l1.9,1.4l-3.3,27.9l-1.9-1.4z"/>
<path color="#48672d" d="M502.3,168.9l1.7-1.6l1.9,27.8l-1.5,1.6z"/>
<path color="#6b401a" d="M541.2,165l1.5,2.5l.8,27.8l-1.5-2.4z"/>
<path color="#ff8d24" d="M629.9,169.9l1.7-2.3l-1.9,27.9l-1.6,2.3z"/>
<path color="#2a3ba1" d="M551.8,165.8l1.6,1.9l.5,27.8l-1.6-1.8z"/>
<path color="#3a9441" d="M677.9,173.5l1.9,1.3l-3.4,27.9l-1.8-1.3z"/>
<path color="#3144bb" d="M619.2,169.5l1.7-1.8l-1.6,28l-1.7,1.7z"/>
<path color="#678038" d="M500.6,170.4l1.7-1.5l2.1,27.8l-1.7,1.5z"/>
<path color="#3a8e3e" d="M679.8,174.8l2,1.2l-3.5,27.9l-1.9-1.2z"/>
<path color="#196d6d" d="M526.3,167.1l1.7,3.3l1.2,27.8l-1.6-3.3z"/>
<path color="#62401a" d="M542.7,167.5l1.8,2.3l.7,27.9l-1.7-2.4z"/>
<path color="#33acd4" d="M644.7,173.7l1.9-3.2l-2.4,27.9l-1.9,3.2z"/>
<path color="#29389b" d="M553.4,167.7l1.7,1.8l.5,27.8l-1.7-1.8z"/>
<path color="#5d7332" d="M498.9,171.9l1.7-1.5l2.1,27.8l-1.7,1.4z"/>
<path color="#3d9340" d="M681.8,176l2,1.2l-3.6,27.8l-1.9-1.1z"/>
<path color="#f08424" d="M628.1,172.2l1.8-2.3l-1.8,27.9l-1.9,2.3z"/>
<path color="#2d3eab" d="M617.3,171.2l1.9-1.7l-1.6,27.9l-1.8,1.7z"/>
<path color="#439e44" d="M683.8,177.2l2,1.1l-3.6,27.8l-2-1.1z"/>
<path color="#537233" d="M497,173.2l1.9-1.3l2.1,27.7l-1.8,1.4z"/>
<path color="#223083" d="M555.1,169.5l1.9,1.7l.4,27.8l-1.8-1.7z"/>
<path color="#4fb64d" d="M685.8,178.3l2,1.1l-3.7,27.8l-1.9-1.1z"/>
<path color="#29399d" d="M615.3,172.8l2-1.6l-1.5,27.9l-1.9,1.6z"/>
<path color="#845723" d="M544.5,169.8l1.9,2.3l.7,27.8l-1.9-2.2z"/>
<path color="#4f7c38" d="M495.2,174.5l1.8-1.3l2.2,27.8l-1.8,1.2z"/>
<path color="#4dac49" d="M687.8,179.4l2,1l-3.8,27.8l-1.9-1z"/>
<path color="#ac601c" d="M626,174.4l2.1-2.2l-1.9,27.9l-2,2.2z"/>
<path color="#1c7a7a" d="M528,170.4l1.9,3.2l1.2,27.7l-1.9-3.1z"/>
<path color="#49a043" d="M689.8,180.4l1.9,1l-3.8,27.8l-1.9-1z"/>
<path color="#2c9cc0" d="M642.5,176.8l2.2-3.1l-2.4,27.9l-2.1,3z"/>
<path color="#2b3ca5" d="M557,171.2l2.1,1.6l.3,27.8l-2-1.6z"/>
<path color="#3d6f34" d="M493.3,175.8l1.9-1.3l2.2,27.7l-1.8,1.2z"/>
<path color="#3144bc" d="M613.2,174.3l2.1-1.5l-1.4,27.9l-2.1,1.4z"/>
<path color="#4ca344" d="M691.7,181.4l2,.9l-3.9,27.8l-1.9-.9z"/>
<path color="#53b049" d="M693.7,182.3l2,.9l-4,27.8l-1.9-.9z"/>
<path color="#6c481d" d="M546.4,172.1l2.1,2.2l.6,27.8l-2-2.2z"/>
<path color="#3e843f" d="M491.3,176.9l2-1.1l2.3,27.6l-1.9,1.2z"/>
<path color="#ac631e" d="M623.7,176.5l2.3-2.1l-1.8,27.9l-2.1,2z"/>
<path color="#2f41b3" d="M559.1,172.8l2.1,1.5l.2,27.7l-2-1.4z"/>
<path color="#50a644" d="M695.7,183.2l1.9,.9l-4,27.8l-1.9-.9z"/>
<path color="#3042b7" d="M611,175.7l2.2-1.4l-1.4,27.8l-2.1,1.4z"/>
<path color="#33833f" d="M489.4,178l1.9-1.1l2.4,27.7l-1.9,1.1z"/>
<path color="#52a945" d="M697.6,184.1l1.9,.9l-4,27.7l-1.9-.8z"/>
<path color="#1d7b7b" d="M529.9,173.6l2.3,3.1l1.1,27.7l-2.2-3.1z"/>
<path color="#243187" d="M561.2,174.3l2.3,1.3l.1,27.8l-2.2-1.4z"/>
<path color="#237439" d="M487.5,179.1l1.9-1.1l2.4,27.7l-1.9,1z"/>
<path color="#2a98b8" d="M640.1,179.8l2.4-3l-2.3,27.8l-2.3,3z"/>
<path color="#2c3da9" d="M608.6,176.9l2.4-1.2l-1.3,27.8l-2.3,1.2z"/>
<path color="#7c5423" d="M548.5,174.3l2.3,2.1l.5,27.7l-2.2-2z"/>
<path color="#9f5e1f" d="M621.3,178.4l2.4-1.9l-1.6,27.8l-2.4,1.9z"/>
<path color="#29813f" d="M485.5,180.1l2-1l2.4,27.6l-1.8,1z"/>
<path color="#263592" d="M563.5,175.6l2.4,1.3l0,27.7l-2.3-1.2z"/>
<path color="#2d3eab" d="M606.2,178l2.4-1.1l-1.2,27.8l-2.4,1.1z"/>
<path color="#2a7e3d" d="M483.6,181.1l1.9-1l2.6,27.6l-1.9,.9z"/>
<path color="#7c5423" d="M550.8,176.4l2.4,1.9l.5,27.7l-2.4-1.9z"/>
<path color="#2f8841" d="M481.7,182l1.9-.9l2.6,27.5l-1.8,1z"/>
<path color="#2c3da9" d="M565.9,176.9l2.4,1.1l0,27.7l-2.4-1.1z"/>
<path color="#1a6f6f" d="M532.2,176.7l2.4,2.9l1.1,27.7l-2.4-2.9z"/>
<path color="#a26423" d="M618.8,180.2l2.5-1.8l-1.6,27.8l-2.5,1.8z"/>
<path color="#222f82" d="M603.6,179l2.6-1l-1.2,27.8l-2.4,.9z"/>
<path color="#339045" d="M479.8,182.9l1.9-.9l2.7,27.6l-1.9,.8z"/>
<path color="#2589a3" d="M637.4,182.6l2.7-2.8l-2.2,27.8l-2.6,2.8z"/>
<path color="#2a3aa0" d="M568.3,178l2.6,1l-.1,27.7l-2.5-1z"/>
<path color="#2c3ca6" d="M601,179.8l2.6-.8l-1,27.7l-2.6,.9z"/>
<path color="#389b49" d="M477.9,183.8l1.9-.9l2.7,27.5l-1.8,.9z"/>
<path color="#825926" d="M553.2,178.3l2.6,1.8l.4,27.7l-2.5-1.8z"/>
<path color="#2a3aa0" d="M570.9,179l2.6,.8l-.2,27.7l-2.5-.8z"/>
<path color="#399948" d="M476.1,184.6l1.8-.8l2.8,27.5l-1.8,.9z"/>
<path color="#8a5822" d="M616.1,181.9l2.7-1.7l-1.6,27.8l-2.6,1.6z"/>
<path color="#233085" d="M598.4,180.5l2.6-.7l-1,27.8l-2.6,.6z"/>
<path color="#29399e" d="M573.5,179.8l2.7,.7l-.3,27.7l-2.6-.7z"/>
<path color="#3144bc" d="M595.6,181l2.8-.5l-1,27.7l-2.6,.5z"/>
<path color="#1c7777" d="M534.6,179.6l2.7,2.9l1,27.6l-2.6-2.8z"/>
<path color="#3143b9" d="M576.2,180.5l2.7,.5l-.3,27.7l-2.7-.5z"/>
<path color="#25338d" d="M592.9,181.4l2.7-.4l-.8,27.7l-2.7,.4z"/>
<path color="#69481f" d="M555.8,180.1l2.8,1.7l.3,27.7l-2.7-1.7z"/>
<path color="#258ba3" d="M634.6,185.3l2.8-2.7l-2.1,27.8l-2.8,2.6z"/>
<path color="#2c3ca7" d="M578.9,181l2.8,.4l-.4,27.7l-2.7-.4z"/>
<path color="#3143b9" d="M590.1,181.7l2.8-.3l-.8,27.7l-2.7,.2z"/>
<path color="#704c1f" d="M613.2,183.4l2.9-1.5l-1.5,27.7l-2.7,1.5z"/>
<path color="#2c3ca7" d="M581.7,181.4l2.8,.2l-.5,27.7l-2.7-.2z"/>
<path color="#2a3a9f" d="M587.3,181.7l2.8,0l-.7,27.6l-2.7,.1z"/>
<path color="#29399c" d="M584.5,181.6l2.8,.1l-.6,27.7l-2.7-.1z"/>
<path color="#65461e" d="M558.6,181.8l2.8,1.5l.2,27.7l-2.7-1.5z"/>
<path color="#765424" d="M610.3,184.8l2.9-1.4l-1.3,27.7l-2.9,1.3z"/>
<path color="#196a6a" d="M537.3,182.5l3,2.7l.8,27.6l-2.8-2.7z"/>
<path color="#228497" d="M631.5,187.9l3.1-2.6l-2.1,27.7l-3,2.5z"/>
<path color="#785525" d="M561.4,183.3l3,1.4l.1,27.6l-2.9-1.3z"/>
<path color="#58411c" d="M607.2,185.9l3.1-1.1l-1.3,27.6l-3,1.2z"/>
<path color="#795827" d="M564.4,184.7l3.1,1.2l0,27.6l-3-1.2z"/>
<path color="#5c461f" d="M604,186.9l3.2-1l-1.2,27.7l-3,1z"/>
<path color="#1b7272" d="M540.3,185.2l3.1,2.5l.8,27.5l-3.1-2.4z"/>
<path color="#765927" d="M567.5,185.9l3.2,1l-.1,27.6l-3.1-1z"/>
<path color="#6f5726" d="M600.8,187.8l3.2-.9l-1,27.7l-3.2,.8z"/>
<path color="#228796" d="M628.2,190.2l3.3-2.3l-2,27.6l-3.2,2.3z"/>
<path color="#7f632c" d="M570.7,186.9l3.2,.8l-.1,27.6l-3.2-.8z"/>
<path color="#6d5727" d="M597.5,188.4l3.3-.6l-1,27.6l-3.2,.6z"/>
<path color="#7a612b" d="M573.9,187.7l3.3,.7l-.2,27.5l-3.2-.6z"/>
<path color="#7a642d" d="M594.2,188.9l3.3-.5l-.9,27.6l-3.2,.5z"/>
<path color="#8a7233" d="M577.2,188.4l3.4,.5l-.4,27.5l-3.2-.5z"/>
<path color="#6f5d2a" d="M590.8,189.2l3.4-.3l-.8,27.6l-3.3,.2z"/>
<path color="#1c7979" d="M543.4,187.7l3.3,2.3l.7,27.6l-3.2-2.4z"/>
<path color="#6f5d2a" d="M580.6,188.9l3.4,.2l-.5,27.6l-3.3-.3z"/>
<path color="#8f7b37" d="M587.4,189.2l3.4,0l-.7,27.5l-3.3,.1z"/>
<path color="#857233" d="M584,189.1l3.4,.1l-.6,27.6l-3.3-.1z"/>
<path color="#1e7e89" d="M624.7,192.4l3.5-2.2l-1.9,27.6l-3.4,2.1z"/>
<path color="#1a7171" d="M546.7,190l3.6,2.2l.5,27.5l-3.4-2.1z"/>
<path color="#1c7a80" d="M621,194.3l3.7-1.9l-1.8,27.5l-3.5,1.9z"/>
<path color="#31783a" d="M652.5,196.4l-2.5-.3l-2.5,27.5l2.4,.3z"/>
<path color="#276933" d="M655,196.7l-2.5-.3l-2.6,27.5l2.5,.3z"/>
<path color="#2c632f" d="M650,196.1l-2.6-.2l-2.4,27.6l2.5,.1z"/>
<path color="#2c8742" d="M657.5,197.2l-2.5-.5l-2.6,27.5l2.4,.5z"/>
<path color="#377035" d="M647.4,195.9l-2.5,0l-2.4,27.5l2.5,.1z"/>
<path color="#298441" d="M660,197.7l-2.5-.5l-2.7,27.5l2.3,.6z"/>
<path color="#35642e" d="M644.9,195.9l-2.6,.1l-2.3,27.5l2.5-.1z"/>
<path color="#236f36" d="M662.3,198.4l-2.3-.7l-2.9,27.6l2.3,.6z"/>
<path color="#4b833c" d="M642.3,196l-2.5,.2l-2.3,27.5l2.5-.2z"/>
<path color="#2c8742" d="M664.7,199.1l-2.4-.7l-2.9,27.5l2.3,.7z"/>
<path color="#1a7272" d="M550.3,192.2l3.7,2l.4,27.4l-3.6-1.9z"/>
<path color="#457033" d="M639.8,196.2l-2.6,.4l-2.1,27.5l2.4-.4z"/>
<path color="#297d3d" d="M667,199.9l-2.3-.8l-3,27.5l2.2,.7z"/>
<path color="#1a7276" d="M617.2,196.1l3.8-1.8l-1.6,27.5l-3.7,1.8z"/>
<path color="#55813a" d="M637.2,196.6l-2.5,.5l-2,27.5l2.4-.5z"/>
<path color="#28793a" d="M669.2,200.7l-2.2-.8l-3.1,27.4l2.2,.8z"/>
<path color="#277136" d="M671.4,201.5l-2.2-.8l-3.1,27.4l2.1,.9z"/>
<path color="#577b37" d="M634.7,197.1l-2.4,.6l-2,27.5l2.4-.6z"/>
<path color="#38853d" d="M527.8,195.7l-2.6,.1l1.4,27.4l2.4-.1z"/>
<path color="#326e32" d="M530.3,195.7l-2.5,0l1.2,27.4l2.5,0z"/>
<path color="#2b7034" d="M525.2,195.8l-2.5,.3l1.4,27.4l2.5-.3z"/>
<path color="#369b4a" d="M673.5,202.4l-2.1-.9l-3.2,27.5l2.1,.9z"/>
<path color="#45893e" d="M532.8,195.8l-2.5-.1l1.2,27.4l2.4,.1z"/>
<path color="#186666" d="M554,194.2l3.8,1.7l.4,27.5l-3.8-1.8z"/>
<path color="#2e873e" d="M522.7,196.1l-2.5,.3l1.5,27.4l2.4-.3z"/>
<path color="#48843b" d="M535.4,196l-2.6-.2l1.1,27.4l2.5,.2z"/>
<path color="#1c7c80" d="M613.2,197.6l4-1.5l-1.5,27.5l-3.9,1.5z"/>
<path color="#339042" d="M520.2,196.4l-2.4,.5l1.6,27.4l2.3-.5z"/>
<path color="#5e7e37" d="M632.3,197.7l-2.4,.8l-1.9,27.4l2.3-.7z"/>
<path color="#2d7f3c" d="M675.6,203.3l-2.1-.9l-3.2,27.5l2,.9z"/>
<path color="#427032" d="M537.9,196.4l-2.5-.4l1,27.4l2.4,.4z"/>
<path color="#3ca249" d="M517.8,196.9l-2.4,.5l1.6,27.4l2.4-.5z"/>
<path color="#34873c" d="M515.4,197.4l-2.3,.7l1.7,27.3l2.2-.6z"/>
<path color="#41672e" d="M540.4,196.9l-2.5-.5l.9,27.4l2.5,.5z"/>
<path color="#359647" d="M677.7,204.3l-2.1-1l-3.3,27.5l2,.9z"/>
<path color="#50662c" d="M629.9,198.5l-2.3,.9l-1.9,27.4l2.3-.9z"/>
<path color="#40a348" d="M513.1,198.1l-2.3,.7l1.7,27.3l2.3-.7z"/>
<path color="#196d6d" d="M557.8,195.9l4,1.6l.2,27.4l-3.8-1.5z"/>
<path color="#496c2f" d="M542.8,197.5l-2.4-.6l.9,27.4l2.3,.6z"/>
<path color="#379a49" d="M679.7,205.2l-2-.9l-3.4,27.4l1.9,.9z"/>
<path color="#1b797d" d="M609.1,198.9l4.1-1.3l-1.4,27.5l-3.9,1.3z"/>
<path color="#45aa4a" d="M510.8,198.8l-2.3,.7l1.9,27.3l2.1-.7z"/>
<path color="#3da84f" d="M681.6,206.1l-1.9-.9l-3.5,27.4l1.9,.9z"/>
<path color="#52622a" d="M627.6,199.4l-2.3,1l-1.7,27.4l2.1-1z"/>
<path color="#61853a" d="M545.2,198.3l-2.4-.8l.8,27.4l2.4,.8z"/>
<path color="#49b04c" d="M508.5,199.5l-2.2,.8l1.9,27.3l2.2-.8z"/>
<path color="#186767" d="M561.8,197.5l4.1,1.3l.1,27.4l-4-1.3z"/>
<path color="#389847" d="M683.6,207.1l-2-1l-3.5,27.4l1.9,1z"/>
<path color="#1c7c7f" d="M604.9,200l4.2-1.1l-1.2,27.5l-4.1,1z"/>
<path color="#3a883b" d="M506.3,200.3l-2.1,.8l2,27.3l2-.8z"/>
<path color="#668339" d="M547.6,199.2l-2.4-.9l.8,27.4l2.2,.8z"/>
<path color="#41ae51" d="M685.5,208l-1.9-.9l-3.6,27.4l1.8,.9z"/>
<path color="#617432" d="M625.3,200.4l-2.1,1.1l-1.7,27.5l2.1-1.2z"/>
<path color="#47a245" d="M504.2,201.1l-2.1,.9l2,27.3l2.1-.9z"/>
<path color="#196c6c" d="M565.9,198.8l4.2,1.1l0,27.4l-4.1-1.1z"/>
<path color="#54662c" d="M549.8,200.2l-2.2-1l.6,27.3l2.2,1.1z"/>
<path color="#18686b" d="M600.7,200.8l4.2-.8l-1.1,27.4l-4.1,.8z"/>
<path color="#55c051" d="M502.1,202l-2,.9l2.1,27.3l1.9-.9z"/>
<path color="#51672d" d="M623.2,201.5l-2.1,1.3l-1.6,27.4l2-1.2z"/>
<path color="#196d6d" d="M570.1,199.9l4.3,.9l-.2,27.4l-4.1-.9z"/>
<path color="#196f71" d="M596.3,201.4l4.4-.6l-1,27.4l-4.2,.6z"/>
<path color="#4ba646" d="M500.1,202.9l-2,.9l2.1,27.3l2-.9z"/>
<path color="#54642b" d="M552,201.4l-2.2-1.2l.6,27.4l2.1,1.1z"/>
<path color="#1b7778" d="M574.4,200.8l4.4,.6l-.4,27.4l-4.2-.6z"/>
<path color="#1b7577" d="M591.9,201.8l4.4-.4l-.8,27.4l-4.3,.4z"/>
<path color="#59bf4f" d="M498.1,203.8l-2,1l2.3,27.2l1.8-.9z"/>
<path color="#186768" d="M578.8,201.4l4.3,.4l-.4,27.3l-4.3-.3z"/>
<path color="#196e6f" d="M587.5,201.9l4.4-.1l-.7,27.4l-4.2,.1z"/>
<path color="#1a7071" d="M583.1,201.8l4.4,.1l-.5,27.4l-4.3-.2z"/>
<path color="#5b7d37" d="M621.1,202.8l-2,1.4l-1.5,27.4l1.9-1.4z"/>
<path color="#546b2f" d="M554.1,202.7l-2.1-1.3l.5,27.3l2,1.3z"/>
<path color="#55b54b" d="M496.1,204.8l-1.9,.9l2.3,27.2l1.9-.9z"/>
<path color="#5ec551" d="M494.2,205.7l-1.9,.9l2.4,27.2l1.8-.9z"/>
<path color="#4e7333" d="M619.1,204.2l-1.8,1.5l-1.5,27.4l1.8-1.5z"/>
<path color="#4e692e" d="M556.1,204.1l-2-1.4l.4,27.3l2,1.4z"/>
<path color="#5ab94b" d="M492.3,206.6l-1.8,.9l2.4,27.2l1.8-.9z"/>
<path color="#4b6a2f" d="M558,205.6l-1.9-1.5l.4,27.3l1.8,1.5z"/>
<path color="#4d7a36" d="M617.3,205.7l-1.7,1.7l-1.5,27.3l1.7-1.6z"/>
<path color="#466a30" d="M559.7,207.2l-1.7-1.6l.3,27.3l1.7,1.6z"/>
<path color="#518b3e" d="M615.6,207.4l-1.6,1.7l-1.4,27.2l1.5-1.6z"/>
<path color="#497636" d="M561.3,208.9l-1.6-1.7l.3,27.3l1.6,1.7z"/>
<path color="#447d38" d="M614,209.1l-1.5,1.8l-1.4,27.2l1.5-1.8z"/>
<path color="#447636" d="M562.9,210.7l-1.6-1.8l.3,27.3l1.4,1.7z"/>
<path color="#387032" d="M612.5,210.9l-1.3,1.8l-1.4,27.2l1.3-1.8z"/>
<path color="#407838" d="M564.2,212.6l-1.3-1.9l.1,27.2l1.4,1.9z"/>
<path color="#357334" d="M611.2,212.7l-1.3,2l-1.2,27.1l1.1-1.9z"/>
<path color="#356d33" d="M565.5,214.5l-1.3-1.9l.2,27.2l1.2,1.9z"/>
<path color="#37843c" d="M609.9,214.7l-1,1.9l-1.3,27.2l1.1-2z"/>
<path color="#337136" d="M566.6,216.5l-1.1-2l.1,27.2l1.1,1.9z"/>
<path color="#32853d" d="M608.9,216.6l-1,2.1l-1.2,27.1l.9-2z"/>
<path color="#2c6d34" d="M567.6,218.5l-1-2l.1,27.1l1,2z"/>
<path color="#308c41" d="M607.9,218.7l-.8,2l-1.2,27.1l.8-2z"/>
<path color="#30833f" d="M568.5,220.6l-.9-2.1l.1,27.1l.8,2.1z"/>
<path color="#30863d" d="M607.1,220.7l-.7,2.1l-1.2,27.1l.7-2.1z"/>
<path color="#226a34" d="M569.3,222.7l-.8-2.1l0,27.1l.8,2z"/>
<path color="#379443" d="M606.4,222.8l-.6,2.1l-1.2,27l.6-2z"/>
<path color="#24753a" d="M569.9,224.8l-.6-2.1l0,27l.6,2.1z"/>
<path color="#368d3f" d="M605.8,224.9l-.5,2.1l-1.2,27l.5-2.1z"/>
<path color="#298340" d="M570.5,226.9l-.6-2.1l0,27l.5,2.1z"/>
<path color="#3d9b44" d="M605.3,227l-.4,2.1l-1.2,27l.4-2.1z"/>
<path color="#236d35" d="M570.9,229l-.4-2.1l-.1,27l.5,2z"/>
<path color="#43a548" d="M604.9,229.1l-.3,2.1l-1.2,26.9l.3-2z"/>
<path color="#267438" d="M571.3,231.1l-.4-2.1l0,26.9l.3,2.1z"/>
<path color="#3b8d3d" d="M604.6,231.2l-.3,2.1l-1.1,26.9l.2-2.1z"/>
<path color="#297b3b" d="M571.6,233.2l-.3-2.1l-.1,26.9l.3,2.1z"/>
<path color="#429a42" d="M604.3,233.3l-.1,2.1l-1.1,26.8l.1-2z"/>
<path color="#2e8640" d="M571.8,235.3l-.2-2.1l-.1,26.9l.2,2z"/>
<path color="#48a446" d="M604.2,235.4l-.1,2l-1.1,26.8l.1-2z"/>
<path color="#339346" d="M571.9,237.3l-.1-2l-.1,26.8l.1,2z"/>
<path color="#4fb14b" d="M604.1,237.4l-.1,2.1l-1.1,26.7l.1-2z"/>
<path color="#328f44" d="M572,239.3l-.1-2l-.1,26.8l.1,2z"/>
<path color="#489f42" d="M604,239.5l0,2l-1.1,26.7l0-2z"/>
<path color="#328d43" d="M572.1,241.3l-.1-2l-.1,26.8l.1,2z"/>
<path color="#52b24a" d="M604,241.5l.1,1.9l-1.2,26.7l0-1.9z"/>
<path color="#3ba24d" d="M572.1,243.3l0-2l-.1,26.8l0,1.9z"/>
<path color="#57b94c" d="M604.1,243.4l0,2l-1.1,26.7l-.1-2z"/>
<path color="#31863f" d="M572.1,245.3l0-2l-.1,26.7l0,1.9z"/>
<path color="#62cc53" d="M604.1,245.4l.1,1.9l-1.2,26.7l0-1.9z"/>
<path color="#3ea74e" d="M572.1,247.2l0-1.9l-.1,26.6l0,1.9z"/>
<path color="#57b248" d="M604.2,247.3l0,1.9l-1.1,26.6l-.1-1.8z"/>
<path color="#348c42" d="M572.1,249.1l0-1.9l-.1,26.6l0,1.9z"/>
</g>
<path d="M511.32,256.35 L665.63,257.01 M442.76,146.27 L511.32,256.35 M732.43,146.35 L665.63,257.01 M513.15,282.73 L662.52,283.53 M446.52,174.32 L513.15,282.73 M727.47,174.69 L662.52,283.53 M442.76,146.27 L446.52,174.32 M732.43,146.35 L727.47,174.69 M511.32,256.35 L513.15,282.73 M665.63,257.01 L662.52,283.53" fill="none" stroke="#000" stroke-width="2.4" stroke-linecap="round"/>
<path d="M591.4,168 L514.4,269.4 L595.6,269.4 Z" fill="none" stroke="#e8202a" stroke-width="3.2" stroke-dasharray="2.6,2.6"/>
<text x="502.5" y="290" font-size="22" font-weight="bold" font-style="normal" fill="#e8202a" text-anchor="middle" >K</text>
<text x="602.5" y="290" font-size="22" font-weight="bold" font-style="normal" fill="#e8202a" text-anchor="middle" >M</text>
<text x="589.5" y="167.5" font-size="22.5" font-weight="bold" font-style="normal" fill="#e8202a" text-anchor="middle" >&#915;</text>
<rect x="514.2" y="296.9" width="175.2" height="8.9" fill="url(#cbar)"/>
<text x="502.7" y="323.5" font-size="22" font-weight="bold" font-style="normal" fill="#000" text-anchor="start" >min</text>
<text x="712.9" y="323.5" font-size="22" font-weight="bold" font-style="normal" fill="#000" text-anchor="end" >max</text>
<path d="M527.38,378.72 L660.32,378.17 M447.75,466.01 L527.38,378.72 M660.32,378.17 L739.7,464.61 M529.77,407.41 L658.17,406.85 M453.34,494.16 L529.77,407.41 M658.17,406.85 L734.38,492.75 M527.38,378.72 L529.77,407.41 M660.32,378.17 L658.17,406.85" fill="none" stroke="#000" stroke-width="2.4" stroke-linecap="round"/>
<g fill="currentColor" stroke="currentColor" stroke-width="0.6">
<path color="#841818" d="M574.3,381.6l-.3-1.3l.8,28.7l.3,1.3z"/>
<path color="#6b1313" d="M613.5,381.5l.3-1.4l-.6,28.7l-.3,1.3z"/>
<path color="#891919" d="M574.6,383l-.3-1.4l.8,28.7l.3,1.4z"/>
<path color="#751515" d="M613.1,382.8l.4-1.3l-.6,28.6l-.3,1.4z"/>
<path color="#831818" d="M574.9,384.4l-.3-1.4l.8,28.7l.3,1.3z"/>
<path color="#901a1a" d="M612.8,384.2l.3-1.4l-.5,28.7l-.3,1.4z"/>
<path color="#a01d1d" d="M575.3,385.7l-.4-1.3l.8,28.6l.3,1.4z"/>
<path color="#9f1d1d" d="M612.5,385.6l.3-1.4l-.5,28.7l-.3,1.3z"/>
<path color="#aa1f1f" d="M575.6,387.1l-.3-1.4l.7,28.7l.3,1.4z"/>
<path color="#8e1a1a" d="M612.2,386.9l.3-1.3l-.5,28.6l-.3,1.4z"/>
<path color="#a1201d" d="M575.9,388.5l-.3-1.4l.7,28.7l.3,1.3z"/>
<path color="#951d1b" d="M611.9,388.3l.3-1.4l-.5,28.7l-.3,1.4z"/>
<path color="#a9251e" d="M576.2,389.9l-.3-1.4l.7,28.6l.4,1.4z"/>
<path color="#901f1a" d="M611.5,389.7l.4-1.4l-.5,28.7l-.4,1.3z"/>
<path color="#b62b20" d="M576.6,391.2l-.4-1.3l.8,28.6l.3,1.4z"/>
<path color="#bf2d22" d="M611.2,391.1l.3-1.4l-.5,28.6l-.3,1.4z"/>
<path color="#a62a1d" d="M576.9,392.6l-.3-1.4l.7,28.7l.3,1.4z"/>
<path color="#cd3424" d="M610.9,392.5l.3-1.4l-.5,28.6l-.3,1.4z"/>
<path color="#b43f22" d="M577.2,394l-.3-1.4l.7,28.7l.3,1.4z"/>
<path color="#b74023" d="M610.6,393.9l.3-1.4l-.5,28.6l-.3,1.4z"/>
<path color="#b56f2c" d="M577.5,395.4l-.3-1.4l.7,28.7l.3,1.3z"/>
<path color="#985d25" d="M610.2,395.3l.4-1.4l-.5,28.6l-.3,1.4z"/>
<path color="#9b9030" d="M577.9,396.8l-.4-1.4l.7,28.6l.3,1.4z"/>
<path color="#a39732" d="M609.9,396.7l.3-1.4l-.4,28.6l-.3,1.4z"/>
<path color="#7d9731" d="M578.2,398.2l-.3-1.4l.6,28.6l.4,1.4z"/>
<path color="#91af39" d="M609.6,398.1l.3-1.4l-.4,28.6l-.4,1.4z"/>
<path color="#6c9a37" d="M578.5,399.6l-.3-1.4l.7,28.6l.3,1.4z"/>
<path color="#618b31" d="M609.2,399.5l.4-1.4l-.5,28.6l-.3,1.4z"/>
<path color="#5ea33e" d="M578.8,401.1l-.3-1.5l.7,28.6l.3,1.5z"/>
<path color="#5fa53f" d="M608.9,400.9l.3-1.4l-.4,28.6l-.3,1.4z"/>
<path color="#499c40" d="M579.2,402.5l-.4-1.4l.7,28.6l.3,1.4z"/>
<path color="#55b64a" d="M608.6,402.3l.3-1.4l-.4,28.6l-.3,1.4z"/>
<path color="#48a54b" d="M579.5,403.9l-.3-1.4l.6,28.6l.3,1.4z"/>
<path color="#49a94d" d="M608.2,403.8l.4-1.5l-.4,28.6l-.3,1.5z"/>
<path color="#901a1a" d="M504.8,409.3l-1.5-.9l3.3,28.6l1.5,.9z"/>
<path color="#821717" d="M682.8,408.6l1.5-1l-3,28.6l-1.5,.9z"/>
<path color="#52c765" d="M579.8,405.3l-.3-1.4l.6,28.6l.4,1.4z"/>
<path color="#409c4f" d="M607.9,405.2l.3-1.4l-.3,28.6l-.4,1.4z"/>
<path color="#7f1717" d="M506.3,410.3l-1.5-1l3.3,28.6l1.4,.9z"/>
<path color="#801717" d="M681.4,409.5l1.4-.9l-3,28.5l-1.4,1z"/>
<path color="#8b1919" d="M507.8,411.2l-1.5-.9l3.2,28.5l1.5,1z"/>
<path color="#48b967" d="M580.2,406.8l-.4-1.5l.7,28.6l.3,1.4z"/>
<path color="#46b666" d="M607.6,406.6l.3-1.4l-.4,28.6l-.3,1.4z"/>
<path color="#921b1b" d="M679.9,410.5l1.5-1l-3,28.6l-1.5,.9z"/>
<path color="#911a1a" d="M509.3,412.2l-1.5-1l3.2,28.6l1.4,.9z"/>
<path color="#9d1c1c" d="M678.4,411.4l1.5-.9l-3,28.5l-1.4,1z"/>
<path color="#3ca464" d="M580.5,408.2l-.3-1.4l.6,28.5l.3,1.5z"/>
<path color="#399d60" d="M607.2,408.1l.4-1.5l-.4,28.6l-.3,1.4z"/>
<path color="#a71e1e" d="M510.8,413.1l-1.5-.9l3.1,28.5l1.5,1z"/>
<path color="#8f1a1a" d="M676.9,412.4l1.5-1l-2.9,28.6l-1.4,.9z"/>
<path color="#359c68" d="M580.9,409.6l-.4-1.4l.6,28.6l.3,1.4z"/>
<path color="#369f6a" d="M606.9,409.5l.3-1.4l-.3,28.5l-.3,1.5z"/>
<path color="#981e1b" d="M512.3,414l-1.5-.9l3.1,28.6l1.4,.9z"/>
<path color="#a8211e" d="M675.4,413.3l1.5-.9l-2.8,28.5l-1.5,1z"/>
<path color="#b0261f" d="M513.8,415l-1.5-1l3,28.6l1.5,.9z"/>
<path color="#3dc394" d="M581.2,411.1l-.3-1.5l.5,28.6l.4,1.4z"/>
<path color="#39b78b" d="M606.6,411l.3-1.5l-.3,28.6l-.4,1.4z"/>
<path color="#bd2922" d="M673.9,414.3l1.5-1l-2.8,28.6l-1.5,.9z"/>
<path color="#a4261d" d="M515.3,415.9l-1.5-.9l3,28.5l1.4,1z"/>
<path color="#bb2c21" d="M672.4,415.2l1.5-.9l-2.8,28.5l-1.4,1z"/>
<path color="#34b399" d="M581.5,412.5l-.3-1.4l.6,28.5l.3,1.5z"/>
<path color="#37bfa4" d="M606.2,412.4l.4-1.4l-.4,28.5l-.3,1.5z"/>
<path color="#b52d20" d="M516.8,416.9l-1.5-1l2.9,28.6l1.5,.9z"/>
<path color="#259785" d="M601.2,412.6l-1.8-.2l-.1,28.5l1.8,.2z"/>
<path color="#1f7d6e" d="M599.4,412.4l-1.9,.3l0,28.5l1.8-.3z"/>
<path color="#99261b" d="M670.8,416.2l1.6-1l-2.7,28.6l-1.5,.9z"/>
<path color="#1c6f63" d="M603,413.2l-1.8-.6l-.1,28.5l1.7,.7z"/>
<path color="#1f7d6e" d="M597.5,412.7l-1.8,.8l0,28.5l1.8-.8z"/>
<path color="#32c0b6" d="M581.9,414l-.4-1.5l.6,28.6l.3,1.4z"/>
<path color="#2ca9a1" d="M605.9,413.9l.3-1.5l-.3,28.6l-.3,1.4z"/>
<path color="#a0381f" d="M518.3,417.8l-1.5-.9l2.9,28.5l1.5,1z"/>
<path color="#a1381f" d="M669.3,417.2l1.5-1l-2.6,28.5l-1.4,1z"/>
<path color="#1d7669" d="M604.6,414.4l-1.6-1.2l-.2,28.6l1.5,1.1z"/>
<path color="#1b7163" d="M595.7,413.5l-1.8,1.2l.1,28.5l1.7-1.2z"/>
<path color="#a66529" d="M519.9,418.8l-1.6-1l2.9,28.6l1.4,.9z"/>
<path color="#ae6a2b" d="M667.8,418.1l1.5-.9l-2.5,28.5l-1.5,1z"/>
<path color="#218677" d="M606,415.9l-1.4-1.5l-.3,28.5l1.4,1.5z"/>
<path color="#1b6f62" d="M593.9,414.7l-1.7,1.4l.2,28.6l1.6-1.5z"/>
<path color="#90852d" d="M521.4,419.8l-1.5-1l2.7,28.5l1.5,1z"/>
<path color="#a09431" d="M666.3,419.1l1.5-1l-2.5,28.6l-1.5,.9z"/>
<path color="#207a6f" d="M567.2,416.8l-2,0l1.1,28.5l1.9,0z"/>
<path color="#1f796e" d="M565.2,416.8l-1.8,.5l1.2,28.5l1.7-.5z"/>
<path color="#29a091" d="M569.3,417.2l-2.1-.4l1,28.5l2.1,.4z"/>
<path color="#738b2d" d="M522.9,420.7l-1.5-.9l2.7,28.5l1.5,.9z"/>
<path color="#279c8b" d="M607.3,417.6l-1.3-1.7l-.3,28.5l1.3,1.7z"/>
<path color="#208272" d="M592.2,416.1l-1.6,1.7l.2,28.5l1.6-1.6z"/>
<path color="#2ba495" d="M563.4,417.3l-1.4,.9l1.2,28.5l1.4-.9z"/>
<path color="#84a034" d="M664.8,420.1l1.5-1l-2.5,28.5l-1.4,1z"/>
<path color="#2aa393" d="M571.6,418l-2.3-.8l1,28.5l2.2,.8z"/>
<path color="#6e9e38" d="M524.4,421.7l-1.5-1l2.7,28.5l1.5,1z"/>
<path color="#1f776d" d="M562,418.2l-1.1,1.4l1.3,28.5l1-1.4z"/>
<path color="#23877a" d="M573.9,419l-2.3-1l.9,28.5l2.2,1z"/>
<path color="#618b31" d="M663.2,421.1l1.6-1l-2.4,28.5l-1.5,.9z"/>
<path color="#269888" d="M608.5,419.4l-1.2-1.8l-.3,28.5l1.1,1.8z"/>
<path color="#1e7b6c" d="M590.6,417.8l-1.5,1.5l.3,28.5l1.4-1.5z"/>
<path color="#5ea33e" d="M526,422.6l-1.6-.9l2.7,28.5l1.4,.9z"/>
<path color="#6bb947" d="M661.7,422l1.5-.9l-2.3,28.4l-1.5,1z"/>
<path color="#259182" d="M576.1,420.1l-2.2-1.1l.8,28.5l2.2,1.1z"/>
<path color="#2a9e91" d="M560.9,419.6l-.8,1.7l1.3,28.5l.8-1.7z"/>
<path color="#53b249" d="M527.5,423.6l-1.5-1l2.5,28.5l1.5,1z"/>
<path color="#208172" d="M589.1,419.3l-1.4,1.5l.3,28.5l1.4-1.5z"/>
<path color="#258d82" d="M632.2,420.6l-2.1,0l-1.2,28.5l2.1,0z"/>
<path color="#238379" d="M634.1,421l-1.9-.4l-1.2,28.5l1.8,.4z"/>
<path color="#289f8f" d="M609.6,421.1l-1.1-1.7l-.4,28.5l1,1.7z"/>
<path color="#4ba141" d="M660.2,423l1.5-1l-2.3,28.5l-1.5,1z"/>
<path color="#238479" d="M630.1,420.6l-2.4,.4l-1.1,28.5l2.3-.4z"/>
<path color="#22887a" d="M578.2,421.2l-2.1-1.1l.8,28.5l2,1.1z"/>
<path color="#28978b" d="M635.6,421.8l-1.5-.8l-1.3,28.5l1.4,.8z"/>
<path color="#20796f" d="M627.7,421l-2.5,.7l-1,28.5l2.4-.7z"/>
<path color="#4aac4e" d="M529.1,424.6l-1.6-1l2.5,28.5l1.5,1z"/>
<path color="#1b6e62" d="M587.7,420.8l-1.4,1.1l.4,28.5l1.3-1.1z"/>
<path color="#217f74" d="M560.1,421.3l-.5,1.9l1.3,28.5l.5-1.9z"/>
<path color="#50b954" d="M658.7,424l1.5-1l-2.3,28.5l-1.4,1z"/>
<path color="#269585" d="M580.1,422.1l-1.9-.9l.7,28.5l1.8,.9z"/>
<path color="#238278" d="M636.7,423l-1.1-1.2l-1.4,28.5l1.1,1.2z"/>
<path color="#279487" d="M625.2,421.7l-2.5,.8l-.9,28.5l2.4-.8z"/>
<path color="#289d8d" d="M610.6,422.5l-1-1.4l-.5,28.5l1.1,1.4z"/>
<path color="#1e796c" d="M586.3,421.9l-1.4,.7l.5,28.5l1.3-.7z"/>
<path color="#4bb75d" d="M530.6,425.5l-1.5-.9l2.4,28.5l1.5,.9z"/>
<path color="#248d7e" d="M581.9,422.7l-1.8-.6l.6,28.5l1.7,.6z"/>
<path color="#42a252" d="M657.1,425l1.6-1l-2.2,28.5l-1.5,.9z"/>
<path color="#269a89" d="M584.9,422.6l-1.5,.3l.5,28.4l1.5-.2z"/>
<path color="#1d7366" d="M583.4,422.9l-1.5-.2l.5,28.5l1.5,.1z"/>
<path color="#2ba597" d="M622.7,422.5l-2.4,.9l-.8,28.4l2.3-.8z"/>
<path color="#268c82" d="M637.3,424.6l-.6-1.6l-1.4,28.5l.6,1.6z"/>
<path color="#269485" d="M611.8,423.7l-1.2-1.2l-.4,28.5l1.1,1.2z"/>
<path color="#3b9955" d="M532.1,426.5l-1.5-1l2.4,28.5l1.5,1z"/>
<path color="#228076" d="M559.6,423.2l-.4,2l1.4,28.5l.3-2z"/>
<path color="#217e73" d="M620.3,423.4l-2.2,.7l-.7,28.5l2.1-.8z"/>
<path color="#3fa45c" d="M655.6,426l1.5-1l-2.1,28.4l-1.5,1z"/>
<path color="#258f81" d="M613,424.4l-1.2-.7l-.5,28.5l1.2,.7z"/>
<path color="#27988a" d="M618.1,424.1l-1.9,.5l-.7,28.4l1.9-.4z"/>
<path color="#3ca766" d="M533.7,427.5l-1.6-1l2.4,28.5l1.5,.9z"/>
<path color="#1e7469" d="M614.5,424.7l-1.5-.3l-.5,28.5l1.4,.3z"/>
<path color="#27988a" d="M616.2,424.6l-1.7,.1l-.6,28.5l1.6-.2z"/>
<path color="#389a5e" d="M654,426.9l1.6-.9l-2.1,28.4l-1.5,1z"/>
<path color="#29998e" d="M637.6,426.5l-.3-1.9l-1.4,28.5l.2,1.8z"/>
<path color="#279186" d="M559.2,425.2l-.2,1.9l1.3,28.5l.3-1.9z"/>
<path color="#349a67" d="M535.2,428.5l-1.5-1l2.3,28.4l1.5,1z"/>
<path color="#40bc7e" d="M652.5,427.9l1.5-1l-2,28.5l-1.5,1z"/>
<path color="#701414" d="M481.5,435l-1.9-.5l4.3,28.4l1.8,.5z"/>
<path color="#329e79" d="M536.8,429.4l-1.6-.9l2.3,28.4l1.5,1z"/>
<path color="#227d75" d="M637.6,428.5l0-2l-1.5,28.4l0,2z"/>
<path color="#8b1919" d="M706,434l2-.6l-4.1,28.4l-1.8,.6z"/>
<path color="#34a57e" d="M650.9,428.9l1.6-1l-2,28.5l-1.5,1z"/>
<path color="#981b1b" d="M483.5,435.5l-2-.5l4.2,28.4l1.9,.5z"/>
<path color="#2ca699" d="M559,427.1l-.3,1.8l1.3,28.4l.3-1.7z"/>
<path color="#7b1616" d="M704.1,434.5l1.9-.5l-3.9,28.4l-1.9,.5z"/>
<path color="#32ad94" d="M538.3,430.4l-1.5-1l2.2,28.5l1.5,1z"/>
<path color="#8c1919" d="M485.4,436l-1.9-.5l4.1,28.4l1.9,.5z"/>
<path color="#30a890" d="M649.4,429.9l1.5-1l-1.9,28.5l-1.5,.9z"/>
<path color="#941b1b" d="M702.2,435.1l1.9-.6l-3.9,28.4l-1.8,.5z"/>
<path color="#981c1c" d="M487.4,436.6l-2-.6l4.1,28.4l1.9,.6z"/>
<path color="#2b9a8e" d="M637.4,430.5l.2-2l-1.5,28.4l-.1,2z"/>
<path color="#279085" d="M558.7,428.9l-.5,1.5l1.4,28.4l.4-1.5z"/>
<path color="#31bbb2" d="M539.9,431.4l-1.6-1l2.2,28.5l1.5,.9z"/>
<path color="#289a92" d="M647.8,430.9l1.6-1l-1.9,28.4l-1.5,1z"/>
<path color="#8d1a1a" d="M700.2,435.6l2-.5l-3.8,28.3l-1.9,.6z"/>
<path color="#971c1c" d="M489.3,437.1l-1.9-.5l4,28.4l1.8,.5z"/>
<path color="#931b1b" d="M698.3,436.1l1.9-.5l-3.7,28.4l-1.9,.5z"/>
<path color="#2b9f93" d="M558.2,430.4l-.8,1.1l1.5,28.4l.7-1.1z"/>
<path color="#a2201d" d="M491.2,437.6l-1.9-.5l3.9,28.4l1.9,.5z"/>
<path color="#24837a" d="M542.4,432.4l-2.6,.1l2.1,28.4l2.5-.1z"/>
<path color="#2a998f" d="M539.8,432.5l-2.3,.5l2.2,28.4l2.2-.5z"/>
<path color="#ab221f" d="M696.4,436.7l1.9-.6l-3.7,28.4l-1.8,.6z"/>
<path color="#30ada2" d="M545.1,432.4l-2.7,0l2,28.4l2.6,0z"/>
<path color="#2fa99c" d="M637.3,432.4l.1-1.9l-1.4,28.4l-.2,1.9z"/>
<path color="#ba2821" d="M493.2,438.1l-2-.5l3.9,28.4l1.9,.5z"/>
<path color="#24857c" d="M547.9,432.6l-2.8-.2l1.9,28.4l2.7,.2z"/>
<path color="#279186" d="M557.4,431.5l-1.1,.8l1.5,28.4l1.1-.8z"/>
<path color="#278b82" d="M537.5,433l-1.8,.7l2.3,28.4l1.7-.7z"/>
<path color="#2a998f" d="M550.5,432.8l-2.6-.2l1.8,28.4l2.5,.2z"/>
<path color="#bd2922" d="M694.4,437.2l2-.5l-3.6,28.4l-1.9,.5z"/>
<path color="#2fafa3" d="M556.3,432.3l-1.5,.4l1.5,28.4l1.5-.4z"/>
<path color="#2faea2" d="M552.8,432.8l-2.3,0l1.7,28.4l2.2,.1z"/>
<path color="#24857c" d="M554.8,432.7l-2,.1l1.6,28.5l1.9-.2z"/>
<path color="#c52e23" d="M495.1,438.7l-1.9-.6l3.8,28.4l1.8,.5z"/>
<path color="#25857c" d="M535.7,433.7l-1.2,1.1l2.3,28.4l1.2-1.1z"/>
<path color="#ba2c21" d="M692.5,437.8l1.9-.6l-3.5,28.4l-1.9,.5z"/>
<path color="#a92a1d" d="M497.1,439.2l-2-.5l3.7,28.3l1.9,.6z"/>
<path color="#2ea89d" d="M637.2,434.1l.1-1.7l-1.5,28.4l0,1.7z"/>
<path color="#c73223" d="M690.5,438.3l2-.5l-3.5,28.3l-1.8,.6z"/>
<path color="#2d9f94" d="M534.5,434.8l-.7,1.4l2.3,28.4l.7-1.4z"/>
<path color="#a63a20" d="M499,439.7l-1.9-.5l3.6,28.4l1.9,.5z"/>
<path color="#b23e22" d="M688.6,438.8l1.9-.5l-3.3,28.4l-1.9,.5z"/>
<path color="#af6b2b" d="M501,440.2l-2-.5l3.6,28.4l1.9,.5z"/>
<path color="#29968c" d="M637.4,435.5l-.2-1.4l-1.4,28.4l.2,1.4z"/>
<path color="#925924" d="M686.7,439.4l1.9-.6l-3.3,28.4l-1.9,.5z"/>
<path color="#2a978c" d="M533.8,436.2l-.1,1.6l2.4,28.4l0-1.6z"/>
<path color="#887f2a" d="M502.9,440.8l-1.9-.6l3.5,28.4l1.9,.5z"/>
<path color="#827928" d="M684.7,439.9l2-.5l-3.3,28.3l-1.9,.6z"/>
<path color="#2eaa9f" d="M638.1,436.6l-.7-1.1l-1.4,28.4l.6,1.1z"/>
<path color="#839f34" d="M504.9,441.3l-2-.5l3.5,28.3l1.9,.6z"/>
<path color="#90ae39" d="M682.8,440.5l1.9-.6l-3.2,28.4l-1.9,.5z"/>
<path color="#278f71" d="M533.7,437.8l.5,1.8l2.3,28.4l-.4-1.8z"/>
<path color="#2b9e94" d="M639.2,437.4l-1.1-.8l-1.5,28.4l1.1,.8z"/>
<path color="#679334" d="M506.9,441.8l-2-.5l3.4,28.4l1.9,.5z"/>
<path color="#638e33" d="M680.8,441l2-.5l-3.2,28.3l-1.8,.6z"/>
<path color="#28978d" d="M640.8,437.9l-1.6-.5l-1.5,28.4l1.5,.5z"/>
<path color="#599a3b" d="M508.8,442.4l-1.9-.6l3.3,28.4l1.8,.5z"/>
<path color="#2da79c" d="M642.8,438.2l-2-.3l-1.6,28.4l2,.3z"/>
<path color="#269087" d="M650.8,438.7l-2.8-.2l-1.8,28.4l2.7,.2z"/>
<path color="#2a9d92" d="M648,438.5l-2.7-.1l-1.7,28.4l2.6,.1z"/>
<path color="#2eada2" d="M645.3,438.4l-2.5-.2l-1.6,28.4l2.4,.2z"/>
<path color="#228178" d="M653.5,439l-2.7-.3l-1.9,28.4l2.6,.3z"/>
<path color="#64ae42" d="M678.8,441.6l2-.6l-3,28.4l-1.9,.5z"/>
<path color="#228179" d="M656,439.6l-2.5-.6l-2,28.4l2.3,.5z"/>
<path color="#57bc4c" d="M510.8,442.9l-2-.5l3.2,28.3l1.9,.5z"/>
<path color="#2ea683" d="M534.2,439.6l.8,1.9l2.3,28.3l-.8-1.8z"/>
<path color="#2aa197" d="M658,440.4l-2-.8l-2.2,28.3l1.9,.8z"/>
<path color="#4da543" d="M676.9,442.1l1.9-.5l-2.9,28.3l-1.9,.6z"/>
<path color="#4caf4f" d="M512.7,443.4l-1.9-.5l3.1,28.3l1.9,.6z"/>
<path color="#207c74" d="M659.4,441.4l-1.4-1l-2.3,28.3l1.4,1.1z"/>
<path color="#50b753" d="M674.9,442.7l2-.6l-2.9,28.4l-1.9,.5z"/>
<path color="#42a252" d="M514.7,443.9l-2-.5l3.1,28.4l1.9,.5z"/>
<path color="#43a353" d="M673,443.2l1.9-.5l-2.8,28.3l-1.9,.5z"/>
<path color="#248c83" d="M660.2,442.7l-.8-1.3l-2.3,28.4l.8,1.3z"/>
<path color="#3c9c57" d="M516.7,444.5l-2-.6l3,28.4l1.9,.5z"/>
<path color="#33b693" d="M535,441.5l1.1,1.9l2.2,28.3l-1-1.9z"/>
<path color="#3a9553" d="M671,443.8l2-.6l-2.8,28.3l-1.9,.6z"/>
<path color="#45be74" d="M518.7,445l-2-.5l2.9,28.3l1.9,.5z"/>
<path color="#399c5f" d="M669,444.3l2-.5l-2.7,28.3l-1.9,.5z"/>
<path color="#2aa298" d="M660.3,444.2l-.1-1.5l-2.3,28.4l.1,1.5z"/>
<path color="#3fb97b" d="M520.6,445.5l-1.9-.5l2.8,28.3l1.9,.6z"/>
<path color="#319261" d="M667.1,444.9l1.9-.6l-2.6,28.3l-1.9,.6z"/>
<path color="#25826b" d="M536.1,443.4l1,1.8l2.2,28.3l-1-1.8z"/>
<path color="#39b78c" d="M522.6,446.1l-2-.6l2.8,28.4l1.9,.5z"/>
<path color="#39b58a" d="M665.1,445.4l2-.5l-2.6,28.3l-1.9,.5z"/>
<path color="#31aa92" d="M524.6,446.6l-2-.5l2.7,28.3l2,.5z"/>
<path color="#26857c" d="M659.8,445.9l.5-1.7l-2.3,28.4l-.5,1.6z"/>
<path color="#2e9e88" d="M663.1,446l2-.6l-2.5,28.3l-1.9,.6z"/>
<path color="#2a9f97" d="M526.6,447.1l-2-.5l2.7,28.3l1.9,.6z"/>
<path color="#298f78" d="M537.1,445.2l1,1.6l2.1,28.3l-.9-1.6z"/>
<path color="#26918b" d="M661.1,446.5l2-.5l-2.4,28.3l-1.9,.5z"/>
<path color="#32ada3" d="M658.8,447.7l1-1.8l-2.3,28.3l-1,1.8z"/>
<path color="#2e9e88" d="M538.1,446.8l.6,1.5l2.1,28.3l-.6-1.5z"/>
<path color="#35b5ab" d="M657.4,449.4l1.4-1.7l-2.3,28.3l-1.3,1.7z"/>
<path color="#30a89d" d="M538.7,448.3l.1,1.3l2.1,28.3l-.1-1.3z"/>
<path color="#242d7f" d="M593.9,446.9l-2.1,.1l.2,28.3l2-.1z"/>
<path color="#212873" d="M596,447l-2.1-.1l.1,28.3l2.1,.1z"/>
<path color="#212975" d="M591.8,447l-2.1,.2l.2,28.3l2.1-.2z"/>
<path color="#242d7e" d="M598.1,447.2l-2.1-.2l.1,28.3l2,.2z"/>
<path color="#232c7b" d="M589.7,447.2l-2.1,.4l.3,28.3l2-.4z"/>
<path color="#1f266c" d="M600.2,447.5l-2.1-.3l0,28.3l2,.3z"/>
<path color="#252e7f" d="M587.6,447.6l-2.1,.5l.5,28.3l1.9-.5z"/>
<path color="#232b78" d="M602.2,448l-2-.5l-.1,28.3l1.9,.5z"/>
<path color="#298c83" d="M538.8,449.6l-.5,1.1l2.1,28.3l.5-1.1z"/>
<path color="#32a9a2" d="M655.9,451.2l1.5-1.8l-2.2,28.3l-1.5,1.7z"/>
<path color="#222b76" d="M585.5,448.1l-1.9,.6l.5,28.3l1.9-.6z"/>
<path color="#212a73" d="M604.2,448.6l-2-.6l-.2,28.3l1.9,.6z"/>
<path color="#30a69a" d="M538.3,450.7l-1.1,1l2.2,28.2l1-.9z"/>
<path color="#222b76" d="M583.6,448.7l-1.9,.7l.6,28.3l1.8-.7z"/>
<path color="#212970" d="M606.1,449.3l-1.9-.7l-.3,28.3l1.9,.7z"/>
<path color="#30a59a" d="M537.2,451.7l-1.7,.8l2.2,28.3l1.7-.9z"/>
<path color="#212971" d="M581.7,449.4l-1.8,.9l.6,28.3l1.8-.9z"/>
<path color="#222a72" d="M607.9,450.1l-1.8-.8l-.3,28.3l1.7,.8z"/>
<path color="#39c1ba" d="M654.4,452.8l1.5-1.6l-2.2,28.2l-1.4,1.6z"/>
<path color="#298d84" d="M535.5,452.5l-2.2,.9l2.4,28.2l2-.8z"/>
<path color="#232c77" d="M579.9,450.3l-1.7,.9l.7,28.3l1.6-.9z"/>
<path color="#222b74" d="M609.6,451.1l-1.7-1l-.4,28.3l1.6,1z"/>
<path color="#2e9c91" d="M533.3,453.4l-2.5,.8l2.4,28.2l2.5-.8z"/>
<path color="#268278" d="M530.8,454.2l-2.7,.9l2.6,28.2l2.5-.9z"/>
<path color="#232b75" d="M578.2,451.2l-1.6,1.1l.7,28.3l1.6-1.1z"/>
<path color="#232c77" d="M611.2,452.2l-1.6-1.1l-.5,28.3l1.6,1z"/>
<path color="#35b1ac" d="M653.2,454.3l1.2-1.5l-2.1,28.2l-1.2,1.5z"/>
<path color="#2e9b90" d="M528.1,455.1l-2.5,1l2.6,28.2l2.5-1z"/>
<path color="#252e7b" d="M576.6,452.3l-1.5,1.2l.8,28.3l1.4-1.2z"/>
<path color="#283285" d="M612.7,453.3l-1.5-1.1l-.5,28.2l1.4,1.2z"/>
<path color="#2f9d92" d="M525.6,456.1l-2.3,1.1l2.8,28.2l2.1-1.1z"/>
<path color="#37b7b4" d="M652.4,455.6l.8-1.3l-2.1,28.2l-.7,1.4z"/>
<path color="#21296e" d="M575.1,453.5l-1.3,1.3l.8,28.2l1.3-1.2z"/>
<path color="#262f7e" d="M614,454.6l-1.3-1.3l-.6,28.3l1.3,1.2z"/>
<path color="#31a599" d="M523.3,457.2l-1.8,1.3l2.9,28.2l1.7-1.3z"/>
<path color="#35afad" d="M652.3,456.9l.1-1.3l-2,28.3l-.2,1.2z"/>
<path color="#273080" d="M573.8,454.8l-1.2,1.3l.9,28.3l1.1-1.4z"/>
<path color="#222a70" d="M615.2,455.9l-1.2-1.3l-.6,28.2l1.1,1.4z"/>
<path color="#2e9b90" d="M521.5,458.5l-1.1,1.3l2.9,28.2l1.1-1.3z"/>
<path color="#22877e" d="M652.7,458l-.4-1.1l-2.1,28.2l.4,1.1z"/>
<path color="#212a6d" d="M572.6,456.1l-1,1.5l.9,28.2l1-1.4z"/>
<path color="#2c9288" d="M520.4,459.8l-.4,1.5l2.9,28.2l.4-1.5z"/>
<path color="#262f7c" d="M616.2,457.4l-1-1.5l-.7,28.3l1,1.4z"/>
<path color="#1f7b74" d="M653.8,459.1l-1.1-1.1l-2.1,28.2l1.1,1.1z"/>
<path color="#208279" d="M655.5,460.1l-1.7-1l-2.1,28.2l1.6,1z"/>
<path color="#222a6f" d="M571.6,457.6l-.9,1.5l1,28.2l.8-1.5z"/>
<path color="#33979f" d="M520,461.3l.3,1.5l2.9,28.1l-.3-1.4z"/>
<path color="#222a6e" d="M617,458.8l-.8-1.4l-.7,28.2l.8,1.4z"/>
<path color="#1e7971" d="M657.6,461.2l-2.1-1.1l-2.2,28.2l2,1.1z"/>
<path color="#242d74" d="M570.7,459.1l-.7,1.5l1,28.2l.7-1.5z"/>
<path color="#212a6c" d="M617.7,460.4l-.7-1.6l-.7,28.2l.7,1.6z"/>
<path color="#41bcc9" d="M520.3,462.8l1.1,1.4l2.8,28.2l-1-1.5z"/>
<path color="#239087" d="M660,462.4l-2.4-1.2l-2.3,28.2l2.3,1.1z"/>
<path color="#1a6d66" d="M662.4,463.6l-2.4-1.2l-2.4,28.1l2.4,1.3z"/>
<path color="#27317e" d="M570,460.6l-.5,1.6l1.1,28.2l.4-1.6z"/>
<path color="#27317f" d="M618.2,462l-.5-1.6l-.7,28.2l.5,1.5z"/>
<path color="#3aa7b5" d="M521.4,464.2l1.6,1.4l2.8,28.2l-1.6-1.4z"/>
<path color="#1e7c74" d="M664.6,465l-2.2-1.4l-2.4,28.2l2.1,1.3z"/>
<path color="#2a3588" d="M569.5,462.2l-.3,1.6l1,28.2l.4-1.6z"/>
<path color="#222a6d" d="M618.6,463.6l-.4-1.6l-.7,28.1l.3,1.6z"/>
<path color="#3dafbe" d="M523,465.6l2.1,1.4l2.7,28.1l-2-1.3z"/>
<path color="#228c83" d="M666.5,466.4l-1.9-1.4l-2.5,28.1l1.8,1.4z"/>
<path color="#242d74" d="M569.2,463.8l-.1,1.6l1,28.2l.1-1.6z"/>
<path color="#40bbc9" d="M525.1,467l2.3,1.3l2.6,28.1l-2.2-1.3z"/>
<path color="#228b82" d="M667.8,467.9l-1.3-1.5l-2.6,28.1l1.2,1.5z"/>
<path color="#242d73" d="M618.7,465.2l-.1-1.6l-.8,28.1l.1,1.6z"/>
<path color="#1f7e76" d="M668.4,469.4l-.6-1.5l-2.7,28.1l.6,1.5z"/>
<path color="#37a2ad" d="M527.4,468.3l2.2,1.1l2.6,28.1l-2.2-1.1z"/>
<path color="#27317c" d="M569.1,465.4l0,1.7l1.1,28.1l-.1-1.6z"/>
<path color="#3150b2" d="M618.6,466.8l.1-1.6l-.8,28.1l-.1,1.7z"/>
<path color="#309099" d="M529.6,469.4l2,1.1l2.5,28.1l-1.9-1.1z"/>
<path color="#3cbdc7" d="M668.2,470.8l.2-1.4l-2.7,28.1l-.2,1.4z"/>
<path color="#3e5fc6" d="M569.1,467.1l.3,1.6l1,28.1l-.2-1.6z"/>
<path color="#2f4dac" d="M618.4,468.5l.2-1.7l-.8,28.2l-.2,1.6z"/>
<path color="#349ba3" d="M531.6,470.5l1.6,1.1l2.4,28.1l-1.5-1.1z"/>
<path color="#3bbcc6" d="M667.2,472.2l1-1.4l-2.7,28.1l-.9,1.4z"/>
<path color="#3c5bc1" d="M569.4,468.7l.4,1.6l1,28.1l-.4-1.6z"/>
<path color="#2d4aa6" d="M618,470.1l.4-1.6l-.8,28.1l-.4,1.6z"/>
<path color="#36a3ab" d="M533.2,471.6l.9,1.1l2.4,28.1l-.9-1.1z"/>
<path color="#3dc2ce" d="M665.6,473.5l1.6-1.3l-2.6,28.1l-1.6,1.3z"/>
<path color="#37a8af" d="M534.1,472.7l.4,1.2l2.3,28.1l-.3-1.2z"/>
<path color="#334ea7" d="M569.8,470.3l.6,1.6l1,28.1l-.6-1.6z"/>
<path color="#2f4bac" d="M617.4,471.6l.6-1.5l-.8,28.1l-.6,1.5z"/>
<path color="#329fa8" d="M663.5,474.7l2.1-1.2l-2.6,28.1l-2,1.2z"/>
<path color="#28857b" d="M534.5,473.9l-.4,1.3l2.4,28l.3-1.2z"/>
<path color="#344fab" d="M570.4,471.9l.8,1.5l1,28.1l-.8-1.5z"/>
<path color="#2d48a7" d="M616.6,473.2l.8-1.6l-.8,28.1l-.8,1.5z"/>
<path color="#36abb6" d="M661,475.8l2.5-1.1l-2.5,28.1l-2.4,1z"/>
<path color="#27847a" d="M534.1,475.2l-.9,1.4l2.4,28l.9-1.4z"/>
<path color="#3854ba" d="M571.2,473.4l1,1.5l.9,28l-.9-1.4z"/>
<path color="#2c45a2" d="M615.6,474.7l1-1.5l-.8,28l-.9,1.5z"/>
<path color="#3099a3" d="M658.4,476.7l2.6-.9l-2.4,28l-2.5,.9z"/>
<path color="#257d74" d="M533.2,476.6l-1.5,1.6l2.5,28l1.4-1.6z"/>
<path color="#35aab5" d="M656,477.6l2.4-.9l-2.3,28l-2.3,.9z"/>
<path color="#324ca9" d="M572.2,474.9l1.1,1.4l.9,28l-1.1-1.4z"/>
<path color="#2b44a0" d="M614.4,476.1l1.2-1.4l-.7,28l-1.1,1.4z"/>
<path color="#2b9085" d="M531.7,478.2l-1.7,1.7l2.6,28l1.6-1.7z"/>
<path color="#39b7c4" d="M653.9,478.4l2.1-.8l-2.2,28l-2.1,.8z"/>
<path color="#334cac" d="M573.3,476.3l1.3,1.3l.9,28l-1.3-1.3z"/>
<path color="#283f96" d="M613.1,477.4l1.3-1.3l-.6,28l-1.3,1.3z"/>
<path color="#3cc1cf" d="M652.2,479.3l1.7-.9l-2.2,28l-1.6,.9z"/>
<path color="#298b81" d="M530,479.9l-1.8,1.8l2.6,28l1.8-1.8z"/>
<path color="#2f46a2" d="M574.6,477.6l1.5,1.2l.8,28l-1.4-1.2z"/>
<path color="#314bb6" d="M611.7,478.6l1.4-1.2l-.6,28l-1.4,1.3z"/>
<path color="#38b4c2" d="M651.2,480.3l1-1l-2.1,28l-.9,1z"/>
<path color="#2f45a2" d="M576.1,478.8l1.6,1.1l.7,28l-1.5-1.1z"/>
<path color="#2d988c" d="M528.2,481.7l-1.7,1.9l2.7,28l1.6-1.9z"/>
<path color="#2c8e99" d="M650.8,481.5l.4-1.2l-2,28l-.4,1.2z"/>
<path color="#304ab4" d="M610.1,479.8l1.6-1.2l-.6,28.1l-1.5,1.1z"/>
<path color="#344db7" d="M577.7,479.9l1.7,1.1l.7,28l-1.7-1.1z"/>
<path color="#314ab7" d="M608.3,480.8l1.8-1l-.5,28l-1.7,1z"/>
<path color="#1a6861" d="M651.1,482.9l-.3-1.4l-2,28l.2,1.4z"/>
<path color="#206e66" d="M526.5,483.6l-1.3,1.9l2.8,28l1.2-1.9z"/>
<path color="#2ba59d" d="M523.9,484.9l-2.1,.6l2.8,27.9l2.1-.6z"/>
<path color="#344cb8" d="M579.4,481l1.9,.9l.6,27.9l-1.8-.8z"/>
<path color="#3048b4" d="M606.5,481.7l1.8-.9l-.4,28l-1.8,.9z"/>
<path color="#35b99e" d="M521.8,485.5l-2.2,.6l3,27.9l2-.6z"/>
<path color="#2dada4" d="M663.8,484.2l2.1,.5l-2.6,28l-2-.6z"/>
<path color="#39b58a" d="M519.6,486.1l-2.1,.6l3,27.9l2.1-.6z"/>
<path color="#25958b" d="M651.9,484.5l-.8-1.6l-2.1,28l.8,1.6z"/>
<path color="#36bda2" d="M665.9,484.7l2.2,.6l-2.7,28l-2.1-.6z"/>
<path color="#2b3e99" d="M581.3,481.9l1.9,.7l.5,28l-1.8-.8z"/>
<path color="#2e44ac" d="M604.6,482.5l1.9-.8l-.4,28l-1.8,.8z"/>
<path color="#40bd7e" d="M517.5,486.7l-2.2,.6l3.1,27.9l2.1-.6z"/>
<path color="#3bbd90" d="M668.1,485.3l2.1,.6l-2.8,27.9l-2-.5z"/>
<path color="#3ca565" d="M515.3,487.3l-2.1,.6l3.2,27.9l2-.6z"/>
<path color="#217269" d="M525.2,485.5l-.7,1.8l2.7,28l.8-1.8z"/>
<path color="#3fba7c" d="M670.2,485.9l2.2,.6l-2.9,27.9l-2.1-.6z"/>
<path color="#2c3f9d" d="M583.2,482.6l2,.7l.5,27.9l-2-.6z"/>
<path color="#4cc56e" d="M513.2,487.9l-2.2,.6l3.3,27.9l2.1-.6z"/>
<path color="#3046b5" d="M602.5,483.2l2.1-.7l-.3,28l-2,.6z"/>
<path color="#35935a" d="M672.4,486.5l2.1,.6l-2.9,27.9l-2.1-.6z"/>
<path color="#50c262" d="M511,488.5l-2.2,.6l3.4,27.9l2.1-.6z"/>
<path color="#47b666" d="M674.5,487.1l2.2,.5l-3.1,28l-2-.6z"/>
<path color="#2d41a6" d="M585.2,483.3l2.1,.5l.4,27.9l-2-.5z"/>
<path color="#1e7c73" d="M653.1,486.3l-1.2-1.8l-2.1,28l1.1,1.7z"/>
<path color="#2d41aa" d="M600.4,483.7l2.1-.5l-.2,27.9l-2,.6z"/>
<path color="#45a049" d="M508.8,489.1l-2.1,.6l3.5,27.9l2-.6z"/>
<path color="#45a755" d="M676.7,487.6l2.1,.6l-3.1,27.9l-2.1-.5z"/>
<path color="#58bc4d" d="M506.7,489.7l-2.2,.6l3.6,27.9l2.1-.6z"/>
<path color="#3044b3" d="M587.3,483.8l2.2,.3l.3,28l-2.1-.4z"/>
<path color="#273895" d="M598.3,484.1l2.1-.4l-.1,28l-2.1,.3z"/>
<path color="#4cb050" d="M678.8,488.2l2.2,.6l-3.2,27.9l-2.1-.6z"/>
<path color="#67b244" d="M504.5,490.3l-2.1,.6l3.6,27.9l2.1-.6z"/>
<path color="#2c3ea6" d="M589.5,484.1l2.2,.2l.2,28l-2.1-.2z"/>
<path color="#283999" d="M596.1,484.3l2.2-.2l-.1,27.9l-2.1,.3z"/>
<path color="#27877d" d="M524.5,487.3l-.2,1.7l2.8,27.9l.1-1.6z"/>
<path color="#55b84b" d="M681,488.8l2.1,.6l-3.3,27.9l-2-.6z"/>
<path color="#2c3ea8" d="M591.7,484.3l2.2,.1l.1,28l-2.1-.1z"/>
<path color="#283898" d="M593.9,484.4l2.2-.1l0,28l-2.1,.1z"/>
<path color="#7fb641" d="M502.4,490.9l-2.2,.6l3.7,27.9l2.1-.6z"/>
<path color="#599a3b" d="M683.1,489.4l2.2,.6l-3.4,27.9l-2.1-.6z"/>
<path color="#90ae39" d="M500.2,491.5l-2.2,.6l3.8,27.9l2.1-.6z"/>
<path color="#6a9836" d="M685.3,490l2.1,.6l-3.4,27.8l-2.1-.5z"/>
<path color="#9d9231" d="M498,492.1l-2.2,.6l3.9,27.9l2.1-.6z"/>
<path color="#1c7169" d="M654.4,488.3l-1.3-2l-2.2,27.9l1.3,2z"/>
<path color="#8aa737" d="M687.4,490.6l2.2,.5l-3.5,27.9l-2.1-.6z"/>
<path color="#b46e2c" d="M495.8,492.7l-2.1,.6l3.9,27.9l2.1-.6z"/>
<path color="#9e9331" d="M689.6,491.1l2.2,.6l-3.6,27.9l-2.1-.6z"/>
<path color="#a1381f" d="M493.7,493.3l-2.2,.6l4,27.9l2.1-.6z"/>
<path color="#26857d" d="M524.3,489l.7,1.4l2.7,27.9l-.6-1.4z"/>
<path color="#b36d2c" d="M691.8,491.7l2.2,.6l-3.8,27.9l-2-.6z"/>
<path color="#aa2b1e" d="M491.5,493.9l-2.2,.6l4.2,27.9l2-.6z"/>
<path color="#a6271d" d="M489.3,494.5l-2.2,.6l4.3,27.9l2.1-.6z"/>
<path color="#c14325" d="M694,492.3l2.1,.6l-3.8,27.8l-2.1-.5z"/>
<path color="#b42720" d="M487.1,495.1l-2.2,.7l4.4,27.8l2.1-.6z"/>
<path color="#9b271b" d="M696.1,492.9l2.2,.6l-3.9,27.8l-2.1-.6z"/>
<path color="#8e1c1a" d="M484.9,495.8l-2.2,.6l4.4,27.8l2.2-.6z"/>
<path color="#99241b" d="M698.3,493.5l2.2,.6l-4,27.8l-2.1-.6z"/>
<path color="#891919" d="M482.7,496.4l-2.2,.6l4.5,27.8l2.1-.6z"/>
<path color="#b22720" d="M700.5,494.1l2.2,.6l-4.1,27.8l-2.1-.6z"/>
<path color="#7f1717" d="M480.5,497l-2.2,.6l4.6,27.8l2.1-.6z"/>
<path color="#1a6962" d="M655.8,490.4l-1.4-2.1l-2.2,27.9l1.3,2z"/>
<path color="#289085" d="M525,490.4l1.3,1.2l2.7,27.9l-1.3-1.2z"/>
<path color="#921d1a" d="M702.7,494.7l2.1,.6l-4.1,27.8l-2.1-.6z"/>
<path color="#831818" d="M478.3,497.6l-2.2,.6l4.7,27.8l2.1-.6z"/>
<path color="#8d1a1a" d="M704.8,495.3l2.2,.5l-4.2,27.9l-2.1-.6z"/>
<path color="#8f1a1a" d="M476.1,498.2l-2.2,.6l4.8,27.8l2.1-.6z"/>
<path color="#a11d1d" d="M707,495.8l2.2,.6l-4.3,27.8l-2.1-.5z"/>
<path color="#711414" d="M473.9,498.8l-2.2,.6l4.9,27.8l2.1-.6z"/>
<path color="#9d1d1d" d="M709.2,496.4l2.2,.6l-4.4,27.8l-2.1-.6z"/>
<path color="#861818" d="M711.4,497l2.2,.6l-4.5,27.8l-2.1-.6z"/>
<path color="#21786e" d="M526.3,491.6l2,.9l2.7,27.8l-2-.8z"/>
<path color="#711414" d="M713.6,497.6l2.2,.6l-4.6,27.8l-2.1-.6z"/>
<path color="#249187" d="M656.9,492.5l-1.1-2.1l-2.3,27.8l1.1,2.1z"/>
<path color="#29998a" d="M528.3,492.5l2.5,.6l2.6,27.8l-2.4-.6z"/>
<path color="#2a9d8d" d="M530.8,493.1l2.8,.4l2.5,27.8l-2.7-.4z"/>
<path color="#2ba392" d="M533.6,493.5l3,.2l2.3,27.8l-2.8-.2z"/>
<path color="#227f71" d="M536.6,493.7l2.8,.1l2.3,27.9l-2.8-.2z"/>
<path color="#20837a" d="M657.6,494.5l-.7-2l-2.3,27.8l.7,2z"/>
<path color="#299a88" d="M539.4,493.8l2.6,.2l2.1,27.8l-2.4-.1z"/>
<path color="#20786a" d="M542,494l2.2,.3l2,27.9l-2.1-.4z"/>
<path color="#248676" d="M544.2,494.3l1.6,.6l2,27.8l-1.6-.5z"/>
<path color="#21867d" d="M657.8,496.3l-.2-1.8l-2.3,27.8l.1,1.8z"/>
<path color="#2ca390" d="M545.8,494.9l1.1,.9l1.9,27.8l-1-.9z"/>
<path color="#289280" d="M546.9,495.8l.6,1.3l1.9,27.8l-.6-1.3z"/>
<path color="#32a2aa" d="M657.2,497.9l.6-1.6l-2.4,27.8l-.5,1.6z"/>
<path color="#247e75" d="M547.5,497.1l.1,1.6l1.9,27.8l-.1-1.6z"/>
<path color="#2f979b" d="M656.1,499.1l1.1-1.2l-2.3,27.8l-1.1,1.2z"/>
<path color="#36acae" d="M654.2,500l1.9-.9l-2.3,27.8l-1.8,.8z"/>
<path color="#22776e" d="M547.6,498.7l-.3,1.9l2,27.8l.2-1.9z"/>
<path color="#36acaa" d="M651.9,500.5l2.3-.5l-2.2,27.7l-2.2,.5z"/>
<path color="#3bbcb6" d="M649.1,500.6l2.8-.1l-2.1,27.7l-2.7,.2z"/>
<path color="#319c95" d="M646.2,500.6l2.9,0l-2,27.8l-2.8-.1z"/>
<path color="#33a395" d="M640.4,500.2l2.8,.2l-1.8,27.7l-2.7-.2z"/>
<path color="#329f8e" d="M637.9,500.1l2.5,.1l-1.7,27.7l-2.4,0z"/>
<path color="#3ec5b8" d="M643.2,500.4l3,.2l-1.9,27.7l-2.9-.2z"/>
<path color="#3cbfa8" d="M635.8,500.2l2.1-.1l-1.6,27.8l-2,.1z"/>
<path color="#2c8a76" d="M634.2,500.7l1.6-.5l-1.5,27.8l-1.5,.5z"/>
<path color="#207168" d="M547.3,500.6l-.3,2.2l1.9,27.8l.4-2.2z"/>
<path color="#2fb4ab" d="M535.8,502.3l-1.8,1.2l2.5,27.7l1.7-1.1z"/>
<path color="#299d96" d="M651.9,501.8l1.8,1.1l-2.2,27.7l-1.7-1.1z"/>
<path color="#329f85" d="M633.1,501.6l1.1-.9l-1.4,27.8l-1.1,.9z"/>
<path color="#32ac93" d="M534,503.5l-1.8,1.2l2.5,27.7l1.8-1.2z"/>
<path color="#37c0a5" d="M653.7,502.9l1.8,1.1l-2.3,27.7l-1.7-1.1z"/>
<path color="#3bbb99" d="M632.3,502.9l.8-1.3l-1.4,27.8l-.7,1.3z"/>
<path color="#2f9673" d="M532.2,504.7l-1.8,1.1l2.6,27.7l1.7-1.1z"/>
<path color="#278b81" d="M547,502.8l-.4,2.4l1.9,27.7l.4-2.3z"/>
<path color="#39b78c" d="M655.5,504l1.8,1.2l-2.3,27.7l-1.8-1.2z"/>
<path color="#38a56e" d="M530.4,505.8l-1.8,1.2l2.6,27.7l1.8-1.2z"/>
<path color="#2d8c70" d="M632,504.7l.3-1.8l-1.3,27.8l-.4,1.7z"/>
<path color="#42c382" d="M657.3,505.2l1.8,1.1l-2.4,27.7l-1.7-1.1z"/>
<path color="#43ba71" d="M528.6,507l-1.9,1.1l2.8,27.7l1.7-1.1z"/>
<path color="#399c5f" d="M659.1,506.3l1.9,1.2l-2.5,27.6l-1.8-1.1z"/>
<path color="#237d74" d="M546.6,505.2l-.2,2.3l1.9,27.7l.2-2.3z"/>
<path color="#43ad60" d="M526.7,508.1l-1.8,1.2l2.8,27.7l1.8-1.2z"/>
<path color="#2e8f6f" d="M631.8,506.7l.2-2l-1.4,27.7l-.2,2z"/>
<path color="#3b9a56" d="M661,507.5l1.8,1.1l-2.6,27.7l-1.7-1.2z"/>
<path color="#419d4f" d="M524.9,509.3l-1.8,1.2l2.9,27.6l1.7-1.1z"/>
<path color="#50c363" d="M662.8,508.6l1.8,1.2l-2.6,27.6l-1.8-1.1z"/>
<path color="#238076" d="M546.4,507.5l.1,2.2l2,27.7l-.2-2.2z"/>
<path color="#54c158" d="M523.1,510.5l-1.9,1.2l3,27.6l1.8-1.2z"/>
<path color="#429845" d="M664.6,509.8l1.9,1.1l-2.8,27.6l-1.7-1.1z"/>
<path color="#34a27b" d="M631.7,509l.1-2.3l-1.4,27.7l-.1,2.3z"/>
<path color="#5dc751" d="M521.2,511.7l-1.8,1.1l3,27.6l1.8-1.1z"/>
<path color="#47993e" d="M666.5,510.9l1.8,1.2l-2.8,27.6l-1.8-1.2z"/>
<path color="#70c24a" d="M519.4,512.8l-1.9,1.2l3.2,27.6l1.7-1.2z"/>
<path color="#2b9985" d="M546.5,509.7l.5,1.9l2,27.6l-.5-1.8z"/>
<path color="#63ab42" d="M668.3,512.1l1.8,1.1l-2.8,27.6l-1.8-1.1z"/>
<path color="#2fac95" d="M569.5,509.8l1.9-.2l1,27.7l-1.8,.1z"/>
<path color="#289581" d="M571.4,509.6l1.6,.4l.9,27.6l-1.5-.3z"/>
<path color="#28937f" d="M567.4,510.3l2.1-.5l1.1,27.6l-2.1,.6z"/>
<path color="#309770" d="M631.5,511.4l.2-2.4l-1.4,27.7l-.2,2.3z"/>
<path color="#679435" d="M517.5,514l-1.8,1.2l3.2,27.6l1.8-1.2z"/>
<path color="#248877" d="M573,510l1.3,.8l.9,27.7l-1.3-.9z"/>
<path color="#648f33" d="M670.1,513.2l1.9,1.2l-2.9,27.6l-1.8-1.2z"/>
<path color="#30af97" d="M564.9,511.2l2.5-.9l1.1,27.7l-2.3,.9z"/>
<path color="#2a9682" d="M547,511.6l1.1,1.5l1.9,27.6l-1-1.5z"/>
<path color="#94b33b" d="M515.7,515.2l-1.9,1.2l3.3,27.5l1.8-1.1z"/>
<path color="#268976" d="M562.3,512.2l2.6-1l1.3,27.7l-2.5,1z"/>
<path color="#7d9832" d="M672,514.4l1.8,1.1l-3,27.6l-1.7-1.1z"/>
<path color="#279582" d="M574.3,510.8l1.2,1.4l.9,27.6l-1.2-1.3z"/>
<path color="#867d2a" d="M513.8,516.4l-1.8,1.2l3.3,27.5l1.8-1.2z"/>
<path color="#35bca2" d="M559.5,513.3l2.8-1.1l1.4,27.7l-2.7,1z"/>
<path color="#2b9984" d="M548.1,513.1l1.5,1l1.9,27.6l-1.5-1z"/>
<path color="#2c8a64" d="M631,513.7l.5-2.3l-1.4,27.6l-.4,2.3z"/>
<path color="#998e30" d="M673.8,515.5l1.9,1.2l-3.1,27.6l-1.8-1.2z"/>
<path color="#2ead8f" d="M605.3,511.8l1.8,.2l-.4,27.6l-1.7-.2z"/>
<path color="#2dab8e" d="M603.7,512.1l1.6-.3l-.3,27.6l-1.5,.4z"/>
<path color="#8b5522" d="M512,517.6l-1.9,1.1l3.4,27.6l1.8-1.2z"/>
<path color="#2ea989" d="M607.1,512l1.9,.7l-.5,27.6l-1.8-.7z"/>
<path color="#31ae95" d="M556.7,514.1l2.8-.8l1.5,27.6l-2.7,.8z"/>
<path color="#258f78" d="M602.2,513l1.5-.9l-.2,27.7l-1.5,.8z"/>
<path color="#278b78" d="M549.6,514.1l2,.5l1.8,27.6l-1.9-.5z"/>
<path color="#31bca4" d="M575.5,512.2l1.1,1.8l.8,27.6l-1-1.8z"/>
<path color="#9f6127" d="M675.7,516.7l1.9,1.2l-3.2,27.5l-1.8-1.1z"/>
<path color="#29917c" d="M554,514.6l2.7-.5l1.6,27.6l-2.6,.4z"/>
<path color="#32b198" d="M551.6,514.6l2.4,0l1.7,27.5l-2.3,.1z"/>
<path color="#33b793" d="M609,512.7l2.1,1.1l-.5,27.6l-2.1-1.1z"/>
<path color="#ca4627" d="M510.1,518.7l-1.9,1.2l3.5,27.6l1.8-1.2z"/>
<path color="#2ba990" d="M600.7,514.4l1.5-1.4l-.2,27.6l-1.4,1.3z"/>
<path color="#9a361d" d="M677.6,517.9l1.8,1.2l-3.2,27.5l-1.8-1.2z"/>
<path color="#329c70" d="M630.3,515.7l.7-2l-1.3,27.6l-.7,2z"/>
<path color="#ca3323" d="M508.2,519.9l-1.8,1.2l3.6,27.5l1.7-1.1z"/>
<path color="#2c9d7d" d="M611.1,513.8l2.4,1.3l-.7,27.6l-2.2-1.3z"/>
<path color="#279683" d="M576.6,514l1.2,2.1l.7,27.5l-1.1-2z"/>
<path color="#a3291d" d="M679.4,519.1l1.9,1.1l-3.3,27.5l-1.8-1.1z"/>
<path color="#a2261d" d="M506.4,521.1l-1.9,1.2l3.7,27.5l1.8-1.2z"/>
<path color="#2aab93" d="M599.2,516.1l1.5-1.7l-.1,27.5l-1.5,1.7z"/>
<path color="#aa281e" d="M681.3,520.2l1.9,1.2l-3.4,27.5l-1.8-1.2z"/>
<path color="#2b9877" d="M613.5,515.1l2.5,1.4l-.8,27.6l-2.4-1.4z"/>
<path color="#30986f" d="M629.2,517.4l1.1-1.7l-1.3,27.6l-1.1,1.7z"/>
<path color="#95201b" d="M504.5,522.3l-1.9,1.2l3.7,27.5l1.9-1.2z"/>
<path color="#901f1a" d="M683.2,521.4l1.8,1.2l-3.4,27.5l-1.8-1.2z"/>
<path color="#238978" d="M577.8,516.1l1.2,2.1l.7,27.6l-1.2-2.2z"/>
<path color="#33af88" d="M616,516.5l2.5,1.2l-.8,27.6l-2.5-1.2z"/>
<path color="#9a1e1c" d="M502.6,523.5l-1.9,1.2l3.8,27.5l1.8-1.2z"/>
<path color="#208674" d="M597.5,518l1.7-1.9l-.1,27.5l-1.6,2z"/>
<path color="#2f976f" d="M627.7,518.6l1.5-1.2l-1.3,27.6l-1.4,1.1z"/>
<path color="#951d1b" d="M685,522.6l1.9,1.2l-3.5,27.4l-1.8-1.1z"/>
<path color="#981c1c" d="M500.7,524.7l-1.9,1.2l3.9,27.5l1.8-1.2z"/>
<path color="#298b6b" d="M618.5,517.7l2.6,1l-.9,27.5l-2.5-.9z"/>
<path color="#34aa7e" d="M625.8,519.2l1.9-.6l-1.2,27.5l-1.9,.6z"/>
<path color="#ac1f1f" d="M686.9,523.8l1.9,1.2l-3.6,27.4l-1.8-1.2z"/>
<path color="#34b086" d="M621.1,518.7l2.5,.5l-1.1,27.5l-2.3-.5z"/>
<path color="#891919" d="M498.8,525.9l-1.9,1.3l4,27.4l1.8-1.2z"/>
<path color="#309f77" d="M623.6,519.2l2.2,0l-1.2,27.5l-2.1,0z"/>
<path color="#289e8b" d="M579,518.2l1.4,2.1l.6,27.5l-1.3-2z"/>
<path color="#2aaf9a" d="M595.8,520l1.7-2l0,27.6l-1.7,1.9z"/>
<path color="#881919" d="M688.8,525l1.9,1.1l-3.7,27.5l-1.8-1.2z"/>
<path color="#881919" d="M496.9,527.2l-1.9,1.2l4.1,27.4l1.8-1.2z"/>
<path color="#811717" d="M690.7,526.1l1.9,1.2l-3.8,27.4l-1.8-1.1z"/>
<path color="#911a1a" d="M495,528.4l-1.9,1.2l4.2,27.4l1.8-1.2z"/>
<path color="#27a996" d="M593.9,521.8l1.9-1.8l0,27.5l-1.8,1.8z"/>
<path color="#289f8c" d="M580.4,520.3l1.6,1.9l.6,27.5l-1.6-1.9z"/>
<path color="#801717" d="M692.6,527.3l1.9,1.2l-3.9,27.4l-1.8-1.2z"/>
<path color="#801717" d="M493.1,529.6l-1.9,1.2l4.2,27.4l1.9-1.2z"/>
<path color="#8a1919" d="M694.5,528.5l1.9,1.2l-3.9,27.4l-1.9-1.2z"/>
<path color="#27a695" d="M591.9,523.3l2-1.5l.1,27.5l-1.9,1.5z"/>
<path color="#2cb39e" d="M582,522.2l1.7,1.4l.6,27.5l-1.7-1.4z"/>
<path color="#31bbb2" d="M580.5,522.8l-.5,1.8l.7,27.5l.4-1.8z"/>
<path color="#2eb0a7" d="M607.3,522.7l.4,1.8l-.4,27.5l-.4-1.9z"/>
<path color="#249b8a" d="M589.8,524.3l2.1-1l.2,27.5l-2,1z"/>
<path color="#2aab98" d="M583.7,523.6l1.9,.9l.5,27.4l-1.8-.8z"/>
<path color="#218b7c" d="M587.7,524.7l2.1-.4l.3,27.5l-2,.4z"/>
<path color="#208576" d="M585.6,524.5l2.1,.2l.4,27.5l-2-.3z"/>
<path color="#2e9e87" d="M580,524.6l-.4,1.9l.7,27.4l.4-1.8z"/>
<path color="#2fa38b" d="M607.7,524.5l.5,1.8l-.5,27.5l-.4-1.8z"/>
<path color="#2e9471" d="M579.6,526.5l-.4,1.8l.7,27.4l.4-1.8z"/>
<path color="#38b287" d="M608.2,526.3l.4,1.9l-.5,27.4l-.4-1.8z"/>
<path color="#3eb77b" d="M579.2,528.3l-.5,1.9l.8,27.3l.4-1.8z"/>
<path color="#349966" d="M608.6,528.2l.4,1.8l-.4,27.4l-.5-1.8z"/>
<path color="#3da967" d="M578.7,530.2l-.4,1.8l.8,27.4l.4-1.9z"/>
<path color="#47c377" d="M609,530l.5,1.9l-.5,27.3l-.4-1.8z"/>
<path color="#44af61" d="M578.3,532l-.4,1.9l.7,27.3l.5-1.8z"/>
<path color="#40a45c" d="M609.5,531.9l.4,1.8l-.5,27.3l-.4-1.8z"/>
<path color="#4cb95e" d="M577.9,533.9l-.5,1.9l.8,27.3l.4-1.9z"/>
<path color="#52c765" d="M609.9,533.7l.4,1.9l-.5,27.3l-.4-1.9z"/>
<path color="#54c158" d="M577.4,535.8l-.4,1.8l.8,27.3l.4-1.8z"/>
<path color="#46a149" d="M610.3,535.6l.5,1.9l-.6,27.2l-.4-1.8z"/>
<path color="#58be4d" d="M577,537.6l-.4,1.9l.8,27.3l.4-1.9z"/>
<path color="#54b449" d="M610.8,537.5l.4,1.8l-.6,27.3l-.4-1.9z"/>
<path color="#69b545" d="M576.6,539.5l-.5,1.9l.9,27.2l.4-1.8z"/>
<path color="#5fa53f" d="M611.2,539.3l.4,1.9l-.5,27.2l-.5-1.8z"/>
<path color="#699736" d="M576.1,541.4l-.4,1.9l.8,27.2l.5-1.9z"/>
<path color="#659134" d="M611.6,541.2l.5,1.9l-.6,27.2l-.4-1.9z"/>
<path color="#8ba737" d="M575.7,543.3l-.5,1.9l.9,27.2l.4-1.9z"/>
<path color="#849f34" d="M612.1,543.1l.4,1.9l-.6,27.2l-.4-1.9z"/>
<path color="#7f7627" d="M575.2,545.2l-.4,1.9l.9,27.1l.4-1.8z"/>
<path color="#93882d" d="M612.5,545l.5,1.9l-.7,27.1l-.4-1.8z"/>
<path color="#9e6027" d="M574.8,547.1l-.5,2l1,27l.4-1.9z"/>
<path color="#af6b2b" d="M613,546.9l.4,1.9l-.6,27.1l-.5-1.9z"/>
<path color="#b84023" d="M574.3,549.1l-.4,1.9l.9,27l.5-1.9z"/>
<path color="#c94627" d="M613.4,548.8l.5,2l-.7,27l-.4-1.9z"/>
<path color="#a72a1d" d="M573.9,551l-.5,1.9l1,27l.4-1.9z"/>
<path color="#9e281c" d="M613.9,550.8l.4,1.9l-.7,27l-.4-1.9z"/>
<path color="#a2261d" d="M573.4,552.9l-.4,1.9l1,27l.4-1.9z"/>
<path color="#9d251c" d="M614.3,552.7l.5,1.9l-.7,27l-.5-1.9z"/>
<path color="#af261f" d="M573,554.8l-.5,2l1,27l.5-2z"/>
<path color="#be2922" d="M614.8,554.6l.4,2l-.7,26.9l-.4-1.9z"/>
<path color="#af2220" d="M572.5,556.8l-.4,1.9l1,27l.4-1.9z"/>
<path color="#921d1a" d="M615.2,556.6l.5,1.9l-.8,26.9l-.4-1.9z"/>
<path color="#a61e1e" d="M572.1,558.7l-.5,2l1.1,26.9l.4-1.9z"/>
<path color="#8c1919" d="M615.7,558.5l.4,2l-.7,26.9l-.5-2z"/>
<path color="#7c1616" d="M571.6,560.7l-.4,2l1,26.8l.5-1.9z"/>
<path color="#971b1b" d="M616.1,560.5l.5,1.9l-.8,26.9l-.4-1.9z"/>
<path color="#9c1c1c" d="M571.2,562.7l-.5,1.9l1.1,26.9l.4-2z"/>
<path color="#941b1b" d="M616.6,562.4l.5,2l-.8,26.8l-.5-1.9z"/>
<path color="#901a1a" d="M570.7,564.6l-.5,2l1.1,26.8l.5-1.9z"/>
<path color="#8b1919" d="M617.1,564.4l.4,2l-.8,26.8l-.4-2z"/>
<path color="#8e1a1a" d="M570.2,566.6l-.4,2l1.1,26.8l.4-2z"/>
<path color="#6c1313" d="M617.5,566.4l.5,2l-.9,26.7l-.4-1.9z"/>
</g>
<path d="M512.91,571.52 L674.76,570.62 M447.75,466.01 L512.91,571.52 M739.7,464.61 L674.76,570.62 M516.39,598.23 L671.56,597.33 M453.34,494.16 L516.39,598.23 M734.38,492.75 L671.56,597.33 M447.75,466.01 L453.34,494.16 M739.7,464.61 L734.38,492.75 M512.91,571.52 L516.39,598.23 M674.76,570.62 L671.56,597.33" fill="none" stroke="#000" stroke-width="2.4" stroke-linecap="round"/>
<path d="M595.3,473.7 L519.1,582.5 L595.3,582.5 Z" fill="none" stroke="#e8202a" stroke-width="3.2" stroke-dasharray="2.6,2.6"/>
<text x="503.5" y="606.5" font-size="22" font-weight="bold" font-style="normal" fill="#e8202a" text-anchor="middle" >K</text>
<text x="594" y="606.5" font-size="22" font-weight="bold" font-style="normal" fill="#e8202a" text-anchor="middle" >M</text>
<text x="585.4" y="474" font-size="22.5" font-weight="bold" font-style="normal" fill="#e8202a" text-anchor="middle" >&#915;</text>
<rect x="509.4" y="620.8" width="175.1" height="8.9" fill="url(#cbar)"/>
<text x="497.9" y="647.2" font-size="22" font-weight="bold" font-style="normal" fill="#000" text-anchor="start" >min</text>
<text x="708" y="647.2" font-size="22" font-weight="bold" font-style="normal" fill="#000" text-anchor="end" >max</text>
<text x="592.5" y="500" font-size="22.5" font-weight="bold" font-style="normal" fill="#000" text-anchor="middle" >&#915;</text>
<path d="M533.25,735.65 L662.85,735.98 M451.98,806.98 L533.25,735.65 M662.85,735.98 L739.24,807.17 M535.16,768.9 L661.44,769.12 M456.41,841.77 L535.16,768.9 M661.44,769.12 L735.52,841.7 M533.25,735.65 L535.16,768.9 M662.85,735.98 L661.44,769.12" fill="none" stroke="#000" stroke-width="2.4" stroke-linecap="round"/>
<g fill="currentColor" stroke="currentColor" stroke-width="0.6">
<path color="#2c53a3" d="M598.1,737l-4.3,0l.3,33.3l4.3-.1z"/>
<path color="#2e62a2" d="M593.8,737l-4.3,.2l.4,33.2l4.2-.1z"/>
<path color="#274694" d="M602.5,737.1l-4.4-.1l.3,33.2l4.2,.1z"/>
<path color="#2d6b97" d="M589.5,737.2l-4.4,.2l.6,33.3l4.2-.3z"/>
<path color="#2b50a0" d="M606.8,737.2l-4.3-.1l.1,33.2l4.2,.1z"/>
<path color="#296c83" d="M585.1,737.4l-4.3,.3l.7,33.3l4.2-.3z"/>
<path color="#2c549f" d="M611.1,737.5l-4.3-.3l0,33.2l4.2,.3z"/>
<path color="#2e848a" d="M580.8,737.7l-4.3,.5l.8,33.2l4.2-.4z"/>
<path color="#2c579d" d="M615.4,737.8l-4.3-.3l-.1,33.2l4.2,.4z"/>
<path color="#2d8b7e" d="M576.5,738.2l-4.3,.5l.9,33.3l4.2-.6z"/>
<path color="#295590" d="M619.7,738.3l-4.3-.5l-.2,33.3l4.1,.4z"/>
<path color="#2d9275" d="M572.2,738.7l-4.2,.6l1,33.3l4.1-.6z"/>
<path color="#2e62a0" d="M623.9,738.8l-4.2-.5l-.4,33.2l4.2,.6z"/>
<path color="#298062" d="M568,739.3l-4.3,.7l1.2,33.4l4.1-.8z"/>
<path color="#2a5d8a" d="M628.1,739.5l-4.2-.7l-.4,33.3l4.1,.6z"/>
<path color="#349d73" d="M563.7,740l-4.1,.9l1.2,33.3l4.1-.8z"/>
<path color="#2c698c" d="M632.3,740.2l-4.2-.7l-.5,33.2l4,.8z"/>
<path color="#308d63" d="M559.6,740.9l-4.2,.9l1.4,33.3l4-.9z"/>
<path color="#2c6e85" d="M636.4,741l-4.1-.8l-.7,33.3l4.1,.8z"/>
<path color="#318c5d" d="M555.4,741.8l-4.1,1l1.5,33.4l4-1.1z"/>
<path color="#2e7a84" d="M640.5,742l-4.1-1l-.7,33.3l3.9,1z"/>
<path color="#379a61" d="M551.3,742.8l-4.1,1.1l1.6,33.4l4-1.1z"/>
<path color="#2e807d" d="M644.5,743l-4-1l-.9,33.3l4,1z"/>
<path color="#38975b" d="M547.2,743.9l-4,1.2l1.7,33.4l3.9-1.2z"/>
<path color="#277062" d="M648.5,744.1l-4-1.1l-.9,33.3l3.8,1.1z"/>
<path color="#379153" d="M543.2,745.1l-3.9,1.2l1.8,33.5l3.8-1.3z"/>
<path color="#267259" d="M652.4,745.3l-3.9-1.2l-1.1,33.3l3.8,1.3z"/>
<path color="#5f6e2b" d="M597.9,744.9l-3.8,.1l.3,33.4l3.8-.1z"/>
<path color="#777931" d="M594.1,745l-3.9,.1l.5,33.4l3.7-.1z"/>
<path color="#6e8032" d="M601.7,745l-3.8-.1l.3,33.4l3.7,.1z"/>
<path color="#42a95c" d="M539.3,746.3l-3.9,1.4l1.9,33.5l3.8-1.4z"/>
<path color="#866e30" d="M590.2,745.1l-3.8,.2l.5,33.4l3.8-.2z"/>
<path color="#5b6a2a" d="M605.6,745.1l-3.9-.1l.2,33.4l3.7,.1z"/>
<path color="#7d5226" d="M586.4,745.3l-3.8,.3l.6,33.4l3.7-.3z"/>
<path color="#287f5a" d="M656.3,746.6l-3.9-1.3l-1.2,33.4l3.8,1.3z"/>
<path color="#5f6f2c" d="M609.4,745.4l-3.8-.3l0,33.4l3.8,.2z"/>
<path color="#8b4725" d="M582.6,745.6l-3.9,.4l.8,33.4l3.7-.4z"/>
<path color="#526026" d="M613.2,745.7l-3.8-.3l0,33.3l3.7,.4z"/>
<path color="#ae4528" d="M578.7,746l-3.8,.5l.9,33.4l3.7-.5z"/>
<path color="#62732e" d="M617,746.1l-3.8-.4l-.1,33.4l3.6,.4z"/>
<path color="#3a934b" d="M535.4,747.7l-3.8,1.5l2,33.5l3.7-1.5z"/>
<path color="#af3423" d="M574.9,746.5l-3.7,.5l.9,33.5l3.7-.6z"/>
<path color="#5e5a25" d="M620.8,746.6l-3.8-.5l-.3,33.4l3.7,.5z"/>
<path color="#257b4e" d="M660,748l-3.7-1.4l-1.3,33.4l3.7,1.4z"/>
<path color="#aa281f" d="M571.2,747l-3.8,.7l1.1,33.4l3.6-.6z"/>
<path color="#6b5122" d="M624.5,747.1l-3.7-.5l-.4,33.4l3.6,.6z"/>
<path color="#b1281f" d="M567.4,747.7l-3.7,.7l1.2,33.5l3.6-.8z"/>
<path color="#74451f" d="M628.2,747.8l-3.7-.7l-.5,33.5l3.6,.6z"/>
<path color="#40974a" d="M531.6,749.2l-3.8,1.5l2.1,33.6l3.7-1.6z"/>
<path color="#2c9554" d="M663.7,749.5l-3.7-1.5l-1.3,33.4l3.6,1.5z"/>
<path color="#aa241d" d="M563.7,748.4l-3.7,.8l1.3,33.5l3.6-.8z"/>
<path color="#6d3017" d="M631.8,748.5l-3.6-.7l-.6,33.4l3.6,.8z"/>
<path color="#ae231e" d="M560,749.2l-3.6,.9l1.4,33.6l3.5-1z"/>
<path color="#792514" d="M635.4,749.4l-3.6-.9l-.6,33.5l3.5,.8z"/>
<path color="#50ab51" d="M527.8,750.7l-3.6,1.7l2.2,33.6l3.5-1.7z"/>
<path color="#298c57" d="M667.4,751l-3.7-1.5l-1.4,33.4l3.5,1.6z"/>
<path color="#b2221e" d="M556.4,750.1l-3.6,1l1.5,33.6l3.5-1z"/>
<path color="#74190f" d="M639,750.3l-3.6-.9l-.7,33.4l3.5,1z"/>
<path color="#56a74c" d="M524.2,752.4l-3.6,1.7l2.3,33.7l3.5-1.8z"/>
<path color="#d42723" d="M552.8,751.1l-3.5,1.1l1.5,33.6l3.5-1.1z"/>
<path color="#73190f" d="M642.5,751.3l-3.5-1l-.8,33.5l3.4,1z"/>
<path color="#2a9065" d="M670.9,752.7l-3.5-1.7l-1.6,33.5l3.4,1.7z"/>
<path color="#d02421" d="M549.3,752.2l-3.5,1.1l1.6,33.6l3.4-1.1z"/>
<path color="#801c11" d="M646,752.4l-3.5-1.1l-.9,33.5l3.4,1.1z"/>
<path color="#569943" d="M520.6,754.1l-3.5,1.8l2.4,33.8l3.4-1.9z"/>
<path color="#247d62" d="M674.4,754.4l-3.5-1.7l-1.7,33.5l3.4,1.8z"/>
<path color="#b71e1d" d="M545.8,753.3l-3.4,1.2l1.7,33.7l3.3-1.3z"/>
<path color="#7b1c11" d="M649.4,753.5l-3.4-1.1l-1,33.5l3.3,1.2z"/>
<path color="#c61f1f" d="M542.4,754.5l-3.4,1.3l1.8,33.7l3.3-1.3z"/>
<path color="#5f9e43" d="M517.1,755.9l-3.4,1.9l2.5,33.8l3.3-1.9z"/>
<path color="#751b11" d="M652.7,754.8l-3.3-1.3l-1.1,33.6l3.2,1.2z"/>
<path color="#227668" d="M677.7,756.3l-3.3-1.9l-1.8,33.6l3.3,1.8z"/>
<path color="#d32921" d="M539,755.8l-3.3,1.4l1.9,33.8l3.2-1.5z"/>
<path color="#711b10" d="M656,756.1l-3.3-1.3l-1.2,33.5l3.2,1.4z"/>
<path color="#67a041" d="M513.7,757.8l-3.3,2l2.6,33.8l3.2-2z"/>
<path color="#1f6c6b" d="M681,758.2l-3.3-1.9l-1.8,33.5l3.1,2z"/>
<path color="#b6311e" d="M535.7,757.2l-3.2,1.5l2,33.8l3.1-1.5z"/>
<path color="#721b11" d="M659.2,757.5l-3.2-1.4l-1.3,33.6l3.1,1.4z"/>
<path color="#7ab346" d="M510.4,759.8l-3.1,2.1l2.6,33.8l3.1-2.1z"/>
<path color="#be4221" d="M532.5,758.7l-3.1,1.6l2,33.8l3.1-1.6z"/>
<path color="#1f6c79" d="M684.1,760.2l-3.1-2l-2,33.6l3.1,2z"/>
<path color="#6c1a10" d="M662.3,759l-3.1-1.5l-1.4,33.6l3.1,1.5z"/>
<path color="#d45b27" d="M529.4,760.3l-3.1,1.6l2.2,33.8l2.9-1.6z"/>
<path color="#85b845" d="M507.3,761.9l-3.1,2.1l2.7,33.9l3-2.2z"/>
<path color="#702313" d="M665.3,760.5l-3-1.5l-1.4,33.6l2.9,1.6z"/>
<path color="#1f6a85" d="M687.2,762.2l-3.1-2l-2,33.6l3,2.1z"/>
<path color="#be6125" d="M526.3,761.9l-3,1.7l2.3,33.9l2.9-1.8z"/>
<path color="#702d15" d="M668.3,762.1l-3-1.6l-1.5,33.7l2.9,1.7z"/>
<path color="#9cce4b" d="M504.2,764l-3,2.2l2.9,34l2.8-2.3z"/>
<path color="#19567a" d="M690.1,764.4l-2.9-2.2l-2.1,33.7l2.8,2.2z"/>
<path color="#c27327" d="M523.3,763.6l-2.9,1.7l2.4,34l2.8-1.8z"/>
<path color="#5f2f14" d="M671.1,763.8l-2.8-1.7l-1.6,33.8l2.7,1.7z"/>
<path color="#99c043" d="M501.2,766.2l-2.8,2.3l2.9,34.1l2.8-2.4z"/>
<path color="#b07726" d="M520.4,765.3l-2.7,1.9l2.4,33.9l2.7-1.8z"/>
<path color="#1c5a84" d="M692.9,766.6l-2.8-2.2l-2.2,33.7l2.7,2.3z"/>
<path color="#693d19" d="M673.9,765.6l-2.8-1.8l-1.7,33.8l2.7,1.8z"/>
<path color="#a0c141" d="M498.4,768.5l-2.8,2.4l3.1,34.1l2.6-2.4z"/>
<path color="#b08627" d="M517.7,767.2l-2.7,1.9l2.5,34l2.6-2z"/>
<path color="#65441a" d="M676.6,767.4l-2.7-1.8l-1.8,33.8l2.6,1.9z"/>
<path color="#1f6091" d="M695.6,768.9l-2.7-2.3l-2.3,33.8l2.6,2.3z"/>
<path color="#b79b2b" d="M515,769.1l-2.6,2l2.6,34l2.5-2z"/>
<path color="#664e1c" d="M679.1,769.4l-2.5-2l-1.9,33.9l2.5,1.9z"/>
<path color="#a5ce57" d="M495.6,770.9l-2.6,2.4l3.2,34.2l2.5-2.5z"/>
<path color="#216096" d="M698.2,771.2l-2.6-2.3l-2.4,33.8l2.5,2.4z"/>
<path color="#aba02a" d="M512.4,771.1l-2.5,2l2.7,34.1l2.4-2.1z"/>
<path color="#5e501d" d="M681.6,771.3l-2.5-1.9l-1.9,33.8l2.4,2z"/>
<path color="#96c76b" d="M493,773.3l-2.4,2.5l3.2,34.2l2.4-2.5z"/>
<path color="#1d4e7d" d="M700.6,773.7l-2.4-2.5l-2.5,33.9l2.4,2.5z"/>
<path color="#b4b12b" d="M509.9,773.1l-2.4,2.1l2.8,34.1l2.3-2.1z"/>
<path color="#625e23" d="M683.9,773.4l-2.3-2.1l-2,33.9l2.2,2.1z"/>
<path color="#75a56c" d="M490.6,775.8l-2.3,2.6l3.2,34.2l2.3-2.6z"/>
<path color="#1f5086" d="M702.9,776.2l-2.3-2.5l-2.5,33.9l2.2,2.5z"/>
<path color="#cbbe2b" d="M507.5,775.2l-2.2,2.2l2.8,34.1l2.2-2.2z"/>
<path color="#595f25" d="M686.1,775.5l-2.2-2.1l-2.1,33.9l2.2,2.1z"/>
<path color="#74b08b" d="M488.3,778.4l-2.2,2.7l3.3,34.2l2.1-2.7z"/>
<path color="#e6ce2c" d="M505.3,777.4l-2.1,2.2l2.8,34.2l2.1-2.3z"/>
<path color="#214f88" d="M705,778.7l-2.1-2.5l-2.6,33.9l2.1,2.7z"/>
<path color="#5d6e2d" d="M688.2,777.6l-2.1-2.1l-2.1,33.9l2,2.2z"/>
<path color="#e8c727" d="M503.2,779.6l-2,2.2l2.9,34.3l1.9-2.3z"/>
<path color="#6db5a8" d="M486.1,781.1l-2,2.6l3.4,34.4l1.9-2.8z"/>
<path color="#4e682b" d="M690.2,779.8l-2-2.2l-2.2,34l2,2.3z"/>
<path color="#224d89" d="M707,781.4l-2-2.7l-2.6,34.1l1.9,2.6z"/>
<path color="#ffd325" d="M501.2,781.8l-1.9,2.4l3,34.3l1.8-2.4z"/>
<path color="#50939e" d="M484.1,783.7l-1.9,2.8l3.4,34.4l1.9-2.8z"/>
<path color="#496c2e" d="M692.1,782.1l-1.9-2.3l-2.2,34.1l1.8,2.3z"/>
<path color="#27549a" d="M708.9,784l-1.9-2.6l-2.7,34l1.8,2.8z"/>
<path color="#f7bb21" d="M499.3,784.2l-1.7,2.4l3,34.3l1.7-2.4z"/>
<path color="#497a36" d="M693.8,784.4l-1.7-2.3l-2.3,34.1l1.6,2.4z"/>
<path color="#4d9fc5" d="M482.2,786.5l-1.7,2.8l3.5,34.4l1.6-2.8z"/>
<path color="#28539d" d="M710.6,786.8l-1.7-2.8l-2.8,34.2l1.7,2.7z"/>
<path color="#f09c20" d="M497.6,786.6l-1.7,2.4l3.1,34.4l1.6-2.5z"/>
<path color="#45833b" d="M695.4,786.8l-1.6-2.4l-2.4,34.2l1.6,2.4z"/>
<path color="#409bdc" d="M480.5,789.3l-1.6,2.8l3.6,34.5l1.5-2.9z"/>
<path color="#264b92" d="M712.1,789.6l-1.5-2.8l-2.8,34.1l1.5,2.9z"/>
<path color="#e27a1f" d="M495.9,789l-1.4,2.4l3.1,34.5l1.4-2.5z"/>
<path color="#3d823b" d="M696.8,789.2l-1.4-2.4l-2.4,34.2l1.4,2.4z"/>
<path color="#3f9ce4" d="M478.9,792.1l-1.4,2.9l3.6,34.6l1.4-3z"/>
<path color="#2d54aa" d="M713.5,792.4l-1.4-2.8l-2.8,34.2l1.3,2.9z"/>
<path color="#d55b1d" d="M494.5,791.4l-1.3,2.6l3.2,34.5l1.2-2.6z"/>
<path color="#357f3b" d="M698.1,791.7l-1.3-2.5l-2.4,34.2l1.2,2.5z"/>
<path color="#3d96de" d="M477.5,795l-1.2,3l3.7,34.6l1.1-3z"/>
<path color="#f34d21" d="M493.2,794l-1.2,2.5l3.2,34.6l1.2-2.6z"/>
<path color="#294895" d="M714.7,795.3l-1.2-2.9l-2.9,34.3l1.1,2.9z"/>
<path color="#419d47" d="M699.3,794.2l-1.2-2.5l-2.5,34.2l1.2,2.6z"/>
<path color="#3684c8" d="M476.3,798l-1.1,2.9l3.8,34.7l1-3z"/>
<path color="#e83120" d="M492,796.5l-1,2.6l3.3,34.6l.9-2.6z"/>
<path color="#398a3d" d="M700.3,796.7l-1-2.5l-2.5,34.3l.9,2.6z"/>
<path color="#2a4997" d="M715.8,798.2l-1.1-2.9l-3,34.3l1.1,3z"/>
<path color="#e44322" d="M491,799.1l-.9,2.6l3.3,34.7l.9-2.7z"/>
<path color="#3074b2" d="M475.2,800.9l-.8,3.1l3.7,34.7l.9-3.1z"/>
<path color="#3f9a42" d="M701.2,799.3l-.9-2.6l-2.6,34.4l.9,2.6z"/>
<path color="#294792" d="M716.6,801.1l-.8-2.9l-3,34.4l.8,3z"/>
<path color="#e75725" d="M490.1,801.7l-.7,2.6l3.3,34.7l.7-2.6z"/>
<path color="#3b923e" d="M701.9,801.9l-.7-2.6l-2.6,34.4l.7,2.6z"/>
<path color="#2f72b2" d="M474.4,804l-.7,3l3.8,34.8l.6-3.1z"/>
<path color="#294792" d="M717.3,804.1l-.7-3l-3,34.5l.6,3z"/>
<path color="#e06726" d="M489.4,804.3l-.6,2.7l3.4,34.8l.5-2.8z"/>
<path color="#388a39" d="M702.5,804.5l-.6-2.6l-2.6,34.4l.5,2.7z"/>
<path color="#2e6eaf" d="M473.7,807l-.5,3.1l3.8,34.8l.5-3.1z"/>
<path color="#2d4d9c" d="M717.8,807.2l-.5-3.1l-3.1,34.5l.5,3.1z"/>
<path color="#f0842c" d="M488.8,807l-.3,2.7l3.4,34.8l.3-2.7z"/>
<path color="#42a543" d="M702.9,807.1l-.4-2.6l-2.7,34.5l.4,2.7z"/>
<path color="#347cc9" d="M473.2,810.1l-.3,3l3.8,34.9l.3-3.1z"/>
<path color="#3256af" d="M718.2,810.2l-.4-3l-3.1,34.5l.3,3.1z"/>
<path color="#c57f26" d="M488.5,809.7l-.3,2.7l3.5,34.8l.2-2.7z"/>
<path color="#48b348" d="M703.1,809.8l-.2-2.7l-2.7,34.6l.2,2.7z"/>
<path color="#3173be" d="M472.9,813.1l-.2,3.1l3.9,35l.1-3.2z"/>
<path color="#3152a7" d="M718.3,813.3l-.1-3.1l-3.2,34.6l.2,3.1z"/>
<path color="#c79229" d="M488.2,812.4l0,2.7l3.4,34.9l.1-2.8z"/>
<path color="#42a642" d="M703.2,812.5l-.1-2.7l-2.7,34.6l0,2.8z"/>
<path color="#2c68b0" d="M472.7,816.2l.1,3.2l3.9,34.9l-.1-3.1z"/>
<path color="#e7bf32" d="M488.2,815.1l.1,2.7l3.4,35l-.1-2.8z"/>
<path color="#3356ae" d="M718.3,816.4l0-3.1l-3.1,34.6l-.1,3.2z"/>
<path color="#40a140" d="M703.1,815.2l.1-2.7l-2.8,34.7l-.1,2.7z"/>
<path color="#347ad1" d="M472.8,819.4l.2,3.1l4,35l-.3-3.2z"/>
<path color="#c4b62a" d="M488.3,817.8l.3,2.7l3.4,35l-.3-2.7z"/>
<path color="#a24825" d="M702.8,817.9l.3-2.7l-2.8,34.7l-.2,2.8z"/>
<path color="#2a468d" d="M718,819.4l.3-3l-3.2,34.7l-.2,3.1z"/>
<path color="#bdb52e" d="M488.6,820.5l.4,2.8l3.5,35l-.5-2.8z"/>
<path color="#2d3f94" d="M473,822.5l.5,3.1l3.9,35.1l-.4-3.2z"/>
<path color="#c64827" d="M702.4,820.6l.4-2.7l-2.7,34.8l-.5,2.7z"/>
<path color="#385eb6" d="M717.6,822.5l.4-3.1l-3.1,34.8l-.5,3.2z"/>
<path color="#95942a" d="M489,823.3l.7,2.7l3.4,35.1l-.6-2.8z"/>
<path color="#e84328" d="M701.8,823.3l.6-2.7l-2.8,34.8l-.6,2.8z"/>
<path color="#2a438b" d="M473.5,825.6l.7,3.1l3.9,35.2l-.7-3.2z"/>
<path color="#3456aa" d="M717,825.7l.6-3.2l-3.2,34.9l-.6,3.1z"/>
<path color="#959c32" d="M489.7,826l.8,2.7l3.4,35.1l-.8-2.7z"/>
<path color="#d22f1f" d="M701,826l.8-2.7l-2.8,34.9l-.7,2.7z"/>
<path color="#2a4a88" d="M474.2,828.7l.8,3.1l3.9,35.2l-.8-3.1z"/>
<path color="#2b4a90" d="M716.1,828.8l.9-3.1l-3.2,34.8l-.8,3.2z"/>
<path color="#758330" d="M490.5,828.7l1,2.7l3.4,35.1l-1-2.7z"/>
<path color="#c6351f" d="M700,828.7l1-2.7l-2.7,34.9l-1,2.7z"/>
<path color="#244775" d="M475,831.8l1.1,3.1l3.9,35.3l-1.1-3.2z"/>
<path color="#2f569c" d="M715.1,831.8l1-3l-3.1,34.9l-1,3.1z"/>
<path color="#616c2a" d="M491.5,831.4l1.1,2.6l3.4,35.2l-1.1-2.7z"/>
<path color="#e14b27" d="M698.9,831.4l1.1-2.7l-2.7,34.9l-1,2.8z"/>
<path color="#265279" d="M476.1,834.9l1.2,3.1l3.9,35.3l-1.2-3.1z"/>
<path color="#386fbb" d="M713.9,834.9l1.2-3.1l-3.1,35l-1.2,3.1z"/>
<path color="#70742d" d="M492.6,834l1.3,2.7l3.4,35.2l-1.3-2.7z"/>
<path color="#cd5227" d="M697.6,834l1.3-2.6l-2.6,35l-1.3,2.6z"/>
<path color="#22536e" d="M477.3,838l1.5,3.1l3.8,35.3l-1.4-3.1z"/>
<path color="#726e2b" d="M493.9,836.7l1.5,2.6l3.4,35.3l-1.5-2.7z"/>
<path color="#3773b7" d="M712.5,838l1.4-3.1l-3.1,35l-1.4,3.1z"/>
<path color="#dd682d" d="M696.2,836.7l1.4-2.7l-2.6,35l-1.4,2.7z"/>
<path color="#665b24" d="M495.4,839.3l1.7,2.6l3.3,35.3l-1.6-2.6z"/>
<path color="#21596a" d="M478.8,841.1l1.7,3l3.8,35.3l-1.7-3z"/>
<path color="#db7631" d="M694.5,839.3l1.7-2.6l-2.6,35l-1.6,2.7z"/>
<path color="#3d86c9" d="M710.9,841l1.6-3l-3.1,35l-1.6,3.1z"/>
<path color="#6d5a23" d="M497.1,841.9l1.9,2.5l3.2,35.4l-1.8-2.6z"/>
<path color="#1d575d" d="M480.5,844.1l1.8,3l3.8,35.4l-1.8-3.1z"/>
<path color="#e18a36" d="M692.7,841.8l1.8-2.5l-2.5,35.1l-1.8,2.6z"/>
<path color="#357aad" d="M709.1,844l1.8-3l-3.1,35.1l-1.7,3.1z"/>
<path color="#745822" d="M499,844.4l2,2.5l3.2,35.4l-2-2.5z"/>
<path color="#e29b3a" d="M690.8,844.4l1.9-2.6l-2.5,35.2l-1.9,2.5z"/>
<path color="#1e635e" d="M482.3,847.1l2.1,2.9l3.7,35.5l-2-3z"/>
<path color="#3e94ca" d="M707,847l2.1-3l-3,35.2l-2,3z"/>
<path color="#73501f" d="M501,846.9l2.2,2.5l3.1,35.4l-2.1-2.5z"/>
<path color="#c29436" d="M688.6,846.8l2.2-2.4l-2.5,35.1l-2.1,2.6z"/>
<path color="#1b6354" d="M484.4,850l2.3,2.9l3.6,35.5l-2.2-2.9z"/>
<path color="#3f9dcd" d="M704.8,849.9l2.2-2.9l-2.9,35.2l-2.2,3z"/>
<path color="#794d1e" d="M503.2,849.4l2.3,2.3l3.1,35.5l-2.3-2.4z"/>
<path color="#c7a83b" d="M686.3,849.3l2.3-2.5l-2.4,35.3l-2.2,2.4z"/>
<path color="#1a6b51" d="M486.7,852.9l2.4,2.8l3.6,35.6l-2.4-2.9z"/>
<path color="#368cb1" d="M702.4,852.8l2.4-2.9l-2.9,35.3l-2.3,2.9z"/>
<path color="#6d3e18" d="M505.5,851.7l2.5,2.4l3,35.5l-2.4-2.4z"/>
<path color="#c3b63e" d="M683.9,851.7l2.4-2.4l-2.3,35.2l-2.4,2.5z"/>
<path color="#1c6c4e" d="M489.1,855.7l2.7,2.8l3.5,35.6l-2.6-2.8z"/>
<path color="#753b17" d="M508,854.1l2.7,2.3l2.9,35.5l-2.6-2.3z"/>
<path color="#43b3da" d="M699.8,855.6l2.6-2.8l-2.8,35.3l-2.5,2.8z"/>
<path color="#bdbd3e" d="M681.2,854l2.7-2.3l-2.3,35.3l-2.6,2.3z"/>
<path color="#833b17" d="M510.7,856.4l2.8,2.2l2.9,35.5l-2.8-2.2z"/>
<path color="#1e6f4c" d="M491.8,858.5l2.9,2.7l3.4,35.6l-2.8-2.7z"/>
<path color="#b9b93b" d="M678.5,856.2l2.7-2.2l-2.2,35.3l-2.7,2.3z"/>
<path color="#42b6d5" d="M697.1,858.4l2.7-2.8l-2.7,35.3l-2.7,2.8z"/>
<path color="#823313" d="M513.5,858.6l3,2.1l2.8,35.5l-2.9-2.1z"/>
<path color="#b7b738" d="M675.5,858.4l3-2.2l-2.2,35.4l-2.8,2.2z"/>
<path color="#237d52" d="M494.7,861.2l3,2.7l3.3,35.6l-2.9-2.7z"/>
<path color="#43a8a7" d="M694.1,861.1l3-2.7l-2.7,35.3l-2.9,2.8z"/>
<path color="#6f270f" d="M516.5,860.7l3.1,2l2.7,35.6l-3-2.1z"/>
<path color="#b2b235" d="M672.5,860.6l3-2.2l-2,35.4l-3,2.2z"/>
<path color="#206e44" d="M497.7,863.9l3.2,2.5l3.3,35.7l-3.2-2.6z"/>
<path color="#45a080" d="M690.9,863.7l3.2-2.6l-2.6,35.4l-3.1,2.7z"/>
<path color="#853715" d="M519.6,862.7l3.3,2l2.6,35.6l-3.2-2z"/>
<path color="#d7d73d" d="M669.2,862.6l3.3-2l-2,35.4l-3.1,2.1z"/>
<path color="#206a3f" d="M500.9,866.4l3.4,2.5l3.2,35.7l-3.3-2.5z"/>
<path color="#803c17" d="M522.9,864.7l3.4,1.9l2.5,35.6l-3.3-1.9z"/>
<path color="#499c5d" d="M687.6,866.2l3.3-2.5l-2.5,35.5l-3.2,2.5z"/>
<path color="#c4c435" d="M665.9,864.6l3.3-2l-1.8,35.5l-3.3,2z"/>
<path color="#87471b" d="M526.3,866.6l3.6,1.8l2.4,35.6l-3.5-1.8z"/>
<path color="#dfdf3a" d="M662.4,866.4l3.5-1.8l-1.8,35.5l-3.4,1.9z"/>
<path color="#257844" d="M504.3,868.9l3.6,2.4l3.1,35.7l-3.5-2.4z"/>
<path color="#4f9c3e" d="M684.1,868.7l3.5-2.5l-2.4,35.5l-3.5,2.6z"/>
<path color="#6e4019" d="M529.9,868.4l3.7,1.7l2.2,35.6l-3.5-1.7z"/>
<path color="#b9b92e" d="M658.8,868.2l3.6-1.8l-1.7,35.6l-3.5,1.8z"/>
<path color="#267941" d="M507.9,871.3l3.7,2.3l3,35.7l-3.6-2.3z"/>
<path color="#639d3b" d="M680.4,871.1l3.7-2.4l-2.4,35.6l-3.5,2.4z"/>
<path color="#6d451b" d="M533.6,870.1l3.7,1.5l2.2,35.7l-3.7-1.6z"/>
<path color="#c9c930" d="M655,869.9l3.8-1.7l-1.6,35.6l-3.6,1.7z"/>
<path color="#755120" d="M537.3,871.6l3.9,1.5l2.1,35.7l-3.8-1.5z"/>
<path color="#297e41" d="M511.6,873.6l3.9,2.2l2.9,35.7l-3.8-2.2z"/>
<path color="#d5d131" d="M651.2,871.5l3.8-1.6l-1.4,35.6l-3.8,1.6z"/>
<path color="#7ca439" d="M676.6,873.4l3.8-2.3l-2.2,35.6l-3.8,2.3z"/>
<path color="#755722" d="M541.2,873.1l4.1,1.4l1.9,35.7l-3.9-1.4z"/>
<path color="#cdba2d" d="M647.2,873l4-1.5l-1.4,35.6l-3.8,1.5z"/>
<path color="#25723c" d="M515.5,875.8l4.1,2.1l2.7,35.7l-3.9-2.1z"/>
<path color="#9baf39" d="M672.6,875.6l4-2.2l-2.2,35.6l-3.8,2.2z"/>
<path color="#7c6527" d="M545.3,874.5l4.1,1.3l1.8,35.7l-4-1.3z"/>
<path color="#dcb82f" d="M643.1,874.4l4.1-1.4l-1.2,35.6l-4,1.5z"/>
<path color="#7d6c2a" d="M549.4,875.8l4.2,1.2l1.6,35.7l-4-1.2z"/>
<path color="#287f49" d="M519.6,877.9l4.2,1.9l2.6,35.8l-4.1-2z"/>
<path color="#e8b130" d="M639,875.7l4.1-1.3l-1.1,35.7l-4,1.3z"/>
<path color="#9d9e30" d="M668.4,877.7l4.2-2.1l-2,35.6l-4.1,2.1z"/>
<path color="#847930" d="M553.6,877l4.2,1l1.6,35.8l-4.2-1.1z"/>
<path color="#e09b2d" d="M634.7,876.9l4.3-1.2l-1,35.7l-4.1,1.1z"/>
<path color="#2a8855" d="M523.8,879.8l4.4,1.9l2.5,35.8l-4.3-1.9z"/>
<path color="#73702c" d="M557.8,878l4.4,.9l1.4,35.8l-4.2-.9z"/>
<path color="#d58429" d="M630.4,877.9l4.3-1l-.8,35.6l-4.2,1.1z"/>
<path color="#829332" d="M664.1,879.7l4.3-2l-1.9,35.6l-4.1,2z"/>
<path color="#7e742e" d="M562.2,878.9l4.4,.8l1.3,35.8l-4.3-.8z"/>
<path color="#b86522" d="M626,878.9l4.4-1l-.7,35.7l-4.3,1z"/>
<path color="#226f4b" d="M528.2,881.7l4.5,1.7l2.3,35.9l-4.3-1.8z"/>
<path color="#957932" d="M566.6,879.7l4.5,.7l1.1,35.8l-4.3-.7z"/>
<path color="#b95821" d="M621.6,879.7l4.4-.8l-.6,35.7l-4.3,.8z"/>
<path color="#759839" d="M659.7,881.5l4.4-1.8l-1.7,35.6l-4.3,1.9z"/>
<path color="#805b27" d="M571.1,880.4l4.5,.6l1,35.8l-4.4-.6z"/>
<path color="#dc5926" d="M617,880.4l4.6-.7l-.5,35.7l-4.3,.7z"/>
<path color="#aa6b2f" d="M575.6,881l4.6,.4l.8,35.8l-4.4-.4z"/>
<path color="#e74c26" d="M612.5,880.9l4.5-.5l-.2,35.7l-4.5,.6z"/>
<path color="#206d50" d="M532.7,883.4l4.6,1.7l2.2,35.8l-4.5-1.6z"/>
<path color="#965326" d="M580.2,881.4l4.6,.3l.7,35.8l-4.5-.3z"/>
<path color="#ca3420" d="M607.9,881.4l4.6-.5l-.2,35.8l-4.4,.4z"/>
<path color="#71ad48" d="M655.1,883.3l4.6-1.8l-1.6,35.7l-4.5,1.8z"/>
<path color="#ae5428" d="M584.8,881.7l4.6,.2l.6,35.8l-4.5-.2z"/>
<path color="#c83420" d="M603.3,881.7l4.6-.3l0,35.7l-4.5,.4z"/>
<path color="#a34423" d="M589.4,881.9l4.6,.1l.5,35.8l-4.5-.1z"/>
<path color="#b1361f" d="M598.7,881.9l4.6-.2l.1,35.8l-4.4,.2z"/>
<path color="#b54123" d="M594,882l4.7-.1l.3,35.8l-4.5,.1z"/>
<path color="#258064" d="M537.3,885.1l4.7,1.4l2.1,35.9l-4.6-1.5z"/>
<path color="#569f48" d="M650.4,884.9l4.7-1.6l-1.5,35.7l-4.5,1.7z"/>
<path color="#217664" d="M542,886.5l4.9,1.4l1.9,35.9l-4.7-1.4z"/>
<path color="#439c4d" d="M645.7,886.4l4.7-1.5l-1.3,35.8l-4.6,1.5z"/>
<path color="#23646f" d="M546.9,887.9l4.9,1.2l1.8,35.9l-4.8-1.2z"/>
<path color="#3a8b57" d="M640.8,887.8l4.9-1.4l-1.2,35.8l-4.8,1.4z"/>
<path color="#244e79" d="M551.8,889.1l5.1,1.1l1.6,35.9l-4.9-1.1z"/>
<path color="#40917a" d="M635.8,889l5-1.2l-1.1,35.8l-4.8,1.2z"/>
<path color="#2a4190" d="M556.9,890.2l5.1,1l1.4,35.9l-4.9-1z"/>
<path color="#3c7e8d" d="M630.7,890.1l5.1-1.1l-.9,35.8l-4.9,1.1z"/>
<path color="#2a3a90" d="M562,891.2l5.2,.8l1.2,35.9l-5-.8z"/>
<path color="#305b87" d="M625.5,891.1l5.2-1l-.7,35.8l-5,1z"/>
<path color="#263482" d="M567.2,892l5.2,.6l1.1,35.9l-5.1-.6z"/>
<path color="#2d4c98" d="M620.3,891.9l5.2-.8l-.5,35.8l-5.1,.9z"/>
<path color="#283789" d="M572.4,892.6l5.3,.5l.9,36l-5.1-.6z"/>
<path color="#2b4595" d="M615.1,892.6l5.2-.7l-.4,35.9l-5.1,.6z"/>
<path color="#2d3f9b" d="M577.7,893.1l5.3,.4l.8,35.9l-5.2-.3z"/>
<path color="#29408e" d="M609.8,893.1l5.3-.5l-.3,35.8l-5.1,.6z"/>
<path color="#273585" d="M583,893.5l5.3,.2l.7,35.9l-5.2-.2z"/>
<path color="#2b4195" d="M604.4,893.5l5.4-.4l-.1,35.9l-5.2,.4z"/>
<path color="#2e409e" d="M588.3,893.7l5.4,.1l.4,35.9l-5.1-.1z"/>
<path color="#263784" d="M599.1,893.7l5.3-.2l.1,35.9l-5.2,.2z"/>
<path color="#2b3b93" d="M593.7,893.8l5.4-.1l.2,35.9l-5.2,.1z"/>
</g>
<path d="M512.95,895.76 L674.02,895.49 M451.98,806.98 L512.95,895.76 M739.24,807.17 L674.02,895.49 M515.96,931.76 L671.92,931.35 M456.41,841.77 L515.96,931.76 M735.52,841.7 L671.92,931.35 M451.98,806.98 L456.41,841.77 M739.24,807.17 L735.52,841.7 M512.95,895.76 L515.96,931.76 M674.02,895.49 L671.92,931.35" fill="none" stroke="#000" stroke-width="2.4" stroke-linecap="round"/>
<path d="M595.3,823.8 L514.8,912.8 L595.3,912.8 Z" fill="none" stroke="#e8202a" stroke-width="3.2" stroke-dasharray="2.6,2.6"/>
<text x="509.2" y="938" font-size="22" font-weight="bold" font-style="normal" fill="#e8202a" text-anchor="middle" >K</text>
<text x="592.5" y="938" font-size="22" font-weight="bold" font-style="normal" fill="#e8202a" text-anchor="middle" >M</text>
<text x="584" y="826.5" font-size="22.5" font-weight="bold" font-style="normal" fill="#e8202a" text-anchor="middle" >&#915;</text>
<rect x="506.7" y="959.2" width="176.3" height="9.1" fill="url(#cbar)"/>
<text x="495.2" y="987" font-size="22" font-weight="bold" font-style="normal" fill="#000" text-anchor="start" >min</text>
<text x="706.5" y="987" font-size="22" font-weight="bold" font-style="normal" fill="#000" text-anchor="end" >max</text>
<path d="M530.86,1084.22 L657.7,1084 M450.17,1148.58 L530.86,1084.22 M657.7,1084 L727.75,1147.72 M531.87,1107.35 L656.6,1107.07 M452.74,1172.73 L531.87,1107.35 M656.6,1107.07 L725.29,1171.73 M530.86,1084.22 L531.87,1107.35 M657.7,1084 L656.6,1107.07" fill="none" stroke="#000" stroke-width="2.4" stroke-linecap="round"/>
<g fill="currentColor" stroke="currentColor" stroke-width="0.6">
<path color="#c98c2c" d="M574.9,1083.7l-.2-.9l.3,23.1l.2,.9z"/>
<path color="#785c27" d="M613.9,1083.6l.3-.9l-.3,23.1l-.4,.9z"/>
<path color="#b57e28" d="M575.1,1084.7l-.2-1l.3,23.1l.2,1z"/>
<path color="#725725" d="M613.5,1084.6l.4-1l-.4,23.1l-.3,1z"/>
<path color="#b27a28" d="M575.3,1085.6l-.2-.9l.3,23.1l.2,.9z"/>
<path color="#775b26" d="M613.2,1085.5l.3-.9l-.3,23.1l-.4,1z"/>
<path color="#cd8b2e" d="M575.5,1086.5l-.2-.9l.3,23.1l.2,1z"/>
<path color="#785c27" d="M612.8,1086.5l.4-1l-.4,23.2l-.3,.9z"/>
<path color="#c0812b" d="M575.7,1087.5l-.2-1l.3,23.2l.2,1z"/>
<path color="#6f5423" d="M612.5,1087.4l.3-.9l-.3,23.1l-.4,1z"/>
<path color="#b57829" d="M576,1088.5l-.3-1l.3,23.2l.2,.9z"/>
<path color="#765a25" d="M612.1,1088.4l.4-1l-.4,23.2l-.4,1z"/>
<path color="#c6822d" d="M576.2,1089.4l-.2-.9l.2,23.1l.2,1z"/>
<path color="#5f481e" d="M611.7,1089.3l.4-.9l-.4,23.2l-.3,.9z"/>
<path color="#a86d26" d="M576.4,1090.4l-.2-1l.2,23.2l.2,1z"/>
<path color="#6d5322" d="M611.4,1090.3l.3-1l-.3,23.2l-.4,1z"/>
<path color="#ae6f27" d="M576.6,1091.3l-.2-.9l.2,23.2l.3,1z"/>
<path color="#6a5021" d="M611,1091.3l.4-1l-.4,23.2l-.3,1z"/>
<path color="#a36725" d="M576.8,1092.3l-.2-1l.3,23.3l.2,.9z"/>
<path color="#745824" d="M610.6,1092.2l.4-.9l-.3,23.2l-.4,1z"/>
<path color="#ab6d27" d="M577,1093.3l-.2-1l.3,23.2l.2,1z"/>
<path color="#6f5422" d="M610.3,1093.2l.3-1l-.3,23.3l-.3,.9z"/>
<path color="#c07c2c" d="M577.3,1094.2l-.3-.9l.3,23.2l.2,1z"/>
<path color="#715522" d="M609.9,1094.2l.4-1l-.3,23.2l-.4,1z"/>
<path color="#c17d2c" d="M577.5,1095.2l-.2-1l.2,23.3l.2,1z"/>
<path color="#695020" d="M609.5,1095.1l.4-.9l-.3,23.2l-.4,1z"/>
<path color="#cb852e" d="M577.7,1096.2l-.2-1l.2,23.3l.2,1z"/>
<path color="#614a1e" d="M609.2,1096.1l.3-1l-.3,23.3l-.3,1z"/>
<path color="#be7e2c" d="M577.9,1097.2l-.2-1l.2,23.3l.3,1z"/>
<path color="#664e1f" d="M608.8,1097.1l.4-1l-.3,23.3l-.4,1z"/>
<path color="#c7852e" d="M578.1,1098.1l-.2-.9l.3,23.3l.2,1z"/>
<path color="#705623" d="M608.4,1098.1l.4-1l-.3,23.3l-.4,1z"/>
<path color="#be812c" d="M578.4,1099.1l-.3-1l.3,23.4l.2,1z"/>
<path color="#715723" d="M608,1099.1l.4-1l-.3,23.3l-.3,1z"/>
<path color="#bf842d" d="M578.6,1100.1l-.2-1l.2,23.4l.2,1z"/>
<path color="#634c20" d="M503.9,1105l-1.3-.7l1.5,23.5l1.3,.6z"/>
<path color="#6b5222" d="M607.7,1100l.3-.9l-.2,23.3l-.4,1z"/>
<path color="#26388d" d="M593.2,1099.7l-1.5,.8l0,23.3l1.4-.7z"/>
<path color="#273990" d="M594.5,1100.4l-1.3-.7l-.1,23.4l1.4,.7z"/>
<path color="#bf862e" d="M578.8,1101.1l-.2-1l.2,23.4l.2,1z"/>
<path color="#755926" d="M505.2,1105.6l-1.3-.6l1.5,23.4l1.3,.7z"/>
<path color="#284196" d="M591.7,1100.5l-1.5,.7l.1,23.3l1.4-.7z"/>
<path color="#735924" d="M607.3,1101l.4-1l-.3,23.4l-.4,1z"/>
<path color="#29429a" d="M595.9,1101.1l-1.4-.7l0,23.4l1.3,.7z"/>
<path color="#c68d30" d="M579,1102.1l-.2-1l.2,23.4l.2,1z"/>
<path color="#634b20" d="M506.5,1106.3l-1.3-.7l1.5,23.5l1.3,.7z"/>
<path color="#264391" d="M590.2,1101.2l-1.4,.7l.1,23.3l1.4-.7z"/>
<path color="#2f53b3" d="M597.2,1101.8l-1.3-.7l-.1,23.4l1.3,.7z"/>
<path color="#6a5322" d="M606.9,1102l.4-1l-.3,23.4l-.4,1z"/>
<path color="#2b53a6" d="M588.8,1101.9l-1.3,.6l0,23.4l1.4-.7z"/>
<path color="#664d20" d="M507.8,1106.9l-1.3-.6l1.5,23.5l1.2,.6z"/>
<path color="#c69032" d="M579.3,1103.1l-.3-1l.2,23.4l.3,1z"/>
<path color="#264993" d="M598.4,1102.5l-1.2-.7l-.1,23.4l1.2,.7z"/>
<path color="#2c5cad" d="M587.5,1102.5l-1.4,.7l.1,23.4l1.3-.7z"/>
<path color="#765c26" d="M606.5,1103l.4-1l-.3,23.4l-.3,1z"/>
<path color="#785b26" d="M509.1,1107.6l-1.3-.7l1.4,23.5l1.3,.7z"/>
<path color="#28549e" d="M599.6,1103.2l-1.2-.7l-.1,23.4l1.2,.7z"/>
<path color="#cd9734" d="M579.5,1104.1l-.2-1l.2,23.4l.2,1z"/>
<path color="#2a5fa9" d="M586.1,1103.2l-1.3,.7l.2,23.4l1.2-.7z"/>
<path color="#624a1f" d="M510.4,1108.2l-1.3-.6l1.4,23.5l1.3,.7z"/>
<path color="#27599e" d="M600.8,1103.9l-1.2-.7l-.1,23.4l1.2,.7z"/>
<path color="#6a5322" d="M606.2,1104l.3-1l-.2,23.4l-.4,1z"/>
<path color="#d4942f" d="M681.3,1104.6l1.4-.7l-1.6,23.4l-1.4,.7z"/>
<path color="#255a98" d="M584.8,1103.9l-1.2,.6l.1,23.5l1.3-.7z"/>
<path color="#cb9935" d="M579.7,1105.1l-.2-1l.2,23.4l.2,1z"/>
<path color="#634b1f" d="M511.7,1108.9l-1.3-.7l1.4,23.6l1.3,.6z"/>
<path color="#275fa0" d="M602,1104.5l-1.2-.6l-.1,23.4l1.1,.6z"/>
<path color="#2a6eb0" d="M583.6,1104.5l-1.2,.7l.1,23.4l1.2-.6z"/>
<path color="#e39d32" d="M679.9,1105.2l1.4-.6l-1.6,23.4l-1.3,.6z"/>
<path color="#755c26" d="M605.8,1105l.4-1l-.3,23.4l-.4,1.1z"/>
<path color="#2e78c0" d="M603.1,1105.1l-1.1-.6l-.2,23.4l1.1,.7z"/>
<path color="#725623" d="M513,1109.5l-1.3-.6l1.4,23.5l1.2,.7z"/>
<path color="#26669a" d="M582.4,1105.2l-1.2,.6l.2,23.5l1.1-.7z"/>
<path color="#c29434" d="M579.9,1106.1l-.2-1l.2,23.4l.2,1z"/>
<path color="#dd9731" d="M678.5,1105.9l1.4-.7l-1.5,23.4l-1.4,.7z"/>
<path color="#2f7fc0" d="M604.2,1105.8l-1.1-.7l-.2,23.5l1.1,.6z"/>
<path color="#276d99" d="M581.2,1105.8l-1.2,.6l.2,23.5l1.2-.6z"/>
<path color="#7b6128" d="M605.4,1106l.4-1l-.3,23.5l-.3,1z"/>
<path color="#705523" d="M514.3,1110.2l-1.3-.7l1.3,23.6l1.3,.7z"/>
<path color="#da9431" d="M677.1,1106.5l1.4-.6l-1.5,23.4l-1.3,.7z"/>
<path color="#266b96" d="M605.3,1106.4l-1.1-.6l-.2,23.4l1,.7z"/>
<path color="#2d80a6" d="M580,1106.4l-1.1,.7l.2,23.4l1.1-.6z"/>
<path color="#6a5021" d="M515.6,1110.9l-1.3-.7l1.3,23.6l1.3,.6z"/>
<path color="#af7627" d="M675.7,1107.2l1.4-.7l-1.4,23.5l-1.4,.6z"/>
<path color="#2c829b" d="M578.9,1107.1l-1.1,.6l.2,23.4l1.1-.6z"/>
<path color="#2a779a" d="M606.3,1107l-1-.6l-.3,23.5l1,.6z"/>
<path color="#6c5221" d="M516.9,1111.5l-1.3-.6l1.3,23.5l1.3,.7z"/>
<path color="#b57829" d="M674.3,1107.9l1.4-.7l-1.4,23.4l-1.4,.7z"/>
<path color="#277782" d="M577.8,1107.7l-1.1,.5l.2,23.5l1.1-.6z"/>
<path color="#256e83" d="M607.3,1107.6l-1-.6l-.3,23.5l1,.6z"/>
<path color="#2e8f90" d="M576.7,1108.2l-1.1,.6l.3,23.5l1-.6z"/>
<path color="#d58c30" d="M672.9,1108.5l1.4-.6l-1.4,23.4l-1.4,.7z"/>
<path color="#61491d" d="M518.2,1112.2l-1.3-.7l1.3,23.6l1.3,.7z"/>
<path color="#2e8c9a" d="M608.3,1108.2l-1-.6l-.3,23.5l1,.5z"/>
<path color="#2f958a" d="M575.6,1108.8l-1,.6l.2,23.5l1.1-.6z"/>
<path color="#298080" d="M609.3,1108.7l-1-.5l-.3,23.4l1,.6z"/>
<path color="#b07228" d="M671.5,1109.2l1.4-.7l-1.4,23.5l-1.3,.7z"/>
<path color="#6b5120" d="M519.6,1112.9l-1.4-.7l1.3,23.6l1.3,.7z"/>
<path color="#2b8f78" d="M574.6,1109.4l-1.1,.5l.3,23.5l1-.5z"/>
<path color="#2d9084" d="M610.3,1109.3l-1-.6l-.3,23.5l.9,.6z"/>
<path color="#b7752a" d="M670.1,1109.9l1.4-.7l-1.3,23.5l-1.4,.6z"/>
<path color="#2b916f" d="M573.5,1109.9l-1,.5l.3,23.5l1-.5z"/>
<path color="#654d1f" d="M520.9,1113.5l-1.3-.6l1.2,23.6l1.3,.6z"/>
<path color="#2c9079" d="M611.2,1109.8l-.9-.5l-.4,23.5l1,.5z"/>
<path color="#2ea06e" d="M572.5,1110.4l-1,.5l.3,23.6l1-.6z"/>
<path color="#c27b2c" d="M668.7,1110.5l1.4-.6l-1.3,23.4l-1.4,.7z"/>
<path color="#664e20" d="M522.2,1114.2l-1.3-.7l1.2,23.6l1.3,.7z"/>
<path color="#2e9b76" d="M612.1,1110.3l-.9-.5l-.3,23.5l.9,.5z"/>
<path color="#2b985e" d="M571.5,1110.9l-1,.5l.4,23.6l.9-.5z"/>
<path color="#2ea75c" d="M570.5,1111.4l-1,.5l.4,23.5l1-.4z"/>
<path color="#c47d2d" d="M667.3,1111.2l1.4-.7l-1.3,23.5l-1.4,.7z"/>
<path color="#2c9768" d="M613.1,1110.8l-1-.5l-.3,23.5l.9,.5z"/>
<path color="#6f5522" d="M523.5,1114.9l-1.3-.7l1.2,23.6l1.3,.7z"/>
<path color="#2a994f" d="M569.5,1111.9l-.9,.4l.4,23.6l.9-.5z"/>
<path color="#2fa566" d="M614,1111.3l-.9-.5l-.4,23.5l.9,.5z"/>
<path color="#d38830" d="M665.9,1111.9l1.4-.7l-1.3,23.5l-1.4,.7z"/>
<path color="#28934c" d="M568.6,1112.3l-1,.5l.4,23.6l1-.5z"/>
<path color="#775c25" d="M524.8,1115.5l-1.3-.6l1.2,23.6l1.3,.7z"/>
<path color="#268b4d" d="M614.9,1111.8l-.9-.5l-.4,23.5l.9,.5z"/>
<path color="#2ba053" d="M567.6,1112.8l-1,.4l.4,23.6l1-.4z"/>
<path color="#a86e27" d="M664.5,1112.5l1.4-.6l-1.3,23.5l-1.4,.7z"/>
<path color="#2ca355" d="M615.8,1112.2l-.9-.4l-.4,23.5l.9,.5z"/>
<path color="#258a47" d="M566.6,1113.2l-.9,.4l.4,23.6l.9-.4z"/>
<path color="#775c25" d="M526.2,1116.2l-1.4-.7l1.2,23.7l1.3,.7z"/>
<path color="#268d49" d="M565.7,1113.6l-1,.4l.4,23.6l1-.4z"/>
<path color="#27904b" d="M616.7,1112.7l-.9-.5l-.4,23.6l.8,.4z"/>
<path color="#c7832e" d="M663.1,1113.2l1.4-.7l-1.3,23.6l-1.3,.6z"/>
<path color="#238243" d="M564.7,1114l-1,.4l.5,23.6l.9-.4z"/>
<path color="#28924c" d="M617.6,1113.1l-.9-.4l-.5,23.5l.9,.5z"/>
<path color="#695121" d="M527.5,1116.9l-1.3-.7l1.1,23.7l1.3,.6z"/>
<path color="#258a47" d="M563.7,1114.4l-1,.4l.5,23.6l1-.4z"/>
<path color="#d89032" d="M661.7,1113.9l1.4-.7l-1.2,23.5l-1.4,.7z"/>
<path color="#2ca354" d="M618.5,1113.5l-.9-.4l-.5,23.6l.9,.4z"/>
<path color="#2a9e51" d="M562.7,1114.8l-.9,.3l.5,23.6l.9-.3z"/>
<path color="#258c48" d="M561.8,1115.1l-1,.4l.5,23.6l1-.4z"/>
<path color="#2ca555" d="M619.4,1113.9l-.9-.4l-.5,23.6l.9,.4z"/>
<path color="#6f5623" d="M528.8,1117.6l-1.3-.7l1.1,23.6l1.3,.7z"/>
<path color="#b97c2a" d="M660.3,1114.5l1.4-.6l-1.2,23.5l-1.4,.7z"/>
<path color="#27914a" d="M560.8,1115.5l-1,.3l.5,23.6l1-.3z"/>
<path color="#28964d" d="M620.3,1114.3l-.9-.4l-.5,23.6l.9,.3z"/>
<path color="#268f49" d="M559.8,1115.8l-1.1,.3l.6,23.6l1-.3z"/>
<path color="#2b9e51" d="M621.2,1114.6l-.9-.3l-.5,23.5l.9,.4z"/>
<path color="#6c5423" d="M530.2,1118.2l-1.4-.6l1.1,23.6l1.3,.7z"/>
<path color="#248644" d="M558.7,1116.1l-1,.3l.6,23.6l1-.3z"/>
<path color="#ba7e2b" d="M658.8,1115.2l1.5-.7l-1.2,23.6l-1.4,.7z"/>
<path color="#27944b" d="M557.7,1116.4l-1,.3l.6,23.6l1-.3z"/>
<path color="#258b47" d="M622.1,1115l-.9-.4l-.5,23.6l.9,.4z"/>
<path color="#269149" d="M556.7,1116.7l-1.1,.2l.6,23.7l1.1-.3z"/>
<path color="#27934b" d="M623.1,1115.3l-1-.3l-.5,23.6l.9,.3z"/>
<path color="#27954b" d="M555.6,1116.9l-1.1,.3l.6,23.6l1.1-.2z"/>
<path color="#715824" d="M531.5,1118.9l-1.3-.7l1,23.7l1.4,.7z"/>
<path color="#1f773c" d="M554.5,1117.2l-1.1,.3l.6,23.6l1.1-.3z"/>
<path color="#ca8b2f" d="M657.4,1115.9l1.4-.7l-1.1,23.6l-1.4,.7z"/>
<path color="#268f49" d="M624,1115.6l-.9-.3l-.6,23.6l1,.3z"/>
<path color="#238643" d="M553.4,1117.5l-1.2,.2l.7,23.7l1.1-.3z"/>
<path color="#228342" d="M552.2,1117.7l-1.1,.2l.7,23.7l1.1-.2z"/>
<path color="#299c4f" d="M625,1115.9l-1-.3l-.5,23.6l.9,.3z"/>
<path color="#1f763b" d="M551.1,1117.9l-1.2,.3l.7,23.6l1.2-.2z"/>
<path color="#6b5323" d="M532.9,1119.6l-1.4-.7l1.1,23.7l1.3,.7z"/>
<path color="#228442" d="M549.9,1118.2l-1.2,.2l.7,23.6l1.2-.2z"/>
<path color="#be852d" d="M656,1116.6l1.4-.7l-1.1,23.6l-1.4,.7z"/>
<path color="#28964c" d="M626,1116.2l-1-.3l-.6,23.6l1,.3z"/>
<path color="#1e7339" d="M548.7,1118.4l-1.3,.2l.8,23.7l1.2-.3z"/>
<path color="#1f783c" d="M547.4,1118.6l-1.3,.2l.8,23.7l1.3-.2z"/>
<path color="#248845" d="M627,1116.5l-1-.3l-.6,23.6l1,.3z"/>
<path color="#228542" d="M546.1,1118.8l-1.3,.2l.9,23.7l1.2-.2z"/>
<path color="#218240" d="M544.8,1119l-1.3,.2l.8,23.7l1.4-.2z"/>
<path color="#217c3f" d="M628,1116.8l-1-.3l-.6,23.6l1,.3z"/>
<path color="#1d7238" d="M543.5,1119.2l-1.4,.2l.9,23.7l1.3-.2z"/>
<path color="#715925" d="M534.2,1120.3l-1.3-.7l1,23.7l1.3,.7z"/>
<path color="#785b27" d="M479.1,1124.7l-1.7-.4l2,23.8l1.7,.4z"/>
<path color="#ce9333" d="M654.5,1117.3l1.5-.7l-1.1,23.6l-1.5,.7z"/>
<path color="#1e763a" d="M542.1,1119.4l-1.4,.2l.9,23.7l1.4-.2z"/>
<path color="#217c3f" d="M629.1,1117l-1.1-.2l-.6,23.6l1,.2z"/>
<path color="#1d7239" d="M540.7,1119.6l-1.4,.3l.9,23.7l1.4-.3z"/>
<path color="#228543" d="M539.3,1119.9l-1.5,.2l.9,23.7l1.5-.2z"/>
<path color="#217c3e" d="M630.1,1117.3l-1-.3l-.7,23.6l1.1,.3z"/>
<path color="#218041" d="M537.8,1120.1l-1.5,.2l.9,23.7l1.5-.2z"/>
<path color="#654d21" d="M480.8,1125.1l-1.7-.4l2,23.8l1.7,.4z"/>
<path color="#1f763c" d="M536.3,1120.3l-1.6,.2l1,23.7l1.5-.2z"/>
<path color="#238543" d="M631.2,1117.5l-1.1-.2l-.6,23.6l1,.2z"/>
<path color="#c48e31" d="M653.1,1117.9l1.4-.6l-1.1,23.6l-1.4,.6z"/>
<path color="#218042" d="M534.7,1120.5l-1.6,.2l1,23.8l1.6-.3z"/>
<path color="#238746" d="M533.1,1120.7l-1.6,.3l1,23.7l1.6-.2z"/>
<path color="#228141" d="M632.3,1117.7l-1.1-.2l-.7,23.6l1.1,.3z"/>
<path color="#228345" d="M531.5,1121l-1.7,.2l1.1,23.7l1.6-.2z"/>
<path color="#614a1f" d="M482.5,1125.4l-1.7-.3l2,23.8l1.7,.3z"/>
<path color="#217f43" d="M529.8,1121.2l-1.7,.3l1.1,23.7l1.7-.3z"/>
<path color="#207c3e" d="M633.5,1118l-1.2-.3l-.7,23.7l1.2,.2z"/>
<path color="#27964f" d="M528.1,1121.5l-1.8,.3l1.1,23.7l1.8-.3z"/>
<path color="#1f783c" d="M634.7,1118.2l-1.2-.2l-.7,23.6l1.1,.2z"/>
<path color="#d9a037" d="M651.7,1118.6l1.4-.7l-1.1,23.6l-1.4,.7z"/>
<path color="#26904d" d="M526.3,1121.8l-1.8,.2l1.2,23.8l1.7-.3z"/>
<path color="#238944" d="M635.9,1118.4l-1.2-.2l-.8,23.6l1.2,.2z"/>
<path color="#26914e" d="M524.5,1122l-1.8,.3l1.2,23.8l1.8-.3z"/>
<path color="#695022" d="M484.3,1125.8l-1.8-.4l2,23.8l1.7,.4z"/>
<path color="#228045" d="M522.7,1122.3l-1.9,.3l1.2,23.8l1.9-.3z"/>
<path color="#1e763b" d="M637.1,1118.6l-1.2-.2l-.8,23.6l1.2,.2z"/>
<path color="#228045" d="M520.8,1122.6l-2,.4l1.3,23.7l1.9-.3z"/>
<path color="#1d7037" d="M638.4,1118.8l-1.3-.2l-.8,23.6l1.3,.2z"/>
<path color="#2a9e56" d="M518.8,1123l-1.9,.3l1.3,23.8l1.9-.4z"/>
<path color="#705524" d="M486,1126.2l-1.7-.4l1.9,23.8l1.6,.4z"/>
<path color="#c79634" d="M650.2,1119.3l1.5-.7l-1.1,23.6l-1.4,.7z"/>
<path color="#228642" d="M639.7,1119l-1.3-.2l-.8,23.6l1.3,.2z"/>
<path color="#1d7238" d="M641,1119.2l-1.3-.2l-.8,23.6l1.3,.2z"/>
<path color="#228743" d="M642.4,1119.4l-1.4-.2l-.8,23.6l1.3,.2z"/>
<path color="#705524" d="M487.7,1126.5l-1.7-.3l1.8,23.8l1.7,.3z"/>
<path color="#1d7339" d="M643.8,1119.6l-1.4-.2l-.9,23.6l1.4,.2z"/>
<path color="#289552" d="M516.9,1123.3l.2,1.1l1.3,23.8l-.2-1.1z"/>
<path color="#b2882f" d="M648.8,1120l1.4-.7l-1,23.6l-1.4,.7z"/>
<path color="#207d3f" d="M645.3,1119.8l-1.5-.2l-.9,23.6l1.4,.3z"/>
<path color="#207b3e" d="M646.7,1120l-1.4-.2l-1,23.7l1.5,.2z"/>
<path color="#6d5322" d="M489.4,1126.9l-1.7-.4l1.8,23.8l1.7,.4z"/>
<path color="#258f49" d="M648.3,1120.2l-1.6-.2l-.9,23.7l1.5,.2z"/>
<path color="#217d41" d="M649.8,1120.5l-1.5-.3l-1,23.7l1.5,.2z"/>
<path color="#6c5222" d="M491.1,1127.3l-1.7-.4l1.8,23.8l1.7,.4z"/>
<path color="#207c40" d="M651.4,1120.7l-1.6-.2l-1,23.6l1.6,.2z"/>
<path color="#248549" d="M517.1,1124.4l.3,1.1l1.3,23.8l-.3-1.1z"/>
<path color="#1f763d" d="M653,1120.9l-1.6-.2l-1,23.6l1.6,.3z"/>
<path color="#207b41" d="M654.7,1121.2l-1.7-.3l-1,23.7l1.6,.2z"/>
<path color="#765924" d="M492.9,1127.6l-1.8-.3l1.8,23.8l1.7,.4z"/>
<path color="#217d42" d="M656.4,1121.4l-1.7-.2l-1.1,23.6l1.7,.3z"/>
<path color="#27924e" d="M658.2,1121.7l-1.8-.3l-1.1,23.7l1.7,.3z"/>
<path color="#6f5422" d="M494.6,1128l-1.7-.4l1.7,23.9l1.7,.3z"/>
<path color="#289952" d="M660,1122l-1.8-.3l-1.2,23.7l1.8,.3z"/>
<path color="#289553" d="M517.4,1125.5l.2,1.1l1.3,23.8l-.2-1.1z"/>
<path color="#7a2516" d="M573.8,1122.8l-1.8,.1l.4,23.7l1.7,0z"/>
<path color="#902c1b" d="M575.5,1122.9l-1.7-.1l.3,23.8l1.7,0z"/>
<path color="#9b2e1b" d="M572,1122.9l-1.7,.2l.4,23.7l1.7-.2z"/>
<path color="#299c54" d="M661.8,1122.3l-1.8-.3l-1.2,23.7l1.7,.3z"/>
<path color="#9d341f" d="M577.3,1123l-1.8-.1l.3,23.7l1.7,.1z"/>
<path color="#8e2a19" d="M570.3,1123.1l-1.6,.3l.4,23.7l1.6-.3z"/>
<path color="#5f471d" d="M496.3,1128.4l-1.7-.4l1.7,23.8l1.7,.4z"/>
<path color="#6d2a18" d="M579,1123.1l-1.7-.1l.2,23.7l1.7,.2z"/>
<path color="#268e4d" d="M663.6,1122.6l-1.8-.3l-1.3,23.7l1.9,.3z"/>
<path color="#c88c2c" d="M702.8,1124.1l1.7-.3l-1.9,23.6l-1.8,.4z"/>
<path color="#c33a21" d="M568.7,1123.4l-1.6,.4l.4,23.8l1.6-.5z"/>
<path color="#74321b" d="M580.7,1123.4l-1.7-.3l.2,23.8l1.7,.2z"/>
<path color="#268e4d" d="M665.5,1122.9l-1.9-.3l-1.2,23.7l1.9,.3z"/>
<path color="#654c1f" d="M498,1128.7l-1.7-.3l1.7,23.8l1.7,.4z"/>
<path color="#9e301e" d="M608.9,1122.7l-1.7,.1l-.3,23.7l1.7-.1z"/>
<path color="#7b2617" d="M610.7,1122.8l-1.8-.1l-.3,23.7l1.7,.1z"/>
<path color="#7e2919" d="M607.2,1122.8l-1.8,.1l-.2,23.7l1.7-.1z"/>
<path color="#9a2d1a" d="M567.1,1123.8l-1.4,.6l.4,23.7l1.4-.5z"/>
<path color="#cb8c2d" d="M701,1124.5l1.8-.4l-2,23.7l-1.7,.4z"/>
<path color="#8f4524" d="M582.3,1123.6l-1.6-.2l.2,23.7l1.6,.3z"/>
<path color="#268d4f" d="M517.6,1126.6l.3,1l1.3,23.8l-.3-1z"/>
<path color="#792e1a" d="M605.4,1122.9l-1.8,.2l-.2,23.7l1.8-.2z"/>
<path color="#9e311e" d="M612.3,1123l-1.6-.2l-.4,23.7l1.7,.2z"/>
<path color="#75331c" d="M603.6,1123.1l-1.7,.2l-.2,23.7l1.7-.2z"/>
<path color="#8e4d27" d="M583.9,1123.9l-1.6-.3l.2,23.8l1.6,.2z"/>
<path color="#735723" d="M499.8,1129.1l-1.8-.4l1.7,23.9l1.7,.3z"/>
<path color="#782517" d="M613.9,1123.3l-1.6-.3l-.3,23.7l1.5,.3z"/>
<path color="#b37b28" d="M699.3,1124.9l1.7-.4l-1.9,23.7l-1.7,.4z"/>
<path color="#258a4c" d="M665.1,1124l.4-1.1l-1.2,23.7l-.4,1.1z"/>
<path color="#71371d" d="M601.9,1123.3l-1.7,.3l-.1,23.7l1.6-.3z"/>
<path color="#b7361e" d="M565.7,1124.4l-1.4,.6l.5,23.8l1.3-.7z"/>
<path color="#7e4b25" d="M585.5,1124.1l-1.6-.2l.2,23.7l1.5,.3z"/>
<path color="#824624" d="M600.2,1123.6l-1.6,.3l-.1,23.7l1.6-.3z"/>
<path color="#6f2316" d="M615.4,1123.7l-1.5-.4l-.4,23.7l1.5,.4z"/>
<path color="#614a1e" d="M501.5,1129.5l-1.7-.4l1.6,23.8l1.7,.4z"/>
<path color="#8d5d2d" d="M586.9,1124.3l-1.4-.2l.1,23.8l1.4,.2z"/>
<path color="#d18e2f" d="M697.5,1125.2l1.8-.3l-1.9,23.7l-1.7,.4z"/>
<path color="#8d542a" d="M598.6,1123.9l-1.5,.2l-.1,23.7l1.5-.2z"/>
<path color="#2da65d" d="M517.9,1127.6l.2,1l1.3,23.8l-.2-1z"/>
<path color="#815c2c" d="M588.4,1124.5l-1.5-.2l.1,23.8l1.4,.2z"/>
<path color="#8d5d2d" d="M597.1,1124.1l-1.6,.2l0,23.8l1.5-.3z"/>
<path color="#a12f1a" d="M564.3,1125l-1.2,.7l.5,23.8l1.2-.7z"/>
<path color="#8b2c1b" d="M616.8,1124.2l-1.4-.5l-.4,23.7l1.4,.5z"/>
<path color="#785d2b" d="M589.8,1124.6l-1.4-.1l0,23.8l1.4,.1z"/>
<path color="#745327" d="M595.5,1124.3l-1.4,.2l-.1,23.7l1.5-.1z"/>
<path color="#cf8b2e" d="M695.8,1125.6l1.7-.4l-1.8,23.8l-1.8,.3z"/>
<path color="#6c5321" d="M503.2,1129.8l-1.7-.3l1.6,23.8l1.7,.4z"/>
<path color="#866830" d="M594.1,1124.5l-1.5,.1l0,23.7l1.4-.1z"/>
<path color="#7c682f" d="M591.2,1124.6l-1.4,0l0,23.8l1.4,0z"/>
<path color="#917937" d="M592.6,1124.6l-1.4,0l0,23.8l1.4-.1z"/>
<path color="#258c4d" d="M664.7,1125.1l.4-1.1l-1.2,23.7l-.4,1.1z"/>
<path color="#ac7227" d="M694,1126l1.8-.4l-1.9,23.7l-1.7,.4z"/>
<path color="#7b2718" d="M618.1,1124.9l-1.3-.7l-.4,23.7l1.2,.7z"/>
<path color="#6f5522" d="M505,1130.2l-1.8-.4l1.6,23.9l1.7,.4z"/>
<path color="#a02f19" d="M563.1,1125.7l-1.1,.9l.5,23.7l1.1-.8z"/>
<path color="#24854b" d="M518.1,1128.6l.3,1l1.3,23.8l-.3-1z"/>
<path color="#ad7127" d="M692.3,1126.4l1.7-.4l-1.8,23.7l-1.7,.4z"/>
<path color="#725723" d="M506.7,1130.6l-1.7-.4l1.5,23.9l1.7,.3z"/>
<path color="#792718" d="M619.1,1125.6l-1-.7l-.5,23.7l1.1,.7z"/>
<path color="#299855" d="M664.3,1126.2l.4-1.1l-1.2,23.7l-.5,1.1z"/>
<path color="#bd371d" d="M562,1126.6l-.9,.8l.5,23.8l.9-.9z"/>
<path color="#c57f2d" d="M690.5,1126.7l1.8-.3l-1.8,23.7l-1.8,.4z"/>
<path color="#785d26" d="M508.4,1130.9l-1.7-.3l1.5,23.8l1.7,.4z"/>
<path color="#2b9f5a" d="M518.4,1129.6l.3,.9l1.3,23.9l-.3-1z"/>
<path color="#cc822e" d="M688.7,1127.1l1.8-.4l-1.8,23.8l-1.7,.3z"/>
<path color="#692215" d="M620.1,1126.4l-1-.8l-.4,23.7l.9,.9z"/>
<path color="#6c5322" d="M510.2,1131.3l-1.8-.4l1.5,23.9l1.7,.4z"/>
<path color="#ec4424" d="M561.1,1127.4l-.9,1l.6,23.8l.8-1z"/>
<path color="#b7742a" d="M687,1127.5l1.7-.4l-1.7,23.7l-1.7,.4z"/>
<path color="#2b9e58" d="M663.9,1127.2l.4-1l-1.3,23.7l-.4,1z"/>
<path color="#6b5322" d="M511.9,1131.7l-1.7-.4l1.4,23.9l1.7,.4z"/>
<path color="#b8752a" d="M685.2,1127.9l1.8-.4l-1.7,23.7l-1.8,.4z"/>
<path color="#289153" d="M518.7,1130.5l.3,1l1.3,23.9l-.3-1z"/>
<path color="#96311e" d="M620.9,1127.3l-.8-.9l-.5,23.8l.8,.9z"/>
<path color="#7a5f27" d="M513.7,1132.1l-1.8-.4l1.4,23.9l1.8,.3z"/>
<path color="#cd842f" d="M683.4,1128.2l1.8-.3l-1.7,23.7l-1.7,.4z"/>
<path color="#f24624" d="M560.2,1128.4l-.7,.9l.6,23.9l.7-1z"/>
<path color="#24834a" d="M663.5,1128.2l.4-1l-1.3,23.7l-.4,1.1z"/>
<path color="#be7c2b" d="M681.6,1128.6l1.8-.4l-1.6,23.8l-1.7,.4z"/>
<path color="#735a25" d="M515.4,1132.4l-1.7-.3l1.4,23.8l1.7,.4z"/>
<path color="#2b9e60" d="M519,1131.5l.3,.9l1.3,23.9l-.3-.9z"/>
<path color="#91301e" d="M621.6,1128.2l-.7-.9l-.5,23.8l.6,.9z"/>
<path color="#b07428" d="M679.9,1129l1.7-.4l-1.5,23.8l-1.8,.4z"/>
<path color="#b2331a" d="M559.5,1129.3l-.6,1l.6,23.8l.6-.9z"/>
<path color="#6d5624" d="M517.2,1132.8l-1.8-.4l1.4,23.9l1.7,.4z"/>
<path color="#25894d" d="M663,1129.2l.5-1l-1.3,23.8l-.4,1z"/>
<path color="#bb7d2b" d="M678.1,1129.4l1.8-.4l-1.6,23.8l-1.7,.3z"/>
<path color="#2a9665" d="M519.3,1132.4l.3,.9l1.2,23.9l-.2-.9z"/>
<path color="#6f5724" d="M518.9,1133.2l-1.7-.4l1.3,23.9l1.7,.4z"/>
<path color="#732618" d="M622.1,1129.2l-.5-1l-.6,23.8l.6,1z"/>
<path color="#bc7e2b" d="M676.3,1129.7l1.8-.3l-1.5,23.7l-1.8,.4z"/>
<path color="#cc3a1e" d="M558.9,1130.3l-.5,1l.6,23.8l.5-1z"/>
<path color="#ce8b2f" d="M674.5,1130.1l1.8-.4l-1.5,23.8l-1.7,.4z"/>
<path color="#2ea960" d="M662.6,1130.2l.4-1l-1.2,23.8l-.4,.9z"/>
<path color="#2ea078" d="M519.6,1133.3l.2,.9l1.3,23.9l-.3-.9z"/>
<path color="#802b1b" d="M622.6,1130.1l-.5-.9l-.5,23.8l.5,.9z"/>
<path color="#dc9834" d="M672.7,1130.5l1.8-.4l-1.4,23.8l-1.8,.4z"/>
<path color="#bb361b" d="M558.4,1131.3l-.6,.9l.6,23.9l.6-1z"/>
<path color="#b07c2a" d="M671,1130.9l1.7-.4l-1.4,23.8l-1.7,.4z"/>
<path color="#2fab62" d="M662.2,1131.1l.4-.9l-1.2,23.7l-.5,1z"/>
<path color="#27856f" d="M519.8,1134.2l.3,.8l1.3,24l-.3-.9z"/>
<path color="#de9f36" d="M669.2,1131.3l1.8-.4l-1.4,23.8l-1.8,.4z"/>
<path color="#752819" d="M623,1131.1l-.4-1l-.5,23.8l.4,1z"/>
<path color="#ff5026" d="M557.8,1132.2l-.5,.9l.6,23.9l.5-.9z"/>
<path color="#c89132" d="M667.4,1131.6l1.8-.3l-1.4,23.8l-1.8,.3z"/>
<path color="#29887c" d="M520.1,1135l.3,.9l1.2,23.9l-.2-.8z"/>
<path color="#2ea866" d="M661.8,1132l.4-.9l-1.3,23.8l-.4,.9z"/>
<path color="#daa138" d="M665.6,1132l1.8-.4l-1.4,23.8l-1.7,.4z"/>
<path color="#6f2617" d="M623.4,1132l-.4-.9l-.5,23.8l.3,1z"/>
<path color="#e15323" d="M557.3,1133.1l-.5,.9l.6,23.9l.5-.9z"/>
<path color="#b98b30" d="M663.8,1132.4l1.8-.4l-1.3,23.8l-1.8,.4z"/>
<path color="#257878" d="M520.4,1135.9l.2,.8l1.3,24l-.3-.9z"/>
<path color="#288e60" d="M661.3,1132.9l.5-.9l-1.3,23.8l-.4,.9z"/>
<path color="#d8a53a" d="M662,1132.8l1.8-.4l-1.3,23.8l-1.8,.4z"/>
<path color="#fe6c2a" d="M556.8,1134l-.6,.8l.7,23.9l.5-.8z"/>
<path color="#7b291a" d="M623.7,1132.9l-.3-.9l-.6,23.9l.4,.9z"/>
<path color="#29838f" d="M520.6,1136.7l.3,.8l1.2,24l-.2-.8z"/>
<path color="#268564" d="M660.9,1133.8l.4-.9l-1.2,23.8l-.4,.9z"/>
<path color="#be5c22" d="M556.2,1134.8l-.6,.8l.6,23.9l.7-.8z"/>
<path color="#96301e" d="M624.1,1133.8l-.4-.9l-.5,23.9l.4,.9z"/>
<path color="#2b859e" d="M520.9,1137.5l.2,.8l1.3,24l-.3-.8z"/>
<path color="#f0832d" d="M555.6,1135.6l-.8,.7l.7,23.9l.7-.7z"/>
<path color="#2c977d" d="M660.5,1134.7l.4-.9l-1.2,23.8l-.4,.9z"/>
<path color="#aa3320" d="M624.6,1134.6l-.5-.8l-.5,23.9l.4,.8z"/>
<path color="#2a7ea2" d="M521.1,1138.3l.2,.8l1.3,24l-.2-.8z"/>
<path color="#db862b" d="M554.8,1136.3l-.9,.7l.7,23.9l.9-.7z"/>
<path color="#278176" d="M660.1,1135.5l.4-.8l-1.2,23.8l-.4,.9z"/>
<path color="#892819" d="M625.1,1135.4l-.5-.8l-.6,23.9l.5,.8z"/>
<path color="#c08128" d="M553.9,1137l-.9,.7l.7,23.9l.9-.7z"/>
<path color="#2e87bc" d="M521.3,1139.1l.2,.8l1.3,24l-.2-.8z"/>
<path color="#277e7e" d="M659.8,1136.3l.3-.8l-1.2,23.9l-.4,.8z"/>
<path color="#ba3421" d="M625.8,1136.1l-.7-.7l-.6,23.9l.7,.7z"/>
<path color="#af8227" d="M553,1137.7l-1.1,.6l.7,24l1.1-.7z"/>
<path color="#2974aa" d="M521.5,1139.9l.2,.7l1.2,24l-.1-.7z"/>
<path color="#b39129" d="M551.9,1138.3l-1.2,.7l.7,24l1.2-.7z"/>
<path color="#912719" d="M626.5,1136.8l-.7-.7l-.6,23.9l.7,.7z"/>
<path color="#2c8c98" d="M659.4,1137.1l.4-.8l-1.3,23.9l-.3,.8z"/>
<path color="#2d7dbd" d="M521.7,1140.6l.1,.8l1.3,24l-.2-.8z"/>
<path color="#dcc136" d="M550.7,1139l-1.3,.7l.8,23.9l1.2-.6z"/>
<path color="#b9301f" d="M627.4,1137.5l-.9-.7l-.6,23.9l.9,.7z"/>
<path color="#257489" d="M659,1137.9l.4-.8l-1.2,23.9l-.4,.8z"/>
<path color="#25629a" d="M521.8,1141.4l.2,.7l1.2,24l-.1-.7z"/>
<path color="#ddd13a" d="M549.4,1139.7l-1.3,.6l.8,24l1.3-.7z"/>
<path color="#9d271a" d="M628.4,1138.1l-1-.6l-.6,23.9l.9,.6z"/>
<path color="#28799b" d="M658.7,1138.7l.3-.8l-1.2,23.9l-.3,.8z"/>
<path color="#b4b535" d="M548.1,1140.3l-1.4,.8l.8,24l1.4-.8z"/>
<path color="#2f78c1" d="M522,1142.1l.1,.7l1.2,24l-.1-.7z"/>
<path color="#d43322" d="M629.5,1138.8l-1.1-.7l-.7,23.9l1.1,.7z"/>
<path color="#2b7eaf" d="M658.4,1139.5l.3-.8l-1.2,23.9l-.3,.8z"/>
<path color="#aebb39" d="M546.7,1141.1l-1.3,.7l.8,24l1.3-.7z"/>
<path color="#2c6bb3" d="M522.1,1142.8l.1,.7l1.2,24.1l-.1-.8z"/>
<path color="#bd2c1d" d="M630.6,1139.4l-1.1-.6l-.7,23.9l1.1,.7z"/>
<path color="#859b31" d="M545.4,1141.8l-1.3,.8l.8,24l1.3-.8z"/>
<path color="#2871a6" d="M658.1,1140.2l.3-.7l-1.2,23.9l-.3,.8z"/>
<path color="#255899" d="M522.2,1143.5l.1,.7l1.2,24.1l-.1-.7z"/>
<path color="#b52e1d" d="M631.9,1140.1l-1.3-.7l-.7,24l1.2,.6z"/>
<path color="#95bc3f" d="M544.1,1142.6l-1.2,.9l.8,24l1.2-.9z"/>
<path color="#2970a9" d="M657.8,1141l.3-.8l-1.2,24l-.3,.7z"/>
<path color="#2c63b3" d="M522.3,1144.2l0,.7l1.2,24.1l0-.7z"/>
<path color="#db4126" d="M633.1,1140.8l-1.2-.7l-.8,23.9l1.2,.8z"/>
<path color="#255097" d="M522.3,1144.9l0,.7l1.3,24.1l-.1-.7z"/>
<path color="#2a6eac" d="M657.6,1141.7l.2-.7l-1.2,23.9l-.2,.7z"/>
<path color="#739f37" d="M542.9,1143.5l-1.1,.9l.9,24l1-.9z"/>
<path color="#db4b29" d="M634.3,1141.6l-1.2-.8l-.8,24l1.3,.7z"/>
<path color="#254d97" d="M522.3,1145.6l0,.7l1.2,24.1l.1-.7z"/>
<path color="#2a6bad" d="M657.3,1142.4l.3-.7l-1.2,23.9l-.2,.8z"/>
<path color="#bc4a27" d="M635.5,1142.4l-1.2-.8l-.7,23.9l1.1,.8z"/>
<path color="#5a8a32" d="M541.8,1144.4l-.9,.9l.9,24.1l.9-1z"/>
<path color="#2e5ab9" d="M522.3,1146.3l0,.7l1.2,24.1l0-.7z"/>
<path color="#2966aa" d="M657.1,1143.1l.2-.7l-1.1,24l-.2,.7z"/>
<path color="#b55329" d="M636.6,1143.2l-1.1-.8l-.8,23.9l1.1,.9z"/>
<path color="#64ae41" d="M540.9,1145.3l-.8,1l1,24.1l.7-1z"/>
<path color="#284ba3" d="M522.3,1147l-.1,.7l1.2,24.1l.1-.7z"/>
<path color="#2e6cbb" d="M657,1143.8l.1-.7l-1.1,24l-.2,.7z"/>
<path color="#b15d2c" d="M637.5,1144.1l-.9-.9l-.8,24l.9,.9z"/>
<path color="#2d50b5" d="M522.2,1147.7l-.1,.7l1.2,24.1l.1-.7z"/>
<path color="#57b045" d="M540.1,1146.3l-.5,1l1,24.1l.5-1z"/>
<path color="#26579d" d="M656.8,1144.5l.2-.7l-1.2,24l-.2,.7z"/>
<path color="#264397" d="M522.1,1148.4l-.1,.6l1.2,24.2l.1-.7z"/>
<path color="#7d4b22" d="M638.3,1145l-.8-.9l-.8,24l.7,.9z"/>
<path color="#2857a3" d="M656.7,1145.2l.1-.7l-1.2,24l-.1,.7z"/>
<path color="#49ae47" d="M539.6,1147.3l-.2,1l.9,24.1l.3-1z"/>
<path color="#2c53b2" d="M522,1149l-.2,.7l1.3,24.2l.1-.7z"/>
<path color="#2e5fbb" d="M656.6,1145.9l.1-.7l-1.2,24l-.1,.7z"/>
<path color="#95682d" d="M638.8,1146l-.5-1l-.9,24l.6,1z"/>
<path color="#42ac47" d="M539.4,1148.3l-.1,1l1,24.1l0-1z"/>
<path color="#2e5ab9" d="M521.8,1149.7l-.2,.7l1.3,24.2l.2-.7z"/>
<path color="#2b54ad" d="M656.5,1146.6l.1-.7l-1.2,24l0,.7z"/>
<path color="#745d27" d="M639.2,1147l-.4-1l-.8,24l.3,1z"/>
<path color="#264f9c" d="M521.6,1150.4l-.2,.7l1.3,24.2l.2-.7z"/>
<path color="#2e55b8" d="M656.5,1147.3l0-.7l-1.1,24l-.1,.7z"/>
<path color="#458034" d="M539.3,1149.3l.3,1l.9,24.2l-.2-1.1z"/>
<path color="#2b5db0" d="M521.4,1151.1l-.3,.7l1.3,24.2l.3-.7z"/>
<path color="#2e52ba" d="M656.5,1147.9l0-.6l-1.2,24l0,.7z"/>
<path color="#615a24" d="M639.3,1148l-.1-1l-.9,24l.1,1.1z"/>
<path color="#68a243" d="M539.6,1150.3l.4,1l.9,24.2l-.4-1z"/>
<path color="#2f6ac0" d="M521.1,1151.8l-.3,.7l1.3,24.2l.3-.7z"/>
<path color="#27449b" d="M656.5,1148.6l0-.7l-1.2,24.1l0,.7z"/>
<path color="#45a955" d="M639.2,1149l.1-1l-.9,24.1l-.1,1z"/>
<path color="#2a64ae" d="M520.8,1152.5l-.3,.8l1.3,24.1l.3-.7z"/>
<path color="#284aa0" d="M656.6,1149.3l-.1-.7l-1.2,24.1l.1,.7z"/>
<path color="#71963f" d="M540,1151.3l.7,1l.9,24.1l-.7-.9z"/>
<path color="#2b69af" d="M520.5,1153.3l-.3,.7l1.3,24.2l.3-.8z"/>
<path color="#2b55b0" d="M656.7,1150l-.1-.7l-1.2,24.1l.1,.7z"/>
<path color="#59b45a" d="M638.8,1150l.4-1l-.9,24.1l-.4,1z"/>
<path color="#7c8c3c" d="M540.7,1152.3l.8,.9l.9,24.1l-.8-.9z"/>
<path color="#2d73ba" d="M520.2,1154l-.4,.7l1.3,24.2l.4-.7z"/>
<path color="#2c5ab2" d="M656.8,1150.7l-.1-.7l-1.2,24.1l.1,.7z"/>
<path color="#5d9c4e" d="M638.2,1151l.6-1l-.9,24.1l-.5,1z"/>
<path color="#25649c" d="M519.8,1154.7l-.4,.8l1.4,24.2l.3-.8z"/>
<path color="#7d7935" d="M541.5,1153.2l1,.9l.9,24.1l-1-.9z"/>
<path color="#2d61b7" d="M656.9,1151.4l-.1-.7l-1.2,24.1l.1,.7z"/>
<path color="#2a73ae" d="M519.4,1155.5l-.4,.8l1.3,24.2l.5-.8z"/>
<path color="#6b984c" d="M637.4,1152l.8-1l-.8,24.1l-.8,1z"/>
<path color="#255498" d="M657.1,1152.1l-.2-.7l-1.2,24.1l.2,.7z"/>
<path color="#8f7836" d="M542.5,1154.1l1.1,.8l.9,24.2l-1.1-.9z"/>
<path color="#2871a6" d="M519,1156.3l-.4,.8l1.3,24.2l.4-.8z"/>
<path color="#285ea3" d="M657.3,1152.8l-.2-.7l-1.2,24.1l.2,.7z"/>
<path color="#62773c" d="M636.4,1152.9l1-.9l-.8,24.1l-1,.9z"/>
<path color="#9f7335" d="M543.6,1154.9l1.1,.8l.9,24.2l-1.1-.8z"/>
<path color="#2977a6" d="M518.6,1157.1l-.5,.8l1.3,24.2l.5-.8z"/>
<path color="#2863a6" d="M657.5,1153.6l-.2-.8l-1.2,24.1l.2,.8z"/>
<path color="#6e733a" d="M635.3,1153.8l1.1-.9l-.8,24.1l-1.1,.9z"/>
<path color="#b06e34" d="M544.7,1155.7l1.2,.7l.9,24.2l-1.2-.7z"/>
<path color="#2a7ea2" d="M518.1,1157.9l-.5,.8l1.4,24.2l.4-.8z"/>
<path color="#2d72b9" d="M657.7,1154.3l-.2-.7l-1.2,24.1l.2,.7z"/>
<path color="#894a24" d="M545.9,1156.4l1.2,.7l.8,24.2l-1.1-.7z"/>
<path color="#83773c" d="M634.1,1154.6l1.2-.8l-.8,24.1l-1.2,.8z"/>
<path color="#2a8199" d="M517.6,1158.7l-.5,.8l1.3,24.3l.6-.9z"/>
<path color="#2767a1" d="M658,1155l-.3-.7l-1.2,24.1l.3,.8z"/>
<path color="#b3532a" d="M547.1,1157.1l1.1,.7l.8,24.2l-1.1-.7z"/>
<path color="#8c6f38" d="M632.8,1155.4l1.3-.8l-.8,24.1l-1.2,.8z"/>
<path color="#2d7dbd" d="M658.3,1155.8l-.3-.8l-1.2,24.2l.3,.8z"/>
<path color="#267782" d="M517.1,1159.5l-.6,.9l1.4,24.3l.5-.9z"/>
<path color="#c8502a" d="M548.2,1157.8l1.1,.7l.7,24.2l-1-.7z"/>
<path color="#8d6231" d="M631.5,1156.1l1.3-.7l-.7,24.1l-1.3,.8z"/>
<path color="#2b79b2" d="M658.6,1156.6l-.3-.8l-1.2,24.2l.3,.8z"/>
<path color="#2a8787" d="M516.5,1160.4l-.5,.9l1.4,24.3l.5-.9z"/>
<path color="#a5381f" d="M549.3,1158.5l.9,.7l.8,24.2l-1-.7z"/>
<path color="#b26c36" d="M630.2,1156.8l1.3-.7l-.7,24.2l-1.3,.7z"/>
<path color="#27739f" d="M659,1157.4l-.4-.8l-1.2,24.2l.4,.8z"/>
<path color="#2c9386" d="M516,1161.3l-.6,.9l1.4,24.3l.6-.9z"/>
<path color="#e34126" d="M550.2,1159.2l.8,.7l.8,24.2l-.8-.7z"/>
<path color="#d16f38" d="M629,1157.5l1.2-.7l-.7,24.2l-1.2,.7z"/>
<path color="#277698" d="M659.4,1158.2l-.4-.8l-1.2,24.2l.3,.8z"/>
<path color="#27856e" d="M515.4,1162.2l-.6,.9l1.4,24.3l.6-.9z"/>
<path color="#d96533" d="M627.9,1158.2l1.1-.7l-.7,24.2l-1.1,.7z"/>
<path color="#e43622" d="M551,1159.9l.7,.7l.8,24.3l-.7-.8z"/>
<path color="#26768b" d="M659.8,1159.1l-.4-.9l-1.3,24.2l.4,.8z"/>
<path color="#a14221" d="M626.8,1158.9l1.1-.7l-.7,24.2l-1,.7z"/>
<path color="#2b9671" d="M514.8,1163.1l-.6,1l1.4,24.3l.6-1z"/>
<path color="#b1291a" d="M551.7,1160.6l.6,.8l.8,24.3l-.6-.8z"/>
<path color="#2b8995" d="M660.2,1159.9l-.4-.8l-1.3,24.1l.4,.9z"/>
<path color="#e75229" d="M625.9,1159.6l.9-.7l-.6,24.2l-1,.7z"/>
<path color="#ca9a36" d="M513.4,1164.2l-1.9,.5l1.5,24.3l1.9-.4z"/>
<path color="#e93d26" d="M552.3,1161.4l.5,.8l.7,24.3l-.4-.8z"/>
<path color="#d9a339" d="M511.5,1164.7l-2,.4l1.5,24.3l2-.4z"/>
<path color="#2ea46f" d="M514.2,1164.1l-.7,1l1.5,24.3l.6-1z"/>
<path color="#d19a36" d="M509.5,1165.1l-2,.4l1.6,24.3l1.9-.4z"/>
<path color="#e04522" d="M625.1,1160.4l.8-.8l-.7,24.2l-.8,.8z"/>
<path color="#c08b30" d="M507.5,1165.5l-1.9,.4l1.6,24.4l1.9-.5z"/>
<path color="#2f9898" d="M660.6,1160.8l-.4-.9l-1.3,24.2l.4,.9z"/>
<path color="#b3802c" d="M505.6,1165.9l-2,.4l1.6,24.4l2-.4z"/>
<path color="#d63f26" d="M552.8,1162.2l.4,.9l.7,24.3l-.4-.9z"/>
<path color="#289259" d="M513.5,1165.1l-.6,1l1.5,24.3l.6-1z"/>
<path color="#c3882f" d="M503.6,1166.3l-2,.4l1.7,24.4l1.9-.4z"/>
<path color="#ba802c" d="M501.6,1166.7l-2,.5l1.7,24.3l2-.4z"/>
<path color="#fa4d26" d="M624.4,1161.1l.7-.7l-.7,24.2l-.7,.8z"/>
<path color="#2a8d81" d="M661,1161.7l-.4-.9l-1.3,24.2l.4,.9z"/>
<path color="#dc9533" d="M499.6,1167.2l-2,.4l1.8,24.4l1.9-.5z"/>
<path color="#d08b30" d="M497.6,1167.6l-1.9,.4l1.8,24.4l1.9-.4z"/>
<path color="#b83d24" d="M553.2,1163.1l.3,.9l.7,24.3l-.3-.9z"/>
<path color="#ae7428" d="M495.7,1168l-2,.4l1.8,24.4l2-.4z"/>
<path color="#268a4f" d="M512.9,1166.1l-.7,1l1.5,24.4l.7-1.1z"/>
<path color="#ad3d1d" d="M623.7,1162l.7-.9l-.7,24.3l-.5,.8z"/>
<path color="#d08930" d="M493.7,1168.4l-2,.4l1.9,24.4l1.9-.4z"/>
<path color="#c37f2d" d="M491.7,1168.8l-2,.5l1.9,24.4l2-.5z"/>
<path color="#2a8e76" d="M661.5,1162.6l-.5-.9l-1.3,24.2l.5,1z"/>
<path color="#b17228" d="M489.7,1169.3l-2,.4l1.9,24.4l2-.4z"/>
<path color="#b27129" d="M487.7,1169.7l-2,.4l2,24.4l1.9-.4z"/>
<path color="#da512f" d="M553.5,1164l.3,1l.7,24.3l-.3-1z"/>
<path color="#a2411f" d="M623.2,1162.9l.5-.9l-.5,24.2l-.6,.9z"/>
<path color="#2b9d59" d="M512.2,1167.1l-.6,1.1l1.5,24.4l.6-1.1z"/>
<path color="#aa6c27" d="M485.7,1170.1l-2,.4l2,24.4l2-.4z"/>
<path color="#b47329" d="M483.7,1170.5l-2,.5l2.1,24.4l1.9-.5z"/>
<path color="#2fa37b" d="M661.9,1163.6l-.4-1l-1.3,24.3l.4,.9z"/>
<path color="#b27328" d="M481.7,1171l-2,.4l2.1,24.4l2-.4z"/>
<path color="#a96f26" d="M479.7,1171.4l-2,.4l2.1,24.4l2-.4z"/>
<path color="#be7e2b" d="M477.7,1171.8l-2,.4l2.2,24.5l1.9-.5z"/>
<path color="#bf5829" d="M622.8,1163.8l.4-.9l-.6,24.2l-.4,1z"/>
<path color="#984024" d="M553.8,1165l.3,1.1l.7,24.3l-.3-1.1z"/>
<path color="#258a4e" d="M511.6,1168.2l-.7,1.1l1.5,24.4l.7-1.1z"/>
<path color="#c1812b" d="M475.7,1172.2l-2,.5l2.2,24.4l2-.4z"/>
<path color="#745b26" d="M662.6,1163.7l1.9,.4l-1.3,24.3l-1.9-.4z"/>
<path color="#b17828" d="M473.7,1172.7l-2,.4l2.2,24.4l2-.4z"/>
<path color="#2a9665" d="M662.4,1164.6l-.5-1l-1.3,24.2l.5,1z"/>
<path color="#e09932" d="M471.7,1173.1l-2.1,.4l2.3,24.5l2-.5z"/>
<path color="#6f5724" d="M664.5,1164.1l1.9,.4l-1.4,24.3l-1.8-.4z"/>
<path color="#c78a2c" d="M469.6,1173.5l-2,.4l2.4,24.5l1.9-.4z"/>
<path color="#d0912e" d="M467.6,1173.9l-2,.5l2.4,24.4l2-.4z"/>
<path color="#725925" d="M666.4,1164.5l1.9,.4l-1.4,24.3l-1.9-.4z"/>
<path color="#8d4a22" d="M622.3,1164.8l.5-1l-.6,24.3l-.5,1z"/>
<path color="#974727" d="M554.1,1166.1l.3,1l.7,24.3l-.3-1z"/>
<path color="#268b4e" d="M510.9,1169.3l-.7,1.1l1.5,24.4l.7-1.1z"/>
<path color="#7a5f27" d="M668.3,1164.9l1.9,.4l-1.5,24.3l-1.8-.4z"/>
<path color="#2da262" d="M662.9,1165.6l-.5-1l-1.3,24.2l.5,1z"/>
<path color="#765b26" d="M670.2,1165.3l1.9,.4l-1.5,24.3l-1.9-.4z"/>
<path color="#c17334" d="M621.9,1165.8l.4-1l-.6,24.3l-.4,1z"/>
<path color="#705723" d="M672.1,1165.7l1.9,.4l-1.5,24.3l-1.9-.4z"/>
<path color="#9a512b" d="M554.4,1167.1l.4,1.1l.7,24.3l-.4-1.1z"/>
<path color="#289654" d="M510.2,1170.4l-.7,1.2l1.6,24.4l.6-1.2z"/>
<path color="#6e5523" d="M674,1166.1l1.9,.4l-1.6,24.3l-1.8-.4z"/>
<path color="#299656" d="M663.4,1166.6l-.5-1l-1.3,24.2l.4,1.1z"/>
<path color="#634c1f" d="M675.9,1166.5l1.9,.4l-1.6,24.3l-1.9-.4z"/>
<path color="#97662e" d="M621.4,1166.9l.5-1.1l-.6,24.3l-.5,1.1z"/>
<path color="#664e20" d="M677.8,1166.9l1.9,.5l-1.6,24.2l-1.9-.4z"/>
<path color="#a76234" d="M554.8,1168.2l.5,1l.7,24.4l-.5-1.1z"/>
<path color="#634c1f" d="M679.7,1167.4l1.9,.4l-1.7,24.3l-1.8-.5z"/>
<path color="#279251" d="M509.5,1171.6l-.7,1.2l1.6,24.4l.7-1.2z"/>
<path color="#25884d" d="M663.9,1167.6l-.5-1l-1.4,24.3l.5,1z"/>
<path color="#715623" d="M681.6,1167.8l1.9,.4l-1.7,24.3l-1.9-.4z"/>
<path color="#745823" d="M683.5,1168.2l1.9,.4l-1.7,24.3l-1.9-.4z"/>
<path color="#947232" d="M620.8,1167.9l.6-1l-.6,24.3l-.5,1.1z"/>
<path color="#795029" d="M555.3,1169.2l.7,1.1l.6,24.4l-.6-1.1z"/>
<path color="#664d1f" d="M685.4,1168.6l1.9,.4l-1.7,24.3l-1.9-.4z"/>
<path color="#25884d" d="M664.4,1168.7l-.5-1.1l-1.4,24.3l.5,1.2z"/>
<path color="#279050" d="M508.8,1172.8l-.6,1.2l1.5,24.5l.7-1.3z"/>
<path color="#775a24" d="M687.3,1169l2,.4l-1.9,24.3l-1.8-.4z"/>
<path color="#614a1e" d="M689.3,1169.4l1.9,.4l-1.9,24.3l-1.9-.4z"/>
<path color="#7b6c2f" d="M620.1,1169l.7-1.1l-.5,24.4l-.7,1z"/>
<path color="#6b5121" d="M691.2,1169.8l1.9,.4l-1.9,24.3l-1.9-.4z"/>
<path color="#6e522a" d="M556,1170.3l.7,1l.7,24.4l-.8-1z"/>
<path color="#2ca25b" d="M664.9,1169.9l-.5-1.2l-1.4,24.4l.5,1.1z"/>
<path color="#664d20" d="M693.1,1170.2l1.9,.4l-1.9,24.3l-1.9-.4z"/>
<path color="#289653" d="M508.2,1174l-.7,1.3l1.5,24.4l.7-1.2z"/>
<path color="#654c20" d="M695,1170.6l1.9,.4l-1.9,24.3l-1.9-.4z"/>
<path color="#85883b" d="M619.3,1170.1l.8-1.1l-.5,24.3l-.8,1.1z"/>
<path color="#6c5222" d="M696.9,1171l2,.4l-2,24.4l-1.9-.5z"/>
<path color="#826d37" d="M556.7,1171.3l1,.9l.6,24.4l-.9-.9z"/>
<path color="#289551" d="M507.5,1175.3l1.9,.4l1.6,24.4l-2-.4z"/>
<path color="#705524" d="M698.9,1171.4l1.9,.4l-2.1,24.4l-1.8-.4z"/>
<path color="#299a56" d="M665.4,1171l-.5-1.1l-1.4,24.3l.5,1.2z"/>
<path color="#705624" d="M700.8,1171.8l1.9,.4l-2.1,24.4l-1.9-.4z"/>
<path color="#24894a" d="M509.4,1175.7l2,.3l1.5,24.5l-1.9-.4z"/>
<path color="#6a7c35" d="M618.4,1171.1l.9-1l-.5,24.3l-.9,1z"/>
<path color="#624b20" d="M702.7,1172.2l1.9,.5l-2.1,24.3l-1.9-.4z"/>
<path color="#7c753a" d="M557.7,1172.2l1.1,.8l.6,24.4l-1.1-.8z"/>
<path color="#705524" d="M704.6,1172.7l2,.4l-2.2,24.3l-1.9-.4z"/>
<path color="#299a53" d="M511.4,1176l1.9,.4l1.5,24.4l-1.9-.3z"/>
<path color="#775b27" d="M706.6,1173.1l1.9,.4l-2.2,24.3l-1.9-.4z"/>
<path color="#238349" d="M665.9,1172.2l-.5-1.2l-1.4,24.4l.5,1.2z"/>
<path color="#238447" d="M513.3,1176.4l1.9,.3l1.4,24.5l-1.8-.4z"/>
<path color="#618539" d="M617.3,1172l1.1-.9l-.5,24.3l-1,1z"/>
<path color="#606733" d="M558.8,1173l1.3,.8l.5,24.4l-1.2-.8z"/>
<path color="#217c42" d="M515.2,1176.7l1.8,.3l1.4,24.5l-1.8-.3z"/>
<path color="#677e3e" d="M560.1,1173.8l1.4,.6l.6,24.4l-1.5-.6z"/>
<path color="#67a746" d="M616.1,1172.8l1.2-.8l-.4,24.4l-1.3,.8z"/>
<path color="#238446" d="M517,1177l1.8,.3l1.4,24.5l-1.8-.3z"/>
<path color="#238147" d="M666.4,1173.4l-.5-1.2l-1.4,24.4l.5,1.2z"/>
<path color="#36a047" d="M585.9,1173.3l1.5-.1l.1,24.4l-1.5,.1z"/>
<path color="#37a54a" d="M584.4,1173.4l1.5-.1l.1,24.4l-1.5,.1z"/>
<path color="#297a36" d="M587.4,1173.2l1.5,.1l.1,24.4l-1.5-.1z"/>
<path color="#287a37" d="M582.8,1173.6l1.6-.2l.1,24.4l-1.5,.2z"/>
<path color="#349843" d="M588.9,1173.3l1.6,.1l0,24.4l-1.5-.1z"/>
<path color="#27964f" d="M518.8,1177.3l1.7,.3l1.4,24.5l-1.7-.3z"/>
<path color="#4b6a33" d="M561.5,1174.4l1.6,.4l.5,24.5l-1.5-.5z"/>
<path color="#2b833b" d="M581.2,1173.9l1.6-.3l.2,24.4l-1.6,.3z"/>
<path color="#38a448" d="M590.5,1173.4l1.5,.2l0,24.4l-1.5-.2z"/>
<path color="#2e8e40" d="M579.5,1174.2l1.7-.3l.2,24.4l-1.7,.3z"/>
<path color="#3c7431" d="M614.7,1173.6l1.4-.8l-.5,24.4l-1.3,.7z"/>
<path color="#32903f" d="M592,1173.6l1.6,.2l-.1,24.4l-1.5-.2z"/>
<path color="#248c49" d="M520.5,1177.6l1.8,.3l1.3,24.5l-1.7-.3z"/>
<path color="#257435" d="M577.8,1174.5l1.7-.3l.2,24.4l-1.7,.3z"/>
<path color="#4a7a3a" d="M563.1,1174.8l1.7,.4l.5,24.4l-1.7-.3z"/>
<path color="#308a3c" d="M593.6,1173.8l1.6,.3l0,24.4l-1.7-.3z"/>
<path color="#2d8d40" d="M576,1174.8l1.8-.3l.2,24.4l-1.8,.3z"/>
<path color="#279250" d="M666.9,1174.7l-.5-1.3l-1.4,24.4l.5,1.3z"/>
<path color="#1e743c" d="M522.3,1177.9l1.7,.2l1.2,24.5l-1.6-.2z"/>
<path color="#43833e" d="M564.8,1175.2l1.7,.2l.5,24.4l-1.7-.2z"/>
<path color="#309a47" d="M574.1,1175l1.9-.2l.2,24.4l-1.8,.3z"/>
<path color="#3a8a3a" d="M613.2,1174.2l1.5-.6l-.4,24.3l-1.5,.7z"/>
<path color="#328e3e" d="M595.2,1174.1l1.7,.3l-.1,24.4l-1.6-.3z"/>
<path color="#3e9345" d="M566.5,1175.4l1.9,0l.4,24.5l-1.8-.1z"/>
<path color="#267a38" d="M572.2,1175.3l1.9-.3l.3,24.5l-1.8,.2z"/>
<path color="#2a883f" d="M570.3,1175.4l1.9-.1l.4,24.4l-1.9,.1z"/>
<path color="#2c823c" d="M568.4,1175.4l1.9,0l.4,24.4l-1.9,.1z"/>
<path color="#1e753c" d="M524,1178.1l1.6,.3l1.2,24.5l-1.6-.3z"/>
<path color="#30863a" d="M596.9,1174.4l1.8,.3l-.1,24.4l-1.8-.3z"/>
<path color="#2f7d34" d="M611.6,1174.7l1.6-.5l-.4,24.4l-1.6,.5z"/>
<path color="#228343" d="M525.6,1178.4l1.6,.3l1.2,24.4l-1.6-.2z"/>
<path color="#268e4d" d="M664.8,1175.1l2.1-.4l-1.4,24.4l-2,.4z"/>
<path color="#3ba547" d="M598.7,1174.7l1.8,.2l-.2,24.5l-1.7-.3z"/>
<path color="#39983f" d="M609.8,1175l1.8-.3l-.4,24.4l-1.7,.3z"/>
<path color="#35933f" d="M600.5,1174.9l1.9,.3l-.2,24.4l-1.9-.2z"/>
<path color="#238744" d="M527.2,1178.7l1.6,.2l1.2,24.5l-1.6-.3z"/>
<path color="#bc9032" d="M525,1178.7l-1.7,.8l1.3,24.5l1.6-.8z"/>
<path color="#289752" d="M662.8,1175.5l2-.4l-1.3,24.4l-2,.4z"/>
<path color="#2f8237" d="M602.4,1175.2l1.8,.1l-.2,24.4l-1.8-.1z"/>
<path color="#2f8036" d="M608,1175.2l1.8-.2l-.3,24.4l-1.8,.2z"/>
<path color="#399d43" d="M604.2,1175.3l1.9,0l-.2,24.4l-1.9,0z"/>
<path color="#308237" d="M606.1,1175.3l1.9-.1l-.3,24.4l-1.8,.1z"/>
<path color="#207e3f" d="M528.8,1178.9l1.5,.2l1.2,24.5l-1.5-.2z"/>
<path color="#27934f" d="M660.9,1175.8l1.9-.3l-1.3,24.4l-1.9,.3z"/>
<path color="#b2862f" d="M523.3,1179.5l-1.7,.8l1.3,24.5l1.7-.8z"/>
<path color="#1d7038" d="M530.3,1179.1l1.5,.3l1.1,24.5l-1.4-.3z"/>
<path color="#217e43" d="M659,1176.2l1.9-.4l-1.3,24.4l-1.9,.4z"/>
<path color="#1c6f37" d="M531.8,1179.4l1.5,.2l1.1,24.5l-1.5-.2z"/>
<path color="#289751" d="M657.1,1176.5l1.9-.3l-1.3,24.4l-1.8,.3z"/>
<path color="#cc9734" d="M521.6,1180.3l-1.7,.8l1.3,24.5l1.7-.8z"/>
<path color="#1d7439" d="M533.3,1179.6l1.4,.2l1.1,24.6l-1.4-.3z"/>
<path color="#289750" d="M655.3,1176.8l1.8-.3l-1.2,24.4l-1.8,.3z"/>
<path color="#1e773b" d="M534.7,1179.8l1.4,.3l1,24.5l-1.3-.2z"/>
<path color="#248948" d="M653.5,1177.1l1.8-.3l-1.2,24.4l-1.8,.3z"/>
<path color="#b5842d" d="M519.9,1181.1l-1.7,.8l1.4,24.6l1.6-.9z"/>
<path color="#1d7038" d="M536.1,1180.1l1.3,.2l1.1,24.5l-1.4-.2z"/>
<path color="#1f773e" d="M651.7,1177.4l1.8-.3l-1.2,24.4l-1.7,.3z"/>
<path color="#1f783c" d="M537.4,1180.3l1.4,.3l1,24.5l-1.3-.3z"/>
<path color="#238545" d="M650,1177.7l1.7-.3l-1.1,24.4l-1.7,.3z"/>
<path color="#cd9332" d="M518.2,1181.9l-1.8,.8l1.5,24.6l1.7-.8z"/>
<path color="#207b3d" d="M538.8,1180.6l1.3,.2l.9,24.5l-1.2-.2z"/>
<path color="#1e743c" d="M648.3,1177.9l1.7-.2l-1.1,24.4l-1.6,.3z"/>
<path color="#207c3e" d="M540.1,1180.8l1.2,.3l1,24.5l-1.3-.3z"/>
<path color="#218041" d="M646.7,1178.2l1.6-.3l-1,24.5l-1.6,.2z"/>
<path color="#be852e" d="M516.4,1182.7l-1.7,.9l1.5,24.5l1.7-.8z"/>
<path color="#238744" d="M541.3,1181.1l1.2,.2l1,24.6l-1.2-.3z"/>
<path color="#1e733a" d="M645.1,1178.5l1.6-.3l-1,24.4l-1.6,.3z"/>
<path color="#705825" d="M648.9,1178.2l1.6,.8l-1.1,24.5l-1.6-.8z"/>
<path color="#238744" d="M542.5,1181.3l1.2,.3l.9,24.5l-1.1-.2z"/>
<path color="#248b46" d="M643.5,1178.7l1.6-.2l-1,24.4l-1.5,.3z"/>
<path color="#d79432" d="M514.7,1183.6l-1.7,.8l1.5,24.5l1.7-.8z"/>
<path color="#1c6d36" d="M642,1179l1.5-.3l-.9,24.5l-1.5,.2z"/>
<path color="#258c46" d="M543.7,1181.6l1.2,.3l.9,24.5l-1.2-.3z"/>
<path color="#207f3f" d="M640.5,1179.2l1.5-.2l-.9,24.4l-1.5,.3z"/>
<path color="#27964b" d="M544.9,1181.9l1.1,.3l.9,24.5l-1.1-.3z"/>
<path color="#755b26" d="M650.5,1179l1.5,.8l-1.1,24.5l-1.5-.8z"/>
<path color="#1d7339" d="M639.1,1179.5l1.4-.3l-.9,24.5l-1.4,.2z"/>
<path color="#b47a29" d="M513,1184.4l-1.7,.8l1.5,24.6l1.7-.9z"/>
<path color="#21803f" d="M637.6,1179.7l1.5-.2l-.9,24.4l-1.4,.3z"/>
<path color="#1f783c" d="M546,1182.2l1.2,.3l.8,24.5l-1.1-.3z"/>
<path color="#238a44" d="M636.2,1179.9l1.4-.2l-.8,24.5l-1.4,.2z"/>
<path color="#258b47" d="M547.2,1182.5l1,.3l.9,24.5l-1.1-.3z"/>
<path color="#806429" d="M652,1179.8l1.6,.8l-1.2,24.5l-1.5-.8z"/>
<path color="#cf8b2f" d="M511.3,1185.2l-1.7,.8l1.5,24.6l1.7-.8z"/>
<path color="#238844" d="M634.9,1180.2l1.3-.3l-.8,24.5l-1.3,.3z"/>
<path color="#1e7239" d="M633.6,1180.5l1.3-.3l-.8,24.5l-1.3,.2z"/>
<path color="#227f41" d="M548.2,1182.8l1.1,.3l.8,24.6l-1-.4z"/>
<path color="#238643" d="M632.3,1180.7l1.3-.2l-.8,24.4l-1.3,.3z"/>
<path color="#d78f31" d="M509.6,1186l-1.8,.8l1.6,24.6l1.7-.8z"/>
<path color="#299b4f" d="M549.3,1183.1l1.1,.4l.7,24.5l-1-.3z"/>
<path color="#6d5523" d="M653.6,1180.6l1.6,.8l-1.2,24.5l-1.6-.8z"/>
<path color="#1f763b" d="M631,1181l1.3-.3l-.8,24.5l-1.2,.3z"/>
<path color="#238744" d="M629.8,1181.3l1.2-.3l-.7,24.5l-1.2,.3z"/>
<path color="#248745" d="M550.4,1183.5l1,.3l.7,24.6l-1-.4z"/>
<path color="#d08930" d="M507.8,1186.8l-1.7,.9l1.6,24.6l1.7-.9z"/>
<path color="#217f40" d="M628.6,1181.6l1.2-.3l-.7,24.5l-1.2,.3z"/>
<path color="#806329" d="M655.2,1181.4l1.6,.8l-1.3,24.5l-1.5-.8z"/>
<path color="#258a47" d="M551.4,1183.8l1,.4l.7,24.6l-1-.4z"/>
<path color="#27954b" d="M627.4,1181.9l1.2-.3l-.7,24.5l-1.2,.3z"/>
<path color="#217e40" d="M626.2,1182.2l1.2-.3l-.7,24.5l-1.1,.3z"/>
<path color="#cc852f" d="M506.1,1187.7l-1.8,.8l1.7,24.6l1.7-.8z"/>
<path color="#27924b" d="M552.4,1184.2l1,.4l.7,24.6l-1-.4z"/>
<path color="#28984d" d="M625.1,1182.5l1.1-.3l-.6,24.5l-1.1,.3z"/>
<path color="#7b5f27" d="M656.8,1182.2l1.6,.8l-1.3,24.5l-1.6-.8z"/>
<path color="#248544" d="M553.4,1184.6l1,.4l.7,24.6l-1-.4z"/>
<path color="#238242" d="M624,1182.8l1.1-.3l-.6,24.5l-1.1,.3z"/>
<path color="#d28730" d="M504.3,1188.5l-1.7,.8l1.7,24.6l1.7-.8z"/>
<path color="#258c47" d="M622.9,1183.2l1.1-.4l-.6,24.5l-1.1,.4z"/>
<path color="#2ca354" d="M554.4,1185l1,.5l.6,24.5l-.9-.4z"/>
<path color="#775c26" d="M658.4,1183l1.5,.8l-1.3,24.5l-1.5-.8z"/>
<path color="#bc782b" d="M502.6,1189.3l-1.8,.8l1.8,24.7l1.7-.9z"/>
<path color="#238343" d="M621.8,1183.6l1.1-.4l-.6,24.5l-1.1,.4z"/>
<path color="#2a9d51" d="M555.4,1185.5l.9,.4l.7,24.6l-1-.5z"/>
<path color="#217d40" d="M620.7,1184l1.1-.4l-.6,24.5l-1,.4z"/>
<path color="#7d6027" d="M659.9,1183.8l1.6,.8l-1.3,24.5l-1.6-.8z"/>
<path color="#b9752a" d="M500.8,1190.1l-1.7,.9l1.8,24.6l1.7-.8z"/>
<path color="#248444" d="M556.3,1185.9l1,.5l.6,24.6l-.9-.5z"/>
<path color="#228042" d="M619.7,1184.4l1-.4l-.5,24.5l-1,.4z"/>
<path color="#238142" d="M618.6,1184.8l1.1-.4l-.5,24.5l-1.1,.4z"/>
<path color="#29974e" d="M557.3,1186.4l.9,.5l.7,24.6l-1-.5z"/>
<path color="#cf842f" d="M499.1,1191l-1.8,.8l1.9,24.7l1.7-.9z"/>
<path color="#785c25" d="M661.5,1184.6l1.6,.8l-1.3,24.5l-1.6-.8z"/>
<path color="#2a9d51" d="M617.6,1185.2l1-.4l-.5,24.5l-1,.5z"/>
<path color="#29994f" d="M558.2,1186.9l1,.5l.6,24.6l-.9-.5z"/>
<path color="#ca832e" d="M497.3,1191.8l-1.7,.8l1.8,24.7l1.8-.8z"/>
<path color="#2a9d51" d="M616.6,1185.7l1-.5l-.5,24.6l-1,.4z"/>
<path color="#664e20" d="M663.1,1185.4l1.6,.8l-1.4,24.5l-1.5-.8z"/>
<path color="#2ca354" d="M559.2,1187.4l1,.5l.6,24.6l-1-.5z"/>
<path color="#268c48" d="M615.5,1186.2l1.1-.5l-.5,24.5l-1,.5z"/>
<path color="#c4802c" d="M495.6,1192.6l-1.8,.9l1.9,24.7l1.7-.9z"/>
<path color="#674f20" d="M664.7,1186.2l1.6,.8l-1.4,24.6l-1.6-.9z"/>
<path color="#2b9f52" d="M560.2,1187.9l.9,.6l.6,24.6l-.9-.6z"/>
<path color="#258746" d="M614.5,1186.7l1-.5l-.4,24.5l-1,.5z"/>
<path color="#b37728" d="M493.8,1193.5l-1.7,.8l1.9,24.7l1.7-.8z"/>
<path color="#248645" d="M613.5,1187.2l1-.5l-.4,24.5l-1.1,.6z"/>
<path color="#278d4e" d="M561.1,1188.5l1,.6l.6,24.6l-1-.6z"/>
<path color="#705522" d="M666.3,1187l1.6,.8l-1.4,24.6l-1.6-.8z"/>
<path color="#b67a29" d="M492.1,1194.3l-1.8,.9l1.9,24.7l1.8-.9z"/>
<path color="#258947" d="M612.4,1187.7l1.1-.5l-.5,24.6l-1,.5z"/>
<path color="#2da163" d="M562.1,1189.1l1,.6l.5,24.6l-.9-.6z"/>
<path color="#60491d" d="M667.9,1187.8l1.6,.8l-1.5,24.6l-1.5-.8z"/>
<path color="#b17828" d="M490.3,1195.2l-1.8,.8l2,24.7l1.7-.8z"/>
<path color="#2ca354" d="M611.4,1188.3l1-.6l-.4,24.6l-1,.6z"/>
<path color="#27865c" d="M563.1,1189.7l1,.6l.5,24.6l-1-.6z"/>
<path color="#289150" d="M610.3,1188.9l1.1-.6l-.4,24.6l-1,.6z"/>
<path color="#6d5221" d="M669.5,1188.6l1.6,.9l-1.5,24.5l-1.6-.8z"/>
<path color="#bd812a" d="M488.5,1196l-1.8,.8l2.1,24.8l1.7-.9z"/>
<path color="#2a8e6c" d="M564.1,1190.3l1,.6l.5,24.7l-1-.7z"/>
<path color="#299059" d="M609.2,1189.5l1.1-.6l-.3,24.6l-1.1,.6z"/>
<path color="#ce8e2e" d="M486.7,1196.8l-1.8,.9l2.1,24.7l1.8-.8z"/>
<path color="#624a1e" d="M671.1,1189.5l1.6,.8l-1.5,24.5l-1.6-.8z"/>
<path color="#2a8973" d="M565.1,1190.9l1,.7l.5,24.6l-1-.6z"/>
<path color="#2a9063" d="M608.2,1190.1l1-.6l-.3,24.6l-1.1,.6z"/>
<path color="#d89730" d="M484.9,1197.7l-1.7,.8l2.1,24.8l1.7-.9z"/>
<path color="#755924" d="M672.7,1190.3l1.7,.8l-1.6,24.6l-1.6-.9z"/>
<path color="#268162" d="M607.1,1190.8l1.1-.7l-.4,24.6l-1,.7z"/>
<path color="#2f978b" d="M566.1,1191.6l1,.7l.5,24.6l-1-.7z"/>
<path color="#654d1f" d="M674.4,1191.1l1.6,.8l-1.6,24.6l-1.6-.8z"/>
<path color="#2b8d76" d="M605.9,1191.4l1.2-.6l-.3,24.6l-1.1,.6z"/>
<path color="#267677" d="M567.1,1192.3l1.1,.7l.4,24.6l-1-.7z"/>
<path color="#785b26" d="M676,1191.9l1.6,.8l-1.7,24.6l-1.5-.8z"/>
<path color="#298278" d="M604.8,1192.1l1.1-.7l-.2,24.6l-1.2,.7z"/>
<path color="#26737e" d="M568.2,1193l1.1,.7l.4,24.7l-1.1-.8z"/>
<path color="#2d8e8f" d="M603.6,1192.8l1.2-.7l-.3,24.6l-1.1,.8z"/>
<path color="#745825" d="M677.6,1192.7l1.6,.8l-1.7,24.6l-1.6-.8z"/>
<path color="#277288" d="M569.3,1193.7l1.1,.8l.4,24.6l-1.1-.7z"/>
<path color="#2a808d" d="M602.4,1193.6l1.2-.8l-.2,24.7l-1.2,.7z"/>
<path color="#6b5122" d="M679.2,1193.5l1.6,.9l-1.7,24.6l-1.6-.9z"/>
<path color="#2e85ac" d="M570.4,1194.5l1.1,.7l.4,24.7l-1.1-.8z"/>
<path color="#277389" d="M601.2,1194.3l1.2-.7l-.2,24.6l-1.2,.8z"/>
<path color="#664e21" d="M680.8,1194.4l1.7,.8l-1.8,24.6l-1.6-.8z"/>
<path color="#266a94" d="M571.5,1195.2l1.2,.8l.4,24.7l-1.2-.8z"/>
<path color="#2f86ad" d="M599.9,1195.1l1.3-.8l-.2,24.7l-1.2,.8z"/>
<path color="#6a5122" d="M682.5,1195.2l1.6,.8l-1.8,24.6l-1.6-.8z"/>
<path color="#735b26" d="M571.3,1195.7l-.5,1.3l.4,24.7l.5-1.3z"/>
<path color="#2d79b7" d="M572.7,1196l1.2,.8l.3,24.7l-1.1-.8z"/>
<path color="#2d7eb0" d="M598.7,1195.9l1.2-.8l-.1,24.7l-1.3,.8z"/>
<path color="#6f5524" d="M684.1,1196l1.6,.8l-1.8,24.7l-1.6-.9z"/>
<path color="#dda83b" d="M600.1,1195.6l.2,1.2l-.1,24.7l-.3-1.3z"/>
<path color="#2a71ab" d="M597.3,1196.7l1.4-.8l-.2,24.7l-1.3,.8z"/>
<path color="#2d74bb" d="M573.9,1196.8l1.2,.8l.4,24.7l-1.3-.8z"/>
<path color="#685022" d="M685.7,1196.8l1.7,.9l-1.9,24.6l-1.6-.8z"/>
<path color="#81652a" d="M570.8,1197l-.4,1.2l.4,24.8l.4-1.3z"/>
<path color="#2d75bd" d="M596,1197.5l1.3-.8l-.1,24.7l-1.3,.8z"/>
<path color="#265c9b" d="M575.1,1197.6l1.3,.9l.3,24.7l-1.2-.9z"/>
<path color="#daa439" d="M600.3,1196.8l.3,1.3l-.1,24.7l-.3-1.3z"/>
<path color="#725925" d="M570.4,1198.2l-.5,1.3l.4,24.8l.5-1.3z"/>
<path color="#2c6bb4" d="M594.5,1198.4l1.5-.9l-.1,24.7l-1.4,.9z"/>
<path color="#27589c" d="M576.4,1198.5l1.3,.8l.3,24.7l-1.3-.8z"/>
<path color="#295ca4" d="M593.1,1199.2l1.4-.8l0,24.7l-1.4,.8z"/>
<path color="#cc9734" d="M600.6,1198.1l.3,1.3l-.2,24.7l-.2-1.3z"/>
<path color="#28549e" d="M577.7,1199.3l1.4,.9l.3,24.7l-1.4-.9z"/>
<path color="#7d6228" d="M569.9,1199.5l-.5,1.3l.4,24.8l.5-1.3z"/>
<path color="#2c5cae" d="M591.6,1200.1l1.5-.9l0,24.7l-1.5,.9z"/>
<path color="#264993" d="M579.1,1200.2l1.4,.9l.2,24.7l-1.3-.9z"/>
<path color="#db9f37" d="M600.9,1199.4l.3,1.3l-.2,24.7l-.3-1.3z"/>
<path color="#254890" d="M590,1201l1.6-.9l0,24.7l-1.5,.9z"/>
<path color="#765b26" d="M569.4,1200.8l-.5,1.3l.4,24.8l.5-1.3z"/>
<path color="#2b4ca4" d="M580.5,1201.1l1.5,.9l.2,24.7l-1.5-.9z"/>
<path color="#25428e" d="M588.4,1201.9l1.6-.9l.1,24.7l-1.6,1z"/>
<path color="#bf882f" d="M601.2,1200.7l.3,1.3l-.2,24.7l-.3-1.3z"/>
<path color="#6c5322" d="M568.9,1202.1l-.5,1.3l.4,24.8l.5-1.3z"/>
<path color="#263e91" d="M582,1202l1.5,.9l.2,24.7l-1.5-.9z"/>
<path color="#2c47a6" d="M586.8,1202.9l1.6-1l.1,24.8l-1.6,.9z"/>
<path color="#b7802c" d="M601.5,1202l.3,1.3l-.2,24.7l-.3-1.3z"/>
<path color="#26388d" d="M583.5,1202.9l1.6,.9l.1,24.8l-1.5-1z"/>
<path color="#674f20" d="M568.4,1203.4l-.5,1.3l.5,24.8l.4-1.3z"/>
<path color="#293c98" d="M585.1,1203.8l1.7-.9l.1,24.7l-1.7,1z"/>
<path color="#d99633" d="M601.8,1203.3l.3,1.3l-.2,24.8l-.3-1.4z"/>
<path color="#644d1f" d="M567.9,1204.7l-.5,1.4l.5,24.7l.5-1.3z"/>
<path color="#c4852d" d="M602.1,1204.6l.3,1.3l-.2,24.8l-.3-1.3z"/>
<path color="#735824" d="M567.4,1206.1l-.5,1.3l.5,24.8l.5-1.4z"/>
<path color="#c5842d" d="M602.4,1205.9l.3,1.3l-.2,24.8l-.3-1.3z"/>
<path color="#735723" d="M566.9,1207.4l-.5,1.3l.5,24.8l.5-1.3z"/>
<path color="#c1802c" d="M602.7,1207.2l.3,1.3l-.3,24.8l-.2-1.3z"/>
<path color="#725723" d="M566.4,1208.7l-.5,1.3l.5,24.8l.5-1.3z"/>
<path color="#ba7b2b" d="M603,1208.5l.3,1.3l-.3,24.9l-.3-1.4z"/>
<path color="#725623" d="M565.9,1210l-.5,1.3l.5,24.9l.5-1.4z"/>
<path color="#b47529" d="M603.3,1209.8l.3,1.4l-.3,24.8l-.3-1.3z"/>
<path color="#5f481d" d="M565.4,1211.3l-.5,1.4l.5,24.8l.5-1.3z"/>
<path color="#c07c2c" d="M603.6,1211.2l.3,1.3l-.3,24.8l-.3-1.3z"/>
<path color="#664d1f" d="M564.9,1212.7l-.5,1.3l.5,24.9l.5-1.4z"/>
<path color="#715623" d="M564.4,1214l-.5,1.4l.5,24.8l.5-1.3z"/>
<path color="#b27129" d="M603.9,1212.5l.3,1.3l-.3,24.9l-.3-1.4z"/>
<path color="#674e20" d="M563.9,1215.4l-.5,1.3l.5,24.9l.5-1.4z"/>
<path color="#a46825" d="M604.2,1213.8l.3,1.4l-.3,24.8l-.3-1.3z"/>
<path color="#6b5121" d="M563.4,1216.7l-.6,1.3l.6,25l.5-1.4z"/>
<path color="#c47d2d" d="M604.5,1215.2l.3,1.3l-.3,24.9l-.3-1.4z"/>
<path color="#644c1f" d="M562.8,1218l-.5,1.4l.6,24.9l.5-1.3z"/>
<path color="#af7128" d="M604.8,1216.5l.3,1.4l-.3,24.8l-.3-1.3z"/>
<path color="#684f21" d="M562.3,1219.4l-.5,1.4l.6,24.9l.5-1.4z"/>
<path color="#b27428" d="M605.1,1217.9l.3,1.3l-.3,24.9l-.3-1.4z"/>
<path color="#6b5222" d="M561.8,1220.8l-.5,1.3l.6,25l.5-1.4z"/>
<path color="#cd882e" d="M605.4,1219.2l.3,1.4l-.3,24.9l-.3-1.4z"/>
<path color="#6e5323" d="M561.3,1222.1l-.5,1.4l.6,25l.5-1.4z"/>
<path color="#b37828" d="M605.7,1220.6l.3,1.3l-.3,25l-.3-1.4z"/>
<path color="#684f21" d="M560.8,1223.5l-.6,1.4l.7,25l.5-1.4z"/>
<path color="#be812a" d="M606,1221.9l.3,1.4l-.3,24.9l-.3-1.3z"/>
<path color="#684f22" d="M560.2,1224.9l-.5,1.3l.7,25l.5-1.3z"/>
<path color="#df9932" d="M606.3,1223.3l.3,1.3l-.3,25l-.3-1.4z"/>
<path color="#735725" d="M559.7,1226.2l-.5,1.4l.6,25l.6-1.4z"/>
<path color="#e49e33" d="M606.6,1224.6l.3,1.4l-.3,25l-.3-1.4z"/>
<path color="#e6a133" d="M606.9,1226l.3,1.4l-.3,25l-.3-1.4z"/>
</g>
<path d="M506.63,1225.88 L659.86,1225.14 M450.17,1148.58 L506.63,1225.88 M727.75,1147.72 L659.86,1225.14 M508.33,1250.9 L658.5,1250.09 M452.74,1172.73 L508.33,1250.9 M725.29,1171.73 L658.5,1250.09 M450.17,1148.58 L452.74,1172.73 M727.75,1147.72 L725.29,1171.73 M506.63,1225.88 L508.33,1250.9 M659.86,1225.14 L658.5,1250.09" fill="none" stroke="#000" stroke-width="2.4" stroke-linecap="round"/>
<path d="M590,1159 L510.5,1239 L590,1239 Z" fill="none" stroke="#e8202a" stroke-width="3.2" stroke-dasharray="2.6,2.6"/>
<text x="503.5" y="1262" font-size="22" font-weight="bold" font-style="normal" fill="#e8202a" text-anchor="middle" >K</text>
<text x="586.5" y="1262" font-size="22" font-weight="bold" font-style="normal" fill="#e8202a" text-anchor="middle" >M</text>
<text x="575.5" y="1157" font-size="22.5" font-weight="bold" font-style="normal" fill="#e8202a" text-anchor="middle" >&#915;</text>
<rect x="506.7" y="1287.2" width="175.8" height="9.1" fill="url(#cbar)"/>
<text x="495.2" y="1314.5" font-size="22" font-weight="bold" font-style="normal" fill="#000" text-anchor="start" >min</text>
<text x="706" y="1314.5" font-size="22" font-weight="bold" font-style="normal" fill="#000" text-anchor="end" >max</text>
</svg></body></html>
